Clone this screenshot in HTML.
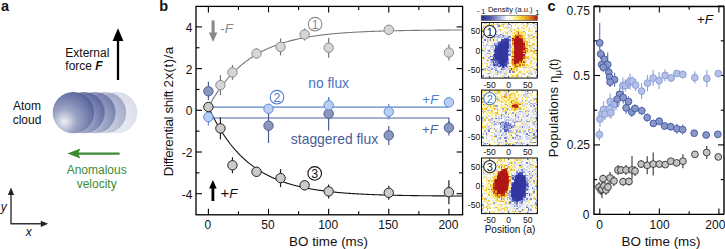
<!DOCTYPE html>
<html><head><meta charset="utf-8"><style>
html,body{margin:0;padding:0;background:#fff;width:725px;height:249px;overflow:hidden;position:relative;font-family:"Liberation Sans", sans-serif;}
</style></head><body>
<svg width="725" height="249" viewBox="0 0 725 249" style="position:absolute;left:0;top:0"><defs><radialGradient id="sph" cx="0.3" cy="0.7" r="0.85" fx="0.28" fy="0.72">
<stop offset="0" stop-color="#f0f0f4"/><stop offset="0.35" stop-color="#9ca4c6"/><stop offset="0.75" stop-color="#6b77a9"/><stop offset="1" stop-color="#4a568c"/></radialGradient><linearGradient id="cbar" x1="0" x2="1" y1="0" y2="0">
<stop offset="0" stop-color="#2a2f8a"/><stop offset="0.15" stop-color="#4a55aa"/><stop offset="0.33" stop-color="#a8b0e0"/><stop offset="0.47" stop-color="#ffffff"/><stop offset="0.55" stop-color="#fff9d0"/><stop offset="0.7" stop-color="#f2d830"/><stop offset="0.85" stop-color="#e08a20"/><stop offset="1" stop-color="#a81810"/></linearGradient></defs><text x="1.00" y="10.80" font-family='"Liberation Sans", sans-serif' font-size="14.5" text-anchor="start" fill="#111" font-weight="bold" font-style="normal" >a</text><text x="159.20" y="10.60" font-family='"Liberation Sans", sans-serif' font-size="14.5" text-anchor="start" fill="#111" font-weight="bold" font-style="normal" >b</text><text x="547.60" y="10.80" font-family='"Liberation Sans", sans-serif' font-size="14.5" text-anchor="start" fill="#111" font-weight="bold" font-style="normal" >c</text><text x="65.30" y="56.60" font-family='"Liberation Sans", sans-serif' font-size="12" text-anchor="start" fill="#111" font-weight="normal" font-style="normal" >External</text><text x="65.30" y="69.60" font-family='"Liberation Sans", sans-serif' font-size="12" text-anchor="start" fill="#111" font-weight="normal" font-style="normal" >force <tspan font-weight="bold" font-style="italic">F</tspan></text><line x1="118" y1="80" x2="118" y2="38" stroke="#000" stroke-width="2.3"/><polygon points="118,28.2 112.6,41 123.4,41" fill="#000"/><text x="27.00" y="109.90" font-family='"Liberation Sans", sans-serif' font-size="12" text-anchor="middle" fill="#111" font-weight="normal" font-style="normal" >Atom</text><text x="27.00" y="124.30" font-family='"Liberation Sans", sans-serif' font-size="12" text-anchor="middle" fill="#111" font-weight="normal" font-style="normal" >cloud</text><circle cx="116.6" cy="112.6" r="20.7" fill="url(#sph)" opacity="0.22"/><circle cx="105.5" cy="112.6" r="20.7" fill="url(#sph)" opacity="0.45"/><circle cx="94.9" cy="112.6" r="20.7" fill="url(#sph)" opacity="0.7"/><circle cx="84.0" cy="112.6" r="20.7" fill="url(#sph)" opacity="0.9"/><circle cx="73.4" cy="112.6" r="20.7" fill="url(#sph)"/><line x1="119.6" y1="153.6" x2="78" y2="153.6" stroke="#3d8a32" stroke-width="2.4"/><polygon points="67.5,153.6 80.3,148.6 78.2,153.6 80.3,158.6" fill="#3d8a32"/><text x="96.70" y="174.00" font-family='"Liberation Sans", sans-serif' font-size="12" text-anchor="middle" fill="#3d8a32" font-weight="normal" font-style="normal" >Anomalous</text><text x="96.70" y="187.60" font-family='"Liberation Sans", sans-serif' font-size="12" text-anchor="middle" fill="#3d8a32" font-weight="normal" font-style="normal" >velocity</text><polyline points="11,194 11,223.8 41.5,223.8" fill="none" stroke="#333" stroke-width="1.4"/><polygon points="11,187.6 7.9,195 14.1,195" fill="#222"/><polygon points="48.2,223.8 40.8,220.7 40.8,226.9" fill="#222"/><text x="0.80" y="211.20" font-family='"Liberation Sans", sans-serif' font-size="12" text-anchor="start" fill="#111" font-weight="normal" font-style="italic" >y</text><text x="25.80" y="236.40" font-family='"Liberation Sans", sans-serif' font-size="12" text-anchor="start" fill="#111" font-weight="normal" font-style="italic" >x</text><line x1="208.40" y1="214.8" x2="208.40" y2="208.8" stroke="#000" stroke-width="1.1"/><line x1="208.40" y1="6.4" x2="208.40" y2="12.4" stroke="#000" stroke-width="1.1"/><line x1="238.46" y1="214.8" x2="238.46" y2="211.3" stroke="#000" stroke-width="1.1"/><line x1="238.46" y1="6.4" x2="238.46" y2="9.9" stroke="#000" stroke-width="1.1"/><line x1="268.52" y1="214.8" x2="268.52" y2="208.8" stroke="#000" stroke-width="1.1"/><line x1="268.52" y1="6.4" x2="268.52" y2="12.4" stroke="#000" stroke-width="1.1"/><line x1="298.59" y1="214.8" x2="298.59" y2="211.3" stroke="#000" stroke-width="1.1"/><line x1="298.59" y1="6.4" x2="298.59" y2="9.9" stroke="#000" stroke-width="1.1"/><line x1="328.65" y1="214.8" x2="328.65" y2="208.8" stroke="#000" stroke-width="1.1"/><line x1="328.65" y1="6.4" x2="328.65" y2="12.4" stroke="#000" stroke-width="1.1"/><line x1="358.71" y1="214.8" x2="358.71" y2="211.3" stroke="#000" stroke-width="1.1"/><line x1="358.71" y1="6.4" x2="358.71" y2="9.9" stroke="#000" stroke-width="1.1"/><line x1="388.77" y1="214.8" x2="388.77" y2="208.8" stroke="#000" stroke-width="1.1"/><line x1="388.77" y1="6.4" x2="388.77" y2="12.4" stroke="#000" stroke-width="1.1"/><line x1="418.84" y1="214.8" x2="418.84" y2="211.3" stroke="#000" stroke-width="1.1"/><line x1="418.84" y1="6.4" x2="418.84" y2="9.9" stroke="#000" stroke-width="1.1"/><line x1="448.90" y1="214.8" x2="448.90" y2="208.8" stroke="#000" stroke-width="1.1"/><line x1="448.90" y1="6.4" x2="448.90" y2="12.4" stroke="#000" stroke-width="1.1"/><line x1="196.0" y1="193.70" x2="202.0" y2="193.70" stroke="#000" stroke-width="1.1"/><line x1="462.6" y1="193.70" x2="456.6" y2="193.70" stroke="#000" stroke-width="1.1"/><line x1="196.0" y1="172.85" x2="199.5" y2="172.85" stroke="#000" stroke-width="1.1"/><line x1="462.6" y1="172.85" x2="459.1" y2="172.85" stroke="#000" stroke-width="1.1"/><line x1="196.0" y1="152.00" x2="202.0" y2="152.00" stroke="#000" stroke-width="1.1"/><line x1="462.6" y1="152.00" x2="456.6" y2="152.00" stroke="#000" stroke-width="1.1"/><line x1="196.0" y1="131.15" x2="199.5" y2="131.15" stroke="#000" stroke-width="1.1"/><line x1="462.6" y1="131.15" x2="459.1" y2="131.15" stroke="#000" stroke-width="1.1"/><line x1="196.0" y1="110.30" x2="202.0" y2="110.30" stroke="#000" stroke-width="1.1"/><line x1="462.6" y1="110.30" x2="456.6" y2="110.30" stroke="#000" stroke-width="1.1"/><line x1="196.0" y1="89.45" x2="199.5" y2="89.45" stroke="#000" stroke-width="1.1"/><line x1="462.6" y1="89.45" x2="459.1" y2="89.45" stroke="#000" stroke-width="1.1"/><line x1="196.0" y1="68.60" x2="202.0" y2="68.60" stroke="#000" stroke-width="1.1"/><line x1="462.6" y1="68.60" x2="456.6" y2="68.60" stroke="#000" stroke-width="1.1"/><line x1="196.0" y1="47.75" x2="199.5" y2="47.75" stroke="#000" stroke-width="1.1"/><line x1="462.6" y1="47.75" x2="459.1" y2="47.75" stroke="#000" stroke-width="1.1"/><line x1="196.0" y1="26.90" x2="202.0" y2="26.90" stroke="#000" stroke-width="1.1"/><line x1="462.6" y1="26.90" x2="456.6" y2="26.90" stroke="#000" stroke-width="1.1"/><text x="207.90" y="229.20" font-family='"Liberation Sans", sans-serif' font-size="12" text-anchor="middle" fill="#111" font-weight="normal" font-style="normal" >0</text><text x="268.02" y="229.20" font-family='"Liberation Sans", sans-serif' font-size="12" text-anchor="middle" fill="#111" font-weight="normal" font-style="normal" >50</text><text x="328.15" y="229.20" font-family='"Liberation Sans", sans-serif' font-size="12" text-anchor="middle" fill="#111" font-weight="normal" font-style="normal" >100</text><text x="388.27" y="229.20" font-family='"Liberation Sans", sans-serif' font-size="12" text-anchor="middle" fill="#111" font-weight="normal" font-style="normal" >150</text><text x="448.40" y="229.20" font-family='"Liberation Sans", sans-serif' font-size="12" text-anchor="middle" fill="#111" font-weight="normal" font-style="normal" >200</text><text x="192.50" y="31.90" font-family='"Liberation Sans", sans-serif' font-size="12" text-anchor="end" fill="#111" font-weight="normal" font-style="normal" >4</text><text x="192.50" y="73.60" font-family='"Liberation Sans", sans-serif' font-size="12" text-anchor="end" fill="#111" font-weight="normal" font-style="normal" >2</text><text x="192.50" y="115.30" font-family='"Liberation Sans", sans-serif' font-size="12" text-anchor="end" fill="#111" font-weight="normal" font-style="normal" >0</text><text x="192.50" y="157.00" font-family='"Liberation Sans", sans-serif' font-size="12" text-anchor="end" fill="#111" font-weight="normal" font-style="normal" >-2</text><text x="192.50" y="198.70" font-family='"Liberation Sans", sans-serif' font-size="12" text-anchor="end" fill="#111" font-weight="normal" font-style="normal" >-4</text><text x="328.50" y="245.80" font-family='"Liberation Sans", sans-serif' font-size="13.4" text-anchor="middle" fill="#111" font-weight="normal" font-style="normal" >BO time (ms)</text><text transform="translate(173.0,111.3) rotate(-90)" font-family='"Liberation Sans", sans-serif' font-size="13.4" text-anchor="middle" fill="#111"><tspan letter-spacing="-0.37">Differential shift </tspan><tspan letter-spacing="0.45">2x(t)/a</tspan></text><polyline points="208.40,106.96 209.40,105.16 210.39,103.39 211.39,101.67 212.39,99.99 213.38,98.35 214.38,96.74 215.38,95.18 216.37,93.65 217.37,92.15 218.37,90.69 219.37,89.27 220.36,87.88 221.36,86.52 222.36,85.19 223.35,83.90 224.35,82.63 225.35,81.39 226.34,80.19 227.34,79.01 228.34,77.86 229.33,76.73 230.33,75.63 231.33,74.56 232.32,73.51 233.32,72.49 234.32,71.49 235.32,70.52 236.31,69.56 237.31,68.63 238.31,67.73 239.30,66.84 240.30,65.97 241.30,65.13 242.29,64.30 243.29,63.49 244.29,62.70 245.28,61.93 246.28,61.18 247.28,60.45 248.27,59.73 249.27,59.03 250.27,58.35 251.27,57.68 252.26,57.03 253.26,56.39 254.26,55.77 255.25,55.16 256.25,54.57 257.25,53.99 258.24,53.42 259.24,52.87 260.24,52.33 261.23,51.80 262.23,51.29 263.23,50.79 264.22,50.30 265.22,49.82 266.22,49.35 267.21,48.89 268.21,48.44 269.21,48.01 270.21,47.58 271.20,47.17 272.20,46.76 273.20,46.36 274.19,45.98 275.19,45.60 276.19,45.23 277.18,44.87 278.18,44.52 279.18,44.17 280.17,43.84 281.17,43.51 282.17,43.19 283.16,42.88 284.16,42.57 285.16,42.27 286.16,41.98 287.15,41.70 288.15,41.42 289.15,41.15 290.14,40.88 291.14,40.62 292.14,40.37 293.13,40.12 294.13,39.88 295.13,39.65 296.12,39.42 297.12,39.19 298.12,38.97 299.11,38.76 300.11,38.55 301.11,38.34 302.11,38.14 303.10,37.95 304.10,37.76 305.10,37.57 306.09,37.39 307.09,37.21 308.09,37.04 309.08,36.87 310.08,36.71 311.08,36.55 312.07,36.39 313.07,36.23 314.07,36.08 315.06,35.94 316.06,35.79 317.06,35.65 318.05,35.52 319.05,35.38 320.05,35.25 321.05,35.13 322.04,35.00 323.04,34.88 324.04,34.76 325.03,34.65 326.03,34.53 327.03,34.42 328.02,34.32 329.02,34.21 330.02,34.11 331.01,34.01 332.01,33.91 333.01,33.81 334.00,33.72 335.00,33.63 336.00,33.54 337.00,33.45 337.99,33.37 338.99,33.28 339.99,33.20 340.98,33.12 341.98,33.05 342.98,32.97 343.97,32.90 344.97,32.83 345.97,32.76 346.96,32.69 347.96,32.62 348.96,32.55 349.95,32.49 350.95,32.43 351.95,32.37 352.95,32.31 353.94,32.25 354.94,32.19 355.94,32.14 356.93,32.08 357.93,32.03 358.93,31.98 359.92,31.93 360.92,31.88 361.92,31.83 362.91,31.78 363.91,31.74 364.91,31.69 365.90,31.65 366.90,31.60 367.90,31.56 368.89,31.52 369.89,31.48 370.89,31.44 371.89,31.41 372.88,31.37 373.88,31.33 374.88,31.30 375.87,31.26 376.87,31.23 377.87,31.19 378.86,31.16 379.86,31.13 380.86,31.10 381.85,31.07 382.85,31.04 383.85,31.01 384.84,30.98 385.84,30.96 386.84,30.93 387.84,30.90 388.83,30.88 389.83,30.85 390.83,30.83 391.82,30.81 392.82,30.78 393.82,30.76 394.81,30.74 395.81,30.72 396.81,30.70 397.80,30.68 398.80,30.66 399.80,30.64 400.79,30.62 401.79,30.60 402.79,30.58 403.79,30.56 404.78,30.54 405.78,30.53 406.78,30.51 407.77,30.50 408.77,30.48 409.77,30.46 410.76,30.45 411.76,30.43 412.76,30.42 413.75,30.41 414.75,30.39 415.75,30.38 416.74,30.37 417.74,30.35 418.74,30.34 419.73,30.33 420.73,30.32 421.73,30.30 422.73,30.29 423.72,30.28 424.72,30.27 425.72,30.26 426.71,30.25 427.71,30.24 428.71,30.23 429.70,30.22 430.70,30.21 431.70,30.20 432.69,30.19 433.69,30.18 434.69,30.18 435.68,30.17 436.68,30.16 437.68,30.15 438.68,30.14 439.67,30.14 440.67,30.13 441.67,30.12 442.66,30.11 443.66,30.11 444.66,30.10 445.65,30.09 446.65,30.09 447.65,30.08 448.64,30.08 449.64,30.07 450.64,30.06 451.63,30.06 452.63,30.05 453.63,30.05 454.63,30.04 455.62,30.04 456.62,30.03 457.62,30.03 458.61,30.02 459.61,30.02 460.61,30.01 461.60,30.01 462.60,30.00" fill="none" stroke="#7a7a7a" stroke-width="1.1"/><polyline points="208.40,106.96 209.40,109.11 210.39,111.21 211.39,113.26 212.39,115.26 213.38,117.21 214.38,119.11 215.38,120.97 216.37,122.78 217.37,124.55 218.37,126.27 219.37,127.96 220.36,129.60 221.36,131.21 222.36,132.77 223.35,134.30 224.35,135.79 225.35,137.24 226.34,138.66 227.34,140.05 228.34,141.40 229.33,142.72 230.33,144.01 231.33,145.27 232.32,146.50 233.32,147.69 234.32,148.86 235.32,150.00 236.31,151.11 237.31,152.20 238.31,153.26 239.30,154.29 240.30,155.30 241.30,156.29 242.29,157.25 243.29,158.19 244.29,159.10 245.28,160.00 246.28,160.87 247.28,161.72 248.27,162.55 249.27,163.36 250.27,164.15 251.27,164.93 252.26,165.68 253.26,166.41 254.26,167.13 255.25,167.83 256.25,168.51 257.25,169.18 258.24,169.83 259.24,170.47 260.24,171.09 261.23,171.69 262.23,172.28 263.23,172.86 264.22,173.42 265.22,173.97 266.22,174.51 267.21,175.03 268.21,175.54 269.21,176.04 270.21,176.52 271.20,177.00 272.20,177.46 273.20,177.91 274.19,178.35 275.19,178.78 276.19,179.20 277.18,179.61 278.18,180.01 279.18,180.40 280.17,180.78 281.17,181.15 282.17,181.51 283.16,181.87 284.16,182.21 285.16,182.55 286.16,182.88 287.15,183.20 288.15,183.51 289.15,183.82 290.14,184.12 291.14,184.41 292.14,184.69 293.13,184.97 294.13,185.24 295.13,185.50 296.12,185.76 297.12,186.01 298.12,186.26 299.11,186.50 300.11,186.73 301.11,186.96 302.11,187.18 303.10,187.40 304.10,187.61 305.10,187.82 306.09,188.02 307.09,188.22 308.09,188.41 309.08,188.60 310.08,188.78 311.08,188.96 312.07,189.13 313.07,189.30 314.07,189.47 315.06,189.63 316.06,189.79 317.06,189.95 318.05,190.10 319.05,190.24 320.05,190.39 321.05,190.53 322.04,190.66 323.04,190.80 324.04,190.93 325.03,191.05 326.03,191.18 327.03,191.30 328.02,191.42 329.02,191.53 330.02,191.64 331.01,191.75 332.01,191.86 333.01,191.97 334.00,192.07 335.00,192.17 336.00,192.27 337.00,192.36 337.99,192.45 338.99,192.54 339.99,192.63 340.98,192.72 341.98,192.80 342.98,192.88 343.97,192.96 344.97,193.04 345.97,193.12 346.96,193.19 347.96,193.26 348.96,193.33 349.95,193.40 350.95,193.47 351.95,193.54 352.95,193.60 353.94,193.66 354.94,193.72 355.94,193.78 356.93,193.84 357.93,193.90 358.93,193.95 359.92,194.01 360.92,194.06 361.92,194.11 362.91,194.16 363.91,194.21 364.91,194.26 365.90,194.31 366.90,194.35 367.90,194.40 368.89,194.44 369.89,194.48 370.89,194.52 371.89,194.57 372.88,194.60 373.88,194.64 374.88,194.68 375.87,194.72 376.87,194.75 377.87,194.79 378.86,194.82 379.86,194.86 380.86,194.89 381.85,194.92 382.85,194.95 383.85,194.98 384.84,195.01 385.84,195.04 386.84,195.07 387.84,195.09 388.83,195.12 389.83,195.15 390.83,195.17 391.82,195.20 392.82,195.22 393.82,195.24 394.81,195.27 395.81,195.29 396.81,195.31 397.80,195.33 398.80,195.35 399.80,195.38 400.79,195.40 401.79,195.41 402.79,195.43 403.79,195.45 404.78,195.47 405.78,195.49 406.78,195.50 407.77,195.52 408.77,195.54 409.77,195.55 410.76,195.57 411.76,195.58 412.76,195.60 413.75,195.61 414.75,195.63 415.75,195.64 416.74,195.66 417.74,195.67 418.74,195.68 419.73,195.69 420.73,195.71 421.73,195.72 422.73,195.73 423.72,195.74 424.72,195.75 425.72,195.76 426.71,195.77 427.71,195.78 428.71,195.79 429.70,195.80 430.70,195.81 431.70,195.82 432.69,195.83 433.69,195.84 434.69,195.85 435.68,195.86 436.68,195.87 437.68,195.87 438.68,195.88 439.67,195.89 440.67,195.90 441.67,195.91 442.66,195.91 443.66,195.92 444.66,195.93 445.65,195.93 446.65,195.94 447.65,195.95 448.64,195.95 449.64,195.96 450.64,195.96 451.63,195.97 452.63,195.97 453.63,195.98 454.63,195.99 455.62,195.99 456.62,196.00 457.62,196.00 458.61,196.01 459.61,196.01 460.61,196.02 461.60,196.02 462.60,196.02" fill="none" stroke="#111" stroke-width="1.1"/><polyline points="208.4,107.2 448.4,107.2" fill="none" stroke="#5b86cc" stroke-width="1.2"/><polyline points="208.4,118.0 448.9,118.0 448.9,124" fill="none" stroke="#4b64a0" stroke-width="1.2"/><line x1="208.40" y1="81.70" x2="208.40" y2="100.00" stroke="#4a5b90" stroke-width="1.2"/><circle cx="208.40" cy="91.30" r="4.7" fill="#8a98bf" stroke="#4a5b90" stroke-width="1.0"/><line x1="268.52" y1="111.70" x2="268.52" y2="143.00" stroke="#4a5b90" stroke-width="1.2"/><circle cx="268.52" cy="125.70" r="4.7" fill="#8a98bf" stroke="#4a5b90" stroke-width="1.0"/><line x1="328.65" y1="97.40" x2="328.65" y2="130.60" stroke="#4a5b90" stroke-width="1.2"/><circle cx="328.65" cy="113.70" r="4.7" fill="#8a98bf" stroke="#4a5b90" stroke-width="1.0"/><line x1="388.77" y1="126.10" x2="388.77" y2="145.00" stroke="#4a5b90" stroke-width="1.2"/><circle cx="388.77" cy="135.30" r="4.7" fill="#8a98bf" stroke="#4a5b90" stroke-width="1.0"/><line x1="448.90" y1="121.00" x2="448.90" y2="135.60" stroke="#4a5b90" stroke-width="1.2"/><circle cx="448.90" cy="127.70" r="4.7" fill="#8a98bf" stroke="#4a5b90" stroke-width="1.0"/><line x1="208.40" y1="117.10" x2="208.40" y2="125.50" stroke="#5a8ad8" stroke-width="1.2"/><circle cx="208.40" cy="117.10" r="4.7" fill="#b9d0f2" stroke="#5a8ad8" stroke-width="1.0"/><circle cx="268.52" cy="108.80" r="4.7" fill="#b9d0f2" stroke="#5a8ad8" stroke-width="1.0"/><line x1="328.65" y1="96.90" x2="328.65" y2="105.30" stroke="#5a8ad8" stroke-width="1.2"/><circle cx="328.65" cy="105.30" r="4.7" fill="#b9d0f2" stroke="#5a8ad8" stroke-width="1.0"/><line x1="388.77" y1="104.00" x2="388.77" y2="119.40" stroke="#5a8ad8" stroke-width="1.2"/><circle cx="388.77" cy="111.70" r="4.7" fill="#b9d0f2" stroke="#5a8ad8" stroke-width="1.0"/><circle cx="448.90" cy="102.30" r="4.7" fill="#b9d0f2" stroke="#5a8ad8" stroke-width="1.0"/><line x1="220.43" y1="75.10" x2="220.43" y2="95.10" stroke="#777" stroke-width="1.2"/><circle cx="220.43" cy="85.10" r="4.7" fill="#d6d6d6" stroke="#8a8a8a" stroke-width="1.0"/><line x1="232.45" y1="64.90" x2="232.45" y2="79.90" stroke="#777" stroke-width="1.2"/><circle cx="232.45" cy="72.40" r="4.7" fill="#d6d6d6" stroke="#8a8a8a" stroke-width="1.0"/><line x1="256.50" y1="48.50" x2="256.50" y2="58.50" stroke="#777" stroke-width="1.2"/><circle cx="256.50" cy="53.50" r="4.7" fill="#d6d6d6" stroke="#8a8a8a" stroke-width="1.0"/><line x1="280.55" y1="38.40" x2="280.55" y2="55.40" stroke="#777" stroke-width="1.2"/><circle cx="280.55" cy="46.90" r="4.7" fill="#d6d6d6" stroke="#8a8a8a" stroke-width="1.0"/><line x1="304.60" y1="28.50" x2="304.60" y2="40.50" stroke="#777" stroke-width="1.2"/><circle cx="304.60" cy="34.50" r="4.7" fill="#d6d6d6" stroke="#8a8a8a" stroke-width="1.0"/><line x1="328.65" y1="37.70" x2="328.65" y2="57.70" stroke="#777" stroke-width="1.2"/><circle cx="328.65" cy="47.70" r="4.7" fill="#d6d6d6" stroke="#8a8a8a" stroke-width="1.0"/><line x1="388.77" y1="27.80" x2="388.77" y2="31.80" stroke="#777" stroke-width="1.2"/><circle cx="388.77" cy="29.80" r="4.7" fill="#d6d6d6" stroke="#8a8a8a" stroke-width="1.0"/><line x1="448.90" y1="44.60" x2="448.90" y2="60.60" stroke="#777" stroke-width="1.2"/><circle cx="448.90" cy="52.60" r="4.7" fill="#d6d6d6" stroke="#8a8a8a" stroke-width="1.0"/><circle cx="208.40" cy="107.00" r="4.7" fill="#cbcbcb" stroke="#222" stroke-width="1.0"/><line x1="220.43" y1="117.40" x2="220.43" y2="139.40" stroke="#222" stroke-width="1.2"/><circle cx="220.43" cy="128.40" r="4.7" fill="#cbcbcb" stroke="#222" stroke-width="1.0"/><line x1="232.45" y1="157.30" x2="232.45" y2="173.30" stroke="#222" stroke-width="1.2"/><circle cx="232.45" cy="165.30" r="4.7" fill="#cbcbcb" stroke="#222" stroke-width="1.0"/><line x1="256.50" y1="166.80" x2="256.50" y2="176.80" stroke="#222" stroke-width="1.2"/><circle cx="256.50" cy="171.80" r="4.7" fill="#cbcbcb" stroke="#222" stroke-width="1.0"/><line x1="280.55" y1="169.10" x2="280.55" y2="187.10" stroke="#222" stroke-width="1.2"/><circle cx="280.55" cy="178.10" r="4.7" fill="#cbcbcb" stroke="#222" stroke-width="1.0"/><line x1="304.60" y1="180.30" x2="304.60" y2="190.30" stroke="#222" stroke-width="1.2"/><circle cx="304.60" cy="185.30" r="4.7" fill="#cbcbcb" stroke="#222" stroke-width="1.0"/><line x1="328.65" y1="184.40" x2="328.65" y2="198.40" stroke="#222" stroke-width="1.2"/><circle cx="328.65" cy="191.40" r="4.7" fill="#cbcbcb" stroke="#222" stroke-width="1.0"/><line x1="388.77" y1="185.80" x2="388.77" y2="199.80" stroke="#222" stroke-width="1.2"/><circle cx="388.77" cy="192.80" r="4.7" fill="#cbcbcb" stroke="#222" stroke-width="1.0"/><line x1="448.90" y1="180.20" x2="448.90" y2="204.20" stroke="#222" stroke-width="1.2"/><circle cx="448.90" cy="192.20" r="4.7" fill="#cbcbcb" stroke="#222" stroke-width="1.0"/><circle cx="315.1" cy="24.2" r="6.8" fill="none" stroke="#8a8a8a" stroke-width="1.1"/><text x="315.10" y="28.70" font-family='"Liberation Sans", sans-serif' font-size="12.4" text-anchor="middle" fill="#8a8a8a" font-weight="normal" font-style="normal" >1</text><circle cx="277" cy="97.2" r="6.8" fill="none" stroke="#4a7fd0" stroke-width="1.1"/><text x="277.00" y="101.70" font-family='"Liberation Sans", sans-serif' font-size="12.4" text-anchor="middle" fill="#4a7fd0" font-weight="normal" font-style="normal" >2</text><circle cx="314.7" cy="173.4" r="6.8" fill="none" stroke="#111" stroke-width="1.1"/><text x="314.70" y="177.90" font-family='"Liberation Sans", sans-serif' font-size="12.4" text-anchor="middle" fill="#111" font-weight="normal" font-style="normal" >3</text><text x="328.70" y="88.40" font-family='"Liberation Sans", sans-serif' font-size="13.8" text-anchor="middle" fill="#4a72c0" font-weight="normal" font-style="normal" >no flux</text><text x="334.50" y="144.10" font-family='"Liberation Sans", sans-serif' font-size="13.9" text-anchor="middle" fill="#4a5d96" font-weight="normal" font-style="normal" >staggered flux</text><text x="422.30" y="104.30" font-family='"Liberation Sans", sans-serif' font-size="13.4" text-anchor="start" fill="#4a7fd0" font-weight="normal" font-style="normal" >+<tspan font-style="italic">F</tspan></text><text x="422.00" y="133.60" font-family='"Liberation Sans", sans-serif' font-size="13.4" text-anchor="start" fill="#4b5f9a" font-weight="normal" font-style="normal" >+<tspan font-style="italic">F</tspan></text><line x1="213.1" y1="20.4" x2="213.1" y2="34" stroke="#888" stroke-width="3"/><polygon points="213.1,42.1 208.9,32.5 217.3,32.5" fill="#888"/><text x="220.30" y="33.20" font-family='"Liberation Sans", sans-serif' font-size="13.4" text-anchor="start" fill="#888" font-weight="normal" font-style="normal" >-<tspan font-style="italic">F</tspan></text><line x1="212.9" y1="201" x2="212.9" y2="187" stroke="#000" stroke-width="2.8"/><polygon points="212.9,180 209.1,188.4 216.7,188.4" fill="#000"/><text x="220.60" y="198.40" font-family='"Liberation Sans", sans-serif' font-size="13.4" text-anchor="start" fill="#111" font-weight="normal" font-style="normal" ><tspan font-size="15">+</tspan><tspan font-style="italic">F</tspan></text><rect x="196.0" y="6.4" width="266.60" height="208.40" fill="none" stroke="#000" stroke-width="1.3"/><rect x="481.5" y="22.5" width="55.90" height="55.6" fill="#fff"/><g shape-rendering="crispEdges"><rect x="481.50" y="22.50" width="1.40" height="1.39" fill="#fcf0a3"/><rect x="482.90" y="22.50" width="1.40" height="1.39" fill="#fffad9"/><rect x="484.30" y="22.50" width="1.40" height="1.39" fill="#bdc4e9"/><rect x="485.69" y="22.50" width="1.40" height="1.39" fill="#e4e8f7"/><rect x="487.09" y="22.50" width="1.40" height="1.39" fill="#fdf4b3"/><rect x="488.49" y="22.50" width="1.40" height="1.39" fill="#f9fafd"/><rect x="489.88" y="22.50" width="1.40" height="1.39" fill="#fefeff"/><rect x="491.28" y="22.50" width="1.40" height="1.39" fill="#fdf4b4"/><rect x="492.68" y="22.50" width="1.40" height="1.39" fill="#7c86cd"/><rect x="494.08" y="22.50" width="1.40" height="1.39" fill="#fcfdfe"/><rect x="495.48" y="22.50" width="1.40" height="1.39" fill="#fdfdfe"/><rect x="496.87" y="22.50" width="1.40" height="1.39" fill="#a5ade0"/><rect x="498.27" y="22.50" width="1.40" height="1.39" fill="#f9fafd"/><rect x="501.06" y="22.50" width="1.40" height="1.39" fill="#f1f3fb"/><rect x="502.46" y="22.50" width="1.40" height="1.39" fill="#e3e7f7"/><rect x="503.86" y="22.50" width="1.40" height="1.39" fill="#f5df53"/><rect x="505.26" y="22.50" width="1.40" height="1.39" fill="#fef5ba"/><rect x="506.65" y="22.50" width="1.40" height="1.39" fill="#fffef5"/><rect x="508.05" y="22.50" width="1.40" height="1.39" fill="#fffffd"/><rect x="509.45" y="22.50" width="1.40" height="1.39" fill="#fffffc"/><rect x="510.85" y="22.50" width="1.40" height="1.39" fill="#f9e981"/><rect x="512.25" y="22.50" width="1.40" height="1.39" fill="#dee3f6"/><rect x="513.64" y="22.50" width="1.40" height="1.39" fill="#dfe4f6"/><rect x="515.04" y="22.50" width="1.40" height="1.39" fill="#fffef8"/><rect x="516.44" y="22.50" width="1.40" height="1.39" fill="#f6e262"/><rect x="517.84" y="22.50" width="1.40" height="1.39" fill="#f9fafd"/><rect x="519.23" y="22.50" width="1.40" height="1.39" fill="#fefeff"/><rect x="520.63" y="22.50" width="1.40" height="1.39" fill="#e5e9f8"/><rect x="522.03" y="22.50" width="1.40" height="1.39" fill="#c3c9ec"/><rect x="523.42" y="22.50" width="1.40" height="1.39" fill="#fff7c3"/><rect x="524.82" y="22.50" width="1.40" height="1.39" fill="#f7f8fd"/><rect x="526.22" y="22.50" width="1.40" height="1.39" fill="#f9fafd"/><rect x="527.62" y="22.50" width="1.40" height="1.39" fill="#fffef6"/><rect x="529.01" y="22.50" width="1.40" height="1.39" fill="#fffffd"/><rect x="530.41" y="22.50" width="1.40" height="1.39" fill="#fef6be"/><rect x="531.81" y="22.50" width="1.40" height="1.39" fill="#f9e983"/><rect x="533.21" y="22.50" width="1.40" height="1.39" fill="#848ed2"/><rect x="534.61" y="22.50" width="1.40" height="1.39" fill="#fdf3b3"/><rect x="536.00" y="22.50" width="1.40" height="1.39" fill="#edf0fa"/><rect x="481.50" y="23.89" width="1.40" height="1.39" fill="#fffef8"/><rect x="482.90" y="23.89" width="1.40" height="1.39" fill="#fdf2ad"/><rect x="484.30" y="23.89" width="1.40" height="1.39" fill="#fffdee"/><rect x="485.69" y="23.89" width="1.40" height="1.39" fill="#fffce6"/><rect x="487.09" y="23.89" width="1.40" height="1.39" fill="#fffdec"/><rect x="488.49" y="23.89" width="1.40" height="1.39" fill="#f3d43f"/><rect x="489.88" y="23.89" width="1.40" height="1.39" fill="#fff9ce"/><rect x="491.28" y="23.89" width="1.40" height="1.39" fill="#f4dc47"/><rect x="492.68" y="23.89" width="1.40" height="1.39" fill="#d2d7f1"/><rect x="494.08" y="23.89" width="1.40" height="1.39" fill="#f8e572"/><rect x="495.48" y="23.89" width="1.40" height="1.39" fill="#dbe0f5"/><rect x="496.87" y="23.89" width="1.40" height="1.39" fill="#818bd0"/><rect x="498.27" y="23.89" width="1.40" height="1.39" fill="#faea88"/><rect x="499.67" y="23.89" width="1.40" height="1.39" fill="#d8ddf3"/><rect x="501.06" y="23.89" width="1.40" height="1.39" fill="#e1e5f6"/><rect x="502.46" y="23.89" width="1.40" height="1.39" fill="#a9b1e2"/><rect x="503.86" y="23.89" width="1.40" height="1.39" fill="#f7e367"/><rect x="505.26" y="23.89" width="1.40" height="1.39" fill="#fffbe0"/><rect x="506.65" y="23.89" width="1.40" height="1.39" fill="#f3d33f"/><rect x="508.05" y="23.89" width="1.40" height="1.39" fill="#fffdee"/><rect x="509.45" y="23.89" width="1.40" height="1.39" fill="#9ca5dd"/><rect x="510.85" y="23.89" width="1.40" height="1.39" fill="#fbfcfe"/><rect x="512.25" y="23.89" width="1.40" height="1.39" fill="#fffdec"/><rect x="513.64" y="23.89" width="1.40" height="1.39" fill="#fffefa"/><rect x="515.04" y="23.89" width="1.40" height="1.39" fill="#f3d33f"/><rect x="516.44" y="23.89" width="1.40" height="1.39" fill="#fef4b8"/><rect x="517.84" y="23.89" width="2.79" height="1.39" fill="#fffcea"/><rect x="520.63" y="23.89" width="1.40" height="1.39" fill="#f3d642"/><rect x="522.03" y="23.89" width="1.40" height="1.39" fill="#fffef6"/><rect x="523.42" y="23.89" width="1.40" height="1.39" fill="#dce1f5"/><rect x="524.82" y="23.89" width="1.40" height="1.39" fill="#fffef4"/><rect x="526.22" y="23.89" width="1.40" height="1.39" fill="#fffbdd"/><rect x="527.62" y="23.89" width="1.40" height="1.39" fill="#fffcea"/><rect x="529.01" y="23.89" width="1.40" height="1.39" fill="#fdf3af"/><rect x="530.41" y="23.89" width="1.40" height="1.39" fill="#d4d9f2"/><rect x="531.81" y="23.89" width="1.40" height="1.39" fill="#fffad5"/><rect x="533.21" y="23.89" width="1.40" height="1.39" fill="#f8f9fd"/><rect x="534.61" y="23.89" width="1.40" height="1.39" fill="#efbc2c"/><rect x="536.00" y="23.89" width="1.40" height="1.39" fill="#b9c0e8"/><rect x="481.50" y="25.28" width="1.40" height="1.39" fill="#fdfdfe"/><rect x="482.90" y="25.28" width="1.40" height="1.39" fill="#f7e367"/><rect x="484.30" y="25.28" width="1.40" height="1.39" fill="#f9e87c"/><rect x="485.69" y="25.28" width="1.40" height="1.39" fill="#dde1f5"/><rect x="487.09" y="25.28" width="1.40" height="1.39" fill="#f4dd4a"/><rect x="488.49" y="25.28" width="1.40" height="1.39" fill="#f8f9fd"/><rect x="489.88" y="25.28" width="1.40" height="1.39" fill="#fffce5"/><rect x="491.28" y="25.28" width="1.40" height="1.39" fill="#fffef8"/><rect x="492.68" y="25.28" width="1.40" height="1.39" fill="#6871c1"/><rect x="494.08" y="25.28" width="1.40" height="1.39" fill="#fffceb"/><rect x="495.48" y="25.28" width="1.40" height="1.39" fill="#fffffd"/><rect x="496.87" y="25.28" width="1.40" height="1.39" fill="#e2e6f7"/><rect x="498.27" y="25.28" width="1.40" height="1.39" fill="#747dc8"/><rect x="499.67" y="25.28" width="1.40" height="1.39" fill="#f7e368"/><rect x="501.06" y="25.28" width="1.40" height="1.39" fill="#eef0fa"/><rect x="502.46" y="25.28" width="1.40" height="1.39" fill="#f4dd4b"/><rect x="503.86" y="25.28" width="1.40" height="1.39" fill="#f2f4fb"/><rect x="505.26" y="25.28" width="1.40" height="1.39" fill="#eef0fa"/><rect x="506.65" y="25.28" width="1.40" height="1.39" fill="#f9e87f"/><rect x="508.05" y="25.28" width="1.40" height="1.39" fill="#eef1fa"/><rect x="509.45" y="25.28" width="1.40" height="1.39" fill="#f4f5fc"/><rect x="510.85" y="25.28" width="1.40" height="1.39" fill="#abb3e3"/><rect x="512.25" y="25.28" width="1.40" height="1.39" fill="#fffef6"/><rect x="513.64" y="25.28" width="1.40" height="1.39" fill="#fffdf1"/><rect x="515.04" y="25.28" width="1.40" height="1.39" fill="#fef4b7"/><rect x="516.44" y="25.28" width="1.40" height="1.39" fill="#fcfcfe"/><rect x="517.84" y="25.28" width="1.40" height="1.39" fill="#fbee9b"/><rect x="519.23" y="25.28" width="1.40" height="1.39" fill="#fbfcfe"/><rect x="520.63" y="25.28" width="1.40" height="1.39" fill="#fffdf2"/><rect x="522.03" y="25.28" width="1.40" height="1.39" fill="#fffce7"/><rect x="523.42" y="25.28" width="1.40" height="1.39" fill="#faeb8a"/><rect x="524.82" y="25.28" width="1.40" height="1.39" fill="#f2f4fb"/><rect x="526.22" y="25.28" width="1.40" height="1.39" fill="#f6e15f"/><rect x="527.62" y="25.28" width="1.40" height="1.39" fill="#eef1fa"/><rect x="529.01" y="25.28" width="1.40" height="1.39" fill="#fffffb"/><rect x="530.41" y="25.28" width="1.40" height="1.39" fill="#fffdf2"/><rect x="531.81" y="25.28" width="1.40" height="1.39" fill="#fffef6"/><rect x="533.21" y="25.28" width="1.40" height="1.39" fill="#ced4f0"/><rect x="534.61" y="25.28" width="1.40" height="1.39" fill="#fffef9"/><rect x="536.00" y="25.28" width="1.40" height="1.39" fill="#fffdf2"/><rect x="481.50" y="26.67" width="1.40" height="1.39" fill="#f9fafd"/><rect x="482.90" y="26.67" width="1.40" height="1.39" fill="#99a2dc"/><rect x="484.30" y="26.67" width="1.40" height="1.39" fill="#d5daf2"/><rect x="485.69" y="26.67" width="1.40" height="1.39" fill="#7982cb"/><rect x="487.09" y="26.67" width="1.40" height="1.39" fill="#fdfdfe"/><rect x="488.49" y="26.67" width="1.40" height="1.39" fill="#f8f9fd"/><rect x="489.88" y="26.67" width="1.40" height="1.39" fill="#fffef9"/><rect x="491.28" y="26.67" width="1.40" height="1.39" fill="#edf0fa"/><rect x="492.68" y="26.67" width="1.40" height="1.39" fill="#fcfdfe"/><rect x="494.08" y="26.67" width="1.40" height="1.39" fill="#fffdec"/><rect x="495.48" y="26.67" width="1.40" height="1.39" fill="#f5f6fc"/><rect x="496.87" y="26.67" width="1.40" height="1.39" fill="#dfe4f6"/><rect x="498.27" y="26.67" width="1.40" height="1.39" fill="#fdfdfe"/><rect x="499.67" y="26.67" width="1.40" height="1.39" fill="#f4f5fc"/><rect x="501.06" y="26.67" width="1.40" height="1.39" fill="#fffffd"/><rect x="502.46" y="26.67" width="1.40" height="1.39" fill="#fcf0a3"/><rect x="503.86" y="26.67" width="1.40" height="1.39" fill="#f5f7fc"/><rect x="505.26" y="26.67" width="1.40" height="1.39" fill="#f3d440"/><rect x="506.65" y="26.67" width="1.40" height="1.39" fill="#f3f5fc"/><rect x="508.05" y="26.67" width="1.40" height="1.39" fill="#b0b8e5"/><rect x="509.45" y="26.67" width="1.40" height="1.39" fill="#cdd3f0"/><rect x="510.85" y="26.67" width="1.40" height="1.39" fill="#f4dc46"/><rect x="512.25" y="26.67" width="1.40" height="1.39" fill="#fdfdfe"/><rect x="513.64" y="26.67" width="1.40" height="1.39" fill="#fffef3"/><rect x="515.04" y="26.67" width="1.40" height="1.39" fill="#fffdec"/><rect x="516.44" y="26.67" width="1.40" height="1.39" fill="#fffceb"/><rect x="517.84" y="26.67" width="1.40" height="1.39" fill="#c5cbec"/><rect x="519.23" y="26.67" width="1.40" height="1.39" fill="#f6f7fc"/><rect x="520.63" y="26.67" width="1.40" height="1.39" fill="#f2ce3b"/><rect x="522.03" y="26.67" width="1.40" height="1.39" fill="#ced4f0"/><rect x="523.42" y="26.67" width="1.40" height="1.39" fill="#fff8ca"/><rect x="524.82" y="26.67" width="1.40" height="1.39" fill="#fbed97"/><rect x="526.22" y="26.67" width="1.40" height="1.39" fill="#fef4b7"/><rect x="527.62" y="26.67" width="1.40" height="1.39" fill="#fffbde"/><rect x="529.01" y="26.67" width="1.40" height="1.39" fill="#f5df52"/><rect x="530.41" y="26.67" width="1.40" height="1.39" fill="#fffef9"/><rect x="531.81" y="26.67" width="1.40" height="1.39" fill="#f4f6fc"/><rect x="534.61" y="26.67" width="1.40" height="1.39" fill="#f9e880"/><rect x="536.00" y="26.67" width="1.40" height="1.39" fill="#fffbe3"/><rect x="481.50" y="28.06" width="1.40" height="1.39" fill="#fffbde"/><rect x="482.90" y="28.06" width="1.40" height="1.39" fill="#fff8ca"/><rect x="484.30" y="28.06" width="1.40" height="1.39" fill="#d6dbf3"/><rect x="485.69" y="28.06" width="1.40" height="1.39" fill="#f7e365"/><rect x="487.09" y="28.06" width="1.40" height="1.39" fill="#f5f6fc"/><rect x="488.49" y="28.06" width="1.40" height="1.39" fill="#f7e366"/><rect x="489.88" y="28.06" width="1.40" height="1.39" fill="#d7dcf3"/><rect x="491.28" y="28.06" width="1.40" height="1.39" fill="#fafafd"/><rect x="492.68" y="28.06" width="1.40" height="1.39" fill="#fdfdfe"/><rect x="494.08" y="28.06" width="1.40" height="1.39" fill="#fff8cb"/><rect x="495.48" y="28.06" width="1.40" height="1.39" fill="#fff9d2"/><rect x="496.87" y="28.06" width="1.40" height="1.39" fill="#fffbe2"/><rect x="498.27" y="28.06" width="1.40" height="1.39" fill="#f8f9fd"/><rect x="499.67" y="28.06" width="1.40" height="1.39" fill="#f0f2fb"/><rect x="501.06" y="28.06" width="1.40" height="1.39" fill="#fffefb"/><rect x="502.46" y="28.06" width="1.40" height="1.39" fill="#fffdee"/><rect x="503.86" y="28.06" width="1.40" height="1.39" fill="#f6e058"/><rect x="505.26" y="28.06" width="1.40" height="1.39" fill="#f0f2fb"/><rect x="506.65" y="28.06" width="1.40" height="1.39" fill="#f3d440"/><rect x="508.05" y="28.06" width="1.40" height="1.39" fill="#fffded"/><rect x="509.45" y="28.06" width="1.40" height="1.39" fill="#e5e9f8"/><rect x="510.85" y="28.06" width="1.40" height="1.39" fill="#dfe4f6"/><rect x="512.25" y="28.06" width="1.40" height="1.39" fill="#f3f5fc"/><rect x="513.64" y="28.06" width="1.40" height="1.39" fill="#e7eaf8"/><rect x="515.04" y="28.06" width="1.40" height="1.39" fill="#fffce5"/><rect x="516.44" y="28.06" width="1.40" height="1.39" fill="#f6e05b"/><rect x="517.84" y="28.06" width="1.40" height="1.39" fill="#a3ace0"/><rect x="519.23" y="28.06" width="1.40" height="1.39" fill="#fcf1a7"/><rect x="520.63" y="28.06" width="1.40" height="1.39" fill="#fffdec"/><rect x="522.03" y="28.06" width="1.40" height="1.39" fill="#fef6bd"/><rect x="523.42" y="28.06" width="1.40" height="1.39" fill="#f1cc39"/><rect x="524.82" y="28.06" width="1.40" height="1.39" fill="#fefeff"/><rect x="526.22" y="28.06" width="1.40" height="1.39" fill="#f6f7fc"/><rect x="527.62" y="28.06" width="1.40" height="1.39" fill="#eceffa"/><rect x="529.01" y="28.06" width="1.40" height="1.39" fill="#f5df53"/><rect x="530.41" y="28.06" width="1.40" height="1.39" fill="#fff8ca"/><rect x="531.81" y="28.06" width="1.40" height="1.39" fill="#fffad5"/><rect x="533.21" y="28.06" width="1.40" height="1.39" fill="#fffbdc"/><rect x="534.61" y="28.06" width="1.40" height="1.39" fill="#f6e263"/><rect x="536.00" y="28.06" width="1.40" height="1.39" fill="#fbef9f"/><rect x="481.50" y="29.45" width="1.40" height="1.39" fill="#f2cf3b"/><rect x="482.90" y="29.45" width="1.40" height="1.39" fill="#f6e058"/><rect x="484.30" y="29.45" width="1.40" height="1.39" fill="#f4f5fc"/><rect x="485.69" y="29.45" width="1.40" height="1.39" fill="#fef6c1"/><rect x="487.09" y="29.45" width="1.40" height="1.39" fill="#f6f7fc"/><rect x="488.49" y="29.45" width="1.40" height="1.39" fill="#e5e9f8"/><rect x="489.88" y="29.45" width="1.40" height="1.39" fill="#a4ade0"/><rect x="491.28" y="29.45" width="1.40" height="1.39" fill="#dfe3f6"/><rect x="492.68" y="29.45" width="1.40" height="1.39" fill="#c2c8eb"/><rect x="494.08" y="29.45" width="1.40" height="1.39" fill="#f2cf3c"/><rect x="495.48" y="29.45" width="1.40" height="1.39" fill="#f8f9fd"/><rect x="496.87" y="29.45" width="1.40" height="1.39" fill="#fffadb"/><rect x="498.27" y="29.45" width="1.40" height="1.39" fill="#dbe0f5"/><rect x="499.67" y="29.45" width="1.40" height="1.39" fill="#f3d541"/><rect x="501.06" y="29.45" width="1.40" height="1.39" fill="#fffcea"/><rect x="502.46" y="29.45" width="1.40" height="1.39" fill="#fff8c9"/><rect x="503.86" y="29.45" width="1.40" height="1.39" fill="#fafbfe"/><rect x="505.26" y="29.45" width="1.40" height="1.39" fill="#fffce6"/><rect x="506.65" y="29.45" width="1.40" height="1.39" fill="#fffdf0"/><rect x="508.05" y="29.45" width="1.40" height="1.39" fill="#f9fafd"/><rect x="509.45" y="29.45" width="1.40" height="1.39" fill="#f6e15d"/><rect x="510.85" y="29.45" width="1.40" height="1.39" fill="#f8e779"/><rect x="512.25" y="29.45" width="1.40" height="1.39" fill="#fdf3b1"/><rect x="513.64" y="29.45" width="1.40" height="1.39" fill="#f2cd3a"/><rect x="515.04" y="29.45" width="1.40" height="1.39" fill="#fbee98"/><rect x="516.44" y="29.45" width="1.40" height="1.39" fill="#f0f2fb"/><rect x="517.84" y="29.45" width="1.40" height="1.39" fill="#f5dd4c"/><rect x="519.23" y="29.45" width="1.40" height="1.39" fill="#fffad9"/><rect x="520.63" y="29.45" width="1.40" height="1.39" fill="#fffce6"/><rect x="522.03" y="29.45" width="1.40" height="1.39" fill="#f8e779"/><rect x="523.42" y="29.45" width="1.40" height="1.39" fill="#fffdf1"/><rect x="524.82" y="29.45" width="1.40" height="1.39" fill="#fffbde"/><rect x="526.22" y="29.45" width="1.40" height="1.39" fill="#fff8c9"/><rect x="527.62" y="29.45" width="1.40" height="1.39" fill="#faeb8a"/><rect x="529.01" y="29.45" width="1.40" height="1.39" fill="#f4dd49"/><rect x="530.41" y="29.45" width="1.40" height="1.39" fill="#fffbe2"/><rect x="531.81" y="29.45" width="1.40" height="1.39" fill="#e1e5f6"/><rect x="533.21" y="29.45" width="1.40" height="1.39" fill="#fffef8"/><rect x="534.61" y="29.45" width="1.40" height="1.39" fill="#e1e5f6"/><rect x="536.00" y="29.45" width="1.40" height="1.39" fill="#f6f7fc"/><rect x="481.50" y="30.84" width="1.40" height="1.39" fill="#fdf4b5"/><rect x="482.90" y="30.84" width="1.40" height="1.39" fill="#929bd9"/><rect x="484.30" y="30.84" width="1.40" height="1.39" fill="#f0c433"/><rect x="485.69" y="30.84" width="1.40" height="1.39" fill="#fff9d0"/><rect x="487.09" y="30.84" width="1.40" height="1.39" fill="#fffce5"/><rect x="488.49" y="30.84" width="1.40" height="1.39" fill="#eaedf9"/><rect x="489.88" y="30.84" width="1.40" height="1.39" fill="#f0c634"/><rect x="491.28" y="30.84" width="1.40" height="1.39" fill="#848dd2"/><rect x="492.68" y="30.84" width="1.40" height="1.39" fill="#f5f6fc"/><rect x="494.08" y="30.84" width="1.40" height="1.39" fill="#e3e7f7"/><rect x="495.48" y="30.84" width="1.40" height="1.39" fill="#e7eaf8"/><rect x="496.87" y="30.84" width="1.40" height="1.39" fill="#f4db45"/><rect x="498.27" y="30.84" width="1.40" height="1.39" fill="#eff2fb"/><rect x="499.67" y="30.84" width="1.40" height="1.39" fill="#c6cded"/><rect x="501.06" y="30.84" width="1.40" height="1.39" fill="#fffbdf"/><rect x="502.46" y="30.84" width="1.40" height="1.39" fill="#fdfdfe"/><rect x="503.86" y="30.84" width="1.40" height="1.39" fill="#f7e56e"/><rect x="505.26" y="30.84" width="1.40" height="1.39" fill="#f0f2fb"/><rect x="506.65" y="30.84" width="1.40" height="1.39" fill="#fffbe3"/><rect x="508.05" y="30.84" width="1.40" height="1.39" fill="#bdc4ea"/><rect x="509.45" y="30.84" width="1.40" height="1.39" fill="#ebeef9"/><rect x="510.85" y="30.84" width="1.40" height="1.39" fill="#98a1dc"/><rect x="512.25" y="30.84" width="1.40" height="1.39" fill="#fffadc"/><rect x="513.64" y="30.84" width="1.40" height="1.39" fill="#fffdef"/><rect x="515.04" y="30.84" width="1.40" height="1.39" fill="#fffef5"/><rect x="516.44" y="30.84" width="1.40" height="1.39" fill="#edb224"/><rect x="517.84" y="30.84" width="1.40" height="1.39" fill="#f2d23e"/><rect x="519.23" y="30.84" width="1.40" height="1.39" fill="#f7e46c"/><rect x="520.63" y="30.84" width="1.40" height="1.39" fill="#f9e87f"/><rect x="522.03" y="30.84" width="1.40" height="1.39" fill="#fcf1a7"/><rect x="523.42" y="30.84" width="1.40" height="1.39" fill="#a5ade0"/><rect x="524.82" y="30.84" width="1.40" height="1.39" fill="#fffce5"/><rect x="526.22" y="30.84" width="1.40" height="1.39" fill="#fffdee"/><rect x="527.62" y="30.84" width="1.40" height="1.39" fill="#f2cf3c"/><rect x="529.01" y="30.84" width="1.40" height="1.39" fill="#fffbdf"/><rect x="530.41" y="30.84" width="1.40" height="1.39" fill="#f3d641"/><rect x="531.81" y="30.84" width="1.40" height="1.39" fill="#fffdf2"/><rect x="533.21" y="30.84" width="1.40" height="1.39" fill="#fffbde"/><rect x="534.61" y="30.84" width="1.40" height="1.39" fill="#ebeef9"/><rect x="536.00" y="30.84" width="1.40" height="1.39" fill="#fff9cf"/><rect x="481.50" y="32.23" width="1.40" height="1.39" fill="#fffbde"/><rect x="482.90" y="32.23" width="1.40" height="1.39" fill="#fffffc"/><rect x="484.30" y="32.23" width="1.40" height="1.39" fill="#f2d13d"/><rect x="485.69" y="32.23" width="1.40" height="1.39" fill="#f8e77a"/><rect x="487.09" y="32.23" width="1.40" height="1.39" fill="#fffbdf"/><rect x="488.49" y="32.23" width="1.40" height="1.39" fill="#fffdec"/><rect x="489.88" y="32.23" width="1.40" height="1.39" fill="#c1c8eb"/><rect x="491.28" y="32.23" width="1.40" height="1.39" fill="#dfe4f6"/><rect x="492.68" y="32.23" width="1.40" height="1.39" fill="#a4ace0"/><rect x="494.08" y="32.23" width="1.40" height="1.39" fill="#f7e469"/><rect x="495.48" y="32.23" width="1.40" height="1.39" fill="#f0f2fb"/><rect x="496.87" y="32.23" width="1.40" height="1.39" fill="#f1f3fb"/><rect x="498.27" y="32.23" width="1.40" height="1.39" fill="#fffdef"/><rect x="499.67" y="32.23" width="1.40" height="1.39" fill="#fafbfe"/><rect x="501.06" y="32.23" width="1.40" height="1.39" fill="#fffdf2"/><rect x="502.46" y="32.23" width="1.40" height="1.39" fill="#dce1f5"/><rect x="503.86" y="32.23" width="1.40" height="1.39" fill="#fffce9"/><rect x="505.26" y="32.23" width="1.40" height="1.39" fill="#f6e05a"/><rect x="506.65" y="32.23" width="1.40" height="1.39" fill="#a7b0e1"/><rect x="509.45" y="32.23" width="1.40" height="1.39" fill="#e2e6f7"/><rect x="510.85" y="32.23" width="1.40" height="1.39" fill="#fffdf0"/><rect x="512.25" y="32.23" width="1.40" height="1.39" fill="#fcf0a4"/><rect x="513.64" y="32.23" width="1.40" height="1.39" fill="#f1ca38"/><rect x="515.04" y="32.23" width="1.40" height="1.39" fill="#eef0fa"/><rect x="516.44" y="32.23" width="1.40" height="1.39" fill="#f7e46b"/><rect x="517.84" y="32.23" width="1.40" height="1.39" fill="#c74414"/><rect x="519.23" y="32.23" width="1.40" height="1.39" fill="#f7e46d"/><rect x="520.63" y="32.23" width="1.40" height="1.39" fill="#f7e366"/><rect x="522.03" y="32.23" width="1.40" height="1.39" fill="#f5df52"/><rect x="523.42" y="32.23" width="1.40" height="1.39" fill="#f8e675"/><rect x="524.82" y="32.23" width="1.40" height="1.39" fill="#f2cf3c"/><rect x="526.22" y="32.23" width="1.40" height="1.39" fill="#fffffe"/><rect x="527.62" y="32.23" width="1.40" height="1.39" fill="#fffefb"/><rect x="529.01" y="32.23" width="1.40" height="1.39" fill="#fff9d0"/><rect x="530.41" y="32.23" width="1.40" height="1.39" fill="#fffada"/><rect x="531.81" y="32.23" width="1.40" height="1.39" fill="#fffad4"/><rect x="533.21" y="32.23" width="1.40" height="1.39" fill="#f5f6fc"/><rect x="534.61" y="32.23" width="1.40" height="1.39" fill="#d0d6f1"/><rect x="536.00" y="32.23" width="1.40" height="1.39" fill="#faec91"/><rect x="481.50" y="33.62" width="1.40" height="1.39" fill="#fffad8"/><rect x="482.90" y="33.62" width="1.40" height="1.39" fill="#6b74c2"/><rect x="484.30" y="33.62" width="1.40" height="1.39" fill="#e8ebf8"/><rect x="485.69" y="33.62" width="1.40" height="1.39" fill="#fffbe2"/><rect x="487.09" y="33.62" width="1.40" height="1.39" fill="#f1f3fb"/><rect x="488.49" y="33.62" width="1.40" height="1.39" fill="#f8e572"/><rect x="489.88" y="33.62" width="1.40" height="1.39" fill="#fffce6"/><rect x="491.28" y="33.62" width="1.40" height="1.39" fill="#fcfdfe"/><rect x="492.68" y="33.62" width="1.40" height="1.39" fill="#fef6bd"/><rect x="494.08" y="33.62" width="1.40" height="1.39" fill="#faeb8c"/><rect x="495.48" y="33.62" width="1.40" height="1.39" fill="#737cc8"/><rect x="496.87" y="33.62" width="1.40" height="1.39" fill="#dde2f5"/><rect x="498.27" y="33.62" width="1.40" height="1.39" fill="#e9ecf9"/><rect x="499.67" y="33.62" width="1.40" height="1.39" fill="#5b63b9"/><rect x="501.06" y="33.62" width="1.40" height="1.39" fill="#b0b7e4"/><rect x="502.46" y="33.62" width="1.40" height="1.39" fill="#d2d7f1"/><rect x="503.86" y="33.62" width="1.40" height="1.39" fill="#fffad4"/><rect x="505.26" y="33.62" width="1.40" height="1.39" fill="#fffdf2"/><rect x="506.65" y="33.62" width="1.40" height="1.39" fill="#d8def4"/><rect x="508.05" y="33.62" width="1.40" height="1.39" fill="#f2f4fb"/><rect x="509.45" y="33.62" width="1.40" height="1.39" fill="#fbfbfe"/><rect x="510.85" y="33.62" width="1.40" height="1.39" fill="#f9e87c"/><rect x="512.25" y="33.62" width="1.40" height="1.39" fill="#fef5bb"/><rect x="513.64" y="33.62" width="1.40" height="1.39" fill="#fbef9e"/><rect x="515.04" y="33.62" width="1.40" height="1.39" fill="#f6e15e"/><rect x="516.44" y="33.62" width="2.79" height="1.39" fill="#edaf22"/><rect x="519.23" y="33.62" width="1.40" height="1.39" fill="#eeb92a"/><rect x="520.63" y="33.62" width="1.40" height="1.39" fill="#f9e983"/><rect x="522.03" y="33.62" width="1.40" height="1.39" fill="#fef6bf"/><rect x="523.42" y="33.62" width="1.40" height="1.39" fill="#fcf0a2"/><rect x="524.82" y="33.62" width="1.40" height="1.39" fill="#f7f8fd"/><rect x="526.22" y="33.62" width="1.40" height="1.39" fill="#d2d8f1"/><rect x="527.62" y="33.62" width="1.40" height="1.39" fill="#c6cced"/><rect x="529.01" y="33.62" width="1.40" height="1.39" fill="#fff7c4"/><rect x="530.41" y="33.62" width="1.40" height="1.39" fill="#f9ea85"/><rect x="531.81" y="33.62" width="1.40" height="1.39" fill="#939cda"/><rect x="533.21" y="33.62" width="1.40" height="1.39" fill="#fffbe2"/><rect x="534.61" y="33.62" width="1.40" height="1.39" fill="#fff9d3"/><rect x="536.00" y="33.62" width="1.40" height="1.39" fill="#faec91"/><rect x="481.50" y="35.01" width="1.40" height="1.39" fill="#f3f4fb"/><rect x="482.90" y="35.01" width="1.40" height="1.39" fill="#929bd9"/><rect x="484.30" y="35.01" width="1.40" height="1.39" fill="#f0f3fb"/><rect x="485.69" y="35.01" width="1.40" height="1.39" fill="#f9fafd"/><rect x="487.09" y="35.01" width="1.40" height="1.39" fill="#f4dc47"/><rect x="488.49" y="35.01" width="1.40" height="1.39" fill="#acb4e3"/><rect x="489.88" y="35.01" width="1.40" height="1.39" fill="#f9ea86"/><rect x="491.28" y="35.01" width="1.40" height="1.39" fill="#8c96d7"/><rect x="492.68" y="35.01" width="1.40" height="1.39" fill="#fffef6"/><rect x="494.08" y="35.01" width="1.40" height="1.39" fill="#fffef8"/><rect x="495.48" y="35.01" width="1.40" height="1.39" fill="#d9def4"/><rect x="496.87" y="35.01" width="1.40" height="1.39" fill="#dbe0f5"/><rect x="498.27" y="35.01" width="1.40" height="1.39" fill="#848dd2"/><rect x="499.67" y="35.01" width="1.40" height="1.39" fill="#fbed94"/><rect x="501.06" y="35.01" width="1.40" height="1.39" fill="#f8e675"/><rect x="502.46" y="35.01" width="1.40" height="1.39" fill="#7881ca"/><rect x="503.86" y="35.01" width="1.40" height="1.39" fill="#afb7e4"/><rect x="505.26" y="35.01" width="1.40" height="1.39" fill="#c9cfee"/><rect x="506.65" y="35.01" width="1.40" height="1.39" fill="#eaedf9"/><rect x="508.05" y="35.01" width="1.40" height="1.39" fill="#fdf3b1"/><rect x="509.45" y="35.01" width="1.40" height="1.39" fill="#f8e675"/><rect x="510.85" y="35.01" width="1.40" height="1.39" fill="#fffdef"/><rect x="512.25" y="35.01" width="1.40" height="1.39" fill="#f6e262"/><rect x="513.64" y="35.01" width="1.40" height="1.39" fill="#f5df53"/><rect x="515.04" y="35.01" width="1.40" height="1.39" fill="#c74414"/><rect x="516.44" y="35.01" width="1.40" height="1.39" fill="#e5961c"/><rect x="517.84" y="35.01" width="1.40" height="1.39" fill="#d15b15"/><rect x="519.23" y="35.01" width="1.40" height="1.39" fill="#d46616"/><rect x="520.63" y="35.01" width="1.40" height="1.39" fill="#e4931b"/><rect x="522.03" y="35.01" width="1.40" height="1.39" fill="#eaa41d"/><rect x="523.42" y="35.01" width="1.40" height="1.39" fill="#f6e260"/><rect x="524.82" y="35.01" width="1.40" height="1.39" fill="#f4da45"/><rect x="526.22" y="35.01" width="1.40" height="1.39" fill="#fff9d3"/><rect x="527.62" y="35.01" width="1.40" height="1.39" fill="#eeb627"/><rect x="529.01" y="35.01" width="1.40" height="1.39" fill="#f7e264"/><rect x="530.41" y="35.01" width="1.40" height="1.39" fill="#b7bee7"/><rect x="531.81" y="35.01" width="1.40" height="1.39" fill="#fefeff"/><rect x="534.61" y="35.01" width="1.40" height="1.39" fill="#fef4b7"/><rect x="536.00" y="35.01" width="1.40" height="1.39" fill="#fff9d1"/><rect x="481.50" y="36.40" width="1.40" height="1.39" fill="#7b84cc"/><rect x="482.90" y="36.40" width="1.40" height="1.39" fill="#f4db45"/><rect x="484.30" y="36.40" width="1.40" height="1.39" fill="#fffefa"/><rect x="485.69" y="36.40" width="1.40" height="1.39" fill="#eef1fa"/><rect x="487.09" y="36.40" width="1.40" height="1.39" fill="#b0b8e5"/><rect x="488.49" y="36.40" width="1.40" height="1.39" fill="#fffdef"/><rect x="489.88" y="36.40" width="1.40" height="1.39" fill="#fffef9"/><rect x="491.28" y="36.40" width="1.40" height="1.39" fill="#717ac6"/><rect x="492.68" y="36.40" width="1.40" height="1.39" fill="#e1e5f6"/><rect x="494.08" y="36.40" width="1.40" height="1.39" fill="#838dd1"/><rect x="495.48" y="36.40" width="1.40" height="1.39" fill="#cad0ee"/><rect x="496.87" y="36.40" width="1.40" height="1.39" fill="#8f99d8"/><rect x="498.27" y="36.40" width="1.40" height="1.39" fill="#b6bde7"/><rect x="499.67" y="36.40" width="1.40" height="1.39" fill="#b3bbe6"/><rect x="501.06" y="36.40" width="1.40" height="1.39" fill="#e2e6f7"/><rect x="502.46" y="36.40" width="1.40" height="1.39" fill="#a3ace0"/><rect x="503.86" y="36.40" width="1.40" height="1.39" fill="#c2c8eb"/><rect x="505.26" y="36.40" width="1.40" height="1.39" fill="#d9def4"/><rect x="506.65" y="36.40" width="1.40" height="1.39" fill="#a4ade0"/><rect x="508.05" y="36.40" width="1.40" height="1.39" fill="#8a94d6"/><rect x="509.45" y="36.40" width="1.40" height="1.39" fill="#7a84cc"/><rect x="510.85" y="36.40" width="1.40" height="1.39" fill="#eaedf9"/><rect x="512.25" y="36.40" width="1.40" height="1.39" fill="#f4dc46"/><rect x="513.64" y="36.40" width="1.40" height="1.39" fill="#edb325"/><rect x="515.04" y="36.40" width="1.40" height="1.39" fill="#cd5014"/><rect x="516.44" y="36.40" width="2.79" height="1.39" fill="#b01616"/><rect x="519.23" y="36.40" width="1.40" height="1.39" fill="#e1891a"/><rect x="520.63" y="36.40" width="1.40" height="1.39" fill="#db7818"/><rect x="522.03" y="36.40" width="1.40" height="1.39" fill="#edb124"/><rect x="523.42" y="36.40" width="1.40" height="1.39" fill="#f6e15d"/><rect x="524.82" y="36.40" width="1.40" height="1.39" fill="#fffceb"/><rect x="526.22" y="36.40" width="1.40" height="1.39" fill="#fffdee"/><rect x="527.62" y="36.40" width="1.40" height="1.39" fill="#e7eaf8"/><rect x="529.01" y="36.40" width="1.40" height="1.39" fill="#b2b9e5"/><rect x="530.41" y="36.40" width="1.40" height="1.39" fill="#fffce7"/><rect x="531.81" y="36.40" width="1.40" height="1.39" fill="#f2cf3c"/><rect x="533.21" y="36.40" width="1.40" height="1.39" fill="#efbc2d"/><rect x="534.61" y="36.40" width="1.40" height="1.39" fill="#fffdf0"/><rect x="536.00" y="36.40" width="1.40" height="1.39" fill="#c1c7eb"/><rect x="481.50" y="37.79" width="1.40" height="1.39" fill="#f4dc46"/><rect x="482.90" y="37.79" width="1.40" height="1.39" fill="#e5e9f8"/><rect x="484.30" y="37.79" width="1.40" height="1.39" fill="#f6f8fd"/><rect x="485.69" y="37.79" width="1.40" height="1.39" fill="#e9ecf9"/><rect x="487.09" y="37.79" width="1.40" height="1.39" fill="#f3f4fb"/><rect x="488.49" y="37.79" width="1.40" height="1.39" fill="#fff8cb"/><rect x="489.88" y="37.79" width="1.40" height="1.39" fill="#a1aadf"/><rect x="491.28" y="37.79" width="1.40" height="1.39" fill="#f7e365"/><rect x="492.68" y="37.79" width="1.40" height="1.39" fill="#fffdee"/><rect x="494.08" y="37.79" width="1.40" height="1.39" fill="#dfe4f6"/><rect x="495.48" y="37.79" width="1.40" height="1.39" fill="#fbfcfe"/><rect x="496.87" y="37.79" width="1.40" height="1.39" fill="#f6e263"/><rect x="498.27" y="37.79" width="1.40" height="1.39" fill="#f5f7fc"/><rect x="499.67" y="37.79" width="1.40" height="1.39" fill="#f2f4fb"/><rect x="501.06" y="37.79" width="1.40" height="1.39" fill="#b5bde6"/><rect x="502.46" y="37.79" width="1.40" height="1.39" fill="#fffce5"/><rect x="503.86" y="37.79" width="1.40" height="1.39" fill="#626abd"/><rect x="505.26" y="37.79" width="1.40" height="1.39" fill="#565fb6"/><rect x="506.65" y="37.79" width="1.40" height="1.39" fill="#666fbf"/><rect x="508.05" y="37.79" width="1.40" height="1.39" fill="#4c54b0"/><rect x="510.85" y="37.79" width="1.40" height="1.39" fill="#f7e264"/><rect x="512.25" y="37.79" width="1.40" height="1.39" fill="#b11916"/><rect x="513.64" y="37.79" width="1.40" height="1.39" fill="#da7618"/><rect x="515.04" y="37.79" width="5.59" height="1.39" fill="#b01616"/><rect x="520.63" y="37.79" width="1.40" height="1.39" fill="#d15a15"/><rect x="522.03" y="37.79" width="1.40" height="1.39" fill="#d97218"/><rect x="523.42" y="37.79" width="1.40" height="1.39" fill="#eeb426"/><rect x="524.82" y="37.79" width="1.40" height="1.39" fill="#f6e05a"/><rect x="526.22" y="37.79" width="1.40" height="1.39" fill="#d1d7f1"/><rect x="527.62" y="37.79" width="1.40" height="1.39" fill="#f8e571"/><rect x="529.01" y="37.79" width="1.40" height="1.39" fill="#fffffe"/><rect x="530.41" y="37.79" width="1.40" height="1.39" fill="#b2bae5"/><rect x="531.81" y="37.79" width="1.40" height="1.39" fill="#f7e264"/><rect x="533.21" y="37.79" width="1.40" height="1.39" fill="#f7f8fd"/><rect x="534.61" y="37.79" width="1.40" height="1.39" fill="#fefeff"/><rect x="536.00" y="37.79" width="1.40" height="1.39" fill="#efbf2f"/><rect x="481.50" y="39.18" width="1.40" height="1.39" fill="#fafafd"/><rect x="482.90" y="39.18" width="1.40" height="1.39" fill="#fbfbfe"/><rect x="484.30" y="39.18" width="1.40" height="1.39" fill="#6d76c4"/><rect x="485.69" y="39.18" width="1.40" height="1.39" fill="#f2f4fb"/><rect x="487.09" y="39.18" width="1.40" height="1.39" fill="#f1c836"/><rect x="488.49" y="39.18" width="1.40" height="1.39" fill="#d3d9f2"/><rect x="489.88" y="39.18" width="1.40" height="1.39" fill="#8791d4"/><rect x="491.28" y="39.18" width="1.40" height="1.39" fill="#fdf4b5"/><rect x="492.68" y="39.18" width="1.40" height="1.39" fill="#7882cb"/><rect x="494.08" y="39.18" width="1.40" height="1.39" fill="#fbed95"/><rect x="495.48" y="39.18" width="1.40" height="1.39" fill="#d9def4"/><rect x="496.87" y="39.18" width="1.40" height="1.39" fill="#bac1e8"/><rect x="498.27" y="39.18" width="1.40" height="1.39" fill="#fffffc"/><rect x="499.67" y="39.18" width="1.40" height="1.39" fill="#fffef9"/><rect x="501.06" y="39.18" width="1.40" height="1.39" fill="#4951ae"/><rect x="502.46" y="39.18" width="1.40" height="1.39" fill="#4047a9"/><rect x="503.86" y="39.18" width="1.40" height="1.39" fill="#4c54af"/><rect x="505.26" y="39.18" width="1.40" height="1.39" fill="#3236a0"/><rect x="506.65" y="39.18" width="1.40" height="1.39" fill="#3e45a7"/><rect x="508.05" y="39.18" width="1.40" height="1.39" fill="#5760b7"/><rect x="509.45" y="39.18" width="1.40" height="1.39" fill="#6169bc"/><rect x="510.85" y="39.18" width="1.40" height="1.39" fill="#faeb8b"/><rect x="512.25" y="39.18" width="1.40" height="1.39" fill="#cd4f14"/><rect x="513.64" y="39.18" width="6.99" height="1.39" fill="#b01616"/><rect x="520.63" y="39.18" width="1.40" height="1.39" fill="#b41e16"/><rect x="522.03" y="39.18" width="1.40" height="1.39" fill="#b01616"/><rect x="523.42" y="39.18" width="1.40" height="1.39" fill="#f3d541"/><rect x="524.82" y="39.18" width="1.40" height="1.39" fill="#f5df53"/><rect x="526.22" y="39.18" width="1.40" height="1.39" fill="#fffcea"/><rect x="527.62" y="39.18" width="1.40" height="1.39" fill="#f8e77a"/><rect x="529.01" y="39.18" width="1.40" height="1.39" fill="#fdf2ad"/><rect x="530.41" y="39.18" width="1.40" height="1.39" fill="#fffad8"/><rect x="533.21" y="39.18" width="1.40" height="1.39" fill="#f8e77a"/><rect x="534.61" y="39.18" width="1.40" height="1.39" fill="#fef5bc"/><rect x="536.00" y="39.18" width="1.40" height="1.39" fill="#fffffe"/><rect x="481.50" y="40.57" width="1.40" height="1.39" fill="#c2c8eb"/><rect x="482.90" y="40.57" width="1.40" height="1.39" fill="#f4f5fc"/><rect x="484.30" y="40.57" width="1.40" height="1.39" fill="#f9fafd"/><rect x="485.69" y="40.57" width="1.40" height="1.39" fill="#fffef9"/><rect x="487.09" y="40.57" width="1.40" height="1.39" fill="#8c96d7"/><rect x="488.49" y="40.57" width="1.40" height="1.39" fill="#f5de51"/><rect x="489.88" y="40.57" width="1.40" height="1.39" fill="#e3e7f7"/><rect x="491.28" y="40.57" width="1.40" height="1.39" fill="#e7ebf8"/><rect x="492.68" y="40.57" width="1.40" height="1.39" fill="#b5bde6"/><rect x="494.08" y="40.57" width="1.40" height="1.39" fill="#fff9d3"/><rect x="495.48" y="40.57" width="1.40" height="1.39" fill="#fffbe1"/><rect x="496.87" y="40.57" width="1.40" height="1.39" fill="#99a3dc"/><rect x="498.27" y="40.57" width="1.40" height="1.39" fill="#abb4e3"/><rect x="499.67" y="40.57" width="1.40" height="1.39" fill="#6972c2"/><rect x="501.06" y="40.57" width="1.40" height="1.39" fill="#353aa2"/><rect x="502.46" y="40.57" width="1.40" height="1.39" fill="#3e45a7"/><rect x="503.86" y="40.57" width="1.40" height="1.39" fill="#353aa2"/><rect x="505.26" y="40.57" width="2.79" height="1.39" fill="#3236a0"/><rect x="508.05" y="40.57" width="1.40" height="1.39" fill="#454cab"/><rect x="509.45" y="40.57" width="1.40" height="1.39" fill="#939dda"/><rect x="510.85" y="40.57" width="1.40" height="1.39" fill="#fefeff"/><rect x="512.25" y="40.57" width="1.40" height="1.39" fill="#f0c231"/><rect x="513.64" y="40.57" width="9.78" height="1.39" fill="#b01616"/><rect x="523.42" y="40.57" width="1.40" height="1.39" fill="#da7518"/><rect x="524.82" y="40.57" width="1.40" height="1.39" fill="#f5df56"/><rect x="526.22" y="40.57" width="1.40" height="1.39" fill="#ecad20"/><rect x="527.62" y="40.57" width="1.40" height="1.39" fill="#fcf1a8"/><rect x="529.01" y="40.57" width="1.40" height="1.39" fill="#d9def4"/><rect x="530.41" y="40.57" width="1.40" height="1.39" fill="#fffbdf"/><rect x="531.81" y="40.57" width="1.40" height="1.39" fill="#fffdee"/><rect x="533.21" y="40.57" width="1.40" height="1.39" fill="#fff9cd"/><rect x="534.61" y="40.57" width="1.40" height="1.39" fill="#fff8c6"/><rect x="536.00" y="40.57" width="1.40" height="1.39" fill="#f8e673"/><rect x="481.50" y="41.96" width="1.40" height="1.39" fill="#ebeef9"/><rect x="482.90" y="41.96" width="1.40" height="1.39" fill="#8993d5"/><rect x="484.30" y="41.96" width="1.40" height="1.39" fill="#f8f9fd"/><rect x="485.69" y="41.96" width="1.40" height="1.39" fill="#fffdf2"/><rect x="487.09" y="41.96" width="1.40" height="1.39" fill="#e4e8f7"/><rect x="488.49" y="41.96" width="1.40" height="1.39" fill="#edf0fa"/><rect x="489.88" y="41.96" width="1.40" height="1.39" fill="#fffada"/><rect x="491.28" y="41.96" width="1.40" height="1.39" fill="#eaedf9"/><rect x="492.68" y="41.96" width="1.40" height="1.39" fill="#e8ebf8"/><rect x="494.08" y="41.96" width="1.40" height="1.39" fill="#f7f9fd"/><rect x="495.48" y="41.96" width="1.40" height="1.39" fill="#d5daf2"/><rect x="496.87" y="41.96" width="1.40" height="1.39" fill="#c3caec"/><rect x="498.27" y="41.96" width="1.40" height="1.39" fill="#5d65ba"/><rect x="499.67" y="41.96" width="1.40" height="1.39" fill="#3c42a6"/><rect x="501.06" y="41.96" width="1.40" height="1.39" fill="#4148a9"/><rect x="502.46" y="41.96" width="6.99" height="1.39" fill="#3236a0"/><rect x="509.45" y="41.96" width="1.40" height="1.39" fill="#d4d9f2"/><rect x="510.85" y="41.96" width="1.40" height="1.39" fill="#fffbdf"/><rect x="512.25" y="41.96" width="1.40" height="1.39" fill="#da7518"/><rect x="513.64" y="41.96" width="9.78" height="1.39" fill="#b01616"/><rect x="523.42" y="41.96" width="1.40" height="1.39" fill="#e5961c"/><rect x="524.82" y="41.96" width="1.40" height="1.39" fill="#f8e777"/><rect x="526.22" y="41.96" width="1.40" height="1.39" fill="#f2d23e"/><rect x="527.62" y="41.96" width="1.40" height="1.39" fill="#fff7c4"/><rect x="529.01" y="41.96" width="1.40" height="1.39" fill="#b0b8e4"/><rect x="530.41" y="41.96" width="1.40" height="1.39" fill="#fcfcfe"/><rect x="531.81" y="41.96" width="1.40" height="1.39" fill="#fffad6"/><rect x="533.21" y="41.96" width="1.40" height="1.39" fill="#fffdec"/><rect x="534.61" y="41.96" width="1.40" height="1.39" fill="#f8f9fd"/><rect x="536.00" y="41.96" width="1.40" height="1.39" fill="#e2e6f7"/><rect x="481.50" y="43.35" width="1.40" height="1.39" fill="#fcfcfe"/><rect x="482.90" y="43.35" width="1.40" height="1.39" fill="#f9e87f"/><rect x="484.30" y="43.35" width="1.40" height="1.39" fill="#fefeff"/><rect x="485.69" y="43.35" width="1.40" height="1.39" fill="#d7dcf3"/><rect x="487.09" y="43.35" width="1.40" height="1.39" fill="#c2c8eb"/><rect x="488.49" y="43.35" width="1.40" height="1.39" fill="#fff9cd"/><rect x="489.88" y="43.35" width="1.40" height="1.39" fill="#fffce9"/><rect x="491.28" y="43.35" width="1.40" height="1.39" fill="#fef5b9"/><rect x="492.68" y="43.35" width="1.40" height="1.39" fill="#e7ebf8"/><rect x="494.08" y="43.35" width="1.40" height="1.39" fill="#7c85cd"/><rect x="495.48" y="43.35" width="1.40" height="1.39" fill="#9ea7de"/><rect x="496.87" y="43.35" width="1.40" height="1.39" fill="#a5aee0"/><rect x="498.27" y="43.35" width="1.40" height="1.39" fill="#4148a9"/><rect x="499.67" y="43.35" width="8.38" height="1.39" fill="#3236a0"/><rect x="508.05" y="43.35" width="1.40" height="1.39" fill="#3d43a6"/><rect x="509.45" y="43.35" width="1.40" height="1.39" fill="#9da6dd"/><rect x="510.85" y="43.35" width="1.40" height="1.39" fill="#f4f6fc"/><rect x="512.25" y="43.35" width="1.40" height="1.39" fill="#e28c1b"/><rect x="513.64" y="43.35" width="11.18" height="1.39" fill="#b01616"/><rect x="524.82" y="43.35" width="1.40" height="1.39" fill="#f6e15c"/><rect x="526.22" y="43.35" width="1.40" height="1.39" fill="#f0c231"/><rect x="527.62" y="43.35" width="1.40" height="1.39" fill="#fef5b9"/><rect x="529.01" y="43.35" width="1.40" height="1.39" fill="#fff8c9"/><rect x="530.41" y="43.35" width="1.40" height="1.39" fill="#fffdf2"/><rect x="531.81" y="43.35" width="1.40" height="1.39" fill="#efc02f"/><rect x="533.21" y="43.35" width="1.40" height="1.39" fill="#f4db45"/><rect x="534.61" y="43.35" width="1.40" height="1.39" fill="#fffdec"/><rect x="536.00" y="43.35" width="1.40" height="1.39" fill="#fffad5"/><rect x="481.50" y="44.74" width="1.40" height="1.39" fill="#fffce8"/><rect x="482.90" y="44.74" width="1.40" height="1.39" fill="#a2abdf"/><rect x="484.30" y="44.74" width="1.40" height="1.39" fill="#fdf2ab"/><rect x="485.69" y="44.74" width="1.40" height="1.39" fill="#7780ca"/><rect x="487.09" y="44.74" width="1.40" height="1.39" fill="#fffffe"/><rect x="488.49" y="44.74" width="1.40" height="1.39" fill="#d0d6f1"/><rect x="489.88" y="44.74" width="1.40" height="1.39" fill="#fff9cd"/><rect x="491.28" y="44.74" width="1.40" height="1.39" fill="#a3abe0"/><rect x="492.68" y="44.74" width="1.40" height="1.39" fill="#cad0ee"/><rect x="494.08" y="44.74" width="1.40" height="1.39" fill="#5861b7"/><rect x="495.48" y="44.74" width="1.40" height="1.39" fill="#5d65ba"/><rect x="496.87" y="44.74" width="1.40" height="1.39" fill="#7781ca"/><rect x="498.27" y="44.74" width="8.38" height="1.39" fill="#3236a0"/><rect x="506.65" y="44.74" width="1.40" height="1.39" fill="#3439a1"/><rect x="508.05" y="44.74" width="1.40" height="1.39" fill="#434baa"/><rect x="509.45" y="44.74" width="1.40" height="1.39" fill="#7c86cd"/><rect x="510.85" y="44.74" width="1.40" height="1.39" fill="#fffbe3"/><rect x="512.25" y="44.74" width="1.40" height="1.39" fill="#f1c936"/><rect x="513.64" y="44.74" width="1.40" height="1.39" fill="#b51f16"/><rect x="515.04" y="44.74" width="8.38" height="1.39" fill="#b01616"/><rect x="523.42" y="44.74" width="1.40" height="1.39" fill="#b92915"/><rect x="524.82" y="44.74" width="1.40" height="1.39" fill="#fef6be"/><rect x="526.22" y="44.74" width="2.79" height="1.39" fill="#f1c735"/><rect x="529.01" y="44.74" width="1.40" height="1.39" fill="#edaf22"/><rect x="530.41" y="44.74" width="1.40" height="1.39" fill="#efbf2f"/><rect x="531.81" y="44.74" width="1.40" height="1.39" fill="#f2f4fb"/><rect x="533.21" y="44.74" width="1.40" height="1.39" fill="#c3caec"/><rect x="534.61" y="44.74" width="1.40" height="1.39" fill="#fffce9"/><rect x="536.00" y="44.74" width="1.40" height="1.39" fill="#f1c735"/><rect x="481.50" y="46.13" width="1.40" height="1.39" fill="#f5f7fc"/><rect x="482.90" y="46.13" width="1.40" height="1.39" fill="#e0e4f6"/><rect x="484.30" y="46.13" width="1.40" height="1.39" fill="#dfe3f6"/><rect x="485.69" y="46.13" width="1.40" height="1.39" fill="#f9f9fd"/><rect x="487.09" y="46.13" width="1.40" height="1.39" fill="#fffbe3"/><rect x="488.49" y="46.13" width="1.40" height="1.39" fill="#f7f8fd"/><rect x="489.88" y="46.13" width="1.40" height="1.39" fill="#d0d6f0"/><rect x="491.28" y="46.13" width="1.40" height="1.39" fill="#c4cbec"/><rect x="492.68" y="46.13" width="1.40" height="1.39" fill="#bdc4e9"/><rect x="494.08" y="46.13" width="1.40" height="1.39" fill="#fdfeff"/><rect x="495.48" y="46.13" width="1.40" height="1.39" fill="#454dac"/><rect x="496.87" y="46.13" width="1.40" height="1.39" fill="#434baa"/><rect x="498.27" y="46.13" width="11.18" height="1.39" fill="#3236a0"/><rect x="509.45" y="46.13" width="1.40" height="1.39" fill="#a0a9df"/><rect x="510.85" y="46.13" width="1.40" height="1.39" fill="#f1cb38"/><rect x="512.25" y="46.13" width="1.40" height="1.39" fill="#fbed97"/><rect x="513.64" y="46.13" width="9.78" height="1.39" fill="#b01616"/><rect x="523.42" y="46.13" width="1.40" height="1.39" fill="#c23915"/><rect x="524.82" y="46.13" width="1.40" height="1.39" fill="#e0881a"/><rect x="526.22" y="46.13" width="1.40" height="1.39" fill="#f7e264"/><rect x="527.62" y="46.13" width="1.40" height="1.39" fill="#fef5bc"/><rect x="529.01" y="46.13" width="1.40" height="1.39" fill="#f1cb38"/><rect x="530.41" y="46.13" width="1.40" height="1.39" fill="#f9e982"/><rect x="531.81" y="46.13" width="1.40" height="1.39" fill="#d6dbf3"/><rect x="533.21" y="46.13" width="1.40" height="1.39" fill="#fff8c9"/><rect x="534.61" y="46.13" width="1.40" height="1.39" fill="#fafbfe"/><rect x="536.00" y="46.13" width="1.40" height="1.39" fill="#fefeff"/><rect x="481.50" y="47.52" width="1.40" height="1.39" fill="#f8e778"/><rect x="482.90" y="47.52" width="1.40" height="1.39" fill="#fffdef"/><rect x="484.30" y="47.52" width="1.40" height="1.39" fill="#f4dd4a"/><rect x="485.69" y="47.52" width="1.40" height="1.39" fill="#ebeef9"/><rect x="487.09" y="47.52" width="1.40" height="1.39" fill="#f7f8fd"/><rect x="488.49" y="47.52" width="1.40" height="1.39" fill="#fffef8"/><rect x="489.88" y="47.52" width="1.40" height="1.39" fill="#b8bfe8"/><rect x="491.28" y="47.52" width="1.40" height="1.39" fill="#fffdf2"/><rect x="492.68" y="47.52" width="1.40" height="1.39" fill="#b0b8e4"/><rect x="494.08" y="47.52" width="1.40" height="1.39" fill="#e6eaf8"/><rect x="495.48" y="47.52" width="1.40" height="1.39" fill="#383da3"/><rect x="496.87" y="47.52" width="11.18" height="1.39" fill="#3236a0"/><rect x="508.05" y="47.52" width="1.40" height="1.39" fill="#434aaa"/><rect x="509.45" y="47.52" width="1.40" height="1.39" fill="#acb4e3"/><rect x="510.85" y="47.52" width="1.40" height="1.39" fill="#fdf2ab"/><rect x="512.25" y="47.52" width="1.40" height="1.39" fill="#f4d944"/><rect x="513.64" y="47.52" width="1.40" height="1.39" fill="#b72416"/><rect x="515.04" y="47.52" width="9.78" height="1.39" fill="#b01616"/><rect x="524.82" y="47.52" width="1.40" height="1.39" fill="#cc4e14"/><rect x="526.22" y="47.52" width="1.40" height="1.39" fill="#d56817"/><rect x="527.62" y="47.52" width="1.40" height="1.39" fill="#fff7c2"/><rect x="529.01" y="47.52" width="1.40" height="1.39" fill="#fffce7"/><rect x="530.41" y="47.52" width="1.40" height="1.39" fill="#f7e469"/><rect x="531.81" y="47.52" width="1.40" height="1.39" fill="#fffef9"/><rect x="533.21" y="47.52" width="1.40" height="1.39" fill="#9da6dd"/><rect x="534.61" y="47.52" width="1.40" height="1.39" fill="#fffefa"/><rect x="536.00" y="47.52" width="1.40" height="1.39" fill="#ebeef9"/><rect x="481.50" y="48.91" width="1.40" height="1.39" fill="#faec91"/><rect x="482.90" y="48.91" width="1.40" height="1.39" fill="#f6f8fd"/><rect x="484.30" y="48.91" width="1.40" height="1.39" fill="#f4f5fc"/><rect x="485.69" y="48.91" width="1.40" height="1.39" fill="#e1e6f7"/><rect x="487.09" y="48.91" width="1.40" height="1.39" fill="#f9e87d"/><rect x="488.49" y="48.91" width="1.40" height="1.39" fill="#e8ebf8"/><rect x="489.88" y="48.91" width="1.40" height="1.39" fill="#faec91"/><rect x="491.28" y="48.91" width="1.40" height="1.39" fill="#c0c6ea"/><rect x="492.68" y="48.91" width="1.40" height="1.39" fill="#fffada"/><rect x="494.08" y="48.91" width="1.40" height="1.39" fill="#4f57b1"/><rect x="495.48" y="48.91" width="1.40" height="1.39" fill="#444cab"/><rect x="496.87" y="48.91" width="11.18" height="1.39" fill="#3236a0"/><rect x="508.05" y="48.91" width="1.40" height="1.39" fill="#d3d9f2"/><rect x="509.45" y="48.91" width="1.40" height="1.39" fill="#aeb6e4"/><rect x="510.85" y="48.91" width="1.40" height="1.39" fill="#fbed96"/><rect x="512.25" y="48.91" width="1.40" height="1.39" fill="#f3d43f"/><rect x="513.64" y="48.91" width="1.40" height="1.39" fill="#d66b17"/><rect x="515.04" y="48.91" width="9.78" height="1.39" fill="#b01616"/><rect x="524.82" y="48.91" width="1.40" height="1.39" fill="#e79d1d"/><rect x="526.22" y="48.91" width="1.40" height="1.39" fill="#f4db45"/><rect x="527.62" y="48.91" width="1.40" height="1.39" fill="#faeb8d"/><rect x="529.01" y="48.91" width="1.40" height="1.39" fill="#f9e87e"/><rect x="530.41" y="48.91" width="1.40" height="1.39" fill="#fdf3af"/><rect x="531.81" y="48.91" width="1.40" height="1.39" fill="#f6f7fc"/><rect x="533.21" y="48.91" width="1.40" height="1.39" fill="#fcfcfe"/><rect x="534.61" y="48.91" width="1.40" height="1.39" fill="#fffad9"/><rect x="536.00" y="48.91" width="1.40" height="1.39" fill="#fbfcfe"/><rect x="481.50" y="50.30" width="1.40" height="1.39" fill="#fffdef"/><rect x="482.90" y="50.30" width="1.40" height="1.39" fill="#eff1fa"/><rect x="484.30" y="50.30" width="1.40" height="1.39" fill="#d0d6f1"/><rect x="485.69" y="50.30" width="1.40" height="1.39" fill="#fffadb"/><rect x="487.09" y="50.30" width="1.40" height="1.39" fill="#fbed96"/><rect x="488.49" y="50.30" width="1.40" height="1.39" fill="#8d97d7"/><rect x="489.88" y="50.30" width="1.40" height="1.39" fill="#bfc6ea"/><rect x="491.28" y="50.30" width="1.40" height="1.39" fill="#fffffe"/><rect x="492.68" y="50.30" width="1.40" height="1.39" fill="#bfc6ea"/><rect x="494.08" y="50.30" width="1.40" height="1.39" fill="#4e56b1"/><rect x="495.48" y="50.30" width="12.58" height="1.39" fill="#3236a0"/><rect x="508.05" y="50.30" width="1.40" height="1.39" fill="#555db5"/><rect x="509.45" y="50.30" width="1.40" height="1.39" fill="#9ca5dd"/><rect x="510.85" y="50.30" width="1.40" height="1.39" fill="#faeb8c"/><rect x="512.25" y="50.30" width="1.40" height="1.39" fill="#eeb829"/><rect x="513.64" y="50.30" width="9.78" height="1.39" fill="#b01616"/><rect x="523.42" y="50.30" width="1.40" height="1.39" fill="#e1891a"/><rect x="524.82" y="50.30" width="1.40" height="1.39" fill="#d46316"/><rect x="526.22" y="50.30" width="1.40" height="1.39" fill="#e9a21d"/><rect x="527.62" y="50.30" width="1.40" height="1.39" fill="#f9ea86"/><rect x="529.01" y="50.30" width="1.40" height="1.39" fill="#eff2fb"/><rect x="530.41" y="50.30" width="1.40" height="1.39" fill="#efbf2f"/><rect x="531.81" y="50.30" width="1.40" height="1.39" fill="#f7e56e"/><rect x="533.21" y="50.30" width="1.40" height="1.39" fill="#f0c030"/><rect x="534.61" y="50.30" width="1.40" height="1.39" fill="#d0d6f1"/><rect x="536.00" y="50.30" width="1.40" height="1.39" fill="#f0c433"/><rect x="481.50" y="51.69" width="1.40" height="1.39" fill="#f4f5fc"/><rect x="482.90" y="51.69" width="1.40" height="1.39" fill="#f1f3fb"/><rect x="484.30" y="51.69" width="1.40" height="1.39" fill="#fff7c6"/><rect x="485.69" y="51.69" width="1.40" height="1.39" fill="#fffce7"/><rect x="487.09" y="51.69" width="1.40" height="1.39" fill="#d6dbf3"/><rect x="488.49" y="51.69" width="1.40" height="1.39" fill="#f0f2fb"/><rect x="489.88" y="51.69" width="1.40" height="1.39" fill="#f5df54"/><rect x="491.28" y="51.69" width="2.79" height="1.39" fill="#ebeef9"/><rect x="494.08" y="51.69" width="1.40" height="1.39" fill="#767fc9"/><rect x="495.48" y="51.69" width="1.40" height="1.39" fill="#353aa2"/><rect x="496.87" y="51.69" width="11.18" height="1.39" fill="#3236a0"/><rect x="508.05" y="51.69" width="1.40" height="1.39" fill="#bfc6ea"/><rect x="509.45" y="51.69" width="1.40" height="1.39" fill="#f6f7fc"/><rect x="510.85" y="51.69" width="1.40" height="1.39" fill="#efbe2e"/><rect x="512.25" y="51.69" width="1.40" height="1.39" fill="#e0881a"/><rect x="513.64" y="51.69" width="11.18" height="1.39" fill="#b01616"/><rect x="524.82" y="51.69" width="1.40" height="1.39" fill="#c74514"/><rect x="526.22" y="51.69" width="1.40" height="1.39" fill="#f7e46c"/><rect x="527.62" y="51.69" width="1.40" height="1.39" fill="#fbed95"/><rect x="529.01" y="51.69" width="1.40" height="1.39" fill="#fffce8"/><rect x="530.41" y="51.69" width="1.40" height="1.39" fill="#fffce6"/><rect x="531.81" y="51.69" width="1.40" height="1.39" fill="#fffbdc"/><rect x="533.21" y="51.69" width="1.40" height="1.39" fill="#f1cc39"/><rect x="534.61" y="51.69" width="1.40" height="1.39" fill="#f7f8fd"/><rect x="536.00" y="51.69" width="1.40" height="1.39" fill="#dfe3f6"/><rect x="481.50" y="53.08" width="1.40" height="1.39" fill="#faec92"/><rect x="482.90" y="53.08" width="1.40" height="1.39" fill="#f2f4fb"/><rect x="484.30" y="53.08" width="1.40" height="1.39" fill="#eaedf9"/><rect x="485.69" y="53.08" width="1.40" height="1.39" fill="#c7ceed"/><rect x="487.09" y="53.08" width="1.40" height="1.39" fill="#a3ace0"/><rect x="488.49" y="53.08" width="1.40" height="1.39" fill="#9ca5dd"/><rect x="489.88" y="53.08" width="1.40" height="1.39" fill="#d5daf2"/><rect x="491.28" y="53.08" width="1.40" height="1.39" fill="#fdf4b4"/><rect x="492.68" y="53.08" width="1.40" height="1.39" fill="#fdfdfe"/><rect x="494.08" y="53.08" width="1.40" height="1.39" fill="#8b95d7"/><rect x="495.48" y="53.08" width="11.18" height="1.39" fill="#3236a0"/><rect x="506.65" y="53.08" width="1.40" height="1.39" fill="#454dab"/><rect x="508.05" y="53.08" width="1.40" height="1.39" fill="#99a2dc"/><rect x="509.45" y="53.08" width="1.40" height="1.39" fill="#a2abdf"/><rect x="510.85" y="53.08" width="1.40" height="1.39" fill="#fffad9"/><rect x="512.25" y="53.08" width="1.40" height="1.39" fill="#edae21"/><rect x="513.64" y="53.08" width="9.78" height="1.39" fill="#b01616"/><rect x="523.42" y="53.08" width="1.40" height="1.39" fill="#f6e15b"/><rect x="524.82" y="53.08" width="1.40" height="1.39" fill="#c23a15"/><rect x="526.22" y="53.08" width="2.79" height="1.39" fill="#faec90"/><rect x="529.01" y="53.08" width="1.40" height="1.39" fill="#faeb8e"/><rect x="530.41" y="53.08" width="1.40" height="1.39" fill="#fff8c9"/><rect x="531.81" y="53.08" width="1.40" height="1.39" fill="#e5e9f8"/><rect x="533.21" y="53.08" width="1.40" height="1.39" fill="#f2d03c"/><rect x="534.61" y="53.08" width="1.40" height="1.39" fill="#f0c534"/><rect x="536.00" y="53.08" width="1.40" height="1.39" fill="#929bd9"/><rect x="481.50" y="54.47" width="1.40" height="1.39" fill="#fcfcfe"/><rect x="482.90" y="54.47" width="1.40" height="1.39" fill="#f9fafd"/><rect x="484.30" y="54.47" width="1.40" height="1.39" fill="#e0e4f6"/><rect x="485.69" y="54.47" width="1.40" height="1.39" fill="#e8ebf8"/><rect x="487.09" y="54.47" width="1.40" height="1.39" fill="#fef5bb"/><rect x="488.49" y="54.47" width="1.40" height="1.39" fill="#f4f6fc"/><rect x="489.88" y="54.47" width="1.40" height="1.39" fill="#d8ddf3"/><rect x="491.28" y="54.47" width="1.40" height="1.39" fill="#fef6c0"/><rect x="492.68" y="54.47" width="1.40" height="1.39" fill="#646dbe"/><rect x="494.08" y="54.47" width="1.40" height="1.39" fill="#3236a0"/><rect x="495.48" y="54.47" width="1.40" height="1.39" fill="#383ea4"/><rect x="496.87" y="54.47" width="11.18" height="1.39" fill="#3236a0"/><rect x="508.05" y="54.47" width="1.40" height="1.39" fill="#626bbd"/><rect x="509.45" y="54.47" width="1.40" height="1.39" fill="#838dd1"/><rect x="510.85" y="54.47" width="1.40" height="1.39" fill="#fffef6"/><rect x="512.25" y="54.47" width="1.40" height="1.39" fill="#f3d641"/><rect x="513.64" y="54.47" width="1.40" height="1.39" fill="#bf3415"/><rect x="515.04" y="54.47" width="8.38" height="1.39" fill="#b01616"/><rect x="523.42" y="54.47" width="1.40" height="1.39" fill="#b31c16"/><rect x="524.82" y="54.47" width="1.40" height="1.39" fill="#f2d33e"/><rect x="526.22" y="54.47" width="1.40" height="1.39" fill="#f5f7fc"/><rect x="527.62" y="54.47" width="1.40" height="1.39" fill="#fffad5"/><rect x="529.01" y="54.47" width="2.79" height="1.39" fill="#fdf3b0"/><rect x="531.81" y="54.47" width="1.40" height="1.39" fill="#fcf0a2"/><rect x="533.21" y="54.47" width="1.40" height="1.39" fill="#fff9d2"/><rect x="534.61" y="54.47" width="1.40" height="1.39" fill="#fffdf1"/><rect x="536.00" y="54.47" width="1.40" height="1.39" fill="#f4db46"/><rect x="481.50" y="55.86" width="1.40" height="1.39" fill="#fffded"/><rect x="482.90" y="55.86" width="1.40" height="1.39" fill="#e5e9f8"/><rect x="484.30" y="55.86" width="1.40" height="1.39" fill="#f5f7fc"/><rect x="485.69" y="55.86" width="1.40" height="1.39" fill="#f4dd4c"/><rect x="487.09" y="55.86" width="1.40" height="1.39" fill="#eaedf9"/><rect x="488.49" y="55.86" width="1.40" height="1.39" fill="#dfe4f6"/><rect x="489.88" y="55.86" width="1.40" height="1.39" fill="#565fb6"/><rect x="491.28" y="55.86" width="1.40" height="1.39" fill="#9ba4dd"/><rect x="492.68" y="55.86" width="1.40" height="1.39" fill="#949eda"/><rect x="494.08" y="55.86" width="1.40" height="1.39" fill="#363ba3"/><rect x="495.48" y="55.86" width="11.18" height="1.39" fill="#3236a0"/><rect x="506.65" y="55.86" width="1.40" height="1.39" fill="#393ea4"/><rect x="508.05" y="55.86" width="1.40" height="1.39" fill="#c9cfee"/><rect x="509.45" y="55.86" width="1.40" height="1.39" fill="#fef5b8"/><rect x="510.85" y="55.86" width="1.40" height="1.39" fill="#edb023"/><rect x="512.25" y="55.86" width="1.40" height="1.39" fill="#c33c15"/><rect x="513.64" y="55.86" width="9.78" height="1.39" fill="#b01616"/><rect x="523.42" y="55.86" width="1.40" height="1.39" fill="#cf5615"/><rect x="524.82" y="55.86" width="1.40" height="1.39" fill="#edb022"/><rect x="526.22" y="55.86" width="1.40" height="1.39" fill="#f7e56e"/><rect x="527.62" y="55.86" width="1.40" height="1.39" fill="#edae21"/><rect x="529.01" y="55.86" width="1.40" height="1.39" fill="#fcfdfe"/><rect x="530.41" y="55.86" width="1.40" height="1.39" fill="#ebeef9"/><rect x="531.81" y="55.86" width="1.40" height="1.39" fill="#fbee9b"/><rect x="534.61" y="55.86" width="1.40" height="1.39" fill="#fff9d1"/><rect x="536.00" y="55.86" width="1.40" height="1.39" fill="#fff9cd"/><rect x="481.50" y="57.25" width="1.40" height="1.39" fill="#f2d23e"/><rect x="482.90" y="57.25" width="1.40" height="1.39" fill="#7982cb"/><rect x="484.30" y="57.25" width="1.40" height="1.39" fill="#e6e9f8"/><rect x="485.69" y="57.25" width="1.40" height="1.39" fill="#eff1fa"/><rect x="487.09" y="57.25" width="1.40" height="1.39" fill="#f0f2fb"/><rect x="488.49" y="57.25" width="1.40" height="1.39" fill="#a7b0e1"/><rect x="489.88" y="57.25" width="1.40" height="1.39" fill="#dfe4f6"/><rect x="491.28" y="57.25" width="1.40" height="1.39" fill="#fcf0a3"/><rect x="492.68" y="57.25" width="1.40" height="1.39" fill="#3236a0"/><rect x="494.08" y="57.25" width="1.40" height="1.39" fill="#757ec9"/><rect x="495.48" y="57.25" width="12.58" height="1.39" fill="#3236a0"/><rect x="508.05" y="57.25" width="1.40" height="1.39" fill="#b4bce6"/><rect x="509.45" y="57.25" width="1.40" height="1.39" fill="#f8f9fd"/><rect x="510.85" y="57.25" width="1.40" height="1.39" fill="#f6e15c"/><rect x="512.25" y="57.25" width="1.40" height="1.39" fill="#f1cc39"/><rect x="513.64" y="57.25" width="9.78" height="1.39" fill="#b01616"/><rect x="523.42" y="57.25" width="1.40" height="1.39" fill="#d56717"/><rect x="524.82" y="57.25" width="1.40" height="1.39" fill="#e9a01d"/><rect x="526.22" y="57.25" width="1.40" height="1.39" fill="#f1c937"/><rect x="527.62" y="57.25" width="1.40" height="1.39" fill="#f5df52"/><rect x="529.01" y="57.25" width="1.40" height="1.39" fill="#cfd5f0"/><rect x="530.41" y="57.25" width="1.40" height="1.39" fill="#e6eaf8"/><rect x="531.81" y="57.25" width="1.40" height="1.39" fill="#faeb8a"/><rect x="533.21" y="57.25" width="1.40" height="1.39" fill="#f7e56f"/><rect x="534.61" y="57.25" width="1.40" height="1.39" fill="#fffef6"/><rect x="536.00" y="57.25" width="1.40" height="1.39" fill="#f7e46a"/><rect x="481.50" y="58.64" width="1.40" height="1.39" fill="#fffef4"/><rect x="482.90" y="58.64" width="1.40" height="1.39" fill="#eef0fa"/><rect x="484.30" y="58.64" width="1.40" height="1.39" fill="#fbed94"/><rect x="485.69" y="58.64" width="1.40" height="1.39" fill="#eff1fa"/><rect x="487.09" y="58.64" width="1.40" height="1.39" fill="#d6dbf3"/><rect x="488.49" y="58.64" width="1.40" height="1.39" fill="#f1f3fb"/><rect x="489.88" y="58.64" width="1.40" height="1.39" fill="#8993d5"/><rect x="491.28" y="58.64" width="1.40" height="1.39" fill="#383da4"/><rect x="492.68" y="58.64" width="1.40" height="1.39" fill="#3438a1"/><rect x="494.08" y="58.64" width="1.40" height="1.39" fill="#4850ad"/><rect x="495.48" y="58.64" width="1.40" height="1.39" fill="#3b41a5"/><rect x="496.87" y="58.64" width="9.78" height="1.39" fill="#3236a0"/><rect x="506.65" y="58.64" width="1.40" height="1.39" fill="#3d44a7"/><rect x="508.05" y="58.64" width="1.40" height="1.39" fill="#555eb5"/><rect x="509.45" y="58.64" width="1.40" height="1.39" fill="#fcf1a6"/><rect x="510.85" y="58.64" width="1.40" height="1.39" fill="#fbee9a"/><rect x="512.25" y="58.64" width="1.40" height="1.39" fill="#b11716"/><rect x="513.64" y="58.64" width="1.40" height="1.39" fill="#d05a15"/><rect x="515.04" y="58.64" width="6.99" height="1.39" fill="#b01616"/><rect x="522.03" y="58.64" width="1.40" height="1.39" fill="#cb4d14"/><rect x="523.42" y="58.64" width="1.40" height="1.39" fill="#f2cd3a"/><rect x="524.82" y="58.64" width="1.40" height="1.39" fill="#f8f9fd"/><rect x="526.22" y="58.64" width="1.40" height="1.39" fill="#fffadb"/><rect x="527.62" y="58.64" width="1.40" height="1.39" fill="#a7afe1"/><rect x="529.01" y="58.64" width="1.40" height="1.39" fill="#fffdf3"/><rect x="530.41" y="58.64" width="1.40" height="1.39" fill="#fef6bf"/><rect x="531.81" y="58.64" width="1.40" height="1.39" fill="#fcfcfe"/><rect x="533.21" y="58.64" width="1.40" height="1.39" fill="#f4dc46"/><rect x="534.61" y="58.64" width="1.40" height="1.39" fill="#f5de50"/><rect x="536.00" y="58.64" width="1.40" height="1.39" fill="#f1ca37"/><rect x="481.50" y="60.03" width="1.40" height="1.39" fill="#e2e6f7"/><rect x="482.90" y="60.03" width="1.40" height="1.39" fill="#ebeef9"/><rect x="484.30" y="60.03" width="1.40" height="1.39" fill="#fffefb"/><rect x="485.69" y="60.03" width="1.40" height="1.39" fill="#d6dbf3"/><rect x="487.09" y="60.03" width="1.40" height="1.39" fill="#8892d5"/><rect x="488.49" y="60.03" width="1.40" height="1.39" fill="#f4dd49"/><rect x="489.88" y="60.03" width="1.40" height="1.39" fill="#e9ecf9"/><rect x="491.28" y="60.03" width="1.40" height="1.39" fill="#757fc9"/><rect x="492.68" y="60.03" width="1.40" height="1.39" fill="#818bd0"/><rect x="494.08" y="60.03" width="1.40" height="1.39" fill="#5c65ba"/><rect x="495.48" y="60.03" width="1.40" height="1.39" fill="#626bbd"/><rect x="496.87" y="60.03" width="1.40" height="1.39" fill="#3b41a5"/><rect x="498.27" y="60.03" width="8.38" height="1.39" fill="#3236a0"/><rect x="506.65" y="60.03" width="1.40" height="1.39" fill="#5c64b9"/><rect x="508.05" y="60.03" width="1.40" height="1.39" fill="#8c96d7"/><rect x="509.45" y="60.03" width="1.40" height="1.39" fill="#fffef6"/><rect x="510.85" y="60.03" width="1.40" height="1.39" fill="#eeb92a"/><rect x="512.25" y="60.03" width="1.40" height="1.39" fill="#d56917"/><rect x="513.64" y="60.03" width="8.38" height="1.39" fill="#b01616"/><rect x="522.03" y="60.03" width="1.40" height="1.39" fill="#d46416"/><rect x="523.42" y="60.03" width="1.40" height="1.39" fill="#f7e56e"/><rect x="524.82" y="60.03" width="1.40" height="1.39" fill="#f3d742"/><rect x="526.22" y="60.03" width="1.40" height="1.39" fill="#faeb8a"/><rect x="527.62" y="60.03" width="1.40" height="1.39" fill="#fffad5"/><rect x="529.01" y="60.03" width="1.40" height="1.39" fill="#fffad4"/><rect x="530.41" y="60.03" width="1.40" height="1.39" fill="#ccd2ef"/><rect x="531.81" y="60.03" width="1.40" height="1.39" fill="#d9def4"/><rect x="533.21" y="60.03" width="1.40" height="1.39" fill="#fffbe0"/><rect x="534.61" y="60.03" width="1.40" height="1.39" fill="#fffce9"/><rect x="536.00" y="60.03" width="1.40" height="1.39" fill="#fef6bd"/><rect x="481.50" y="61.42" width="2.79" height="1.39" fill="#f1f3fb"/><rect x="484.30" y="61.42" width="1.40" height="1.39" fill="#fafafd"/><rect x="485.69" y="61.42" width="1.40" height="1.39" fill="#f2f3fb"/><rect x="487.09" y="61.42" width="1.40" height="1.39" fill="#e7ebf8"/><rect x="488.49" y="61.42" width="1.40" height="1.39" fill="#e9ecf9"/><rect x="489.88" y="61.42" width="1.40" height="1.39" fill="#c5cced"/><rect x="491.28" y="61.42" width="1.40" height="1.39" fill="#a1a9df"/><rect x="492.68" y="61.42" width="1.40" height="1.39" fill="#4d55b0"/><rect x="494.08" y="61.42" width="1.40" height="1.39" fill="#abb3e3"/><rect x="495.48" y="61.42" width="1.40" height="1.39" fill="#4f57b2"/><rect x="496.87" y="61.42" width="1.40" height="1.39" fill="#818bd0"/><rect x="498.27" y="61.42" width="1.40" height="1.39" fill="#3c42a6"/><rect x="499.67" y="61.42" width="6.99" height="1.39" fill="#3236a0"/><rect x="506.65" y="61.42" width="1.40" height="1.39" fill="#5f68bb"/><rect x="508.05" y="61.42" width="1.40" height="1.39" fill="#8c96d7"/><rect x="509.45" y="61.42" width="1.40" height="1.39" fill="#fff8cc"/><rect x="510.85" y="61.42" width="1.40" height="1.39" fill="#f0c634"/><rect x="512.25" y="61.42" width="1.40" height="1.39" fill="#e38f1b"/><rect x="513.64" y="61.42" width="5.59" height="1.39" fill="#b01616"/><rect x="519.23" y="61.42" width="1.40" height="1.39" fill="#e18a1a"/><rect x="520.63" y="61.42" width="1.40" height="1.39" fill="#b01616"/><rect x="522.03" y="61.42" width="1.40" height="1.39" fill="#f5df55"/><rect x="523.42" y="61.42" width="1.40" height="1.39" fill="#cd5014"/><rect x="524.82" y="61.42" width="1.40" height="1.39" fill="#f1c735"/><rect x="526.22" y="61.42" width="1.40" height="1.39" fill="#fef5bb"/><rect x="527.62" y="61.42" width="1.40" height="1.39" fill="#f3f5fc"/><rect x="529.01" y="61.42" width="1.40" height="1.39" fill="#fffad8"/><rect x="530.41" y="61.42" width="1.40" height="1.39" fill="#f3d742"/><rect x="531.81" y="61.42" width="1.40" height="1.39" fill="#fffad9"/><rect x="533.21" y="61.42" width="1.40" height="1.39" fill="#fef5bc"/><rect x="534.61" y="61.42" width="1.40" height="1.39" fill="#fbed96"/><rect x="536.00" y="61.42" width="1.40" height="1.39" fill="#fffdec"/><rect x="481.50" y="62.81" width="1.40" height="1.39" fill="#f9e87c"/><rect x="482.90" y="62.81" width="1.40" height="1.39" fill="#fffbe0"/><rect x="484.30" y="62.81" width="1.40" height="1.39" fill="#dbe0f4"/><rect x="485.69" y="62.81" width="1.40" height="1.39" fill="#f5e057"/><rect x="487.09" y="62.81" width="1.40" height="1.39" fill="#f5df52"/><rect x="488.49" y="62.81" width="1.40" height="1.39" fill="#f0f2fb"/><rect x="489.88" y="62.81" width="1.40" height="1.39" fill="#fafafd"/><rect x="491.28" y="62.81" width="1.40" height="1.39" fill="#ccd2ef"/><rect x="492.68" y="62.81" width="1.40" height="1.39" fill="#5b64b9"/><rect x="494.08" y="62.81" width="1.40" height="1.39" fill="#7881cb"/><rect x="495.48" y="62.81" width="1.40" height="1.39" fill="#939dda"/><rect x="496.87" y="62.81" width="1.40" height="1.39" fill="#616abd"/><rect x="498.27" y="62.81" width="2.79" height="1.39" fill="#3236a0"/><rect x="501.06" y="62.81" width="1.40" height="1.39" fill="#3539a2"/><rect x="502.46" y="62.81" width="2.79" height="1.39" fill="#3236a0"/><rect x="505.26" y="62.81" width="1.40" height="1.39" fill="#565eb6"/><rect x="506.65" y="62.81" width="1.40" height="1.39" fill="#6069bc"/><rect x="508.05" y="62.81" width="1.40" height="1.39" fill="#6972c2"/><rect x="509.45" y="62.81" width="1.40" height="1.39" fill="#f7e46c"/><rect x="510.85" y="62.81" width="1.40" height="1.39" fill="#f7e46b"/><rect x="512.25" y="62.81" width="1.40" height="1.39" fill="#e18a1a"/><rect x="513.64" y="62.81" width="1.40" height="1.39" fill="#b01616"/><rect x="515.04" y="62.81" width="1.40" height="1.39" fill="#b11816"/><rect x="516.44" y="62.81" width="1.40" height="1.39" fill="#d66917"/><rect x="517.84" y="62.81" width="1.40" height="1.39" fill="#cf5615"/><rect x="519.23" y="62.81" width="1.40" height="1.39" fill="#eba81e"/><rect x="520.63" y="62.81" width="1.40" height="1.39" fill="#f6e15e"/><rect x="522.03" y="62.81" width="1.40" height="1.39" fill="#efbf2f"/><rect x="523.42" y="62.81" width="1.40" height="1.39" fill="#f3d843"/><rect x="524.82" y="62.81" width="1.40" height="1.39" fill="#f8e572"/><rect x="526.22" y="62.81" width="1.40" height="1.39" fill="#fff9ce"/><rect x="527.62" y="62.81" width="1.40" height="1.39" fill="#fffada"/><rect x="529.01" y="62.81" width="1.40" height="1.39" fill="#fff8c8"/><rect x="530.41" y="62.81" width="1.40" height="1.39" fill="#f6e05a"/><rect x="531.81" y="62.81" width="1.40" height="1.39" fill="#f1f3fb"/><rect x="533.21" y="62.81" width="1.40" height="1.39" fill="#e3e7f7"/><rect x="534.61" y="62.81" width="1.40" height="1.39" fill="#fffef8"/><rect x="536.00" y="62.81" width="1.40" height="1.39" fill="#acb4e3"/><rect x="481.50" y="64.20" width="1.40" height="1.39" fill="#fdf4b4"/><rect x="482.90" y="64.20" width="1.40" height="1.39" fill="#fef5ba"/><rect x="484.30" y="64.20" width="1.40" height="1.39" fill="#fefeff"/><rect x="485.69" y="64.20" width="1.40" height="1.39" fill="#f9e983"/><rect x="487.09" y="64.20" width="1.40" height="1.39" fill="#faeb8c"/><rect x="488.49" y="64.20" width="1.40" height="1.39" fill="#f9fafd"/><rect x="489.88" y="64.20" width="1.40" height="1.39" fill="#a5aee0"/><rect x="491.28" y="64.20" width="1.40" height="1.39" fill="#d4d9f2"/><rect x="492.68" y="64.20" width="1.40" height="1.39" fill="#5058b2"/><rect x="494.08" y="64.20" width="1.40" height="1.39" fill="#373ca3"/><rect x="495.48" y="64.20" width="1.40" height="1.39" fill="#6871c1"/><rect x="496.87" y="64.20" width="1.40" height="1.39" fill="#474fad"/><rect x="498.27" y="64.20" width="1.40" height="1.39" fill="#8c96d7"/><rect x="499.67" y="64.20" width="2.79" height="1.39" fill="#383ea4"/><rect x="502.46" y="64.20" width="1.40" height="1.39" fill="#3236a0"/><rect x="503.86" y="64.20" width="1.40" height="1.39" fill="#373ca3"/><rect x="505.26" y="64.20" width="1.40" height="1.39" fill="#3e44a7"/><rect x="506.65" y="64.20" width="1.40" height="1.39" fill="#bdc4ea"/><rect x="508.05" y="64.20" width="1.40" height="1.39" fill="#d3d9f2"/><rect x="509.45" y="64.20" width="1.40" height="1.39" fill="#fffef7"/><rect x="510.85" y="64.20" width="1.40" height="1.39" fill="#fdf4b4"/><rect x="512.25" y="64.20" width="1.40" height="1.39" fill="#edb124"/><rect x="513.64" y="64.20" width="1.40" height="1.39" fill="#db7818"/><rect x="515.04" y="64.20" width="1.40" height="1.39" fill="#ce5314"/><rect x="516.44" y="64.20" width="1.40" height="1.39" fill="#efba2b"/><rect x="517.84" y="64.20" width="1.40" height="1.39" fill="#f4dd4b"/><rect x="519.23" y="64.20" width="1.40" height="1.39" fill="#d56717"/><rect x="520.63" y="64.20" width="1.40" height="1.39" fill="#f8e675"/><rect x="522.03" y="64.20" width="1.40" height="1.39" fill="#df831a"/><rect x="523.42" y="64.20" width="1.40" height="1.39" fill="#e79c1c"/><rect x="524.82" y="64.20" width="1.40" height="1.39" fill="#eceef9"/><rect x="526.22" y="64.20" width="1.40" height="1.39" fill="#f3d641"/><rect x="527.62" y="64.20" width="1.40" height="1.39" fill="#fbef9e"/><rect x="529.01" y="64.20" width="1.40" height="1.39" fill="#fef6bf"/><rect x="530.41" y="64.20" width="1.40" height="1.39" fill="#fbef9e"/><rect x="531.81" y="64.20" width="2.79" height="1.39" fill="#fffad8"/><rect x="534.61" y="64.20" width="1.40" height="1.39" fill="#fcf1a5"/><rect x="536.00" y="64.20" width="1.40" height="1.39" fill="#858fd3"/><rect x="481.50" y="65.59" width="1.40" height="1.39" fill="#fcf0a1"/><rect x="482.90" y="65.59" width="1.40" height="1.39" fill="#fffdf1"/><rect x="484.30" y="65.59" width="1.40" height="1.39" fill="#eef1fa"/><rect x="485.69" y="65.59" width="1.40" height="1.39" fill="#fcefa0"/><rect x="487.09" y="65.59" width="1.40" height="1.39" fill="#959fda"/><rect x="488.49" y="65.59" width="1.40" height="1.39" fill="#d2d8f1"/><rect x="489.88" y="65.59" width="1.40" height="1.39" fill="#e5e9f8"/><rect x="491.28" y="65.59" width="1.40" height="1.39" fill="#fffbe3"/><rect x="492.68" y="65.59" width="1.40" height="1.39" fill="#c7ceed"/><rect x="494.08" y="65.59" width="1.40" height="1.39" fill="#e3e7f7"/><rect x="495.48" y="65.59" width="1.40" height="1.39" fill="#919bd9"/><rect x="496.87" y="65.59" width="1.40" height="1.39" fill="#fffce4"/><rect x="498.27" y="65.59" width="1.40" height="1.39" fill="#4951ae"/><rect x="499.67" y="65.59" width="1.40" height="1.39" fill="#4046a8"/><rect x="501.06" y="65.59" width="1.40" height="1.39" fill="#9da6dd"/><rect x="502.46" y="65.59" width="1.40" height="1.39" fill="#3539a2"/><rect x="503.86" y="65.59" width="1.40" height="1.39" fill="#949eda"/><rect x="505.26" y="65.59" width="1.40" height="1.39" fill="#5e66bb"/><rect x="506.65" y="65.59" width="1.40" height="1.39" fill="#a2abdf"/><rect x="508.05" y="65.59" width="1.40" height="1.39" fill="#c6cded"/><rect x="509.45" y="65.59" width="1.40" height="1.39" fill="#e79b1c"/><rect x="510.85" y="65.59" width="1.40" height="1.39" fill="#fff9d2"/><rect x="512.25" y="65.59" width="1.40" height="1.39" fill="#fff8c7"/><rect x="513.64" y="65.59" width="1.40" height="1.39" fill="#f0c534"/><rect x="515.04" y="65.59" width="1.40" height="1.39" fill="#d86f17"/><rect x="516.44" y="65.59" width="1.40" height="1.39" fill="#cc4e14"/><rect x="517.84" y="65.59" width="1.40" height="1.39" fill="#e38f1b"/><rect x="519.23" y="65.59" width="1.40" height="1.39" fill="#efba2b"/><rect x="520.63" y="65.59" width="1.40" height="1.39" fill="#fdf4b6"/><rect x="522.03" y="65.59" width="1.40" height="1.39" fill="#f3d541"/><rect x="523.42" y="65.59" width="1.40" height="1.39" fill="#f3f5fc"/><rect x="524.82" y="65.59" width="1.40" height="1.39" fill="#97a1db"/><rect x="526.22" y="65.59" width="1.40" height="1.39" fill="#fffefa"/><rect x="527.62" y="65.59" width="1.40" height="1.39" fill="#f1ca38"/><rect x="529.01" y="65.59" width="1.40" height="1.39" fill="#fffcea"/><rect x="530.41" y="65.59" width="1.40" height="1.39" fill="#fffdf2"/><rect x="531.81" y="65.59" width="1.40" height="1.39" fill="#9ea6de"/><rect x="533.21" y="65.59" width="1.40" height="1.39" fill="#fffdf2"/><rect x="534.61" y="65.59" width="1.40" height="1.39" fill="#fbee99"/><rect x="536.00" y="65.59" width="1.40" height="1.39" fill="#fffef6"/><rect x="481.50" y="66.98" width="1.40" height="1.39" fill="#ebeef9"/><rect x="482.90" y="66.98" width="1.40" height="1.39" fill="#f2f4fb"/><rect x="484.30" y="66.98" width="1.40" height="1.39" fill="#fffefa"/><rect x="485.69" y="66.98" width="1.40" height="1.39" fill="#fffdee"/><rect x="487.09" y="66.98" width="1.40" height="1.39" fill="#fffffe"/><rect x="488.49" y="66.98" width="1.40" height="1.39" fill="#8992d5"/><rect x="489.88" y="66.98" width="1.40" height="1.39" fill="#eaedf9"/><rect x="491.28" y="66.98" width="1.40" height="1.39" fill="#e5e9f8"/><rect x="492.68" y="66.98" width="1.40" height="1.39" fill="#f6f8fd"/><rect x="494.08" y="66.98" width="1.40" height="1.39" fill="#4e56b1"/><rect x="495.48" y="66.98" width="1.40" height="1.39" fill="#edeffa"/><rect x="496.87" y="66.98" width="1.40" height="1.39" fill="#fffcea"/><rect x="498.27" y="66.98" width="1.40" height="1.39" fill="#cdd3ef"/><rect x="501.06" y="66.98" width="1.40" height="1.39" fill="#fffbe1"/><rect x="502.46" y="66.98" width="1.40" height="1.39" fill="#393fa4"/><rect x="503.86" y="66.98" width="1.40" height="1.39" fill="#656dbf"/><rect x="505.26" y="66.98" width="1.40" height="1.39" fill="#e2e6f7"/><rect x="506.65" y="66.98" width="1.40" height="1.39" fill="#838cd1"/><rect x="508.05" y="66.98" width="1.40" height="1.39" fill="#eceffa"/><rect x="509.45" y="66.98" width="1.40" height="1.39" fill="#fffbe3"/><rect x="510.85" y="66.98" width="1.40" height="1.39" fill="#f6e260"/><rect x="512.25" y="66.98" width="1.40" height="1.39" fill="#fdf3b0"/><rect x="513.64" y="66.98" width="1.40" height="1.39" fill="#edb023"/><rect x="515.04" y="66.98" width="1.40" height="1.39" fill="#e1891a"/><rect x="516.44" y="66.98" width="1.40" height="1.39" fill="#f4dc48"/><rect x="517.84" y="66.98" width="1.40" height="1.39" fill="#fef6c1"/><rect x="519.23" y="66.98" width="1.40" height="1.39" fill="#f7e264"/><rect x="520.63" y="66.98" width="1.40" height="1.39" fill="#fef6bd"/><rect x="522.03" y="66.98" width="1.40" height="1.39" fill="#fef6c0"/><rect x="523.42" y="66.98" width="1.40" height="1.39" fill="#a3ace0"/><rect x="524.82" y="66.98" width="1.40" height="1.39" fill="#fdf4b4"/><rect x="526.22" y="66.98" width="1.40" height="1.39" fill="#f4dd4a"/><rect x="527.62" y="66.98" width="1.40" height="1.39" fill="#fffbe2"/><rect x="529.01" y="66.98" width="1.40" height="1.39" fill="#acb4e3"/><rect x="530.41" y="66.98" width="1.40" height="1.39" fill="#f1cc39"/><rect x="531.81" y="66.98" width="1.40" height="1.39" fill="#e8ecf9"/><rect x="533.21" y="66.98" width="1.40" height="1.39" fill="#fef6c0"/><rect x="534.61" y="66.98" width="1.40" height="1.39" fill="#fffad5"/><rect x="536.00" y="66.98" width="1.40" height="1.39" fill="#f4db46"/><rect x="481.50" y="68.37" width="1.40" height="1.39" fill="#f8e674"/><rect x="482.90" y="68.37" width="1.40" height="1.39" fill="#f8e571"/><rect x="484.30" y="68.37" width="1.40" height="1.39" fill="#b0b8e4"/><rect x="485.69" y="68.37" width="1.40" height="1.39" fill="#dce1f5"/><rect x="487.09" y="68.37" width="1.40" height="1.39" fill="#c8ceee"/><rect x="488.49" y="68.37" width="1.40" height="1.39" fill="#e7ebf8"/><rect x="489.88" y="68.37" width="1.40" height="1.39" fill="#e0e4f6"/><rect x="491.28" y="68.37" width="1.40" height="1.39" fill="#8a94d6"/><rect x="492.68" y="68.37" width="1.40" height="1.39" fill="#e5e9f8"/><rect x="494.08" y="68.37" width="1.40" height="1.39" fill="#dfe4f6"/><rect x="495.48" y="68.37" width="1.40" height="1.39" fill="#aab2e2"/><rect x="496.87" y="68.37" width="1.40" height="1.39" fill="#fbfcfe"/><rect x="498.27" y="68.37" width="1.40" height="1.39" fill="#fffce5"/><rect x="499.67" y="68.37" width="1.40" height="1.39" fill="#d2d7f1"/><rect x="501.06" y="68.37" width="1.40" height="1.39" fill="#6e77c5"/><rect x="502.46" y="68.37" width="1.40" height="1.39" fill="#9da6dd"/><rect x="503.86" y="68.37" width="1.40" height="1.39" fill="#adb5e4"/><rect x="505.26" y="68.37" width="1.40" height="1.39" fill="#d1d7f1"/><rect x="506.65" y="68.37" width="1.40" height="1.39" fill="#e8ecf9"/><rect x="508.05" y="68.37" width="1.40" height="1.39" fill="#bec4ea"/><rect x="509.45" y="68.37" width="1.40" height="1.39" fill="#f1cc39"/><rect x="510.85" y="68.37" width="1.40" height="1.39" fill="#c23915"/><rect x="512.25" y="68.37" width="1.40" height="1.39" fill="#f3d540"/><rect x="513.64" y="68.37" width="1.40" height="1.39" fill="#ecad20"/><rect x="516.44" y="68.37" width="1.40" height="1.39" fill="#f0c231"/><rect x="517.84" y="68.37" width="1.40" height="1.39" fill="#fffef3"/><rect x="519.23" y="68.37" width="1.40" height="1.39" fill="#f9fafd"/><rect x="520.63" y="68.37" width="1.40" height="1.39" fill="#fffbdd"/><rect x="522.03" y="68.37" width="1.40" height="1.39" fill="#fffbdc"/><rect x="523.42" y="68.37" width="1.40" height="1.39" fill="#fff9d0"/><rect x="524.82" y="68.37" width="1.40" height="1.39" fill="#fff9cd"/><rect x="526.22" y="68.37" width="1.40" height="1.39" fill="#fff7c2"/><rect x="527.62" y="68.37" width="1.40" height="1.39" fill="#e4e8f7"/><rect x="529.01" y="68.37" width="1.40" height="1.39" fill="#fff7c5"/><rect x="530.41" y="68.37" width="1.40" height="1.39" fill="#fffdf3"/><rect x="531.81" y="68.37" width="1.40" height="1.39" fill="#fffded"/><rect x="533.21" y="68.37" width="1.40" height="1.39" fill="#f2cf3c"/><rect x="534.61" y="68.37" width="1.40" height="1.39" fill="#f3f5fc"/><rect x="536.00" y="68.37" width="1.40" height="1.39" fill="#f3f4fb"/><rect x="481.50" y="69.76" width="1.40" height="1.39" fill="#afb7e4"/><rect x="482.90" y="69.76" width="1.40" height="1.39" fill="#f6f7fc"/><rect x="484.30" y="69.76" width="1.40" height="1.39" fill="#f5de51"/><rect x="485.69" y="69.76" width="1.40" height="1.39" fill="#f6e15b"/><rect x="487.09" y="69.76" width="1.40" height="1.39" fill="#e9ecf9"/><rect x="488.49" y="69.76" width="1.40" height="1.39" fill="#afb6e4"/><rect x="489.88" y="69.76" width="1.40" height="1.39" fill="#dbe0f5"/><rect x="491.28" y="69.76" width="1.40" height="1.39" fill="#fdfdfe"/><rect x="492.68" y="69.76" width="1.40" height="1.39" fill="#faeb8d"/><rect x="494.08" y="69.76" width="1.40" height="1.39" fill="#f4f5fc"/><rect x="495.48" y="69.76" width="1.40" height="1.39" fill="#6e77c5"/><rect x="496.87" y="69.76" width="1.40" height="1.39" fill="#b8bfe7"/><rect x="498.27" y="69.76" width="1.40" height="1.39" fill="#e4e8f7"/><rect x="499.67" y="69.76" width="1.40" height="1.39" fill="#fdf3b1"/><rect x="501.06" y="69.76" width="1.40" height="1.39" fill="#faeb8b"/><rect x="502.46" y="69.76" width="1.40" height="1.39" fill="#cbd1ef"/><rect x="503.86" y="69.76" width="1.40" height="1.39" fill="#eff1fa"/><rect x="505.26" y="69.76" width="1.40" height="1.39" fill="#e4e8f7"/><rect x="506.65" y="69.76" width="1.40" height="1.39" fill="#f4db45"/><rect x="508.05" y="69.76" width="1.40" height="1.39" fill="#f6f7fc"/><rect x="509.45" y="69.76" width="1.40" height="1.39" fill="#848dd2"/><rect x="510.85" y="69.76" width="2.79" height="1.39" fill="#f2d23e"/><rect x="513.64" y="69.76" width="1.40" height="1.39" fill="#fff9cf"/><rect x="515.04" y="69.76" width="1.40" height="1.39" fill="#fcefa0"/><rect x="516.44" y="69.76" width="1.40" height="1.39" fill="#efbc2c"/><rect x="517.84" y="69.76" width="1.40" height="1.39" fill="#fffdef"/><rect x="519.23" y="69.76" width="1.40" height="1.39" fill="#fffad8"/><rect x="520.63" y="69.76" width="1.40" height="1.39" fill="#fef6c1"/><rect x="522.03" y="69.76" width="1.40" height="1.39" fill="#fffef7"/><rect x="523.42" y="69.76" width="1.40" height="1.39" fill="#fdf2ac"/><rect x="524.82" y="69.76" width="1.40" height="1.39" fill="#fffef9"/><rect x="526.22" y="69.76" width="1.40" height="1.39" fill="#fff8cb"/><rect x="527.62" y="69.76" width="1.40" height="1.39" fill="#fef6be"/><rect x="529.01" y="69.76" width="1.40" height="1.39" fill="#f2d03c"/><rect x="530.41" y="69.76" width="1.40" height="1.39" fill="#f8e779"/><rect x="531.81" y="69.76" width="1.40" height="1.39" fill="#fffef7"/><rect x="533.21" y="69.76" width="1.40" height="1.39" fill="#fdf3b2"/><rect x="534.61" y="69.76" width="1.40" height="1.39" fill="#fffded"/><rect x="536.00" y="69.76" width="1.40" height="1.39" fill="#aab2e2"/><rect x="481.50" y="71.15" width="1.40" height="1.39" fill="#fffad6"/><rect x="482.90" y="71.15" width="1.40" height="1.39" fill="#f0f2fb"/><rect x="484.30" y="71.15" width="1.40" height="1.39" fill="#f4f6fc"/><rect x="485.69" y="71.15" width="1.40" height="1.39" fill="#fef4b7"/><rect x="487.09" y="71.15" width="2.79" height="1.39" fill="#f7f8fd"/><rect x="489.88" y="71.15" width="1.40" height="1.39" fill="#f2d13d"/><rect x="491.28" y="71.15" width="1.40" height="1.39" fill="#eef0fa"/><rect x="492.68" y="71.15" width="1.40" height="1.39" fill="#eaedf9"/><rect x="494.08" y="71.15" width="1.40" height="1.39" fill="#e8ecf9"/><rect x="495.48" y="71.15" width="1.40" height="1.39" fill="#e9ecf9"/><rect x="496.87" y="71.15" width="1.40" height="1.39" fill="#939dda"/><rect x="498.27" y="71.15" width="1.40" height="1.39" fill="#c2c8eb"/><rect x="499.67" y="71.15" width="1.40" height="1.39" fill="#c0c7eb"/><rect x="501.06" y="71.15" width="1.40" height="1.39" fill="#bbc2e9"/><rect x="502.46" y="71.15" width="1.40" height="1.39" fill="#e0e4f6"/><rect x="503.86" y="71.15" width="1.40" height="1.39" fill="#f4f5fc"/><rect x="505.26" y="71.15" width="1.40" height="1.39" fill="#f9e87d"/><rect x="506.65" y="71.15" width="1.40" height="1.39" fill="#e9ecf9"/><rect x="508.05" y="71.15" width="1.40" height="1.39" fill="#e9edf9"/><rect x="509.45" y="71.15" width="1.40" height="1.39" fill="#6d76c4"/><rect x="510.85" y="71.15" width="1.40" height="1.39" fill="#fffadb"/><rect x="512.25" y="71.15" width="1.40" height="1.39" fill="#8790d4"/><rect x="513.64" y="71.15" width="1.40" height="1.39" fill="#e89e1d"/><rect x="515.04" y="71.15" width="1.40" height="1.39" fill="#fffdee"/><rect x="516.44" y="71.15" width="1.40" height="1.39" fill="#f1f3fb"/><rect x="517.84" y="71.15" width="1.40" height="1.39" fill="#fcf1a6"/><rect x="519.23" y="71.15" width="1.40" height="1.39" fill="#f1cc39"/><rect x="520.63" y="71.15" width="1.40" height="1.39" fill="#f7f8fd"/><rect x="522.03" y="71.15" width="1.40" height="1.39" fill="#fbee9b"/><rect x="523.42" y="71.15" width="1.40" height="1.39" fill="#f3f5fc"/><rect x="524.82" y="71.15" width="1.40" height="1.39" fill="#fffcea"/><rect x="526.22" y="71.15" width="1.40" height="1.39" fill="#f6e05a"/><rect x="527.62" y="71.15" width="1.40" height="1.39" fill="#fcefa0"/><rect x="529.01" y="71.15" width="1.40" height="1.39" fill="#faeb8b"/><rect x="530.41" y="71.15" width="1.40" height="1.39" fill="#dde2f5"/><rect x="531.81" y="71.15" width="1.40" height="1.39" fill="#f0f2fb"/><rect x="533.21" y="71.15" width="1.40" height="1.39" fill="#e5e9f8"/><rect x="534.61" y="71.15" width="1.40" height="1.39" fill="#f3d641"/><rect x="536.00" y="71.15" width="1.40" height="1.39" fill="#fffef7"/><rect x="481.50" y="72.54" width="1.40" height="1.39" fill="#fff9d0"/><rect x="482.90" y="72.54" width="1.40" height="1.39" fill="#fff8c8"/><rect x="484.30" y="72.54" width="1.40" height="1.39" fill="#e7eaf8"/><rect x="485.69" y="72.54" width="1.40" height="1.39" fill="#e5e8f7"/><rect x="487.09" y="72.54" width="1.40" height="1.39" fill="#f8e673"/><rect x="488.49" y="72.54" width="1.40" height="1.39" fill="#919bd9"/><rect x="489.88" y="72.54" width="1.40" height="1.39" fill="#fff9d4"/><rect x="491.28" y="72.54" width="1.40" height="1.39" fill="#e5e8f7"/><rect x="492.68" y="72.54" width="1.40" height="1.39" fill="#eceffa"/><rect x="494.08" y="72.54" width="1.40" height="1.39" fill="#f9fafd"/><rect x="495.48" y="72.54" width="1.40" height="1.39" fill="#f5df54"/><rect x="496.87" y="72.54" width="1.40" height="1.39" fill="#f0f2fb"/><rect x="498.27" y="72.54" width="1.40" height="1.39" fill="#dce1f5"/><rect x="499.67" y="72.54" width="1.40" height="1.39" fill="#c8ceed"/><rect x="501.06" y="72.54" width="1.40" height="1.39" fill="#f1f3fb"/><rect x="502.46" y="72.54" width="1.40" height="1.39" fill="#faeb8b"/><rect x="503.86" y="72.54" width="1.40" height="1.39" fill="#a5ade0"/><rect x="505.26" y="72.54" width="1.40" height="1.39" fill="#c9cfee"/><rect x="506.65" y="72.54" width="1.40" height="1.39" fill="#dde2f5"/><rect x="508.05" y="72.54" width="1.40" height="1.39" fill="#ebeef9"/><rect x="509.45" y="72.54" width="1.40" height="1.39" fill="#fffceb"/><rect x="510.85" y="72.54" width="1.40" height="1.39" fill="#fffdef"/><rect x="512.25" y="72.54" width="1.40" height="1.39" fill="#fffce8"/><rect x="513.64" y="72.54" width="1.40" height="1.39" fill="#fffad5"/><rect x="515.04" y="72.54" width="1.40" height="1.39" fill="#faeb8e"/><rect x="516.44" y="72.54" width="1.40" height="1.39" fill="#fffef6"/><rect x="517.84" y="72.54" width="1.40" height="1.39" fill="#f2d23e"/><rect x="519.23" y="72.54" width="1.40" height="1.39" fill="#fffce6"/><rect x="520.63" y="72.54" width="1.40" height="1.39" fill="#ecab1f"/><rect x="522.03" y="72.54" width="1.40" height="1.39" fill="#fff9d1"/><rect x="523.42" y="72.54" width="1.40" height="1.39" fill="#faec92"/><rect x="524.82" y="72.54" width="1.40" height="1.39" fill="#fffada"/><rect x="526.22" y="72.54" width="1.40" height="1.39" fill="#f8f9fd"/><rect x="527.62" y="72.54" width="1.40" height="1.39" fill="#8992d5"/><rect x="529.01" y="72.54" width="1.40" height="1.39" fill="#fffadb"/><rect x="530.41" y="72.54" width="1.40" height="1.39" fill="#9da6de"/><rect x="531.81" y="72.54" width="1.40" height="1.39" fill="#fffded"/><rect x="533.21" y="72.54" width="1.40" height="1.39" fill="#fffce8"/><rect x="534.61" y="72.54" width="1.40" height="1.39" fill="#f0c030"/><rect x="536.00" y="72.54" width="1.40" height="1.39" fill="#fff7c4"/><rect x="481.50" y="73.93" width="1.40" height="1.39" fill="#f7f8fd"/><rect x="482.90" y="73.93" width="1.40" height="1.39" fill="#f3d742"/><rect x="484.30" y="73.93" width="1.40" height="1.39" fill="#fcfcfe"/><rect x="485.69" y="73.93" width="1.40" height="1.39" fill="#f1f3fb"/><rect x="487.09" y="73.93" width="1.40" height="1.39" fill="#fbed94"/><rect x="488.49" y="73.93" width="1.40" height="1.39" fill="#f1f3fb"/><rect x="489.88" y="73.93" width="1.40" height="1.39" fill="#fcf1a9"/><rect x="491.28" y="73.93" width="1.40" height="1.39" fill="#fffdee"/><rect x="492.68" y="73.93" width="1.40" height="1.39" fill="#eceffa"/><rect x="494.08" y="73.93" width="1.40" height="1.39" fill="#cbd1ef"/><rect x="495.48" y="73.93" width="1.40" height="1.39" fill="#dee3f6"/><rect x="496.87" y="73.93" width="1.40" height="1.39" fill="#7780ca"/><rect x="498.27" y="73.93" width="1.40" height="1.39" fill="#f3f5fc"/><rect x="499.67" y="73.93" width="2.79" height="1.39" fill="#e8ebf8"/><rect x="502.46" y="73.93" width="1.40" height="1.39" fill="#f6f7fc"/><rect x="503.86" y="73.93" width="1.40" height="1.39" fill="#f5f7fc"/><rect x="505.26" y="73.93" width="1.40" height="1.39" fill="#c4cbec"/><rect x="506.65" y="73.93" width="1.40" height="1.39" fill="#fdfdfe"/><rect x="508.05" y="73.93" width="1.40" height="1.39" fill="#fbfcfe"/><rect x="509.45" y="73.93" width="1.40" height="1.39" fill="#f7f8fd"/><rect x="510.85" y="73.93" width="1.40" height="1.39" fill="#f3d541"/><rect x="512.25" y="73.93" width="1.40" height="1.39" fill="#fffefa"/><rect x="513.64" y="73.93" width="1.40" height="1.39" fill="#fff8c7"/><rect x="515.04" y="73.93" width="1.40" height="1.39" fill="#fefeff"/><rect x="516.44" y="73.93" width="1.40" height="1.39" fill="#f3d742"/><rect x="517.84" y="73.93" width="1.40" height="1.39" fill="#fbef9e"/><rect x="519.23" y="73.93" width="1.40" height="1.39" fill="#fffcea"/><rect x="520.63" y="73.93" width="1.40" height="1.39" fill="#fffceb"/><rect x="522.03" y="73.93" width="1.40" height="1.39" fill="#fffce9"/><rect x="523.42" y="73.93" width="1.40" height="1.39" fill="#a1aadf"/><rect x="524.82" y="73.93" width="1.40" height="1.39" fill="#f9e981"/><rect x="526.22" y="73.93" width="1.40" height="1.39" fill="#fffdf2"/><rect x="527.62" y="73.93" width="1.40" height="1.39" fill="#fffadb"/><rect x="529.01" y="73.93" width="1.40" height="1.39" fill="#fffcea"/><rect x="530.41" y="73.93" width="1.40" height="1.39" fill="#f6e059"/><rect x="531.81" y="73.93" width="1.40" height="1.39" fill="#a3abe0"/><rect x="533.21" y="73.93" width="1.40" height="1.39" fill="#fffef9"/><rect x="534.61" y="73.93" width="1.40" height="1.39" fill="#fffbe0"/><rect x="536.00" y="73.93" width="1.40" height="1.39" fill="#f7f8fd"/><rect x="481.50" y="75.32" width="1.40" height="1.39" fill="#8b95d6"/><rect x="482.90" y="75.32" width="1.40" height="1.39" fill="#7983cb"/><rect x="484.30" y="75.32" width="1.40" height="1.39" fill="#fffdf0"/><rect x="485.69" y="75.32" width="1.40" height="1.39" fill="#f7f8fd"/><rect x="487.09" y="75.32" width="1.40" height="1.39" fill="#e6eaf8"/><rect x="488.49" y="75.32" width="1.40" height="1.39" fill="#e0e4f6"/><rect x="489.88" y="75.32" width="1.40" height="1.39" fill="#f1f3fb"/><rect x="491.28" y="75.32" width="1.40" height="1.39" fill="#fffdec"/><rect x="492.68" y="75.32" width="1.40" height="1.39" fill="#c6cced"/><rect x="494.08" y="75.32" width="1.40" height="1.39" fill="#ebeef9"/><rect x="495.48" y="75.32" width="1.40" height="1.39" fill="#f5f6fc"/><rect x="496.87" y="75.32" width="1.40" height="1.39" fill="#fff9d3"/><rect x="498.27" y="75.32" width="1.40" height="1.39" fill="#fffffc"/><rect x="499.67" y="75.32" width="1.40" height="1.39" fill="#e8ebf8"/><rect x="501.06" y="75.32" width="1.40" height="1.39" fill="#f1f3fb"/><rect x="502.46" y="75.32" width="1.40" height="1.39" fill="#f8e572"/><rect x="503.86" y="75.32" width="1.40" height="1.39" fill="#bfc6ea"/><rect x="505.26" y="75.32" width="1.40" height="1.39" fill="#fef6bd"/><rect x="506.65" y="75.32" width="1.40" height="1.39" fill="#fffdf1"/><rect x="508.05" y="75.32" width="1.40" height="1.39" fill="#e4e8f7"/><rect x="509.45" y="75.32" width="1.40" height="1.39" fill="#fdf3af"/><rect x="510.85" y="75.32" width="1.40" height="1.39" fill="#fff9d1"/><rect x="512.25" y="75.32" width="1.40" height="1.39" fill="#f3d541"/><rect x="513.64" y="75.32" width="1.40" height="1.39" fill="#f9e87c"/><rect x="515.04" y="75.32" width="1.40" height="1.39" fill="#fcf1a8"/><rect x="516.44" y="75.32" width="1.40" height="1.39" fill="#efbf2e"/><rect x="517.84" y="75.32" width="1.40" height="1.39" fill="#c0c7eb"/><rect x="519.23" y="75.32" width="1.40" height="1.39" fill="#fff8c7"/><rect x="520.63" y="75.32" width="1.40" height="1.39" fill="#f8e570"/><rect x="522.03" y="75.32" width="1.40" height="1.39" fill="#fffce6"/><rect x="523.42" y="75.32" width="1.40" height="1.39" fill="#fefeff"/><rect x="524.82" y="75.32" width="1.40" height="1.39" fill="#eff1fa"/><rect x="526.22" y="75.32" width="1.40" height="1.39" fill="#fffad6"/><rect x="527.62" y="75.32" width="1.40" height="1.39" fill="#fff8cb"/><rect x="529.01" y="75.32" width="1.40" height="1.39" fill="#f2cd3a"/><rect x="530.41" y="75.32" width="1.40" height="1.39" fill="#fefeff"/><rect x="531.81" y="75.32" width="1.40" height="1.39" fill="#fffef6"/><rect x="533.21" y="75.32" width="1.40" height="1.39" fill="#fffce8"/><rect x="534.61" y="75.32" width="1.40" height="1.39" fill="#f0f2fb"/><rect x="536.00" y="75.32" width="1.40" height="1.39" fill="#7f88cf"/><rect x="481.50" y="76.71" width="1.40" height="1.39" fill="#fcfcfe"/><rect x="482.90" y="76.71" width="1.40" height="1.39" fill="#faeb8a"/><rect x="484.30" y="76.71" width="1.40" height="1.39" fill="#fffef4"/><rect x="485.69" y="76.71" width="1.40" height="1.39" fill="#fbfbfe"/><rect x="487.09" y="76.71" width="1.40" height="1.39" fill="#fff9d2"/><rect x="488.49" y="76.71" width="1.40" height="1.39" fill="#fffef4"/><rect x="489.88" y="76.71" width="1.40" height="1.39" fill="#e1e5f6"/><rect x="491.28" y="76.71" width="1.40" height="1.39" fill="#e9ecf9"/><rect x="492.68" y="76.71" width="1.40" height="1.39" fill="#fdf4b4"/><rect x="494.08" y="76.71" width="1.40" height="1.39" fill="#fef5ba"/><rect x="495.48" y="76.71" width="1.40" height="1.39" fill="#dfe4f6"/><rect x="496.87" y="76.71" width="1.40" height="1.39" fill="#eaedf9"/><rect x="498.27" y="76.71" width="1.40" height="1.39" fill="#eceffa"/><rect x="499.67" y="76.71" width="1.40" height="1.39" fill="#e5e9f8"/><rect x="501.06" y="76.71" width="1.40" height="1.39" fill="#fdf3af"/><rect x="502.46" y="76.71" width="1.40" height="1.39" fill="#f7e368"/><rect x="503.86" y="76.71" width="1.40" height="1.39" fill="#838cd1"/><rect x="505.26" y="76.71" width="1.40" height="1.39" fill="#7d86ce"/><rect x="506.65" y="76.71" width="1.40" height="1.39" fill="#b5bce6"/><rect x="508.05" y="76.71" width="1.40" height="1.39" fill="#fffef4"/><rect x="509.45" y="76.71" width="1.40" height="1.39" fill="#feffff"/><rect x="510.85" y="76.71" width="1.40" height="1.39" fill="#d0d5f0"/><rect x="512.25" y="76.71" width="2.79" height="1.39" fill="#f3f5fc"/><rect x="515.04" y="76.71" width="1.40" height="1.39" fill="#dee3f6"/><rect x="516.44" y="76.71" width="1.40" height="1.39" fill="#f5df54"/><rect x="517.84" y="76.71" width="1.40" height="1.39" fill="#fffefb"/><rect x="519.23" y="76.71" width="1.40" height="1.39" fill="#fffbe3"/><rect x="520.63" y="76.71" width="1.40" height="1.39" fill="#bdc4e9"/><rect x="522.03" y="76.71" width="1.40" height="1.39" fill="#fbee99"/><rect x="523.42" y="76.71" width="1.40" height="1.39" fill="#fffffb"/><rect x="524.82" y="76.71" width="1.40" height="1.39" fill="#f2f4fb"/><rect x="526.22" y="76.71" width="1.40" height="1.39" fill="#fcfcfe"/><rect x="527.62" y="76.71" width="1.40" height="1.39" fill="#fffef4"/><rect x="529.01" y="76.71" width="1.40" height="1.39" fill="#fdf3b2"/><rect x="530.41" y="76.71" width="1.40" height="1.39" fill="#b2b9e5"/><rect x="531.81" y="76.71" width="1.40" height="1.39" fill="#d2d7f1"/><rect x="533.21" y="76.71" width="1.40" height="1.39" fill="#d8ddf3"/><rect x="534.61" y="76.71" width="1.40" height="1.39" fill="#fffadb"/><rect x="536.00" y="76.71" width="1.40" height="1.39" fill="#f7f8fd"/></g><rect x="481.5" y="22.5" width="55.90" height="55.6" fill="none" stroke="#111" stroke-width="1"/><line x1="489.60" y1="22.5" x2="489.60" y2="24.5" stroke="#111" stroke-width="0.8"/><line x1="489.60" y1="78.1" x2="489.60" y2="76.1" stroke="#111" stroke-width="0.8"/><line x1="481.5" y1="69.50" x2="483.5" y2="69.50" stroke="#111" stroke-width="0.8"/><line x1="537.4" y1="69.50" x2="535.4" y2="69.50" stroke="#111" stroke-width="0.8"/><text x="480.20" y="72.60" font-family='"Liberation Sans", sans-serif' font-size="8.6" text-anchor="end" fill="#111" font-weight="normal" font-style="normal" >-50</text><text x="489.60" y="87.50" font-family='"Liberation Sans", sans-serif' font-size="8.6" text-anchor="middle" fill="#111" font-weight="normal" font-style="normal" >-50</text><line x1="508.70" y1="22.5" x2="508.70" y2="24.5" stroke="#111" stroke-width="0.8"/><line x1="508.70" y1="78.1" x2="508.70" y2="76.1" stroke="#111" stroke-width="0.8"/><line x1="481.5" y1="50.40" x2="483.5" y2="50.40" stroke="#111" stroke-width="0.8"/><line x1="537.4" y1="50.40" x2="535.4" y2="50.40" stroke="#111" stroke-width="0.8"/><text x="480.20" y="53.50" font-family='"Liberation Sans", sans-serif' font-size="8.6" text-anchor="end" fill="#111" font-weight="normal" font-style="normal" >0</text><text x="508.70" y="87.50" font-family='"Liberation Sans", sans-serif' font-size="8.6" text-anchor="middle" fill="#111" font-weight="normal" font-style="normal" >0</text><line x1="527.80" y1="22.5" x2="527.80" y2="24.5" stroke="#111" stroke-width="0.8"/><line x1="527.80" y1="78.1" x2="527.80" y2="76.1" stroke="#111" stroke-width="0.8"/><line x1="481.5" y1="31.30" x2="483.5" y2="31.30" stroke="#111" stroke-width="0.8"/><line x1="537.4" y1="31.30" x2="535.4" y2="31.30" stroke="#111" stroke-width="0.8"/><text x="480.20" y="34.40" font-family='"Liberation Sans", sans-serif' font-size="8.6" text-anchor="end" fill="#111" font-weight="normal" font-style="normal" >50</text><text x="527.80" y="87.50" font-family='"Liberation Sans", sans-serif' font-size="8.6" text-anchor="middle" fill="#111" font-weight="normal" font-style="normal" >50</text><rect x="481.5" y="90.1" width="55.90" height="55.6" fill="#fff"/><g shape-rendering="crispEdges"><rect x="481.50" y="90.10" width="1.40" height="1.39" fill="#faed93"/><rect x="482.90" y="90.10" width="1.40" height="1.39" fill="#efbf2f"/><rect x="484.30" y="90.10" width="1.40" height="1.39" fill="#98a1dc"/><rect x="485.69" y="90.10" width="1.40" height="1.39" fill="#8892d4"/><rect x="487.09" y="90.10" width="1.40" height="1.39" fill="#fffdef"/><rect x="488.49" y="90.10" width="1.40" height="1.39" fill="#fef6be"/><rect x="489.88" y="90.10" width="1.40" height="1.39" fill="#f2cd3a"/><rect x="491.28" y="90.10" width="1.40" height="1.39" fill="#f8e676"/><rect x="492.68" y="90.10" width="1.40" height="1.39" fill="#fbef9d"/><rect x="494.08" y="90.10" width="1.40" height="1.39" fill="#f8f9fd"/><rect x="495.48" y="90.10" width="1.40" height="1.39" fill="#f5df53"/><rect x="496.87" y="90.10" width="1.40" height="1.39" fill="#f2d23e"/><rect x="498.27" y="90.10" width="1.40" height="1.39" fill="#f1cb39"/><rect x="499.67" y="90.10" width="1.40" height="1.39" fill="#f4f6fc"/><rect x="501.06" y="90.10" width="1.40" height="1.39" fill="#fffada"/><rect x="502.46" y="90.10" width="1.40" height="1.39" fill="#f7e46c"/><rect x="503.86" y="90.10" width="1.40" height="1.39" fill="#edb225"/><rect x="505.26" y="90.10" width="1.40" height="1.39" fill="#f7e469"/><rect x="506.65" y="90.10" width="1.40" height="1.39" fill="#fff9cf"/><rect x="508.05" y="90.10" width="1.40" height="1.39" fill="#bbc2e9"/><rect x="509.45" y="90.10" width="1.40" height="1.39" fill="#fffbe0"/><rect x="510.85" y="90.10" width="1.40" height="1.39" fill="#f6e058"/><rect x="512.25" y="90.10" width="1.40" height="1.39" fill="#fffce4"/><rect x="513.64" y="90.10" width="1.40" height="1.39" fill="#fffcea"/><rect x="515.04" y="90.10" width="1.40" height="1.39" fill="#fff7c4"/><rect x="516.44" y="90.10" width="1.40" height="1.39" fill="#f9ea85"/><rect x="517.84" y="90.10" width="1.40" height="1.39" fill="#fffce4"/><rect x="519.23" y="90.10" width="1.40" height="1.39" fill="#fffef9"/><rect x="520.63" y="90.10" width="1.40" height="1.39" fill="#919bd9"/><rect x="522.03" y="90.10" width="1.40" height="1.39" fill="#acb4e3"/><rect x="523.42" y="90.10" width="1.40" height="1.39" fill="#b5bce6"/><rect x="524.82" y="90.10" width="1.40" height="1.39" fill="#fffce5"/><rect x="526.22" y="90.10" width="1.40" height="1.39" fill="#fffad5"/><rect x="527.62" y="90.10" width="1.40" height="1.39" fill="#e7ebf8"/><rect x="529.01" y="90.10" width="1.40" height="1.39" fill="#fff9d3"/><rect x="530.41" y="90.10" width="1.40" height="1.39" fill="#f3d440"/><rect x="531.81" y="90.10" width="1.40" height="1.39" fill="#fffdec"/><rect x="533.21" y="90.10" width="1.40" height="1.39" fill="#fff8ca"/><rect x="534.61" y="90.10" width="1.40" height="1.39" fill="#fcfdfe"/><rect x="536.00" y="90.10" width="1.40" height="1.39" fill="#fffcea"/><rect x="481.50" y="91.49" width="1.40" height="1.39" fill="#f2ce3b"/><rect x="482.90" y="91.49" width="1.40" height="1.39" fill="#e9ecf9"/><rect x="484.30" y="91.49" width="1.40" height="1.39" fill="#fef5bb"/><rect x="485.69" y="91.49" width="1.40" height="1.39" fill="#fbed94"/><rect x="487.09" y="91.49" width="1.40" height="1.39" fill="#fffbdf"/><rect x="488.49" y="91.49" width="1.40" height="1.39" fill="#fef4b7"/><rect x="489.88" y="91.49" width="1.40" height="1.39" fill="#fcf1a8"/><rect x="491.28" y="91.49" width="1.40" height="1.39" fill="#fff7c5"/><rect x="492.68" y="91.49" width="1.40" height="1.39" fill="#fffce7"/><rect x="494.08" y="91.49" width="1.40" height="1.39" fill="#f4db45"/><rect x="495.48" y="91.49" width="1.40" height="1.39" fill="#fdf3b2"/><rect x="496.87" y="91.49" width="1.40" height="1.39" fill="#b2bae5"/><rect x="498.27" y="91.49" width="1.40" height="1.39" fill="#f0c533"/><rect x="499.67" y="91.49" width="1.40" height="1.39" fill="#fcf0a4"/><rect x="501.06" y="91.49" width="1.40" height="1.39" fill="#dde2f5"/><rect x="502.46" y="91.49" width="1.40" height="1.39" fill="#fef6c1"/><rect x="503.86" y="91.49" width="1.40" height="1.39" fill="#d7dcf3"/><rect x="505.26" y="91.49" width="1.40" height="1.39" fill="#f5de4e"/><rect x="506.65" y="91.49" width="1.40" height="1.39" fill="#fef5bb"/><rect x="508.05" y="91.49" width="1.40" height="1.39" fill="#bcc3e9"/><rect x="509.45" y="91.49" width="1.40" height="1.39" fill="#fff7c4"/><rect x="510.85" y="91.49" width="1.40" height="1.39" fill="#fff9d3"/><rect x="512.25" y="91.49" width="1.40" height="1.39" fill="#fdf2ad"/><rect x="513.64" y="91.49" width="1.40" height="1.39" fill="#feffff"/><rect x="515.04" y="91.49" width="1.40" height="1.39" fill="#fef5b9"/><rect x="516.44" y="91.49" width="1.40" height="1.39" fill="#f2ce3b"/><rect x="517.84" y="91.49" width="1.40" height="1.39" fill="#fcf1a6"/><rect x="519.23" y="91.49" width="1.40" height="1.39" fill="#fffef8"/><rect x="520.63" y="91.49" width="1.40" height="1.39" fill="#f1f3fb"/><rect x="522.03" y="91.49" width="1.40" height="1.39" fill="#f5f7fc"/><rect x="523.42" y="91.49" width="1.40" height="1.39" fill="#f5f6fc"/><rect x="524.82" y="91.49" width="1.40" height="1.39" fill="#eeb92a"/><rect x="526.22" y="91.49" width="1.40" height="1.39" fill="#fffdef"/><rect x="527.62" y="91.49" width="1.40" height="1.39" fill="#f8f9fd"/><rect x="529.01" y="91.49" width="1.40" height="1.39" fill="#fefeff"/><rect x="530.41" y="91.49" width="1.40" height="1.39" fill="#f1f3fb"/><rect x="531.81" y="91.49" width="1.40" height="1.39" fill="#838cd1"/><rect x="533.21" y="91.49" width="1.40" height="1.39" fill="#fffce4"/><rect x="534.61" y="91.49" width="1.40" height="1.39" fill="#f1f3fb"/><rect x="536.00" y="91.49" width="1.40" height="1.39" fill="#dde2f5"/><rect x="481.50" y="92.88" width="1.40" height="1.39" fill="#faec91"/><rect x="482.90" y="92.88" width="1.40" height="1.39" fill="#fff8ca"/><rect x="484.30" y="92.88" width="1.40" height="1.39" fill="#fffdef"/><rect x="485.69" y="92.88" width="1.40" height="1.39" fill="#f2d23e"/><rect x="487.09" y="92.88" width="1.40" height="1.39" fill="#f5e057"/><rect x="488.49" y="92.88" width="1.40" height="1.39" fill="#f3d641"/><rect x="489.88" y="92.88" width="1.40" height="1.39" fill="#fff9cf"/><rect x="491.28" y="92.88" width="1.40" height="1.39" fill="#edb325"/><rect x="492.68" y="92.88" width="1.40" height="1.39" fill="#f7e368"/><rect x="495.48" y="92.88" width="1.40" height="1.39" fill="#aab2e2"/><rect x="496.87" y="92.88" width="1.40" height="1.39" fill="#fef6bd"/><rect x="498.27" y="92.88" width="1.40" height="1.39" fill="#f4dd4c"/><rect x="499.67" y="92.88" width="1.40" height="1.39" fill="#f8e77b"/><rect x="501.06" y="92.88" width="1.40" height="1.39" fill="#fffef8"/><rect x="502.46" y="92.88" width="1.40" height="1.39" fill="#fcf1a7"/><rect x="503.86" y="92.88" width="1.40" height="1.39" fill="#fffad6"/><rect x="505.26" y="92.88" width="1.40" height="1.39" fill="#bdc4e9"/><rect x="506.65" y="92.88" width="1.40" height="1.39" fill="#bec5ea"/><rect x="508.05" y="92.88" width="1.40" height="1.39" fill="#d1d7f1"/><rect x="509.45" y="92.88" width="1.40" height="1.39" fill="#fffad5"/><rect x="510.85" y="92.88" width="1.40" height="1.39" fill="#ecad20"/><rect x="512.25" y="92.88" width="1.40" height="1.39" fill="#f1cc39"/><rect x="513.64" y="92.88" width="1.40" height="1.39" fill="#f0c332"/><rect x="515.04" y="92.88" width="1.40" height="1.39" fill="#fbed93"/><rect x="516.44" y="92.88" width="2.79" height="1.39" fill="#fffdee"/><rect x="519.23" y="92.88" width="1.40" height="1.39" fill="#fffce8"/><rect x="522.03" y="92.88" width="1.40" height="1.39" fill="#fffef3"/><rect x="523.42" y="92.88" width="1.40" height="1.39" fill="#fffbde"/><rect x="524.82" y="92.88" width="1.40" height="1.39" fill="#fffce5"/><rect x="526.22" y="92.88" width="1.40" height="1.39" fill="#9ca5dd"/><rect x="527.62" y="92.88" width="1.40" height="1.39" fill="#cbd1ef"/><rect x="529.01" y="92.88" width="1.40" height="1.39" fill="#969fdb"/><rect x="530.41" y="92.88" width="1.40" height="1.39" fill="#f9e983"/><rect x="531.81" y="92.88" width="1.40" height="1.39" fill="#fdfdfe"/><rect x="533.21" y="92.88" width="1.40" height="1.39" fill="#fffef8"/><rect x="534.61" y="92.88" width="1.40" height="1.39" fill="#fffffc"/><rect x="536.00" y="92.88" width="1.40" height="1.39" fill="#f4d944"/><rect x="481.50" y="94.27" width="1.40" height="1.39" fill="#fffbe2"/><rect x="482.90" y="94.27" width="1.40" height="1.39" fill="#eeb728"/><rect x="484.30" y="94.27" width="1.40" height="1.39" fill="#f6e059"/><rect x="485.69" y="94.27" width="1.40" height="1.39" fill="#fff8cc"/><rect x="487.09" y="94.27" width="1.40" height="1.39" fill="#aab3e2"/><rect x="488.49" y="94.27" width="1.40" height="1.39" fill="#fffce8"/><rect x="489.88" y="94.27" width="1.40" height="1.39" fill="#f3d742"/><rect x="491.28" y="94.27" width="1.40" height="1.39" fill="#d9def4"/><rect x="492.68" y="94.27" width="1.40" height="1.39" fill="#adb5e3"/><rect x="494.08" y="94.27" width="1.40" height="1.39" fill="#fef6be"/><rect x="495.48" y="94.27" width="1.40" height="1.39" fill="#fdf2ae"/><rect x="496.87" y="94.27" width="2.79" height="1.39" fill="#fff8ca"/><rect x="499.67" y="94.27" width="1.40" height="1.39" fill="#fff9d1"/><rect x="501.06" y="94.27" width="1.40" height="1.39" fill="#ccd2ef"/><rect x="502.46" y="94.27" width="1.40" height="1.39" fill="#fff9d3"/><rect x="503.86" y="94.27" width="1.40" height="1.39" fill="#f1c836"/><rect x="505.26" y="94.27" width="1.40" height="1.39" fill="#b4bbe6"/><rect x="506.65" y="94.27" width="1.40" height="1.39" fill="#faeb8c"/><rect x="508.05" y="94.27" width="1.40" height="1.39" fill="#faea87"/><rect x="509.45" y="94.27" width="1.40" height="1.39" fill="#eeb627"/><rect x="510.85" y="94.27" width="1.40" height="1.39" fill="#faeb8d"/><rect x="512.25" y="94.27" width="1.40" height="1.39" fill="#fbed94"/><rect x="513.64" y="94.27" width="1.40" height="1.39" fill="#f8e677"/><rect x="515.04" y="94.27" width="1.40" height="1.39" fill="#d5daf2"/><rect x="516.44" y="94.27" width="1.40" height="1.39" fill="#fffded"/><rect x="517.84" y="94.27" width="1.40" height="1.39" fill="#f3d541"/><rect x="519.23" y="94.27" width="1.40" height="1.39" fill="#fcf2aa"/><rect x="520.63" y="94.27" width="1.40" height="1.39" fill="#faeb8b"/><rect x="522.03" y="94.27" width="1.40" height="1.39" fill="#fffdf2"/><rect x="523.42" y="94.27" width="1.40" height="1.39" fill="#bdc4ea"/><rect x="524.82" y="94.27" width="1.40" height="1.39" fill="#f4d944"/><rect x="526.22" y="94.27" width="1.40" height="1.39" fill="#d4d9f2"/><rect x="527.62" y="94.27" width="1.40" height="1.39" fill="#fffada"/><rect x="529.01" y="94.27" width="1.40" height="1.39" fill="#fffdf1"/><rect x="530.41" y="94.27" width="1.40" height="1.39" fill="#fbee99"/><rect x="531.81" y="94.27" width="1.40" height="1.39" fill="#fffce4"/><rect x="533.21" y="94.27" width="1.40" height="1.39" fill="#fffef6"/><rect x="534.61" y="94.27" width="1.40" height="1.39" fill="#fdfdfe"/><rect x="536.00" y="94.27" width="1.40" height="1.39" fill="#fbed95"/><rect x="481.50" y="95.66" width="1.40" height="1.39" fill="#fffce8"/><rect x="482.90" y="95.66" width="1.40" height="1.39" fill="#fffbdf"/><rect x="484.30" y="95.66" width="1.40" height="1.39" fill="#eaedf9"/><rect x="485.69" y="95.66" width="1.40" height="1.39" fill="#fef6bf"/><rect x="487.09" y="95.66" width="1.40" height="1.39" fill="#f3d540"/><rect x="488.49" y="95.66" width="1.40" height="1.39" fill="#fffad5"/><rect x="489.88" y="95.66" width="1.40" height="1.39" fill="#fff9d1"/><rect x="491.28" y="95.66" width="1.40" height="1.39" fill="#fff7c3"/><rect x="492.68" y="95.66" width="1.40" height="1.39" fill="#f8e56f"/><rect x="494.08" y="95.66" width="1.40" height="1.39" fill="#f7e364"/><rect x="495.48" y="95.66" width="1.40" height="1.39" fill="#fff8ca"/><rect x="496.87" y="95.66" width="1.40" height="1.39" fill="#f2d13d"/><rect x="498.27" y="95.66" width="1.40" height="1.39" fill="#fcf1a9"/><rect x="499.67" y="95.66" width="1.40" height="1.39" fill="#fff9d2"/><rect x="501.06" y="95.66" width="1.40" height="1.39" fill="#fdf4b6"/><rect x="502.46" y="95.66" width="1.40" height="1.39" fill="#f0c030"/><rect x="503.86" y="95.66" width="1.40" height="1.39" fill="#d76d17"/><rect x="505.26" y="95.66" width="1.40" height="1.39" fill="#eeb527"/><rect x="506.65" y="95.66" width="1.40" height="1.39" fill="#fffffe"/><rect x="508.05" y="95.66" width="1.40" height="1.39" fill="#f7e56f"/><rect x="509.45" y="95.66" width="1.40" height="1.39" fill="#f9e982"/><rect x="510.85" y="95.66" width="1.40" height="1.39" fill="#fcf1a9"/><rect x="512.25" y="95.66" width="1.40" height="1.39" fill="#fef5bb"/><rect x="513.64" y="95.66" width="1.40" height="1.39" fill="#f9e985"/><rect x="515.04" y="95.66" width="1.40" height="1.39" fill="#c4caec"/><rect x="516.44" y="95.66" width="1.40" height="1.39" fill="#fffbe1"/><rect x="517.84" y="95.66" width="1.40" height="1.39" fill="#fff7c5"/><rect x="519.23" y="95.66" width="1.40" height="1.39" fill="#e3e7f7"/><rect x="520.63" y="95.66" width="1.40" height="1.39" fill="#fcfdfe"/><rect x="522.03" y="95.66" width="1.40" height="1.39" fill="#fcfcfe"/><rect x="523.42" y="95.66" width="1.40" height="1.39" fill="#f5df54"/><rect x="524.82" y="95.66" width="1.40" height="1.39" fill="#fffcea"/><rect x="526.22" y="95.66" width="1.40" height="1.39" fill="#d1d7f1"/><rect x="527.62" y="95.66" width="1.40" height="1.39" fill="#faec90"/><rect x="529.01" y="95.66" width="1.40" height="1.39" fill="#fbfcfe"/><rect x="530.41" y="95.66" width="1.40" height="1.39" fill="#fffdeb"/><rect x="531.81" y="95.66" width="1.40" height="1.39" fill="#f1f3fb"/><rect x="533.21" y="95.66" width="1.40" height="1.39" fill="#f4f5fc"/><rect x="534.61" y="95.66" width="1.40" height="1.39" fill="#fffdf0"/><rect x="536.00" y="95.66" width="1.40" height="1.39" fill="#fffada"/><rect x="481.50" y="97.05" width="1.40" height="1.39" fill="#efbc2d"/><rect x="482.90" y="97.05" width="1.40" height="1.39" fill="#fffef5"/><rect x="484.30" y="97.05" width="1.40" height="1.39" fill="#bbc2e9"/><rect x="485.69" y="97.05" width="1.40" height="1.39" fill="#fff9d2"/><rect x="487.09" y="97.05" width="1.40" height="1.39" fill="#efbf2f"/><rect x="488.49" y="97.05" width="1.40" height="1.39" fill="#f1c735"/><rect x="489.88" y="97.05" width="1.40" height="1.39" fill="#fff9ce"/><rect x="491.28" y="97.05" width="1.40" height="1.39" fill="#fef6bf"/><rect x="492.68" y="97.05" width="1.40" height="1.39" fill="#fdf3ae"/><rect x="494.08" y="97.05" width="1.40" height="1.39" fill="#fafbfe"/><rect x="495.48" y="97.05" width="1.40" height="1.39" fill="#fcf1a8"/><rect x="496.87" y="97.05" width="1.40" height="1.39" fill="#fffad9"/><rect x="498.27" y="97.05" width="1.40" height="1.39" fill="#fffbdd"/><rect x="499.67" y="97.05" width="1.40" height="1.39" fill="#fffbde"/><rect x="501.06" y="97.05" width="1.40" height="1.39" fill="#edaf22"/><rect x="502.46" y="97.05" width="1.40" height="1.39" fill="#faeb8d"/><rect x="503.86" y="97.05" width="1.40" height="1.39" fill="#edaf22"/><rect x="505.26" y="97.05" width="1.40" height="1.39" fill="#e28e1b"/><rect x="506.65" y="97.05" width="1.40" height="1.39" fill="#fef5bb"/><rect x="508.05" y="97.05" width="1.40" height="1.39" fill="#fffad5"/><rect x="509.45" y="97.05" width="1.40" height="1.39" fill="#edb124"/><rect x="510.85" y="97.05" width="1.40" height="1.39" fill="#f9e984"/><rect x="512.25" y="97.05" width="1.40" height="1.39" fill="#f6e15f"/><rect x="513.64" y="97.05" width="1.40" height="1.39" fill="#fbed95"/><rect x="515.04" y="97.05" width="1.40" height="1.39" fill="#f6e15b"/><rect x="516.44" y="97.05" width="1.40" height="1.39" fill="#fffdf1"/><rect x="517.84" y="97.05" width="1.40" height="1.39" fill="#f7e46c"/><rect x="519.23" y="97.05" width="1.40" height="1.39" fill="#f9fafd"/><rect x="520.63" y="97.05" width="1.40" height="1.39" fill="#fffdf2"/><rect x="522.03" y="97.05" width="1.40" height="1.39" fill="#f0c130"/><rect x="523.42" y="97.05" width="1.40" height="1.39" fill="#f6f7fc"/><rect x="524.82" y="97.05" width="1.40" height="1.39" fill="#eeb829"/><rect x="526.22" y="97.05" width="1.40" height="1.39" fill="#f7e46d"/><rect x="527.62" y="97.05" width="1.40" height="1.39" fill="#bfc6ea"/><rect x="529.01" y="97.05" width="1.40" height="1.39" fill="#faeb8c"/><rect x="530.41" y="97.05" width="1.40" height="1.39" fill="#fdfdfe"/><rect x="531.81" y="97.05" width="1.40" height="1.39" fill="#ebeef9"/><rect x="533.21" y="97.05" width="1.40" height="1.39" fill="#fdfdfe"/><rect x="534.61" y="97.05" width="1.40" height="1.39" fill="#eceffa"/><rect x="536.00" y="97.05" width="1.40" height="1.39" fill="#f0f2fb"/><rect x="481.50" y="98.44" width="1.40" height="1.39" fill="#fffbe0"/><rect x="482.90" y="98.44" width="1.40" height="1.39" fill="#fff8c8"/><rect x="484.30" y="98.44" width="1.40" height="1.39" fill="#fff8c6"/><rect x="485.69" y="98.44" width="1.40" height="1.39" fill="#f9ea86"/><rect x="487.09" y="98.44" width="1.40" height="1.39" fill="#eeb92a"/><rect x="488.49" y="98.44" width="1.40" height="1.39" fill="#fffbe0"/><rect x="489.88" y="98.44" width="1.40" height="1.39" fill="#fffefa"/><rect x="491.28" y="98.44" width="1.40" height="1.39" fill="#fffbe2"/><rect x="492.68" y="98.44" width="1.40" height="1.39" fill="#efbe2e"/><rect x="494.08" y="98.44" width="1.40" height="1.39" fill="#f0f2fb"/><rect x="495.48" y="98.44" width="1.40" height="1.39" fill="#f5de4f"/><rect x="496.87" y="98.44" width="1.40" height="1.39" fill="#eeb426"/><rect x="498.27" y="98.44" width="1.40" height="1.39" fill="#d5dbf2"/><rect x="499.67" y="98.44" width="1.40" height="1.39" fill="#fffad6"/><rect x="501.06" y="98.44" width="1.40" height="1.39" fill="#fdf3b0"/><rect x="502.46" y="98.44" width="1.40" height="1.39" fill="#faea89"/><rect x="503.86" y="98.44" width="1.40" height="1.39" fill="#fdf2ab"/><rect x="505.26" y="98.44" width="1.40" height="1.39" fill="#fff8cb"/><rect x="506.65" y="98.44" width="1.40" height="1.39" fill="#f4da45"/><rect x="508.05" y="98.44" width="1.40" height="1.39" fill="#f3d540"/><rect x="509.45" y="98.44" width="1.40" height="1.39" fill="#f8e778"/><rect x="510.85" y="98.44" width="1.40" height="1.39" fill="#d8ddf4"/><rect x="512.25" y="98.44" width="1.40" height="1.39" fill="#fef5bb"/><rect x="513.64" y="98.44" width="1.40" height="1.39" fill="#fbed97"/><rect x="515.04" y="98.44" width="1.40" height="1.39" fill="#f8e571"/><rect x="516.44" y="98.44" width="1.40" height="1.39" fill="#eeb527"/><rect x="517.84" y="98.44" width="1.40" height="1.39" fill="#fffef7"/><rect x="519.23" y="98.44" width="1.40" height="1.39" fill="#fffdf0"/><rect x="520.63" y="98.44" width="1.40" height="1.39" fill="#f7f8fd"/><rect x="522.03" y="98.44" width="1.40" height="1.39" fill="#f6e15e"/><rect x="523.42" y="98.44" width="1.40" height="1.39" fill="#fffef9"/><rect x="524.82" y="98.44" width="1.40" height="1.39" fill="#fafbfe"/><rect x="526.22" y="98.44" width="1.40" height="1.39" fill="#fdf3b0"/><rect x="527.62" y="98.44" width="1.40" height="1.39" fill="#fafbfe"/><rect x="529.01" y="98.44" width="1.40" height="1.39" fill="#fff9cf"/><rect x="530.41" y="98.44" width="1.40" height="1.39" fill="#fffefa"/><rect x="531.81" y="98.44" width="1.40" height="1.39" fill="#fffad6"/><rect x="533.21" y="98.44" width="1.40" height="1.39" fill="#bcc3e9"/><rect x="534.61" y="98.44" width="1.40" height="1.39" fill="#e5e9f8"/><rect x="536.00" y="98.44" width="1.40" height="1.39" fill="#fdf3b2"/><rect x="481.50" y="99.83" width="1.40" height="1.39" fill="#fffbe3"/><rect x="482.90" y="99.83" width="1.40" height="1.39" fill="#fff8cb"/><rect x="484.30" y="99.83" width="1.40" height="1.39" fill="#fffad6"/><rect x="485.69" y="99.83" width="1.40" height="1.39" fill="#fff9d3"/><rect x="487.09" y="99.83" width="1.40" height="1.39" fill="#fffce8"/><rect x="488.49" y="99.83" width="1.40" height="1.39" fill="#fffefa"/><rect x="489.88" y="99.83" width="1.40" height="1.39" fill="#fffce6"/><rect x="491.28" y="99.83" width="1.40" height="1.39" fill="#c1c8eb"/><rect x="492.68" y="99.83" width="1.40" height="1.39" fill="#fbef9e"/><rect x="494.08" y="99.83" width="1.40" height="1.39" fill="#fffce5"/><rect x="495.48" y="99.83" width="1.40" height="1.39" fill="#fff9d1"/><rect x="496.87" y="99.83" width="1.40" height="1.39" fill="#f9ea87"/><rect x="498.27" y="99.83" width="1.40" height="1.39" fill="#eeb728"/><rect x="499.67" y="99.83" width="1.40" height="1.39" fill="#fdf2ab"/><rect x="501.06" y="99.83" width="1.40" height="1.39" fill="#faed93"/><rect x="502.46" y="99.83" width="1.40" height="1.39" fill="#fef4b7"/><rect x="503.86" y="99.83" width="1.40" height="1.39" fill="#f2d23e"/><rect x="505.26" y="99.83" width="1.40" height="1.39" fill="#faec8e"/><rect x="506.65" y="99.83" width="1.40" height="1.39" fill="#fcf1aa"/><rect x="508.05" y="99.83" width="1.40" height="1.39" fill="#f4db45"/><rect x="509.45" y="99.83" width="1.40" height="1.39" fill="#faeb8b"/><rect x="510.85" y="99.83" width="1.40" height="1.39" fill="#f5de4f"/><rect x="512.25" y="99.83" width="1.40" height="1.39" fill="#ecaa1e"/><rect x="513.64" y="99.83" width="1.40" height="1.39" fill="#edb023"/><rect x="515.04" y="99.83" width="1.40" height="1.39" fill="#f9e87f"/><rect x="516.44" y="99.83" width="1.40" height="1.39" fill="#fff8c8"/><rect x="517.84" y="99.83" width="1.40" height="1.39" fill="#fcf2aa"/><rect x="519.23" y="99.83" width="1.40" height="1.39" fill="#fffdf1"/><rect x="520.63" y="99.83" width="1.40" height="1.39" fill="#f3f5fc"/><rect x="522.03" y="99.83" width="1.40" height="1.39" fill="#848ed2"/><rect x="523.42" y="99.83" width="1.40" height="1.39" fill="#f9fafd"/><rect x="524.82" y="99.83" width="1.40" height="1.39" fill="#9fa8de"/><rect x="526.22" y="99.83" width="1.40" height="1.39" fill="#f3d742"/><rect x="527.62" y="99.83" width="1.40" height="1.39" fill="#fffdec"/><rect x="529.01" y="99.83" width="1.40" height="1.39" fill="#f2f4fb"/><rect x="530.41" y="99.83" width="1.40" height="1.39" fill="#f1c735"/><rect x="531.81" y="99.83" width="1.40" height="1.39" fill="#fffef8"/><rect x="533.21" y="99.83" width="1.40" height="1.39" fill="#f5de50"/><rect x="534.61" y="99.83" width="1.40" height="1.39" fill="#fffdf3"/><rect x="536.00" y="99.83" width="1.40" height="1.39" fill="#f0c030"/><rect x="481.50" y="101.22" width="1.40" height="1.39" fill="#e79b1c"/><rect x="482.90" y="101.22" width="1.40" height="1.39" fill="#f1c736"/><rect x="484.30" y="101.22" width="1.40" height="1.39" fill="#eff1fa"/><rect x="485.69" y="101.22" width="1.40" height="1.39" fill="#fcefa0"/><rect x="487.09" y="101.22" width="1.40" height="1.39" fill="#f0c030"/><rect x="488.49" y="101.22" width="1.40" height="1.39" fill="#adb5e3"/><rect x="489.88" y="101.22" width="1.40" height="1.39" fill="#fffef6"/><rect x="491.28" y="101.22" width="1.40" height="1.39" fill="#fffadb"/><rect x="492.68" y="101.22" width="1.40" height="1.39" fill="#eceffa"/><rect x="494.08" y="101.22" width="1.40" height="1.39" fill="#dbe0f5"/><rect x="495.48" y="101.22" width="1.40" height="1.39" fill="#fffdee"/><rect x="496.87" y="101.22" width="1.40" height="1.39" fill="#f2d13e"/><rect x="498.27" y="101.22" width="1.40" height="1.39" fill="#fffad4"/><rect x="499.67" y="101.22" width="1.40" height="1.39" fill="#faec93"/><rect x="501.06" y="101.22" width="1.40" height="1.39" fill="#eeb526"/><rect x="502.46" y="101.22" width="1.40" height="1.39" fill="#fbef9e"/><rect x="503.86" y="101.22" width="1.40" height="1.39" fill="#fff8c9"/><rect x="505.26" y="101.22" width="1.40" height="1.39" fill="#f3d742"/><rect x="506.65" y="101.22" width="1.40" height="1.39" fill="#fff8cc"/><rect x="508.05" y="101.22" width="1.40" height="1.39" fill="#fef6bd"/><rect x="509.45" y="101.22" width="1.40" height="1.39" fill="#f8e571"/><rect x="510.85" y="101.22" width="1.40" height="1.39" fill="#d36116"/><rect x="512.25" y="101.22" width="1.40" height="1.39" fill="#f6e262"/><rect x="513.64" y="101.22" width="1.40" height="1.39" fill="#f9e982"/><rect x="515.04" y="101.22" width="1.40" height="1.39" fill="#efbe2e"/><rect x="516.44" y="101.22" width="1.40" height="1.39" fill="#f2d03c"/><rect x="517.84" y="101.22" width="1.40" height="1.39" fill="#f7e365"/><rect x="519.23" y="101.22" width="1.40" height="1.39" fill="#e0e4f6"/><rect x="520.63" y="101.22" width="1.40" height="1.39" fill="#cad0ee"/><rect x="522.03" y="101.22" width="1.40" height="1.39" fill="#fbed96"/><rect x="523.42" y="101.22" width="1.40" height="1.39" fill="#e5e9f8"/><rect x="524.82" y="101.22" width="1.40" height="1.39" fill="#e7ebf8"/><rect x="526.22" y="101.22" width="1.40" height="1.39" fill="#fffbe1"/><rect x="527.62" y="101.22" width="1.40" height="1.39" fill="#ccd2ef"/><rect x="529.01" y="101.22" width="1.40" height="1.39" fill="#efbf2f"/><rect x="530.41" y="101.22" width="1.40" height="1.39" fill="#fafbfe"/><rect x="531.81" y="101.22" width="1.40" height="1.39" fill="#f5f6fc"/><rect x="533.21" y="101.22" width="1.40" height="1.39" fill="#eff1fa"/><rect x="534.61" y="101.22" width="1.40" height="1.39" fill="#f7f8fd"/><rect x="536.00" y="101.22" width="1.40" height="1.39" fill="#f1cb39"/><rect x="481.50" y="102.61" width="1.40" height="1.39" fill="#fffef4"/><rect x="482.90" y="102.61" width="1.40" height="1.39" fill="#fdf2ab"/><rect x="484.30" y="102.61" width="1.40" height="1.39" fill="#f2f4fb"/><rect x="485.69" y="102.61" width="1.40" height="1.39" fill="#d2d8f1"/><rect x="487.09" y="102.61" width="1.40" height="1.39" fill="#fffce7"/><rect x="488.49" y="102.61" width="1.40" height="1.39" fill="#fffbe0"/><rect x="489.88" y="102.61" width="1.40" height="1.39" fill="#fffce7"/><rect x="491.28" y="102.61" width="1.40" height="1.39" fill="#adb5e3"/><rect x="492.68" y="102.61" width="1.40" height="1.39" fill="#d7ddf3"/><rect x="494.08" y="102.61" width="1.40" height="1.39" fill="#fffad9"/><rect x="495.48" y="102.61" width="1.40" height="1.39" fill="#fefeff"/><rect x="496.87" y="102.61" width="1.40" height="1.39" fill="#fffadc"/><rect x="498.27" y="102.61" width="1.40" height="1.39" fill="#fffada"/><rect x="499.67" y="102.61" width="1.40" height="1.39" fill="#fffded"/><rect x="501.06" y="102.61" width="1.40" height="1.39" fill="#fffbde"/><rect x="502.46" y="102.61" width="1.40" height="1.39" fill="#f4f5fc"/><rect x="503.86" y="102.61" width="1.40" height="1.39" fill="#faea88"/><rect x="505.26" y="102.61" width="1.40" height="1.39" fill="#fffad4"/><rect x="506.65" y="102.61" width="1.40" height="1.39" fill="#f9ea86"/><rect x="508.05" y="102.61" width="1.40" height="1.39" fill="#f7e56e"/><rect x="509.45" y="102.61" width="1.40" height="1.39" fill="#fdf4b6"/><rect x="510.85" y="102.61" width="1.40" height="1.39" fill="#f5df53"/><rect x="512.25" y="102.61" width="1.40" height="1.39" fill="#f0c534"/><rect x="513.64" y="102.61" width="1.40" height="1.39" fill="#edb123"/><rect x="515.04" y="102.61" width="1.40" height="1.39" fill="#f2ce3a"/><rect x="516.44" y="102.61" width="1.40" height="1.39" fill="#f0c030"/><rect x="517.84" y="102.61" width="1.40" height="1.39" fill="#eaa41d"/><rect x="519.23" y="102.61" width="1.40" height="1.39" fill="#f3d742"/><rect x="520.63" y="102.61" width="1.40" height="1.39" fill="#fff9d2"/><rect x="522.03" y="102.61" width="1.40" height="1.39" fill="#f0c131"/><rect x="523.42" y="102.61" width="1.40" height="1.39" fill="#ebeef9"/><rect x="524.82" y="102.61" width="1.40" height="1.39" fill="#fffadb"/><rect x="526.22" y="102.61" width="1.40" height="1.39" fill="#f2ce3b"/><rect x="527.62" y="102.61" width="1.40" height="1.39" fill="#fffbdf"/><rect x="529.01" y="102.61" width="1.40" height="1.39" fill="#fffad6"/><rect x="530.41" y="102.61" width="1.40" height="1.39" fill="#97a0db"/><rect x="531.81" y="102.61" width="1.40" height="1.39" fill="#fffbe1"/><rect x="533.21" y="102.61" width="1.40" height="1.39" fill="#adb5e3"/><rect x="534.61" y="102.61" width="1.40" height="1.39" fill="#b5bde7"/><rect x="536.00" y="102.61" width="1.40" height="1.39" fill="#fffce4"/><rect x="481.50" y="104.00" width="1.40" height="1.39" fill="#fffbe1"/><rect x="482.90" y="104.00" width="1.40" height="1.39" fill="#8c96d7"/><rect x="484.30" y="104.00" width="1.40" height="1.39" fill="#f7e367"/><rect x="485.69" y="104.00" width="1.40" height="1.39" fill="#f1cc39"/><rect x="487.09" y="104.00" width="1.40" height="1.39" fill="#eaa51d"/><rect x="488.49" y="104.00" width="1.40" height="1.39" fill="#fcef9f"/><rect x="489.88" y="104.00" width="1.40" height="1.39" fill="#fdf3af"/><rect x="491.28" y="104.00" width="1.40" height="1.39" fill="#fff7c3"/><rect x="492.68" y="104.00" width="1.40" height="1.39" fill="#f1ca37"/><rect x="494.08" y="104.00" width="1.40" height="1.39" fill="#fef5b8"/><rect x="495.48" y="104.00" width="1.40" height="1.39" fill="#fffef4"/><rect x="496.87" y="104.00" width="1.40" height="1.39" fill="#fcf0a2"/><rect x="498.27" y="104.00" width="1.40" height="1.39" fill="#fbfbfe"/><rect x="499.67" y="104.00" width="1.40" height="1.39" fill="#fffbe3"/><rect x="501.06" y="104.00" width="1.40" height="1.39" fill="#f7e46a"/><rect x="502.46" y="104.00" width="1.40" height="1.39" fill="#fff7c3"/><rect x="503.86" y="104.00" width="1.40" height="1.39" fill="#c8ceed"/><rect x="505.26" y="104.00" width="1.40" height="1.39" fill="#edb123"/><rect x="506.65" y="104.00" width="1.40" height="1.39" fill="#fff9d1"/><rect x="508.05" y="104.00" width="1.40" height="1.39" fill="#fbef9d"/><rect x="509.45" y="104.00" width="1.40" height="1.39" fill="#f8e672"/><rect x="510.85" y="104.00" width="1.40" height="1.39" fill="#f2f4fb"/><rect x="512.25" y="104.00" width="1.40" height="1.39" fill="#f0c332"/><rect x="513.64" y="104.00" width="1.40" height="1.39" fill="#ca4a14"/><rect x="515.04" y="104.00" width="1.40" height="1.39" fill="#c13915"/><rect x="516.44" y="104.00" width="1.40" height="1.39" fill="#d86f17"/><rect x="517.84" y="104.00" width="1.40" height="1.39" fill="#f1cb38"/><rect x="519.23" y="104.00" width="1.40" height="1.39" fill="#d36116"/><rect x="520.63" y="104.00" width="1.40" height="1.39" fill="#fff9cc"/><rect x="522.03" y="104.00" width="1.40" height="1.39" fill="#acb4e3"/><rect x="523.42" y="104.00" width="1.40" height="1.39" fill="#e2e7f7"/><rect x="524.82" y="104.00" width="1.40" height="1.39" fill="#f9e983"/><rect x="526.22" y="104.00" width="1.40" height="1.39" fill="#d2d7f1"/><rect x="527.62" y="104.00" width="1.40" height="1.39" fill="#fffce9"/><rect x="529.01" y="104.00" width="1.40" height="1.39" fill="#f3d943"/><rect x="530.41" y="104.00" width="1.40" height="1.39" fill="#f7f8fd"/><rect x="531.81" y="104.00" width="1.40" height="1.39" fill="#afb6e4"/><rect x="533.21" y="104.00" width="1.40" height="1.39" fill="#d8ddf4"/><rect x="534.61" y="104.00" width="1.40" height="1.39" fill="#fffbe3"/><rect x="536.00" y="104.00" width="1.40" height="1.39" fill="#8a94d6"/><rect x="481.50" y="105.39" width="1.40" height="1.39" fill="#fffad5"/><rect x="482.90" y="105.39" width="1.40" height="1.39" fill="#fffbdd"/><rect x="484.30" y="105.39" width="1.40" height="1.39" fill="#f8e77b"/><rect x="485.69" y="105.39" width="1.40" height="1.39" fill="#fffdee"/><rect x="487.09" y="105.39" width="1.40" height="1.39" fill="#f8e779"/><rect x="488.49" y="105.39" width="1.40" height="1.39" fill="#faeb8c"/><rect x="489.88" y="105.39" width="1.40" height="1.39" fill="#efbc2c"/><rect x="491.28" y="105.39" width="1.40" height="1.39" fill="#fef5bb"/><rect x="492.68" y="105.39" width="1.40" height="1.39" fill="#f4d944"/><rect x="494.08" y="105.39" width="1.40" height="1.39" fill="#f0c131"/><rect x="495.48" y="105.39" width="1.40" height="1.39" fill="#949dda"/><rect x="496.87" y="105.39" width="1.40" height="1.39" fill="#a7b0e1"/><rect x="498.27" y="105.39" width="1.40" height="1.39" fill="#fffce7"/><rect x="499.67" y="105.39" width="1.40" height="1.39" fill="#fffada"/><rect x="501.06" y="105.39" width="1.40" height="1.39" fill="#ced4f0"/><rect x="502.46" y="105.39" width="1.40" height="1.39" fill="#fdf3b3"/><rect x="503.86" y="105.39" width="1.40" height="1.39" fill="#fdf2ae"/><rect x="505.26" y="105.39" width="1.40" height="1.39" fill="#fffad5"/><rect x="506.65" y="105.39" width="1.40" height="1.39" fill="#edb124"/><rect x="508.05" y="105.39" width="1.40" height="1.39" fill="#fffded"/><rect x="509.45" y="105.39" width="1.40" height="1.39" fill="#f6e058"/><rect x="510.85" y="105.39" width="1.40" height="1.39" fill="#f1cb39"/><rect x="512.25" y="105.39" width="1.40" height="1.39" fill="#b01616"/><rect x="513.64" y="105.39" width="1.40" height="1.39" fill="#b41f16"/><rect x="515.04" y="105.39" width="1.40" height="1.39" fill="#c33b15"/><rect x="516.44" y="105.39" width="1.40" height="1.39" fill="#b62316"/><rect x="517.84" y="105.39" width="1.40" height="1.39" fill="#efba2b"/><rect x="519.23" y="105.39" width="1.40" height="1.39" fill="#f7f8fd"/><rect x="520.63" y="105.39" width="1.40" height="1.39" fill="#fffad5"/><rect x="522.03" y="105.39" width="1.40" height="1.39" fill="#faeb8c"/><rect x="523.42" y="105.39" width="1.40" height="1.39" fill="#d4d9f2"/><rect x="524.82" y="105.39" width="1.40" height="1.39" fill="#ebedf9"/><rect x="526.22" y="105.39" width="1.40" height="1.39" fill="#fef5b9"/><rect x="527.62" y="105.39" width="1.40" height="1.39" fill="#f5f6fc"/><rect x="529.01" y="105.39" width="1.40" height="1.39" fill="#f3f5fc"/><rect x="530.41" y="105.39" width="1.40" height="1.39" fill="#a8b0e1"/><rect x="531.81" y="105.39" width="1.40" height="1.39" fill="#fffdf2"/><rect x="533.21" y="105.39" width="1.40" height="1.39" fill="#828cd1"/><rect x="536.00" y="105.39" width="1.40" height="1.39" fill="#fffefa"/><rect x="481.50" y="106.78" width="1.40" height="1.39" fill="#faec8f"/><rect x="482.90" y="106.78" width="1.40" height="1.39" fill="#fef5bc"/><rect x="484.30" y="106.78" width="1.40" height="1.39" fill="#fffbe2"/><rect x="485.69" y="106.78" width="1.40" height="1.39" fill="#f4dc48"/><rect x="487.09" y="106.78" width="1.40" height="1.39" fill="#f2d23e"/><rect x="488.49" y="106.78" width="1.40" height="1.39" fill="#fef6c0"/><rect x="489.88" y="106.78" width="1.40" height="1.39" fill="#f3d843"/><rect x="491.28" y="106.78" width="1.40" height="1.39" fill="#fcf0a4"/><rect x="492.68" y="106.78" width="1.40" height="1.39" fill="#d5daf2"/><rect x="494.08" y="106.78" width="1.40" height="1.39" fill="#fffef6"/><rect x="495.48" y="106.78" width="1.40" height="1.39" fill="#fef6c0"/><rect x="496.87" y="106.78" width="1.40" height="1.39" fill="#fffceb"/><rect x="498.27" y="106.78" width="1.40" height="1.39" fill="#f9fafd"/><rect x="499.67" y="106.78" width="1.40" height="1.39" fill="#f5de51"/><rect x="501.06" y="106.78" width="1.40" height="1.39" fill="#fffbdd"/><rect x="502.46" y="106.78" width="1.40" height="1.39" fill="#faea89"/><rect x="503.86" y="106.78" width="1.40" height="1.39" fill="#eeb92a"/><rect x="505.26" y="106.78" width="1.40" height="1.39" fill="#fbed94"/><rect x="506.65" y="106.78" width="1.40" height="1.39" fill="#f5f7fc"/><rect x="508.05" y="106.78" width="1.40" height="1.39" fill="#fffad8"/><rect x="509.45" y="106.78" width="1.40" height="1.39" fill="#f8e571"/><rect x="510.85" y="106.78" width="1.40" height="1.39" fill="#f8e673"/><rect x="512.25" y="106.78" width="1.40" height="1.39" fill="#edae21"/><rect x="513.64" y="106.78" width="1.40" height="1.39" fill="#cd5014"/><rect x="515.04" y="106.78" width="1.40" height="1.39" fill="#cd5114"/><rect x="516.44" y="106.78" width="1.40" height="1.39" fill="#c13715"/><rect x="517.84" y="106.78" width="1.40" height="1.39" fill="#eeb829"/><rect x="519.23" y="106.78" width="1.40" height="1.39" fill="#f3d540"/><rect x="520.63" y="106.78" width="1.40" height="1.39" fill="#fdf4b6"/><rect x="522.03" y="106.78" width="1.40" height="1.39" fill="#fffbdd"/><rect x="523.42" y="106.78" width="1.40" height="1.39" fill="#fffded"/><rect x="524.82" y="106.78" width="1.40" height="1.39" fill="#d7dcf3"/><rect x="526.22" y="106.78" width="1.40" height="1.39" fill="#f7e46c"/><rect x="527.62" y="106.78" width="1.40" height="1.39" fill="#f0f3fb"/><rect x="529.01" y="106.78" width="1.40" height="1.39" fill="#f3f5fc"/><rect x="530.41" y="106.78" width="1.40" height="1.39" fill="#fffce6"/><rect x="531.81" y="106.78" width="1.40" height="1.39" fill="#e0e5f6"/><rect x="533.21" y="106.78" width="1.40" height="1.39" fill="#fffdee"/><rect x="534.61" y="106.78" width="2.79" height="1.39" fill="#faec90"/><rect x="481.50" y="108.17" width="1.40" height="1.39" fill="#edae21"/><rect x="482.90" y="108.17" width="1.40" height="1.39" fill="#fff8c9"/><rect x="484.30" y="108.17" width="1.40" height="1.39" fill="#f2d13d"/><rect x="485.69" y="108.17" width="1.40" height="1.39" fill="#edb023"/><rect x="487.09" y="108.17" width="1.40" height="1.39" fill="#fffbe0"/><rect x="488.49" y="108.17" width="1.40" height="1.39" fill="#fffadb"/><rect x="489.88" y="108.17" width="1.40" height="1.39" fill="#fef5bb"/><rect x="491.28" y="108.17" width="1.40" height="1.39" fill="#fcf0a1"/><rect x="492.68" y="108.17" width="1.40" height="1.39" fill="#fff8ca"/><rect x="494.08" y="108.17" width="1.40" height="1.39" fill="#dd7f19"/><rect x="495.48" y="108.17" width="1.40" height="1.39" fill="#d6dcf3"/><rect x="496.87" y="108.17" width="1.40" height="1.39" fill="#adb5e3"/><rect x="498.27" y="108.17" width="1.40" height="1.39" fill="#fffbde"/><rect x="499.67" y="108.17" width="1.40" height="1.39" fill="#fffbe3"/><rect x="501.06" y="108.17" width="1.40" height="1.39" fill="#e5e9f8"/><rect x="502.46" y="108.17" width="1.40" height="1.39" fill="#9ea7de"/><rect x="503.86" y="108.17" width="1.40" height="1.39" fill="#fef6c1"/><rect x="505.26" y="108.17" width="1.40" height="1.39" fill="#f4dd4a"/><rect x="506.65" y="108.17" width="1.40" height="1.39" fill="#9ea6de"/><rect x="508.05" y="108.17" width="1.40" height="1.39" fill="#b4bbe6"/><rect x="509.45" y="108.17" width="1.40" height="1.39" fill="#fffffe"/><rect x="510.85" y="108.17" width="1.40" height="1.39" fill="#afb6e4"/><rect x="512.25" y="108.17" width="1.40" height="1.39" fill="#f4d944"/><rect x="513.64" y="108.17" width="1.40" height="1.39" fill="#f0c534"/><rect x="515.04" y="108.17" width="1.40" height="1.39" fill="#dd7e19"/><rect x="516.44" y="108.17" width="1.40" height="1.39" fill="#f5df52"/><rect x="517.84" y="108.17" width="1.40" height="1.39" fill="#c3caec"/><rect x="519.23" y="108.17" width="1.40" height="1.39" fill="#eeb829"/><rect x="520.63" y="108.17" width="1.40" height="1.39" fill="#f4db45"/><rect x="522.03" y="108.17" width="1.40" height="1.39" fill="#fffdee"/><rect x="523.42" y="108.17" width="1.40" height="1.39" fill="#f5de4f"/><rect x="524.82" y="108.17" width="1.40" height="1.39" fill="#fffef7"/><rect x="526.22" y="108.17" width="1.40" height="1.39" fill="#f5f6fc"/><rect x="527.62" y="108.17" width="1.40" height="1.39" fill="#e2e6f7"/><rect x="529.01" y="108.17" width="1.40" height="1.39" fill="#f2f3fb"/><rect x="530.41" y="108.17" width="1.40" height="1.39" fill="#fffcea"/><rect x="531.81" y="108.17" width="1.40" height="1.39" fill="#fffdf2"/><rect x="533.21" y="108.17" width="1.40" height="1.39" fill="#d4d9f2"/><rect x="534.61" y="108.17" width="1.40" height="1.39" fill="#8d97d7"/><rect x="536.00" y="108.17" width="1.40" height="1.39" fill="#f8e675"/><rect x="481.50" y="109.56" width="1.40" height="1.39" fill="#fffad5"/><rect x="482.90" y="109.56" width="1.40" height="1.39" fill="#c3c9eb"/><rect x="484.30" y="109.56" width="2.79" height="1.39" fill="#fff9cf"/><rect x="487.09" y="109.56" width="1.40" height="1.39" fill="#f0c534"/><rect x="488.49" y="109.56" width="1.40" height="1.39" fill="#a2aadf"/><rect x="489.88" y="109.56" width="1.40" height="1.39" fill="#fffbdd"/><rect x="491.28" y="109.56" width="1.40" height="1.39" fill="#f0c433"/><rect x="492.68" y="109.56" width="1.40" height="1.39" fill="#fff9cd"/><rect x="494.08" y="109.56" width="1.40" height="1.39" fill="#fffdf0"/><rect x="495.48" y="109.56" width="1.40" height="1.39" fill="#fffceb"/><rect x="496.87" y="109.56" width="1.40" height="1.39" fill="#f5df53"/><rect x="498.27" y="109.56" width="1.40" height="1.39" fill="#f2d13e"/><rect x="499.67" y="109.56" width="1.40" height="1.39" fill="#fcfdfe"/><rect x="501.06" y="109.56" width="1.40" height="1.39" fill="#fff9cc"/><rect x="502.46" y="109.56" width="1.40" height="1.39" fill="#e7ebf8"/><rect x="503.86" y="109.56" width="1.40" height="1.39" fill="#f6e15d"/><rect x="505.26" y="109.56" width="1.40" height="1.39" fill="#f8e570"/><rect x="506.65" y="109.56" width="1.40" height="1.39" fill="#f6e058"/><rect x="508.05" y="109.56" width="1.40" height="1.39" fill="#eceffa"/><rect x="509.45" y="109.56" width="1.40" height="1.39" fill="#f2ce3b"/><rect x="510.85" y="109.56" width="1.40" height="1.39" fill="#fffbde"/><rect x="512.25" y="109.56" width="1.40" height="1.39" fill="#f9e980"/><rect x="513.64" y="109.56" width="1.40" height="1.39" fill="#edaf22"/><rect x="515.04" y="109.56" width="1.40" height="1.39" fill="#f8e674"/><rect x="516.44" y="109.56" width="1.40" height="1.39" fill="#f9ea86"/><rect x="517.84" y="109.56" width="1.40" height="1.39" fill="#fffffb"/><rect x="519.23" y="109.56" width="1.40" height="1.39" fill="#fffce7"/><rect x="520.63" y="109.56" width="1.40" height="1.39" fill="#f7f8fd"/><rect x="522.03" y="109.56" width="1.40" height="1.39" fill="#d7dcf3"/><rect x="523.42" y="109.56" width="1.40" height="1.39" fill="#fefeff"/><rect x="524.82" y="109.56" width="1.40" height="1.39" fill="#d1d7f1"/><rect x="526.22" y="109.56" width="1.40" height="1.39" fill="#f3d43f"/><rect x="527.62" y="109.56" width="1.40" height="1.39" fill="#fdf3b0"/><rect x="529.01" y="109.56" width="1.40" height="1.39" fill="#f3d43f"/><rect x="530.41" y="109.56" width="1.40" height="1.39" fill="#fffce7"/><rect x="531.81" y="109.56" width="1.40" height="1.39" fill="#919bd9"/><rect x="533.21" y="109.56" width="1.40" height="1.39" fill="#d3d8f2"/><rect x="534.61" y="109.56" width="1.40" height="1.39" fill="#f6e260"/><rect x="536.00" y="109.56" width="1.40" height="1.39" fill="#e8ebf8"/><rect x="481.50" y="110.95" width="1.40" height="1.39" fill="#a0a9df"/><rect x="482.90" y="110.95" width="1.40" height="1.39" fill="#f6e059"/><rect x="484.30" y="110.95" width="1.40" height="1.39" fill="#eeb729"/><rect x="485.69" y="110.95" width="1.40" height="1.39" fill="#fffefa"/><rect x="487.09" y="110.95" width="2.79" height="1.39" fill="#fef6be"/><rect x="489.88" y="110.95" width="1.40" height="1.39" fill="#fff9d3"/><rect x="491.28" y="110.95" width="1.40" height="1.39" fill="#f1c735"/><rect x="492.68" y="110.95" width="1.40" height="1.39" fill="#fff8ca"/><rect x="494.08" y="110.95" width="1.40" height="1.39" fill="#f0f2fb"/><rect x="495.48" y="110.95" width="1.40" height="1.39" fill="#fff9cd"/><rect x="496.87" y="110.95" width="1.40" height="1.39" fill="#f3d540"/><rect x="498.27" y="110.95" width="1.40" height="1.39" fill="#fff9d0"/><rect x="499.67" y="110.95" width="1.40" height="1.39" fill="#fffefa"/><rect x="501.06" y="110.95" width="1.40" height="1.39" fill="#fffbde"/><rect x="502.46" y="110.95" width="1.40" height="1.39" fill="#f4d944"/><rect x="503.86" y="110.95" width="1.40" height="1.39" fill="#faec91"/><rect x="505.26" y="110.95" width="1.40" height="1.39" fill="#a3ace0"/><rect x="506.65" y="110.95" width="1.40" height="1.39" fill="#f4f6fc"/><rect x="508.05" y="110.95" width="1.40" height="1.39" fill="#fffdee"/><rect x="509.45" y="110.95" width="1.40" height="1.39" fill="#fffefb"/><rect x="510.85" y="110.95" width="1.40" height="1.39" fill="#fffffb"/><rect x="512.25" y="110.95" width="1.40" height="1.39" fill="#fffef8"/><rect x="513.64" y="110.95" width="1.40" height="1.39" fill="#f7e364"/><rect x="515.04" y="110.95" width="1.40" height="1.39" fill="#f1f3fb"/><rect x="516.44" y="110.95" width="1.40" height="1.39" fill="#f6f7fc"/><rect x="517.84" y="110.95" width="1.40" height="1.39" fill="#fffbe0"/><rect x="519.23" y="110.95" width="1.40" height="1.39" fill="#838cd1"/><rect x="520.63" y="110.95" width="1.40" height="1.39" fill="#b4bce6"/><rect x="522.03" y="110.95" width="1.40" height="1.39" fill="#fbee9a"/><rect x="523.42" y="110.95" width="1.40" height="1.39" fill="#dbe0f5"/><rect x="524.82" y="110.95" width="1.40" height="1.39" fill="#96a0db"/><rect x="526.22" y="110.95" width="1.40" height="1.39" fill="#ced4f0"/><rect x="527.62" y="110.95" width="1.40" height="1.39" fill="#a0a9de"/><rect x="529.01" y="110.95" width="1.40" height="1.39" fill="#cfd5f0"/><rect x="530.41" y="110.95" width="1.40" height="1.39" fill="#f6f7fc"/><rect x="531.81" y="110.95" width="1.40" height="1.39" fill="#bfc6ea"/><rect x="533.21" y="110.95" width="1.40" height="1.39" fill="#fcf1a8"/><rect x="534.61" y="110.95" width="1.40" height="1.39" fill="#858fd3"/><rect x="536.00" y="110.95" width="1.40" height="1.39" fill="#e2e7f7"/><rect x="481.50" y="112.34" width="1.40" height="1.39" fill="#fef7c2"/><rect x="482.90" y="112.34" width="1.40" height="1.39" fill="#bdc4e9"/><rect x="484.30" y="112.34" width="1.40" height="1.39" fill="#fdf4b3"/><rect x="485.69" y="112.34" width="1.40" height="1.39" fill="#fcf1a8"/><rect x="487.09" y="112.34" width="1.40" height="1.39" fill="#f2f4fb"/><rect x="488.49" y="112.34" width="1.40" height="1.39" fill="#fbef9c"/><rect x="489.88" y="112.34" width="1.40" height="1.39" fill="#f6e05a"/><rect x="491.28" y="112.34" width="1.40" height="1.39" fill="#fbed97"/><rect x="492.68" y="112.34" width="1.40" height="1.39" fill="#f4d944"/><rect x="494.08" y="112.34" width="1.40" height="1.39" fill="#fef6c0"/><rect x="495.48" y="112.34" width="1.40" height="1.39" fill="#f3d540"/><rect x="496.87" y="112.34" width="1.40" height="1.39" fill="#eaa31d"/><rect x="498.27" y="112.34" width="1.40" height="1.39" fill="#fffada"/><rect x="499.67" y="112.34" width="1.40" height="1.39" fill="#fffffe"/><rect x="501.06" y="112.34" width="1.40" height="1.39" fill="#e3e7f7"/><rect x="502.46" y="112.34" width="1.40" height="1.39" fill="#fffbe3"/><rect x="503.86" y="112.34" width="1.40" height="1.39" fill="#f0f2fb"/><rect x="505.26" y="112.34" width="1.40" height="1.39" fill="#8690d4"/><rect x="506.65" y="112.34" width="1.40" height="1.39" fill="#f0f2fb"/><rect x="508.05" y="112.34" width="1.40" height="1.39" fill="#fbed96"/><rect x="509.45" y="112.34" width="1.40" height="1.39" fill="#fcf1a6"/><rect x="510.85" y="112.34" width="1.40" height="1.39" fill="#fffef6"/><rect x="512.25" y="112.34" width="1.40" height="1.39" fill="#9ba4dd"/><rect x="513.64" y="112.34" width="1.40" height="1.39" fill="#fbed95"/><rect x="515.04" y="112.34" width="1.40" height="1.39" fill="#eef1fa"/><rect x="516.44" y="112.34" width="1.40" height="1.39" fill="#cdd3f0"/><rect x="517.84" y="112.34" width="1.40" height="1.39" fill="#e1e5f6"/><rect x="519.23" y="112.34" width="1.40" height="1.39" fill="#dce1f5"/><rect x="520.63" y="112.34" width="1.40" height="1.39" fill="#fcfdfe"/><rect x="522.03" y="112.34" width="1.40" height="1.39" fill="#d2d8f1"/><rect x="523.42" y="112.34" width="1.40" height="1.39" fill="#e0e4f6"/><rect x="524.82" y="112.34" width="1.40" height="1.39" fill="#dee2f5"/><rect x="526.22" y="112.34" width="1.40" height="1.39" fill="#fbef9e"/><rect x="527.62" y="112.34" width="1.40" height="1.39" fill="#dde2f5"/><rect x="529.01" y="112.34" width="1.40" height="1.39" fill="#fffffd"/><rect x="530.41" y="112.34" width="1.40" height="1.39" fill="#e5e9f8"/><rect x="531.81" y="112.34" width="1.40" height="1.39" fill="#fdf3b3"/><rect x="533.21" y="112.34" width="1.40" height="1.39" fill="#dbe0f5"/><rect x="534.61" y="112.34" width="1.40" height="1.39" fill="#fffbe0"/><rect x="536.00" y="112.34" width="1.40" height="1.39" fill="#b8bfe7"/><rect x="481.50" y="113.73" width="1.40" height="1.39" fill="#fffad7"/><rect x="482.90" y="113.73" width="1.40" height="1.39" fill="#fcf1a7"/><rect x="484.30" y="113.73" width="1.40" height="1.39" fill="#fffffc"/><rect x="485.69" y="113.73" width="1.40" height="1.39" fill="#fffad7"/><rect x="487.09" y="113.73" width="1.40" height="1.39" fill="#f3d440"/><rect x="488.49" y="113.73" width="1.40" height="1.39" fill="#fffdf0"/><rect x="489.88" y="113.73" width="1.40" height="1.39" fill="#fffce9"/><rect x="491.28" y="113.73" width="1.40" height="1.39" fill="#fdf3b1"/><rect x="492.68" y="113.73" width="1.40" height="1.39" fill="#fffffc"/><rect x="494.08" y="113.73" width="1.40" height="1.39" fill="#fffbdd"/><rect x="495.48" y="113.73" width="1.40" height="1.39" fill="#f3d540"/><rect x="496.87" y="113.73" width="1.40" height="1.39" fill="#fffbdd"/><rect x="498.27" y="113.73" width="1.40" height="1.39" fill="#f6e15d"/><rect x="499.67" y="113.73" width="1.40" height="1.39" fill="#e8ecf9"/><rect x="501.06" y="113.73" width="1.40" height="1.39" fill="#929cd9"/><rect x="502.46" y="113.73" width="1.40" height="1.39" fill="#c3c9eb"/><rect x="503.86" y="113.73" width="1.40" height="1.39" fill="#faec92"/><rect x="505.26" y="113.73" width="1.40" height="1.39" fill="#fcef9f"/><rect x="506.65" y="113.73" width="1.40" height="1.39" fill="#fffce8"/><rect x="508.05" y="113.73" width="1.40" height="1.39" fill="#8d97d8"/><rect x="509.45" y="113.73" width="1.40" height="1.39" fill="#fffad6"/><rect x="510.85" y="113.73" width="1.40" height="1.39" fill="#b9c0e8"/><rect x="512.25" y="113.73" width="1.40" height="1.39" fill="#f6f8fd"/><rect x="513.64" y="113.73" width="1.40" height="1.39" fill="#fffdec"/><rect x="515.04" y="113.73" width="1.40" height="1.39" fill="#6770c0"/><rect x="516.44" y="113.73" width="1.40" height="1.39" fill="#fff8cb"/><rect x="517.84" y="113.73" width="1.40" height="1.39" fill="#dce1f5"/><rect x="519.23" y="113.73" width="1.40" height="1.39" fill="#d4d9f2"/><rect x="520.63" y="113.73" width="1.40" height="1.39" fill="#eceffa"/><rect x="522.03" y="113.73" width="1.40" height="1.39" fill="#f5f6fc"/><rect x="523.42" y="113.73" width="1.40" height="1.39" fill="#e3e7f7"/><rect x="524.82" y="113.73" width="1.40" height="1.39" fill="#dce1f5"/><rect x="526.22" y="113.73" width="1.40" height="1.39" fill="#f7f8fd"/><rect x="527.62" y="113.73" width="1.40" height="1.39" fill="#6d76c4"/><rect x="529.01" y="113.73" width="1.40" height="1.39" fill="#eef0fa"/><rect x="530.41" y="113.73" width="1.40" height="1.39" fill="#f7f8fd"/><rect x="531.81" y="113.73" width="1.40" height="1.39" fill="#fef5bc"/><rect x="533.21" y="113.73" width="1.40" height="1.39" fill="#d4d9f2"/><rect x="534.61" y="113.73" width="1.40" height="1.39" fill="#c8ceed"/><rect x="536.00" y="113.73" width="1.40" height="1.39" fill="#dfe4f6"/><rect x="481.50" y="115.12" width="1.40" height="1.39" fill="#fffef9"/><rect x="482.90" y="115.12" width="1.40" height="1.39" fill="#f9ea85"/><rect x="484.30" y="115.12" width="1.40" height="1.39" fill="#eaedf9"/><rect x="485.69" y="115.12" width="1.40" height="1.39" fill="#fcef9f"/><rect x="487.09" y="115.12" width="1.40" height="1.39" fill="#fef6bf"/><rect x="488.49" y="115.12" width="1.40" height="1.39" fill="#d2d8f1"/><rect x="489.88" y="115.12" width="1.40" height="1.39" fill="#fffad8"/><rect x="491.28" y="115.12" width="1.40" height="1.39" fill="#fbed94"/><rect x="492.68" y="115.12" width="1.40" height="1.39" fill="#fffef8"/><rect x="494.08" y="115.12" width="1.40" height="1.39" fill="#fffadb"/><rect x="495.48" y="115.12" width="1.40" height="1.39" fill="#d3d8f2"/><rect x="496.87" y="115.12" width="1.40" height="1.39" fill="#fffdf2"/><rect x="498.27" y="115.12" width="1.40" height="1.39" fill="#e0e5f6"/><rect x="499.67" y="115.12" width="1.40" height="1.39" fill="#fff9cc"/><rect x="501.06" y="115.12" width="1.40" height="1.39" fill="#808ad0"/><rect x="502.46" y="115.12" width="1.40" height="1.39" fill="#d9def4"/><rect x="503.86" y="115.12" width="1.40" height="1.39" fill="#c5cbec"/><rect x="505.26" y="115.12" width="1.40" height="1.39" fill="#eaedf9"/><rect x="506.65" y="115.12" width="1.40" height="1.39" fill="#d7dcf3"/><rect x="508.05" y="115.12" width="1.40" height="1.39" fill="#d7ddf3"/><rect x="509.45" y="115.12" width="1.40" height="1.39" fill="#f3f4fb"/><rect x="510.85" y="115.12" width="1.40" height="1.39" fill="#fffffd"/><rect x="512.25" y="115.12" width="1.40" height="1.39" fill="#eaedf9"/><rect x="513.64" y="115.12" width="1.40" height="1.39" fill="#fff8ca"/><rect x="515.04" y="115.12" width="1.40" height="1.39" fill="#747ec9"/><rect x="516.44" y="115.12" width="1.40" height="1.39" fill="#dfe3f6"/><rect x="517.84" y="115.12" width="1.40" height="1.39" fill="#bbc2e9"/><rect x="519.23" y="115.12" width="1.40" height="1.39" fill="#fffce4"/><rect x="520.63" y="115.12" width="1.40" height="1.39" fill="#fffdf3"/><rect x="522.03" y="115.12" width="1.40" height="1.39" fill="#faeb8e"/><rect x="523.42" y="115.12" width="1.40" height="1.39" fill="#d4daf2"/><rect x="524.82" y="115.12" width="1.40" height="1.39" fill="#eff1fa"/><rect x="526.22" y="115.12" width="1.40" height="1.39" fill="#99a2dc"/><rect x="527.62" y="115.12" width="1.40" height="1.39" fill="#dae0f4"/><rect x="529.01" y="115.12" width="1.40" height="1.39" fill="#f5f7fc"/><rect x="530.41" y="115.12" width="1.40" height="1.39" fill="#e8ebf8"/><rect x="531.81" y="115.12" width="1.40" height="1.39" fill="#e6eaf8"/><rect x="533.21" y="115.12" width="1.40" height="1.39" fill="#fffefb"/><rect x="534.61" y="115.12" width="1.40" height="1.39" fill="#eaedf9"/><rect x="536.00" y="115.12" width="1.40" height="1.39" fill="#d7dcf3"/><rect x="481.50" y="116.51" width="1.40" height="1.39" fill="#fef5ba"/><rect x="482.90" y="116.51" width="1.40" height="1.39" fill="#fffbe3"/><rect x="484.30" y="116.51" width="1.40" height="1.39" fill="#fcf0a3"/><rect x="485.69" y="116.51" width="1.40" height="1.39" fill="#efba2b"/><rect x="487.09" y="116.51" width="1.40" height="1.39" fill="#eeb527"/><rect x="488.49" y="116.51" width="1.40" height="1.39" fill="#fefeff"/><rect x="489.88" y="116.51" width="1.40" height="1.39" fill="#e0e4f6"/><rect x="491.28" y="116.51" width="1.40" height="1.39" fill="#fffef4"/><rect x="492.68" y="116.51" width="1.40" height="1.39" fill="#fbfbfe"/><rect x="494.08" y="116.51" width="1.40" height="1.39" fill="#fff9cc"/><rect x="495.48" y="116.51" width="1.40" height="1.39" fill="#e9ecf9"/><rect x="496.87" y="116.51" width="1.40" height="1.39" fill="#eef0fa"/><rect x="498.27" y="116.51" width="1.40" height="1.39" fill="#c1c8eb"/><rect x="499.67" y="116.51" width="1.40" height="1.39" fill="#fffce4"/><rect x="501.06" y="116.51" width="1.40" height="1.39" fill="#b1b9e5"/><rect x="502.46" y="116.51" width="1.40" height="1.39" fill="#f3f5fc"/><rect x="503.86" y="116.51" width="1.40" height="1.39" fill="#d6dcf3"/><rect x="505.26" y="116.51" width="1.40" height="1.39" fill="#c4caec"/><rect x="506.65" y="116.51" width="1.40" height="1.39" fill="#fcf1a8"/><rect x="508.05" y="116.51" width="1.40" height="1.39" fill="#4a53af"/><rect x="509.45" y="116.51" width="1.40" height="1.39" fill="#e1e5f6"/><rect x="510.85" y="116.51" width="1.40" height="1.39" fill="#fffef4"/><rect x="512.25" y="116.51" width="1.40" height="1.39" fill="#eaedf9"/><rect x="513.64" y="116.51" width="1.40" height="1.39" fill="#fffce5"/><rect x="515.04" y="116.51" width="1.40" height="1.39" fill="#e6e9f8"/><rect x="516.44" y="116.51" width="1.40" height="1.39" fill="#d5dbf3"/><rect x="517.84" y="116.51" width="1.40" height="1.39" fill="#7781ca"/><rect x="519.23" y="116.51" width="1.40" height="1.39" fill="#dfe4f6"/><rect x="520.63" y="116.51" width="1.40" height="1.39" fill="#dee3f6"/><rect x="522.03" y="116.51" width="1.40" height="1.39" fill="#dadff4"/><rect x="523.42" y="116.51" width="1.40" height="1.39" fill="#eaedf9"/><rect x="524.82" y="116.51" width="1.40" height="1.39" fill="#fafafd"/><rect x="526.22" y="116.51" width="1.40" height="1.39" fill="#fffce8"/><rect x="527.62" y="116.51" width="1.40" height="1.39" fill="#fffad8"/><rect x="529.01" y="116.51" width="1.40" height="1.39" fill="#edeffa"/><rect x="530.41" y="116.51" width="1.40" height="1.39" fill="#c6cded"/><rect x="531.81" y="116.51" width="1.40" height="1.39" fill="#dbe0f5"/><rect x="533.21" y="116.51" width="1.40" height="1.39" fill="#c8ceee"/><rect x="534.61" y="116.51" width="1.40" height="1.39" fill="#fbfbfe"/><rect x="536.00" y="116.51" width="1.40" height="1.39" fill="#e3e7f7"/><rect x="481.50" y="117.90" width="1.40" height="1.39" fill="#fbfbfe"/><rect x="482.90" y="117.90" width="1.40" height="1.39" fill="#f8e779"/><rect x="484.30" y="117.90" width="1.40" height="1.39" fill="#fffbdc"/><rect x="485.69" y="117.90" width="1.40" height="1.39" fill="#acb4e3"/><rect x="487.09" y="117.90" width="1.40" height="1.39" fill="#fff9cc"/><rect x="488.49" y="117.90" width="1.40" height="1.39" fill="#fff9d3"/><rect x="489.88" y="117.90" width="1.40" height="1.39" fill="#fffded"/><rect x="491.28" y="117.90" width="1.40" height="1.39" fill="#8c95d7"/><rect x="492.68" y="117.90" width="1.40" height="1.39" fill="#f7e368"/><rect x="494.08" y="117.90" width="1.40" height="1.39" fill="#f0f2fb"/><rect x="495.48" y="117.90" width="1.40" height="1.39" fill="#757ec9"/><rect x="496.87" y="117.90" width="1.40" height="1.39" fill="#f9e980"/><rect x="498.27" y="117.90" width="1.40" height="1.39" fill="#bac1e8"/><rect x="499.67" y="117.90" width="1.40" height="1.39" fill="#dadff4"/><rect x="501.06" y="117.90" width="1.40" height="1.39" fill="#6a73c2"/><rect x="502.46" y="117.90" width="1.40" height="1.39" fill="#f2f4fb"/><rect x="503.86" y="117.90" width="1.40" height="1.39" fill="#dfe4f6"/><rect x="505.26" y="117.90" width="1.40" height="1.39" fill="#fef6be"/><rect x="506.65" y="117.90" width="1.40" height="1.39" fill="#fdf4b6"/><rect x="508.05" y="117.90" width="1.40" height="1.39" fill="#fffef6"/><rect x="509.45" y="117.90" width="1.40" height="1.39" fill="#f5f6fc"/><rect x="510.85" y="117.90" width="1.40" height="1.39" fill="#b0b7e4"/><rect x="512.25" y="117.90" width="1.40" height="1.39" fill="#fffce6"/><rect x="513.64" y="117.90" width="1.40" height="1.39" fill="#eceffa"/><rect x="515.04" y="117.90" width="1.40" height="1.39" fill="#bcc3e9"/><rect x="516.44" y="117.90" width="1.40" height="1.39" fill="#edeffa"/><rect x="517.84" y="117.90" width="1.40" height="1.39" fill="#dbe0f5"/><rect x="519.23" y="117.90" width="1.40" height="1.39" fill="#fefeff"/><rect x="520.63" y="117.90" width="1.40" height="1.39" fill="#fcfcfe"/><rect x="522.03" y="117.90" width="1.40" height="1.39" fill="#fdf2ab"/><rect x="523.42" y="117.90" width="1.40" height="1.39" fill="#d9def4"/><rect x="524.82" y="117.90" width="1.40" height="1.39" fill="#fffce9"/><rect x="526.22" y="117.90" width="1.40" height="1.39" fill="#e4e8f7"/><rect x="527.62" y="117.90" width="1.40" height="1.39" fill="#dfe3f6"/><rect x="529.01" y="117.90" width="1.40" height="1.39" fill="#fffef9"/><rect x="530.41" y="117.90" width="1.40" height="1.39" fill="#d7dcf3"/><rect x="531.81" y="117.90" width="1.40" height="1.39" fill="#eff1fa"/><rect x="533.21" y="117.90" width="1.40" height="1.39" fill="#e0e4f6"/><rect x="534.61" y="117.90" width="1.40" height="1.39" fill="#e6e9f8"/><rect x="536.00" y="117.90" width="1.40" height="1.39" fill="#717ac6"/><rect x="481.50" y="119.29" width="1.40" height="1.39" fill="#b5bde7"/><rect x="482.90" y="119.29" width="1.40" height="1.39" fill="#fcf0a5"/><rect x="484.30" y="119.29" width="1.40" height="1.39" fill="#eeb426"/><rect x="485.69" y="119.29" width="1.40" height="1.39" fill="#fbfcfe"/><rect x="487.09" y="119.29" width="1.40" height="1.39" fill="#fffdec"/><rect x="488.49" y="119.29" width="1.40" height="1.39" fill="#efbf2f"/><rect x="489.88" y="119.29" width="1.40" height="1.39" fill="#bac2e8"/><rect x="491.28" y="119.29" width="1.40" height="1.39" fill="#c5ccec"/><rect x="492.68" y="119.29" width="1.40" height="1.39" fill="#eef1fa"/><rect x="494.08" y="119.29" width="1.40" height="1.39" fill="#fef7c2"/><rect x="495.48" y="119.29" width="1.40" height="1.39" fill="#ebeef9"/><rect x="496.87" y="119.29" width="1.40" height="1.39" fill="#edeffa"/><rect x="498.27" y="119.29" width="1.40" height="1.39" fill="#d7dcf3"/><rect x="501.06" y="119.29" width="1.40" height="1.39" fill="#fffadb"/><rect x="502.46" y="119.29" width="1.40" height="1.39" fill="#fbfcfe"/><rect x="503.86" y="119.29" width="1.40" height="1.39" fill="#cad0ee"/><rect x="505.26" y="119.29" width="1.40" height="1.39" fill="#c5ccec"/><rect x="506.65" y="119.29" width="1.40" height="1.39" fill="#cbd1ef"/><rect x="508.05" y="119.29" width="1.40" height="1.39" fill="#ccd2ef"/><rect x="509.45" y="119.29" width="1.40" height="1.39" fill="#c6cced"/><rect x="510.85" y="119.29" width="1.40" height="1.39" fill="#f7e46c"/><rect x="512.25" y="119.29" width="1.40" height="1.39" fill="#ccd2ef"/><rect x="513.64" y="119.29" width="1.40" height="1.39" fill="#e0e4f6"/><rect x="515.04" y="119.29" width="1.40" height="1.39" fill="#c1c8eb"/><rect x="516.44" y="119.29" width="1.40" height="1.39" fill="#eceffa"/><rect x="517.84" y="119.29" width="1.40" height="1.39" fill="#b1b9e5"/><rect x="519.23" y="119.29" width="1.40" height="1.39" fill="#fffbdc"/><rect x="520.63" y="119.29" width="1.40" height="1.39" fill="#7e87ce"/><rect x="522.03" y="119.29" width="1.40" height="1.39" fill="#d8ddf4"/><rect x="523.42" y="119.29" width="1.40" height="1.39" fill="#fffdec"/><rect x="524.82" y="119.29" width="1.40" height="1.39" fill="#d3d9f2"/><rect x="526.22" y="119.29" width="1.40" height="1.39" fill="#e1e5f6"/><rect x="527.62" y="119.29" width="1.40" height="1.39" fill="#fff9d0"/><rect x="529.01" y="119.29" width="1.40" height="1.39" fill="#e6e9f8"/><rect x="530.41" y="119.29" width="1.40" height="1.39" fill="#e1e5f6"/><rect x="531.81" y="119.29" width="1.40" height="1.39" fill="#faeb8e"/><rect x="533.21" y="119.29" width="1.40" height="1.39" fill="#fdf3b3"/><rect x="534.61" y="119.29" width="1.40" height="1.39" fill="#fff9d1"/><rect x="536.00" y="119.29" width="1.40" height="1.39" fill="#97a1db"/><rect x="481.50" y="120.68" width="1.40" height="1.39" fill="#d7dcf3"/><rect x="482.90" y="120.68" width="1.40" height="1.39" fill="#f3d742"/><rect x="484.30" y="120.68" width="1.40" height="1.39" fill="#fff7c4"/><rect x="485.69" y="120.68" width="1.40" height="1.39" fill="#fffdf0"/><rect x="487.09" y="120.68" width="1.40" height="1.39" fill="#fffce6"/><rect x="488.49" y="120.68" width="1.40" height="1.39" fill="#fff8c6"/><rect x="489.88" y="120.68" width="1.40" height="1.39" fill="#e2e6f7"/><rect x="491.28" y="120.68" width="1.40" height="1.39" fill="#fffbdd"/><rect x="492.68" y="120.68" width="1.40" height="1.39" fill="#ccd2ef"/><rect x="494.08" y="120.68" width="1.40" height="1.39" fill="#545db5"/><rect x="495.48" y="120.68" width="1.40" height="1.39" fill="#dfe4f6"/><rect x="496.87" y="120.68" width="1.40" height="1.39" fill="#cfd5f0"/><rect x="498.27" y="120.68" width="1.40" height="1.39" fill="#fffce7"/><rect x="499.67" y="120.68" width="1.40" height="1.39" fill="#fdf4b6"/><rect x="501.06" y="120.68" width="1.40" height="1.39" fill="#c7ceed"/><rect x="502.46" y="120.68" width="1.40" height="1.39" fill="#c2c8eb"/><rect x="503.86" y="120.68" width="1.40" height="1.39" fill="#e5e9f8"/><rect x="505.26" y="120.68" width="1.40" height="1.39" fill="#b9c0e8"/><rect x="506.65" y="120.68" width="1.40" height="1.39" fill="#fffef7"/><rect x="508.05" y="120.68" width="1.40" height="1.39" fill="#b5bce6"/><rect x="509.45" y="120.68" width="1.40" height="1.39" fill="#fef6bd"/><rect x="510.85" y="120.68" width="1.40" height="1.39" fill="#e3e7f7"/><rect x="512.25" y="120.68" width="1.40" height="1.39" fill="#a4ace0"/><rect x="513.64" y="120.68" width="1.40" height="1.39" fill="#f2f4fb"/><rect x="515.04" y="120.68" width="1.40" height="1.39" fill="#bac1e8"/><rect x="516.44" y="120.68" width="1.40" height="1.39" fill="#7b85cd"/><rect x="517.84" y="120.68" width="1.40" height="1.39" fill="#f9e87e"/><rect x="519.23" y="120.68" width="1.40" height="1.39" fill="#919bd9"/><rect x="520.63" y="120.68" width="1.40" height="1.39" fill="#fff9ce"/><rect x="522.03" y="120.68" width="1.40" height="1.39" fill="#e3e7f7"/><rect x="523.42" y="120.68" width="1.40" height="1.39" fill="#d6dbf3"/><rect x="524.82" y="120.68" width="1.40" height="1.39" fill="#f4f5fc"/><rect x="526.22" y="120.68" width="1.40" height="1.39" fill="#7c86cd"/><rect x="527.62" y="120.68" width="1.40" height="1.39" fill="#b9c0e8"/><rect x="529.01" y="120.68" width="1.40" height="1.39" fill="#666fc0"/><rect x="530.41" y="120.68" width="1.40" height="1.39" fill="#e6e9f8"/><rect x="531.81" y="120.68" width="1.40" height="1.39" fill="#c2c8eb"/><rect x="533.21" y="120.68" width="1.40" height="1.39" fill="#f8e779"/><rect x="534.61" y="120.68" width="1.40" height="1.39" fill="#7982cb"/><rect x="536.00" y="120.68" width="1.40" height="1.39" fill="#f9fafd"/><rect x="481.50" y="122.07" width="1.40" height="1.39" fill="#fcf0a1"/><rect x="482.90" y="122.07" width="1.40" height="1.39" fill="#f8e673"/><rect x="484.30" y="122.07" width="1.40" height="1.39" fill="#fef7c1"/><rect x="485.69" y="122.07" width="1.40" height="1.39" fill="#fffdee"/><rect x="487.09" y="122.07" width="1.40" height="1.39" fill="#fff9ce"/><rect x="488.49" y="122.07" width="1.40" height="1.39" fill="#fff9cd"/><rect x="489.88" y="122.07" width="1.40" height="1.39" fill="#b6bde7"/><rect x="491.28" y="122.07" width="1.40" height="1.39" fill="#b9c1e8"/><rect x="492.68" y="122.07" width="1.40" height="1.39" fill="#fafbfe"/><rect x="494.08" y="122.07" width="1.40" height="1.39" fill="#cad0ee"/><rect x="495.48" y="122.07" width="1.40" height="1.39" fill="#f8e676"/><rect x="496.87" y="122.07" width="1.40" height="1.39" fill="#c1c8eb"/><rect x="498.27" y="122.07" width="1.40" height="1.39" fill="#97a1db"/><rect x="499.67" y="122.07" width="1.40" height="1.39" fill="#d7ddf3"/><rect x="501.06" y="122.07" width="1.40" height="1.39" fill="#5a63b9"/><rect x="502.46" y="122.07" width="1.40" height="1.39" fill="#7a84cc"/><rect x="503.86" y="122.07" width="1.40" height="1.39" fill="#a3abdf"/><rect x="505.26" y="122.07" width="1.40" height="1.39" fill="#6b74c3"/><rect x="506.65" y="122.07" width="1.40" height="1.39" fill="#afb7e4"/><rect x="508.05" y="122.07" width="1.40" height="1.39" fill="#7d86ce"/><rect x="509.45" y="122.07" width="1.40" height="1.39" fill="#fff9d2"/><rect x="510.85" y="122.07" width="1.40" height="1.39" fill="#fafbfe"/><rect x="512.25" y="122.07" width="1.40" height="1.39" fill="#eaedf9"/><rect x="513.64" y="122.07" width="1.40" height="1.39" fill="#656ebf"/><rect x="515.04" y="122.07" width="1.40" height="1.39" fill="#a5ade0"/><rect x="516.44" y="122.07" width="1.40" height="1.39" fill="#f6e260"/><rect x="517.84" y="122.07" width="1.40" height="1.39" fill="#fef6bd"/><rect x="519.23" y="122.07" width="1.40" height="1.39" fill="#fffada"/><rect x="520.63" y="122.07" width="1.40" height="1.39" fill="#f5de4d"/><rect x="522.03" y="122.07" width="1.40" height="1.39" fill="#d2d8f1"/><rect x="523.42" y="122.07" width="1.40" height="1.39" fill="#e8ebf8"/><rect x="524.82" y="122.07" width="1.40" height="1.39" fill="#eef1fa"/><rect x="526.22" y="122.07" width="1.40" height="1.39" fill="#e5e9f8"/><rect x="527.62" y="122.07" width="1.40" height="1.39" fill="#f7e46a"/><rect x="529.01" y="122.07" width="1.40" height="1.39" fill="#fffad5"/><rect x="530.41" y="122.07" width="1.40" height="1.39" fill="#fcf0a4"/><rect x="531.81" y="122.07" width="1.40" height="1.39" fill="#d9def4"/><rect x="533.21" y="122.07" width="1.40" height="1.39" fill="#a1aadf"/><rect x="534.61" y="122.07" width="1.40" height="1.39" fill="#f3f5fc"/><rect x="536.00" y="122.07" width="1.40" height="1.39" fill="#fdf4b4"/><rect x="481.50" y="123.46" width="1.40" height="1.39" fill="#f6e15d"/><rect x="482.90" y="123.46" width="1.40" height="1.39" fill="#fffdec"/><rect x="484.30" y="123.46" width="1.40" height="1.39" fill="#fffce6"/><rect x="485.69" y="123.46" width="1.40" height="1.39" fill="#f0f2fb"/><rect x="487.09" y="123.46" width="1.40" height="1.39" fill="#cdd3f0"/><rect x="488.49" y="123.46" width="1.40" height="1.39" fill="#fffad7"/><rect x="489.88" y="123.46" width="1.40" height="1.39" fill="#fffef6"/><rect x="491.28" y="123.46" width="1.40" height="1.39" fill="#f8e675"/><rect x="492.68" y="123.46" width="1.40" height="1.39" fill="#f8e56f"/><rect x="494.08" y="123.46" width="1.40" height="1.39" fill="#aab2e2"/><rect x="495.48" y="123.46" width="1.40" height="1.39" fill="#abb3e3"/><rect x="496.87" y="123.46" width="1.40" height="1.39" fill="#f4f6fc"/><rect x="498.27" y="123.46" width="1.40" height="1.39" fill="#d0d5f0"/><rect x="499.67" y="123.46" width="1.40" height="1.39" fill="#464eac"/><rect x="501.06" y="123.46" width="1.40" height="1.39" fill="#cfd5f0"/><rect x="502.46" y="123.46" width="1.40" height="1.39" fill="#b1b8e5"/><rect x="503.86" y="123.46" width="1.40" height="1.39" fill="#848dd2"/><rect x="505.26" y="123.46" width="1.40" height="1.39" fill="#6770c1"/><rect x="506.65" y="123.46" width="1.40" height="1.39" fill="#8a93d5"/><rect x="508.05" y="123.46" width="1.40" height="1.39" fill="#6a73c2"/><rect x="509.45" y="123.46" width="1.40" height="1.39" fill="#a2aadf"/><rect x="510.85" y="123.46" width="1.40" height="1.39" fill="#acb4e3"/><rect x="512.25" y="123.46" width="1.40" height="1.39" fill="#f5f7fc"/><rect x="513.64" y="123.46" width="1.40" height="1.39" fill="#a5aee0"/><rect x="515.04" y="123.46" width="1.40" height="1.39" fill="#e8ebf8"/><rect x="516.44" y="123.46" width="1.40" height="1.39" fill="#fafbfe"/><rect x="517.84" y="123.46" width="1.40" height="1.39" fill="#fffadb"/><rect x="519.23" y="123.46" width="1.40" height="1.39" fill="#fcfcfe"/><rect x="520.63" y="123.46" width="1.40" height="1.39" fill="#e4e8f7"/><rect x="522.03" y="123.46" width="1.40" height="1.39" fill="#f8e675"/><rect x="523.42" y="123.46" width="1.40" height="1.39" fill="#d5daf2"/><rect x="524.82" y="123.46" width="1.40" height="1.39" fill="#cfd5f0"/><rect x="526.22" y="123.46" width="1.40" height="1.39" fill="#fcf0a4"/><rect x="527.62" y="123.46" width="1.40" height="1.39" fill="#e8ebf8"/><rect x="529.01" y="123.46" width="1.40" height="1.39" fill="#eff1fa"/><rect x="530.41" y="123.46" width="1.40" height="1.39" fill="#f4f5fc"/><rect x="531.81" y="123.46" width="1.40" height="1.39" fill="#e8ebf8"/><rect x="533.21" y="123.46" width="1.40" height="1.39" fill="#a9b1e2"/><rect x="534.61" y="123.46" width="1.40" height="1.39" fill="#f0f2fb"/><rect x="536.00" y="123.46" width="1.40" height="1.39" fill="#ccd2ef"/><rect x="481.50" y="124.85" width="1.40" height="1.39" fill="#fffada"/><rect x="482.90" y="124.85" width="1.40" height="1.39" fill="#fbef9f"/><rect x="484.30" y="124.85" width="1.40" height="1.39" fill="#fcf1a6"/><rect x="485.69" y="124.85" width="1.40" height="1.39" fill="#f2ce3b"/><rect x="487.09" y="124.85" width="1.40" height="1.39" fill="#fef6bf"/><rect x="488.49" y="124.85" width="1.40" height="1.39" fill="#fcf1a8"/><rect x="489.88" y="124.85" width="1.40" height="1.39" fill="#d9def4"/><rect x="491.28" y="124.85" width="1.40" height="1.39" fill="#e3e7f7"/><rect x="492.68" y="124.85" width="1.40" height="1.39" fill="#f3f5fc"/><rect x="494.08" y="124.85" width="1.40" height="1.39" fill="#9ea7de"/><rect x="495.48" y="124.85" width="1.40" height="1.39" fill="#e9ecf9"/><rect x="496.87" y="124.85" width="1.40" height="1.39" fill="#f9fafd"/><rect x="498.27" y="124.85" width="1.40" height="1.39" fill="#fffdf2"/><rect x="499.67" y="124.85" width="1.40" height="1.39" fill="#fef6be"/><rect x="501.06" y="124.85" width="1.40" height="1.39" fill="#a5aee1"/><rect x="502.46" y="124.85" width="1.40" height="1.39" fill="#939cda"/><rect x="503.86" y="124.85" width="1.40" height="1.39" fill="#646dbe"/><rect x="505.26" y="124.85" width="1.40" height="1.39" fill="#6f78c5"/><rect x="506.65" y="124.85" width="1.40" height="1.39" fill="#8a94d6"/><rect x="508.05" y="124.85" width="1.40" height="1.39" fill="#6770c0"/><rect x="509.45" y="124.85" width="1.40" height="1.39" fill="#454dac"/><rect x="510.85" y="124.85" width="1.40" height="1.39" fill="#dbe0f4"/><rect x="512.25" y="124.85" width="1.40" height="1.39" fill="#9ea7de"/><rect x="513.64" y="124.85" width="1.40" height="1.39" fill="#7780ca"/><rect x="515.04" y="124.85" width="1.40" height="1.39" fill="#bfc6ea"/><rect x="516.44" y="124.85" width="1.40" height="1.39" fill="#fffdef"/><rect x="517.84" y="124.85" width="1.40" height="1.39" fill="#fcf1a6"/><rect x="519.23" y="124.85" width="1.40" height="1.39" fill="#dde2f5"/><rect x="520.63" y="124.85" width="1.40" height="1.39" fill="#e9ecf9"/><rect x="522.03" y="124.85" width="1.40" height="1.39" fill="#f2f4fb"/><rect x="523.42" y="124.85" width="2.79" height="1.39" fill="#dce1f5"/><rect x="526.22" y="124.85" width="1.40" height="1.39" fill="#c9cfee"/><rect x="527.62" y="124.85" width="1.40" height="1.39" fill="#e7eaf8"/><rect x="529.01" y="124.85" width="1.40" height="1.39" fill="#fffffb"/><rect x="530.41" y="124.85" width="1.40" height="1.39" fill="#eef0fa"/><rect x="531.81" y="124.85" width="1.40" height="1.39" fill="#dbe0f4"/><rect x="533.21" y="124.85" width="1.40" height="1.39" fill="#faec90"/><rect x="534.61" y="124.85" width="1.40" height="1.39" fill="#c3c9ec"/><rect x="536.00" y="124.85" width="1.40" height="1.39" fill="#fffef8"/><rect x="481.50" y="126.24" width="1.40" height="1.39" fill="#edb023"/><rect x="482.90" y="126.24" width="1.40" height="1.39" fill="#fbef9d"/><rect x="484.30" y="126.24" width="1.40" height="1.39" fill="#f1ca38"/><rect x="485.69" y="126.24" width="1.40" height="1.39" fill="#f8f9fd"/><rect x="487.09" y="126.24" width="1.40" height="1.39" fill="#f5df56"/><rect x="488.49" y="126.24" width="1.40" height="1.39" fill="#c7cded"/><rect x="489.88" y="126.24" width="1.40" height="1.39" fill="#fff9cd"/><rect x="491.28" y="126.24" width="1.40" height="1.39" fill="#e6e9f8"/><rect x="492.68" y="126.24" width="1.40" height="1.39" fill="#eceffa"/><rect x="494.08" y="126.24" width="1.40" height="1.39" fill="#fff9d4"/><rect x="495.48" y="126.24" width="1.40" height="1.39" fill="#fcfdfe"/><rect x="496.87" y="126.24" width="1.40" height="1.39" fill="#fffded"/><rect x="498.27" y="126.24" width="1.40" height="1.39" fill="#fffffc"/><rect x="499.67" y="126.24" width="1.40" height="1.39" fill="#9da5dd"/><rect x="501.06" y="126.24" width="1.40" height="1.39" fill="#a3ace0"/><rect x="502.46" y="126.24" width="1.40" height="1.39" fill="#bfc5ea"/><rect x="503.86" y="126.24" width="1.40" height="1.39" fill="#3c42a6"/><rect x="505.26" y="126.24" width="1.40" height="1.39" fill="#757fc9"/><rect x="506.65" y="126.24" width="1.40" height="1.39" fill="#818bd1"/><rect x="508.05" y="126.24" width="1.40" height="1.39" fill="#a5aee0"/><rect x="509.45" y="126.24" width="1.40" height="1.39" fill="#aeb6e4"/><rect x="510.85" y="126.24" width="1.40" height="1.39" fill="#515ab3"/><rect x="512.25" y="126.24" width="1.40" height="1.39" fill="#949dda"/><rect x="513.64" y="126.24" width="1.40" height="1.39" fill="#d1d7f1"/><rect x="515.04" y="126.24" width="1.40" height="1.39" fill="#e0e4f6"/><rect x="516.44" y="126.24" width="1.40" height="1.39" fill="#fbef9e"/><rect x="517.84" y="126.24" width="1.40" height="1.39" fill="#fcf1a9"/><rect x="519.23" y="126.24" width="1.40" height="1.39" fill="#d0d6f0"/><rect x="520.63" y="126.24" width="1.40" height="1.39" fill="#dde2f5"/><rect x="522.03" y="126.24" width="1.40" height="1.39" fill="#8089cf"/><rect x="523.42" y="126.24" width="1.40" height="1.39" fill="#d2d7f1"/><rect x="524.82" y="126.24" width="1.40" height="1.39" fill="#fefeff"/><rect x="526.22" y="126.24" width="1.40" height="1.39" fill="#dfe3f6"/><rect x="527.62" y="126.24" width="1.40" height="1.39" fill="#e6eaf8"/><rect x="529.01" y="126.24" width="1.40" height="1.39" fill="#9da6de"/><rect x="530.41" y="126.24" width="1.40" height="1.39" fill="#fdfdfe"/><rect x="531.81" y="126.24" width="1.40" height="1.39" fill="#e3e7f7"/><rect x="534.61" y="126.24" width="1.40" height="1.39" fill="#d2d8f1"/><rect x="536.00" y="126.24" width="1.40" height="1.39" fill="#eef1fa"/><rect x="481.50" y="127.63" width="1.40" height="1.39" fill="#fbee98"/><rect x="482.90" y="127.63" width="1.40" height="1.39" fill="#f3d943"/><rect x="484.30" y="127.63" width="1.40" height="1.39" fill="#fffce8"/><rect x="485.69" y="127.63" width="1.40" height="1.39" fill="#adb5e3"/><rect x="487.09" y="127.63" width="1.40" height="1.39" fill="#f8f9fd"/><rect x="488.49" y="127.63" width="1.40" height="1.39" fill="#f4dd4a"/><rect x="489.88" y="127.63" width="1.40" height="1.39" fill="#7d87ce"/><rect x="491.28" y="127.63" width="1.40" height="1.39" fill="#dde2f5"/><rect x="492.68" y="127.63" width="1.40" height="1.39" fill="#dee2f5"/><rect x="494.08" y="127.63" width="1.40" height="1.39" fill="#8c96d7"/><rect x="495.48" y="127.63" width="1.40" height="1.39" fill="#fffad6"/><rect x="496.87" y="127.63" width="1.40" height="1.39" fill="#eef1fa"/><rect x="498.27" y="127.63" width="1.40" height="1.39" fill="#eceffa"/><rect x="499.67" y="127.63" width="1.40" height="1.39" fill="#dadff4"/><rect x="501.06" y="127.63" width="1.40" height="1.39" fill="#f8f9fd"/><rect x="502.46" y="127.63" width="1.40" height="1.39" fill="#828cd1"/><rect x="503.86" y="127.63" width="1.40" height="1.39" fill="#6e77c5"/><rect x="505.26" y="127.63" width="1.40" height="1.39" fill="#aab2e2"/><rect x="506.65" y="127.63" width="1.40" height="1.39" fill="#7882cb"/><rect x="508.05" y="127.63" width="1.40" height="1.39" fill="#98a1db"/><rect x="509.45" y="127.63" width="1.40" height="1.39" fill="#747ec8"/><rect x="510.85" y="127.63" width="1.40" height="1.39" fill="#c6cced"/><rect x="512.25" y="127.63" width="1.40" height="1.39" fill="#fcf0a1"/><rect x="513.64" y="127.63" width="1.40" height="1.39" fill="#f5f6fc"/><rect x="515.04" y="127.63" width="1.40" height="1.39" fill="#fbfcfe"/><rect x="516.44" y="127.63" width="1.40" height="1.39" fill="#edeffa"/><rect x="517.84" y="127.63" width="1.40" height="1.39" fill="#f2ce3b"/><rect x="519.23" y="127.63" width="1.40" height="1.39" fill="#f5f7fc"/><rect x="520.63" y="127.63" width="1.40" height="1.39" fill="#dadff4"/><rect x="522.03" y="127.63" width="1.40" height="1.39" fill="#f6f7fc"/><rect x="523.42" y="127.63" width="1.40" height="1.39" fill="#e8ebf8"/><rect x="524.82" y="127.63" width="1.40" height="1.39" fill="#fff7c3"/><rect x="526.22" y="127.63" width="1.40" height="1.39" fill="#dde1f5"/><rect x="527.62" y="127.63" width="1.40" height="1.39" fill="#d1d7f1"/><rect x="529.01" y="127.63" width="1.40" height="1.39" fill="#e7eaf8"/><rect x="530.41" y="127.63" width="1.40" height="1.39" fill="#f9e880"/><rect x="531.81" y="127.63" width="1.40" height="1.39" fill="#fdf4b3"/><rect x="533.21" y="127.63" width="1.40" height="1.39" fill="#fffad9"/><rect x="534.61" y="127.63" width="1.40" height="1.39" fill="#f3f5fc"/><rect x="536.00" y="127.63" width="1.40" height="1.39" fill="#edf0fa"/><rect x="481.50" y="129.02" width="1.40" height="1.39" fill="#fbee9c"/><rect x="482.90" y="129.02" width="1.40" height="1.39" fill="#fff7c5"/><rect x="484.30" y="129.02" width="1.40" height="1.39" fill="#fdf3b0"/><rect x="485.69" y="129.02" width="1.40" height="1.39" fill="#ebeef9"/><rect x="487.09" y="129.02" width="1.40" height="1.39" fill="#b0b8e5"/><rect x="488.49" y="129.02" width="1.40" height="1.39" fill="#a0a8de"/><rect x="489.88" y="129.02" width="1.40" height="1.39" fill="#fdfdfe"/><rect x="491.28" y="129.02" width="1.40" height="1.39" fill="#f9fafd"/><rect x="492.68" y="129.02" width="1.40" height="1.39" fill="#f8e675"/><rect x="494.08" y="129.02" width="1.40" height="1.39" fill="#f5df52"/><rect x="495.48" y="129.02" width="1.40" height="1.39" fill="#bac1e8"/><rect x="496.87" y="129.02" width="1.40" height="1.39" fill="#fffad7"/><rect x="498.27" y="129.02" width="1.40" height="1.39" fill="#fffbe3"/><rect x="499.67" y="129.02" width="1.40" height="1.39" fill="#c8ceee"/><rect x="501.06" y="129.02" width="1.40" height="1.39" fill="#e9ecf9"/><rect x="502.46" y="129.02" width="1.40" height="1.39" fill="#afb6e4"/><rect x="503.86" y="129.02" width="1.40" height="1.39" fill="#5159b3"/><rect x="505.26" y="129.02" width="1.40" height="1.39" fill="#5961b8"/><rect x="506.65" y="129.02" width="1.40" height="1.39" fill="#5b64b9"/><rect x="508.05" y="129.02" width="1.40" height="1.39" fill="#6d76c4"/><rect x="509.45" y="129.02" width="1.40" height="1.39" fill="#f6f7fc"/><rect x="510.85" y="129.02" width="1.40" height="1.39" fill="#fffdf2"/><rect x="512.25" y="129.02" width="1.40" height="1.39" fill="#f3f5fc"/><rect x="513.64" y="129.02" width="1.40" height="1.39" fill="#e9ecf9"/><rect x="515.04" y="129.02" width="1.40" height="1.39" fill="#b1b9e5"/><rect x="516.44" y="129.02" width="1.40" height="1.39" fill="#e6e9f8"/><rect x="517.84" y="129.02" width="1.40" height="1.39" fill="#d2d8f1"/><rect x="519.23" y="129.02" width="1.40" height="1.39" fill="#f8e778"/><rect x="520.63" y="129.02" width="1.40" height="1.39" fill="#f6f7fc"/><rect x="522.03" y="129.02" width="1.40" height="1.39" fill="#dce1f5"/><rect x="523.42" y="129.02" width="1.40" height="1.39" fill="#e5e9f8"/><rect x="524.82" y="129.02" width="1.40" height="1.39" fill="#f8f9fd"/><rect x="526.22" y="129.02" width="1.40" height="1.39" fill="#fffad5"/><rect x="527.62" y="129.02" width="1.40" height="1.39" fill="#f2cf3c"/><rect x="529.01" y="129.02" width="1.40" height="1.39" fill="#858fd3"/><rect x="530.41" y="129.02" width="1.40" height="1.39" fill="#e0e5f6"/><rect x="531.81" y="129.02" width="1.40" height="1.39" fill="#828cd1"/><rect x="533.21" y="129.02" width="1.40" height="1.39" fill="#e7eaf8"/><rect x="534.61" y="129.02" width="1.40" height="1.39" fill="#dbe0f5"/><rect x="536.00" y="129.02" width="1.40" height="1.39" fill="#d3d8f2"/><rect x="481.50" y="130.41" width="1.40" height="1.39" fill="#fffad8"/><rect x="482.90" y="130.41" width="1.40" height="1.39" fill="#fffce8"/><rect x="484.30" y="130.41" width="1.40" height="1.39" fill="#acb4e3"/><rect x="485.69" y="130.41" width="1.40" height="1.39" fill="#fffdec"/><rect x="487.09" y="130.41" width="1.40" height="1.39" fill="#e6e9f8"/><rect x="488.49" y="130.41" width="1.40" height="1.39" fill="#7781ca"/><rect x="489.88" y="130.41" width="1.40" height="1.39" fill="#f8f9fd"/><rect x="491.28" y="130.41" width="1.40" height="1.39" fill="#fffbe2"/><rect x="492.68" y="130.41" width="1.40" height="1.39" fill="#fafbfe"/><rect x="494.08" y="130.41" width="1.40" height="1.39" fill="#e9edf9"/><rect x="495.48" y="130.41" width="1.40" height="1.39" fill="#c2c9eb"/><rect x="496.87" y="130.41" width="1.40" height="1.39" fill="#e2e7f7"/><rect x="498.27" y="130.41" width="1.40" height="1.39" fill="#fbed93"/><rect x="499.67" y="130.41" width="1.40" height="1.39" fill="#6c75c3"/><rect x="501.06" y="130.41" width="1.40" height="1.39" fill="#a9b1e2"/><rect x="502.46" y="130.41" width="1.40" height="1.39" fill="#fffbdf"/><rect x="503.86" y="130.41" width="1.40" height="1.39" fill="#636bbe"/><rect x="505.26" y="130.41" width="1.40" height="1.39" fill="#545cb4"/><rect x="506.65" y="130.41" width="1.40" height="1.39" fill="#8993d5"/><rect x="508.05" y="130.41" width="1.40" height="1.39" fill="#8892d4"/><rect x="509.45" y="130.41" width="1.40" height="1.39" fill="#a3abe0"/><rect x="510.85" y="130.41" width="1.40" height="1.39" fill="#bfc5ea"/><rect x="512.25" y="130.41" width="1.40" height="1.39" fill="#d8ddf4"/><rect x="513.64" y="130.41" width="1.40" height="1.39" fill="#f9fafd"/><rect x="515.04" y="130.41" width="1.40" height="1.39" fill="#dee3f6"/><rect x="516.44" y="130.41" width="1.40" height="1.39" fill="#9aa3dc"/><rect x="517.84" y="130.41" width="1.40" height="1.39" fill="#fdf2ad"/><rect x="519.23" y="130.41" width="1.40" height="1.39" fill="#adb5e4"/><rect x="520.63" y="130.41" width="1.40" height="1.39" fill="#fffadc"/><rect x="522.03" y="130.41" width="1.40" height="1.39" fill="#f7e46d"/><rect x="523.42" y="130.41" width="1.40" height="1.39" fill="#cbd1ee"/><rect x="524.82" y="130.41" width="1.40" height="1.39" fill="#a4ade0"/><rect x="526.22" y="130.41" width="1.40" height="1.39" fill="#fffdf3"/><rect x="527.62" y="130.41" width="1.40" height="1.39" fill="#9ba4dc"/><rect x="529.01" y="130.41" width="1.40" height="1.39" fill="#f8e778"/><rect x="530.41" y="130.41" width="1.40" height="1.39" fill="#eef0fa"/><rect x="531.81" y="130.41" width="1.40" height="1.39" fill="#f4dc47"/><rect x="533.21" y="130.41" width="1.40" height="1.39" fill="#dbe0f5"/><rect x="534.61" y="130.41" width="1.40" height="1.39" fill="#fbef9e"/><rect x="536.00" y="130.41" width="1.40" height="1.39" fill="#747dc8"/><rect x="481.50" y="131.80" width="1.40" height="1.39" fill="#fcf0a4"/><rect x="482.90" y="131.80" width="1.40" height="1.39" fill="#eff1fa"/><rect x="484.30" y="131.80" width="1.40" height="1.39" fill="#fffce7"/><rect x="485.69" y="131.80" width="1.40" height="1.39" fill="#929bd9"/><rect x="487.09" y="131.80" width="1.40" height="1.39" fill="#f5f7fc"/><rect x="488.49" y="131.80" width="1.40" height="1.39" fill="#f3f5fc"/><rect x="489.88" y="131.80" width="1.40" height="1.39" fill="#fff9d2"/><rect x="491.28" y="131.80" width="1.40" height="1.39" fill="#f4da45"/><rect x="492.68" y="131.80" width="1.40" height="1.39" fill="#e3e7f7"/><rect x="494.08" y="131.80" width="1.40" height="1.39" fill="#e7eaf8"/><rect x="495.48" y="131.80" width="1.40" height="1.39" fill="#eaedf9"/><rect x="496.87" y="131.80" width="1.40" height="1.39" fill="#fbee98"/><rect x="498.27" y="131.80" width="1.40" height="1.39" fill="#cdd3ef"/><rect x="499.67" y="131.80" width="1.40" height="1.39" fill="#cad0ee"/><rect x="501.06" y="131.80" width="1.40" height="1.39" fill="#f3f5fc"/><rect x="502.46" y="131.80" width="1.40" height="1.39" fill="#d1d7f1"/><rect x="503.86" y="131.80" width="1.40" height="1.39" fill="#aeb6e4"/><rect x="505.26" y="131.80" width="1.40" height="1.39" fill="#d6dcf3"/><rect x="506.65" y="131.80" width="1.40" height="1.39" fill="#fbfcfe"/><rect x="508.05" y="131.80" width="1.40" height="1.39" fill="#9ea7de"/><rect x="509.45" y="131.80" width="1.40" height="1.39" fill="#bac1e8"/><rect x="510.85" y="131.80" width="1.40" height="1.39" fill="#f3d540"/><rect x="512.25" y="131.80" width="1.40" height="1.39" fill="#f4da45"/><rect x="513.64" y="131.80" width="1.40" height="1.39" fill="#f8e571"/><rect x="515.04" y="131.80" width="1.40" height="1.39" fill="#dbe0f4"/><rect x="516.44" y="131.80" width="1.40" height="1.39" fill="#c4caec"/><rect x="517.84" y="131.80" width="1.40" height="1.39" fill="#d3d9f2"/><rect x="519.23" y="131.80" width="1.40" height="1.39" fill="#9ea7de"/><rect x="520.63" y="131.80" width="1.40" height="1.39" fill="#eef1fa"/><rect x="522.03" y="131.80" width="1.40" height="1.39" fill="#fffdec"/><rect x="523.42" y="131.80" width="1.40" height="1.39" fill="#b2b9e5"/><rect x="524.82" y="131.80" width="1.40" height="1.39" fill="#eceffa"/><rect x="526.22" y="131.80" width="1.40" height="1.39" fill="#fffce8"/><rect x="527.62" y="131.80" width="1.40" height="1.39" fill="#edf0fa"/><rect x="529.01" y="131.80" width="1.40" height="1.39" fill="#9aa3dc"/><rect x="530.41" y="131.80" width="1.40" height="1.39" fill="#99a2dc"/><rect x="531.81" y="131.80" width="1.40" height="1.39" fill="#e6eaf8"/><rect x="533.21" y="131.80" width="1.40" height="1.39" fill="#e8ebf8"/><rect x="534.61" y="131.80" width="1.40" height="1.39" fill="#ced4f0"/><rect x="536.00" y="131.80" width="1.40" height="1.39" fill="#fcfdfe"/><rect x="481.50" y="133.19" width="1.40" height="1.39" fill="#edeffa"/><rect x="482.90" y="133.19" width="1.40" height="1.39" fill="#9ea7de"/><rect x="484.30" y="133.19" width="1.40" height="1.39" fill="#eaedf9"/><rect x="485.69" y="133.19" width="1.40" height="1.39" fill="#7881cb"/><rect x="487.09" y="133.19" width="1.40" height="1.39" fill="#eaedf9"/><rect x="488.49" y="133.19" width="1.40" height="1.39" fill="#eef1fa"/><rect x="489.88" y="133.19" width="1.40" height="1.39" fill="#fffdf1"/><rect x="491.28" y="133.19" width="1.40" height="1.39" fill="#fffffb"/><rect x="492.68" y="133.19" width="1.40" height="1.39" fill="#f2f4fb"/><rect x="494.08" y="133.19" width="1.40" height="1.39" fill="#bfc6ea"/><rect x="495.48" y="133.19" width="1.40" height="1.39" fill="#ebeef9"/><rect x="496.87" y="133.19" width="1.40" height="1.39" fill="#e5e9f8"/><rect x="498.27" y="133.19" width="1.40" height="1.39" fill="#dee3f6"/><rect x="499.67" y="133.19" width="1.40" height="1.39" fill="#fefeff"/><rect x="501.06" y="133.19" width="1.40" height="1.39" fill="#e8ebf8"/><rect x="502.46" y="133.19" width="1.40" height="1.39" fill="#c4caec"/><rect x="503.86" y="133.19" width="1.40" height="1.39" fill="#fffbdd"/><rect x="505.26" y="133.19" width="1.40" height="1.39" fill="#acb4e3"/><rect x="506.65" y="133.19" width="1.40" height="1.39" fill="#fff9d2"/><rect x="508.05" y="133.19" width="1.40" height="1.39" fill="#fbed94"/><rect x="509.45" y="133.19" width="1.40" height="1.39" fill="#f8e778"/><rect x="510.85" y="133.19" width="1.40" height="1.39" fill="#f7e46a"/><rect x="512.25" y="133.19" width="1.40" height="1.39" fill="#e7eaf8"/><rect x="513.64" y="133.19" width="1.40" height="1.39" fill="#fffad4"/><rect x="515.04" y="133.19" width="1.40" height="1.39" fill="#a6afe1"/><rect x="516.44" y="133.19" width="1.40" height="1.39" fill="#d4daf2"/><rect x="517.84" y="133.19" width="1.40" height="1.39" fill="#fff9d2"/><rect x="519.23" y="133.19" width="1.40" height="1.39" fill="#f1f3fb"/><rect x="520.63" y="133.19" width="1.40" height="1.39" fill="#fffad5"/><rect x="522.03" y="133.19" width="1.40" height="1.39" fill="#eaedf9"/><rect x="523.42" y="133.19" width="1.40" height="1.39" fill="#e6e9f8"/><rect x="524.82" y="133.19" width="1.40" height="1.39" fill="#faeb8b"/><rect x="526.22" y="133.19" width="1.40" height="1.39" fill="#747ec8"/><rect x="527.62" y="133.19" width="1.40" height="1.39" fill="#f8f9fd"/><rect x="529.01" y="133.19" width="1.40" height="1.39" fill="#dfe4f6"/><rect x="530.41" y="133.19" width="1.40" height="1.39" fill="#eceffa"/><rect x="531.81" y="133.19" width="1.40" height="1.39" fill="#e6eaf8"/><rect x="533.21" y="133.19" width="1.40" height="1.39" fill="#727bc7"/><rect x="534.61" y="133.19" width="1.40" height="1.39" fill="#dfe3f6"/><rect x="536.00" y="133.19" width="1.40" height="1.39" fill="#fafbfe"/><rect x="481.50" y="134.58" width="1.40" height="1.39" fill="#f0f2fb"/><rect x="482.90" y="134.58" width="1.40" height="1.39" fill="#f3f5fc"/><rect x="484.30" y="134.58" width="1.40" height="1.39" fill="#fffdf1"/><rect x="485.69" y="134.58" width="1.40" height="1.39" fill="#f2d23e"/><rect x="487.09" y="134.58" width="1.40" height="1.39" fill="#f9e87d"/><rect x="488.49" y="134.58" width="1.40" height="1.39" fill="#fffce9"/><rect x="489.88" y="134.58" width="1.40" height="1.39" fill="#f8e779"/><rect x="491.28" y="134.58" width="1.40" height="1.39" fill="#d1d7f1"/><rect x="492.68" y="134.58" width="1.40" height="1.39" fill="#faeb8c"/><rect x="494.08" y="134.58" width="1.40" height="1.39" fill="#f6f7fc"/><rect x="495.48" y="134.58" width="1.40" height="1.39" fill="#9da6de"/><rect x="496.87" y="134.58" width="1.40" height="1.39" fill="#f9fafd"/><rect x="498.27" y="134.58" width="1.40" height="1.39" fill="#cdd3ef"/><rect x="499.67" y="134.58" width="1.40" height="1.39" fill="#fffef4"/><rect x="501.06" y="134.58" width="1.40" height="1.39" fill="#656ebf"/><rect x="502.46" y="134.58" width="1.40" height="1.39" fill="#d8ddf3"/><rect x="503.86" y="134.58" width="1.40" height="1.39" fill="#b9c0e8"/><rect x="505.26" y="134.58" width="1.40" height="1.39" fill="#e2e6f7"/><rect x="506.65" y="134.58" width="1.40" height="1.39" fill="#f7f8fd"/><rect x="508.05" y="134.58" width="1.40" height="1.39" fill="#eef0fa"/><rect x="509.45" y="134.58" width="1.40" height="1.39" fill="#d9def4"/><rect x="510.85" y="134.58" width="1.40" height="1.39" fill="#7079c6"/><rect x="512.25" y="134.58" width="1.40" height="1.39" fill="#fcfdfe"/><rect x="513.64" y="134.58" width="1.40" height="1.39" fill="#fffce9"/><rect x="515.04" y="134.58" width="1.40" height="1.39" fill="#e9ecf9"/><rect x="516.44" y="134.58" width="1.40" height="1.39" fill="#7f88cf"/><rect x="517.84" y="134.58" width="1.40" height="1.39" fill="#b8bfe7"/><rect x="519.23" y="134.58" width="1.40" height="1.39" fill="#e5e9f8"/><rect x="520.63" y="134.58" width="1.40" height="1.39" fill="#fafbfe"/><rect x="522.03" y="134.58" width="1.40" height="1.39" fill="#e5e8f7"/><rect x="523.42" y="134.58" width="1.40" height="1.39" fill="#f8f9fd"/><rect x="524.82" y="134.58" width="1.40" height="1.39" fill="#faeb89"/><rect x="526.22" y="134.58" width="1.40" height="1.39" fill="#e4e8f7"/><rect x="527.62" y="134.58" width="1.40" height="1.39" fill="#7b85cd"/><rect x="529.01" y="134.58" width="1.40" height="1.39" fill="#929cd9"/><rect x="530.41" y="134.58" width="1.40" height="1.39" fill="#fbef9f"/><rect x="531.81" y="134.58" width="1.40" height="1.39" fill="#d0d6f0"/><rect x="533.21" y="134.58" width="1.40" height="1.39" fill="#949dda"/><rect x="534.61" y="134.58" width="1.40" height="1.39" fill="#c5cbec"/><rect x="536.00" y="134.58" width="1.40" height="1.39" fill="#c6cded"/><rect x="481.50" y="135.97" width="1.40" height="1.39" fill="#f4dd4b"/><rect x="482.90" y="135.97" width="2.79" height="1.39" fill="#fefeff"/><rect x="485.69" y="135.97" width="1.40" height="1.39" fill="#d7ddf3"/><rect x="487.09" y="135.97" width="1.40" height="1.39" fill="#fefeff"/><rect x="488.49" y="135.97" width="1.40" height="1.39" fill="#f2f4fb"/><rect x="489.88" y="135.97" width="1.40" height="1.39" fill="#e5e9f8"/><rect x="491.28" y="135.97" width="1.40" height="1.39" fill="#dbe0f5"/><rect x="492.68" y="135.97" width="1.40" height="1.39" fill="#dde1f5"/><rect x="494.08" y="135.97" width="1.40" height="1.39" fill="#f3d440"/><rect x="495.48" y="135.97" width="1.40" height="1.39" fill="#7079c6"/><rect x="496.87" y="135.97" width="1.40" height="1.39" fill="#fff8cb"/><rect x="498.27" y="135.97" width="1.40" height="1.39" fill="#fffef7"/><rect x="499.67" y="135.97" width="1.40" height="1.39" fill="#f8e672"/><rect x="501.06" y="135.97" width="1.40" height="1.39" fill="#eef1fa"/><rect x="502.46" y="135.97" width="1.40" height="1.39" fill="#e3e7f7"/><rect x="503.86" y="135.97" width="1.40" height="1.39" fill="#f8f9fd"/><rect x="505.26" y="135.97" width="1.40" height="1.39" fill="#d6dbf3"/><rect x="506.65" y="135.97" width="1.40" height="1.39" fill="#ced4f0"/><rect x="508.05" y="135.97" width="1.40" height="1.39" fill="#fcfcfe"/><rect x="509.45" y="135.97" width="1.40" height="1.39" fill="#fcf0a2"/><rect x="510.85" y="135.97" width="1.40" height="1.39" fill="#dbe0f5"/><rect x="512.25" y="135.97" width="1.40" height="1.39" fill="#f6e15d"/><rect x="513.64" y="135.97" width="1.40" height="1.39" fill="#f5f6fc"/><rect x="515.04" y="135.97" width="1.40" height="1.39" fill="#e4e8f7"/><rect x="516.44" y="135.97" width="1.40" height="1.39" fill="#bcc3e9"/><rect x="517.84" y="135.97" width="1.40" height="1.39" fill="#f9fafd"/><rect x="519.23" y="135.97" width="1.40" height="1.39" fill="#8993d5"/><rect x="520.63" y="135.97" width="1.40" height="1.39" fill="#e1e5f6"/><rect x="522.03" y="135.97" width="1.40" height="1.39" fill="#f7f8fd"/><rect x="523.42" y="135.97" width="1.40" height="1.39" fill="#eaedf9"/><rect x="524.82" y="135.97" width="1.40" height="1.39" fill="#e3e7f7"/><rect x="526.22" y="135.97" width="1.40" height="1.39" fill="#b8bfe7"/><rect x="527.62" y="135.97" width="1.40" height="1.39" fill="#fffce5"/><rect x="529.01" y="135.97" width="1.40" height="1.39" fill="#e2e6f7"/><rect x="530.41" y="135.97" width="1.40" height="1.39" fill="#d7dcf3"/><rect x="531.81" y="135.97" width="1.40" height="1.39" fill="#f1f3fb"/><rect x="533.21" y="135.97" width="1.40" height="1.39" fill="#dfe4f6"/><rect x="534.61" y="135.97" width="1.40" height="1.39" fill="#bbc2e9"/><rect x="536.00" y="135.97" width="1.40" height="1.39" fill="#d2d8f1"/><rect x="481.50" y="137.36" width="1.40" height="1.39" fill="#a9b1e2"/><rect x="482.90" y="137.36" width="1.40" height="1.39" fill="#9ea7de"/><rect x="484.30" y="137.36" width="1.40" height="1.39" fill="#fffdf3"/><rect x="485.69" y="137.36" width="1.40" height="1.39" fill="#c5cced"/><rect x="487.09" y="137.36" width="1.40" height="1.39" fill="#f5f6fc"/><rect x="488.49" y="137.36" width="1.40" height="1.39" fill="#fafbfe"/><rect x="489.88" y="137.36" width="1.40" height="1.39" fill="#fcfcfe"/><rect x="491.28" y="137.36" width="1.40" height="1.39" fill="#fffdf2"/><rect x="492.68" y="137.36" width="1.40" height="1.39" fill="#f9e87c"/><rect x="494.08" y="137.36" width="1.40" height="1.39" fill="#fbed96"/><rect x="495.48" y="137.36" width="1.40" height="1.39" fill="#f0f3fb"/><rect x="496.87" y="137.36" width="1.40" height="1.39" fill="#faeb8c"/><rect x="498.27" y="137.36" width="1.40" height="1.39" fill="#c9cfee"/><rect x="499.67" y="137.36" width="1.40" height="1.39" fill="#737cc7"/><rect x="501.06" y="137.36" width="1.40" height="1.39" fill="#eceffa"/><rect x="502.46" y="137.36" width="1.40" height="1.39" fill="#f5f6fc"/><rect x="503.86" y="137.36" width="1.40" height="1.39" fill="#747dc8"/><rect x="505.26" y="137.36" width="1.40" height="1.39" fill="#7b84cc"/><rect x="506.65" y="137.36" width="1.40" height="1.39" fill="#d9dff4"/><rect x="508.05" y="137.36" width="1.40" height="1.39" fill="#e1e5f6"/><rect x="509.45" y="137.36" width="1.40" height="1.39" fill="#fcf0a4"/><rect x="510.85" y="137.36" width="1.40" height="1.39" fill="#f2f4fb"/><rect x="512.25" y="137.36" width="1.40" height="1.39" fill="#8791d4"/><rect x="513.64" y="137.36" width="1.40" height="1.39" fill="#e0e4f6"/><rect x="515.04" y="137.36" width="1.40" height="1.39" fill="#8f99d8"/><rect x="516.44" y="137.36" width="1.40" height="1.39" fill="#e0e4f6"/><rect x="517.84" y="137.36" width="1.40" height="1.39" fill="#dee2f5"/><rect x="519.23" y="137.36" width="1.40" height="1.39" fill="#d0d6f0"/><rect x="520.63" y="137.36" width="1.40" height="1.39" fill="#cfd5f0"/><rect x="522.03" y="137.36" width="1.40" height="1.39" fill="#e2e6f7"/><rect x="523.42" y="137.36" width="1.40" height="1.39" fill="#f2f4fb"/><rect x="524.82" y="137.36" width="1.40" height="1.39" fill="#e5e8f7"/><rect x="526.22" y="137.36" width="1.40" height="1.39" fill="#d4daf2"/><rect x="527.62" y="137.36" width="1.40" height="1.39" fill="#d5daf2"/><rect x="529.01" y="137.36" width="1.40" height="1.39" fill="#d6dcf3"/><rect x="530.41" y="137.36" width="1.40" height="1.39" fill="#dadff4"/><rect x="531.81" y="137.36" width="1.40" height="1.39" fill="#f3d33f"/><rect x="533.21" y="137.36" width="1.40" height="1.39" fill="#848ed2"/><rect x="534.61" y="137.36" width="1.40" height="1.39" fill="#c8ceee"/><rect x="536.00" y="137.36" width="1.40" height="1.39" fill="#f9fafd"/><rect x="481.50" y="138.75" width="1.40" height="1.39" fill="#fffef9"/><rect x="482.90" y="138.75" width="1.40" height="1.39" fill="#fff9d0"/><rect x="484.30" y="138.75" width="1.40" height="1.39" fill="#fffbdd"/><rect x="485.69" y="138.75" width="1.40" height="1.39" fill="#fff9cd"/><rect x="487.09" y="138.75" width="1.40" height="1.39" fill="#f8e77b"/><rect x="488.49" y="138.75" width="1.40" height="1.39" fill="#fbfbfe"/><rect x="489.88" y="138.75" width="1.40" height="1.39" fill="#fcfcfe"/><rect x="491.28" y="138.75" width="1.40" height="1.39" fill="#f4dc47"/><rect x="492.68" y="138.75" width="1.40" height="1.39" fill="#fffbdf"/><rect x="494.08" y="138.75" width="1.40" height="1.39" fill="#f9fafd"/><rect x="495.48" y="138.75" width="1.40" height="1.39" fill="#fcfdfe"/><rect x="496.87" y="138.75" width="1.40" height="1.39" fill="#efbb2c"/><rect x="498.27" y="138.75" width="1.40" height="1.39" fill="#dbe0f5"/><rect x="499.67" y="138.75" width="1.40" height="1.39" fill="#e2e6f7"/><rect x="501.06" y="138.75" width="1.40" height="1.39" fill="#fff9d2"/><rect x="502.46" y="138.75" width="1.40" height="1.39" fill="#e6eaf8"/><rect x="503.86" y="138.75" width="1.40" height="1.39" fill="#fffdf2"/><rect x="505.26" y="138.75" width="1.40" height="1.39" fill="#fffdf1"/><rect x="506.65" y="138.75" width="1.40" height="1.39" fill="#e5e9f8"/><rect x="508.05" y="138.75" width="1.40" height="1.39" fill="#f6e059"/><rect x="509.45" y="138.75" width="1.40" height="1.39" fill="#d6dbf3"/><rect x="510.85" y="138.75" width="1.40" height="1.39" fill="#f1f3fb"/><rect x="512.25" y="138.75" width="1.40" height="1.39" fill="#fffdf2"/><rect x="513.64" y="138.75" width="1.40" height="1.39" fill="#dfe4f6"/><rect x="515.04" y="138.75" width="1.40" height="1.39" fill="#f9e982"/><rect x="516.44" y="138.75" width="1.40" height="1.39" fill="#e5e9f8"/><rect x="517.84" y="138.75" width="1.40" height="1.39" fill="#848ed2"/><rect x="519.23" y="138.75" width="1.40" height="1.39" fill="#f7e46c"/><rect x="520.63" y="138.75" width="1.40" height="1.39" fill="#e5e9f8"/><rect x="522.03" y="138.75" width="1.40" height="1.39" fill="#d1d7f1"/><rect x="523.42" y="138.75" width="1.40" height="1.39" fill="#fffef7"/><rect x="524.82" y="138.75" width="1.40" height="1.39" fill="#e9ecf9"/><rect x="526.22" y="138.75" width="1.40" height="1.39" fill="#d4daf2"/><rect x="527.62" y="138.75" width="1.40" height="1.39" fill="#e9ecf9"/><rect x="529.01" y="138.75" width="1.40" height="1.39" fill="#c4cbec"/><rect x="530.41" y="138.75" width="1.40" height="1.39" fill="#f6e15c"/><rect x="531.81" y="138.75" width="1.40" height="1.39" fill="#c5cced"/><rect x="533.21" y="138.75" width="1.40" height="1.39" fill="#eff1fa"/><rect x="534.61" y="138.75" width="1.40" height="1.39" fill="#e4e8f7"/><rect x="536.00" y="138.75" width="1.40" height="1.39" fill="#adb5e3"/><rect x="481.50" y="140.14" width="1.40" height="1.39" fill="#fefeff"/><rect x="482.90" y="140.14" width="1.40" height="1.39" fill="#fff9d3"/><rect x="484.30" y="140.14" width="1.40" height="1.39" fill="#fffdf2"/><rect x="485.69" y="140.14" width="1.40" height="1.39" fill="#fcf1a6"/><rect x="487.09" y="140.14" width="1.40" height="1.39" fill="#fffdf1"/><rect x="488.49" y="140.14" width="1.40" height="1.39" fill="#dee2f5"/><rect x="489.88" y="140.14" width="1.40" height="1.39" fill="#fffef9"/><rect x="491.28" y="140.14" width="1.40" height="1.39" fill="#f9fafd"/><rect x="492.68" y="140.14" width="1.40" height="1.39" fill="#fffef9"/><rect x="494.08" y="140.14" width="1.40" height="1.39" fill="#dbe0f5"/><rect x="495.48" y="140.14" width="1.40" height="1.39" fill="#fff9ce"/><rect x="496.87" y="140.14" width="1.40" height="1.39" fill="#f3d843"/><rect x="498.27" y="140.14" width="1.40" height="1.39" fill="#eff1fa"/><rect x="499.67" y="140.14" width="1.40" height="1.39" fill="#f7f8fd"/><rect x="501.06" y="140.14" width="1.40" height="1.39" fill="#f1f3fb"/><rect x="502.46" y="140.14" width="1.40" height="1.39" fill="#fdf3b1"/><rect x="503.86" y="140.14" width="1.40" height="1.39" fill="#fffbde"/><rect x="505.26" y="140.14" width="1.40" height="1.39" fill="#757fc9"/><rect x="506.65" y="140.14" width="1.40" height="1.39" fill="#fffdf1"/><rect x="508.05" y="140.14" width="1.40" height="1.39" fill="#fef5ba"/><rect x="509.45" y="140.14" width="1.40" height="1.39" fill="#f2f4fb"/><rect x="510.85" y="140.14" width="1.40" height="1.39" fill="#fbed94"/><rect x="512.25" y="140.14" width="1.40" height="1.39" fill="#fffdf2"/><rect x="513.64" y="140.14" width="1.40" height="1.39" fill="#fffdec"/><rect x="515.04" y="140.14" width="1.40" height="1.39" fill="#fffbde"/><rect x="516.44" y="140.14" width="1.40" height="1.39" fill="#fbfbfe"/><rect x="517.84" y="140.14" width="1.40" height="1.39" fill="#dee2f5"/><rect x="519.23" y="140.14" width="1.40" height="1.39" fill="#fdf4b4"/><rect x="520.63" y="140.14" width="1.40" height="1.39" fill="#f5f6fc"/><rect x="522.03" y="140.14" width="1.40" height="1.39" fill="#f6f7fc"/><rect x="523.42" y="140.14" width="1.40" height="1.39" fill="#f0f2fb"/><rect x="524.82" y="140.14" width="1.40" height="1.39" fill="#fffad8"/><rect x="526.22" y="140.14" width="1.40" height="1.39" fill="#eef0fa"/><rect x="527.62" y="140.14" width="1.40" height="1.39" fill="#fffdf1"/><rect x="529.01" y="140.14" width="1.40" height="1.39" fill="#fef6c0"/><rect x="530.41" y="140.14" width="1.40" height="1.39" fill="#d6dbf3"/><rect x="531.81" y="140.14" width="1.40" height="1.39" fill="#f7f8fd"/><rect x="533.21" y="140.14" width="1.40" height="1.39" fill="#fffada"/><rect x="534.61" y="140.14" width="1.40" height="1.39" fill="#fef5bb"/><rect x="536.00" y="140.14" width="1.40" height="1.39" fill="#e0e5f6"/><rect x="481.50" y="141.53" width="1.40" height="1.39" fill="#dbe0f5"/><rect x="482.90" y="141.53" width="1.40" height="1.39" fill="#8e98d8"/><rect x="484.30" y="141.53" width="1.40" height="1.39" fill="#eef0fa"/><rect x="485.69" y="141.53" width="1.40" height="1.39" fill="#f9fafd"/><rect x="487.09" y="141.53" width="1.40" height="1.39" fill="#fffbde"/><rect x="488.49" y="141.53" width="1.40" height="1.39" fill="#fefeff"/><rect x="489.88" y="141.53" width="1.40" height="1.39" fill="#fcfcfe"/><rect x="491.28" y="141.53" width="1.40" height="1.39" fill="#fffad5"/><rect x="492.68" y="141.53" width="1.40" height="1.39" fill="#fffce6"/><rect x="494.08" y="141.53" width="1.40" height="1.39" fill="#f4db45"/><rect x="495.48" y="141.53" width="1.40" height="1.39" fill="#fff9d0"/><rect x="496.87" y="141.53" width="1.40" height="1.39" fill="#eff1fa"/><rect x="498.27" y="141.53" width="1.40" height="1.39" fill="#b0b8e5"/><rect x="499.67" y="141.53" width="1.40" height="1.39" fill="#d3d9f2"/><rect x="501.06" y="141.53" width="1.40" height="1.39" fill="#bec4ea"/><rect x="502.46" y="141.53" width="1.40" height="1.39" fill="#dee2f5"/><rect x="503.86" y="141.53" width="1.40" height="1.39" fill="#f0f3fb"/><rect x="505.26" y="141.53" width="1.40" height="1.39" fill="#cbd1ef"/><rect x="506.65" y="141.53" width="1.40" height="1.39" fill="#f4dd49"/><rect x="508.05" y="141.53" width="1.40" height="1.39" fill="#f4f5fc"/><rect x="509.45" y="141.53" width="1.40" height="1.39" fill="#fffce5"/><rect x="510.85" y="141.53" width="1.40" height="1.39" fill="#fffefb"/><rect x="512.25" y="141.53" width="1.40" height="1.39" fill="#fff9d1"/><rect x="513.64" y="141.53" width="1.40" height="1.39" fill="#f4da45"/><rect x="515.04" y="141.53" width="1.40" height="1.39" fill="#bcc3e9"/><rect x="516.44" y="141.53" width="1.40" height="1.39" fill="#929cd9"/><rect x="517.84" y="141.53" width="1.40" height="1.39" fill="#fffdee"/><rect x="519.23" y="141.53" width="1.40" height="1.39" fill="#f4d944"/><rect x="520.63" y="141.53" width="1.40" height="1.39" fill="#bac2e8"/><rect x="522.03" y="141.53" width="1.40" height="1.39" fill="#d4daf2"/><rect x="523.42" y="141.53" width="1.40" height="1.39" fill="#e8ebf8"/><rect x="524.82" y="141.53" width="1.40" height="1.39" fill="#f9fafd"/><rect x="526.22" y="141.53" width="1.40" height="1.39" fill="#e7eaf8"/><rect x="527.62" y="141.53" width="1.40" height="1.39" fill="#fffbe1"/><rect x="529.01" y="141.53" width="1.40" height="1.39" fill="#fbfcfe"/><rect x="530.41" y="141.53" width="1.40" height="1.39" fill="#939cd9"/><rect x="531.81" y="141.53" width="1.40" height="1.39" fill="#dadff4"/><rect x="533.21" y="141.53" width="1.40" height="1.39" fill="#6972c1"/><rect x="534.61" y="141.53" width="1.40" height="1.39" fill="#848ed2"/><rect x="536.00" y="141.53" width="1.40" height="1.39" fill="#fdf3b0"/><rect x="481.50" y="142.92" width="1.40" height="1.39" fill="#fffdf0"/><rect x="482.90" y="142.92" width="1.40" height="1.39" fill="#f8e77b"/><rect x="484.30" y="142.92" width="1.40" height="1.39" fill="#909ad8"/><rect x="485.69" y="142.92" width="1.40" height="1.39" fill="#eceffa"/><rect x="487.09" y="142.92" width="1.40" height="1.39" fill="#636cbe"/><rect x="488.49" y="142.92" width="1.40" height="1.39" fill="#fafbfe"/><rect x="489.88" y="142.92" width="1.40" height="1.39" fill="#fcf1a5"/><rect x="491.28" y="142.92" width="1.40" height="1.39" fill="#fdfdfe"/><rect x="492.68" y="142.92" width="1.40" height="1.39" fill="#f3f4fb"/><rect x="494.08" y="142.92" width="1.40" height="1.39" fill="#fffce6"/><rect x="495.48" y="142.92" width="1.40" height="1.39" fill="#fcfdfe"/><rect x="496.87" y="142.92" width="1.40" height="1.39" fill="#e5e8f7"/><rect x="498.27" y="142.92" width="1.40" height="1.39" fill="#d9def4"/><rect x="499.67" y="142.92" width="1.40" height="1.39" fill="#fffef4"/><rect x="501.06" y="142.92" width="1.40" height="1.39" fill="#e2e6f7"/><rect x="502.46" y="142.92" width="1.40" height="1.39" fill="#fcefa0"/><rect x="503.86" y="142.92" width="1.40" height="1.39" fill="#fafbfe"/><rect x="505.26" y="142.92" width="1.40" height="1.39" fill="#f3d641"/><rect x="506.65" y="142.92" width="1.40" height="1.39" fill="#f2cd3a"/><rect x="508.05" y="142.92" width="1.40" height="1.39" fill="#fffef4"/><rect x="509.45" y="142.92" width="1.40" height="1.39" fill="#f4db45"/><rect x="510.85" y="142.92" width="1.40" height="1.39" fill="#f7e46c"/><rect x="512.25" y="142.92" width="1.40" height="1.39" fill="#fbee97"/><rect x="513.64" y="142.92" width="1.40" height="1.39" fill="#fffbdc"/><rect x="515.04" y="142.92" width="1.40" height="1.39" fill="#e7eaf8"/><rect x="516.44" y="142.92" width="1.40" height="1.39" fill="#c7ceed"/><rect x="517.84" y="142.92" width="1.40" height="1.39" fill="#c0c7ea"/><rect x="519.23" y="142.92" width="1.40" height="1.39" fill="#dfe3f6"/><rect x="520.63" y="142.92" width="1.40" height="1.39" fill="#6e78c5"/><rect x="522.03" y="142.92" width="1.40" height="1.39" fill="#e3e7f7"/><rect x="523.42" y="142.92" width="1.40" height="1.39" fill="#bfc6ea"/><rect x="524.82" y="142.92" width="1.40" height="1.39" fill="#f3f5fc"/><rect x="526.22" y="142.92" width="1.40" height="1.39" fill="#fbfcfe"/><rect x="527.62" y="142.92" width="1.40" height="1.39" fill="#f1f3fb"/><rect x="529.01" y="142.92" width="1.40" height="1.39" fill="#e9ecf9"/><rect x="530.41" y="142.92" width="1.40" height="1.39" fill="#fffcea"/><rect x="531.81" y="142.92" width="1.40" height="1.39" fill="#f4dc46"/><rect x="533.21" y="142.92" width="1.40" height="1.39" fill="#f5f7fc"/><rect x="534.61" y="142.92" width="1.40" height="1.39" fill="#edeffa"/><rect x="536.00" y="142.92" width="1.40" height="1.39" fill="#f4f5fc"/><rect x="481.50" y="144.31" width="1.40" height="1.39" fill="#fffffc"/><rect x="482.90" y="144.31" width="1.40" height="1.39" fill="#929cd9"/><rect x="484.30" y="144.31" width="1.40" height="1.39" fill="#c8cfee"/><rect x="485.69" y="144.31" width="1.40" height="1.39" fill="#f0f2fb"/><rect x="487.09" y="144.31" width="1.40" height="1.39" fill="#fffef8"/><rect x="488.49" y="144.31" width="1.40" height="1.39" fill="#fffdf0"/><rect x="489.88" y="144.31" width="1.40" height="1.39" fill="#faed93"/><rect x="491.28" y="144.31" width="1.40" height="1.39" fill="#fffffc"/><rect x="492.68" y="144.31" width="1.40" height="1.39" fill="#f7f8fd"/><rect x="494.08" y="144.31" width="1.40" height="1.39" fill="#fffad7"/><rect x="495.48" y="144.31" width="1.40" height="1.39" fill="#fffefb"/><rect x="496.87" y="144.31" width="1.40" height="1.39" fill="#8d97d7"/><rect x="498.27" y="144.31" width="1.40" height="1.39" fill="#f5dd4d"/><rect x="499.67" y="144.31" width="1.40" height="1.39" fill="#fffad7"/><rect x="501.06" y="144.31" width="1.40" height="1.39" fill="#fffef5"/><rect x="502.46" y="144.31" width="1.40" height="1.39" fill="#dce1f5"/><rect x="503.86" y="144.31" width="1.40" height="1.39" fill="#eaedf9"/><rect x="505.26" y="144.31" width="1.40" height="1.39" fill="#7f89cf"/><rect x="506.65" y="144.31" width="1.40" height="1.39" fill="#fdf2ac"/><rect x="508.05" y="144.31" width="1.40" height="1.39" fill="#f8f9fd"/><rect x="509.45" y="144.31" width="1.40" height="1.39" fill="#f1ca37"/><rect x="510.85" y="144.31" width="1.40" height="1.39" fill="#f7f8fd"/><rect x="512.25" y="144.31" width="1.40" height="1.39" fill="#828bd1"/><rect x="513.64" y="144.31" width="1.40" height="1.39" fill="#acb4e3"/><rect x="515.04" y="144.31" width="1.40" height="1.39" fill="#d9def4"/><rect x="516.44" y="144.31" width="1.40" height="1.39" fill="#e7ebf8"/><rect x="517.84" y="144.31" width="1.40" height="1.39" fill="#fffef5"/><rect x="519.23" y="144.31" width="1.40" height="1.39" fill="#cbd1ef"/><rect x="520.63" y="144.31" width="1.40" height="1.39" fill="#dfe4f6"/><rect x="522.03" y="144.31" width="1.40" height="1.39" fill="#97a0db"/><rect x="523.42" y="144.31" width="1.40" height="1.39" fill="#fffef4"/><rect x="524.82" y="144.31" width="1.40" height="1.39" fill="#f7f8fd"/><rect x="526.22" y="144.31" width="1.40" height="1.39" fill="#959fdb"/><rect x="527.62" y="144.31" width="1.40" height="1.39" fill="#fffcea"/><rect x="529.01" y="144.31" width="1.40" height="1.39" fill="#d3d9f2"/><rect x="530.41" y="144.31" width="1.40" height="1.39" fill="#edf0fa"/><rect x="531.81" y="144.31" width="1.40" height="1.39" fill="#dee3f6"/><rect x="533.21" y="144.31" width="1.40" height="1.39" fill="#fffada"/><rect x="534.61" y="144.31" width="1.40" height="1.39" fill="#eaedf9"/><rect x="536.00" y="144.31" width="1.40" height="1.39" fill="#d4d9f2"/></g><rect x="481.5" y="90.1" width="55.90" height="55.6" fill="none" stroke="#111" stroke-width="1"/><line x1="489.60" y1="90.1" x2="489.60" y2="92.1" stroke="#111" stroke-width="0.8"/><line x1="489.60" y1="145.7" x2="489.60" y2="143.7" stroke="#111" stroke-width="0.8"/><line x1="481.5" y1="137.10" x2="483.5" y2="137.10" stroke="#111" stroke-width="0.8"/><line x1="537.4" y1="137.10" x2="535.4" y2="137.10" stroke="#111" stroke-width="0.8"/><text x="480.20" y="140.20" font-family='"Liberation Sans", sans-serif' font-size="8.6" text-anchor="end" fill="#111" font-weight="normal" font-style="normal" >-50</text><text x="489.60" y="155.10" font-family='"Liberation Sans", sans-serif' font-size="8.6" text-anchor="middle" fill="#111" font-weight="normal" font-style="normal" >-50</text><line x1="508.70" y1="90.1" x2="508.70" y2="92.1" stroke="#111" stroke-width="0.8"/><line x1="508.70" y1="145.7" x2="508.70" y2="143.7" stroke="#111" stroke-width="0.8"/><line x1="481.5" y1="118.00" x2="483.5" y2="118.00" stroke="#111" stroke-width="0.8"/><line x1="537.4" y1="118.00" x2="535.4" y2="118.00" stroke="#111" stroke-width="0.8"/><text x="480.20" y="121.10" font-family='"Liberation Sans", sans-serif' font-size="8.6" text-anchor="end" fill="#111" font-weight="normal" font-style="normal" >0</text><text x="508.70" y="155.10" font-family='"Liberation Sans", sans-serif' font-size="8.6" text-anchor="middle" fill="#111" font-weight="normal" font-style="normal" >0</text><line x1="527.80" y1="90.1" x2="527.80" y2="92.1" stroke="#111" stroke-width="0.8"/><line x1="527.80" y1="145.7" x2="527.80" y2="143.7" stroke="#111" stroke-width="0.8"/><line x1="481.5" y1="98.90" x2="483.5" y2="98.90" stroke="#111" stroke-width="0.8"/><line x1="537.4" y1="98.90" x2="535.4" y2="98.90" stroke="#111" stroke-width="0.8"/><text x="480.20" y="102.00" font-family='"Liberation Sans", sans-serif' font-size="8.6" text-anchor="end" fill="#111" font-weight="normal" font-style="normal" >50</text><text x="527.80" y="155.10" font-family='"Liberation Sans", sans-serif' font-size="8.6" text-anchor="middle" fill="#111" font-weight="normal" font-style="normal" >50</text><rect x="481.5" y="158.0" width="55.90" height="55.6" fill="#fff"/><g shape-rendering="crispEdges"><rect x="481.50" y="158.00" width="1.40" height="1.39" fill="#f4dc46"/><rect x="482.90" y="158.00" width="1.40" height="1.39" fill="#fffce9"/><rect x="484.30" y="158.00" width="1.40" height="1.39" fill="#fffef4"/><rect x="485.69" y="158.00" width="1.40" height="1.39" fill="#fffadb"/><rect x="487.09" y="158.00" width="1.40" height="1.39" fill="#fefeff"/><rect x="488.49" y="158.00" width="1.40" height="1.39" fill="#fffcea"/><rect x="489.88" y="158.00" width="1.40" height="1.39" fill="#f5f7fc"/><rect x="491.28" y="158.00" width="1.40" height="1.39" fill="#fffcea"/><rect x="492.68" y="158.00" width="1.40" height="1.39" fill="#cbd1ef"/><rect x="494.08" y="158.00" width="1.40" height="1.39" fill="#f3d540"/><rect x="495.48" y="158.00" width="1.40" height="1.39" fill="#fffdf1"/><rect x="496.87" y="158.00" width="1.40" height="1.39" fill="#fefeff"/><rect x="498.27" y="158.00" width="1.40" height="1.39" fill="#fef5bc"/><rect x="499.67" y="158.00" width="1.40" height="1.39" fill="#e3e7f7"/><rect x="501.06" y="158.00" width="1.40" height="1.39" fill="#fffce7"/><rect x="502.46" y="158.00" width="1.40" height="1.39" fill="#fdfdfe"/><rect x="503.86" y="158.00" width="1.40" height="1.39" fill="#f3d540"/><rect x="505.26" y="158.00" width="1.40" height="1.39" fill="#fff8c9"/><rect x="506.65" y="158.00" width="1.40" height="1.39" fill="#fffbe0"/><rect x="508.05" y="158.00" width="1.40" height="1.39" fill="#fff8c7"/><rect x="509.45" y="158.00" width="1.40" height="1.39" fill="#fffef7"/><rect x="510.85" y="158.00" width="1.40" height="1.39" fill="#d3d8f2"/><rect x="512.25" y="158.00" width="1.40" height="1.39" fill="#d5daf2"/><rect x="513.64" y="158.00" width="1.40" height="1.39" fill="#fffce6"/><rect x="515.04" y="158.00" width="1.40" height="1.39" fill="#fffad6"/><rect x="516.44" y="158.00" width="1.40" height="1.39" fill="#fffdec"/><rect x="517.84" y="158.00" width="1.40" height="1.39" fill="#eceffa"/><rect x="519.23" y="158.00" width="1.40" height="1.39" fill="#fbef9c"/><rect x="520.63" y="158.00" width="1.40" height="1.39" fill="#f9fafd"/><rect x="522.03" y="158.00" width="1.40" height="1.39" fill="#fffdf3"/><rect x="523.42" y="158.00" width="1.40" height="1.39" fill="#f7e46c"/><rect x="524.82" y="158.00" width="1.40" height="1.39" fill="#fcfcfe"/><rect x="526.22" y="158.00" width="1.40" height="1.39" fill="#e0e4f6"/><rect x="527.62" y="158.00" width="1.40" height="1.39" fill="#f1f3fb"/><rect x="529.01" y="158.00" width="1.40" height="1.39" fill="#e5e8f7"/><rect x="530.41" y="158.00" width="1.40" height="1.39" fill="#fffbe3"/><rect x="531.81" y="158.00" width="1.40" height="1.39" fill="#eff1fa"/><rect x="533.21" y="158.00" width="1.40" height="1.39" fill="#c0c7eb"/><rect x="534.61" y="158.00" width="1.40" height="1.39" fill="#fbfcfe"/><rect x="536.00" y="158.00" width="1.40" height="1.39" fill="#fff9cf"/><rect x="481.50" y="159.39" width="1.40" height="1.39" fill="#fcfcfe"/><rect x="482.90" y="159.39" width="1.40" height="1.39" fill="#fff8ca"/><rect x="484.30" y="159.39" width="1.40" height="1.39" fill="#fffdf0"/><rect x="485.69" y="159.39" width="1.40" height="1.39" fill="#fffce6"/><rect x="487.09" y="159.39" width="1.40" height="1.39" fill="#fffad9"/><rect x="488.49" y="159.39" width="1.40" height="1.39" fill="#fffffe"/><rect x="489.88" y="159.39" width="1.40" height="1.39" fill="#fef6bf"/><rect x="491.28" y="159.39" width="1.40" height="1.39" fill="#f3f5fc"/><rect x="492.68" y="159.39" width="1.40" height="1.39" fill="#fffdf2"/><rect x="494.08" y="159.39" width="1.40" height="1.39" fill="#fffad9"/><rect x="495.48" y="159.39" width="1.40" height="1.39" fill="#fffffb"/><rect x="496.87" y="159.39" width="1.40" height="1.39" fill="#fffce4"/><rect x="498.27" y="159.39" width="1.40" height="1.39" fill="#f3d33f"/><rect x="499.67" y="159.39" width="1.40" height="1.39" fill="#f7e46b"/><rect x="501.06" y="159.39" width="1.40" height="1.39" fill="#c5cced"/><rect x="502.46" y="159.39" width="1.40" height="1.39" fill="#fffad4"/><rect x="503.86" y="159.39" width="1.40" height="1.39" fill="#f3d541"/><rect x="505.26" y="159.39" width="1.40" height="1.39" fill="#f6f7fc"/><rect x="506.65" y="159.39" width="1.40" height="1.39" fill="#f3f4fb"/><rect x="508.05" y="159.39" width="1.40" height="1.39" fill="#fffef6"/><rect x="509.45" y="159.39" width="1.40" height="1.39" fill="#fdf3b2"/><rect x="510.85" y="159.39" width="1.40" height="1.39" fill="#fff9d0"/><rect x="512.25" y="159.39" width="1.40" height="1.39" fill="#fffdf1"/><rect x="513.64" y="159.39" width="1.40" height="1.39" fill="#f4dc46"/><rect x="515.04" y="159.39" width="1.40" height="1.39" fill="#fcef9f"/><rect x="516.44" y="159.39" width="1.40" height="1.39" fill="#f0c231"/><rect x="517.84" y="159.39" width="1.40" height="1.39" fill="#e1e5f6"/><rect x="519.23" y="159.39" width="1.40" height="1.39" fill="#f4dc48"/><rect x="520.63" y="159.39" width="1.40" height="1.39" fill="#faec92"/><rect x="522.03" y="159.39" width="1.40" height="1.39" fill="#fff9d3"/><rect x="523.42" y="159.39" width="1.40" height="1.39" fill="#e7eaf8"/><rect x="524.82" y="159.39" width="1.40" height="1.39" fill="#f8f9fd"/><rect x="526.22" y="159.39" width="1.40" height="1.39" fill="#fffdf0"/><rect x="527.62" y="159.39" width="1.40" height="1.39" fill="#f1f3fb"/><rect x="529.01" y="159.39" width="1.40" height="1.39" fill="#e7eaf8"/><rect x="530.41" y="159.39" width="1.40" height="1.39" fill="#fffce4"/><rect x="531.81" y="159.39" width="1.40" height="1.39" fill="#f3d33f"/><rect x="533.21" y="159.39" width="1.40" height="1.39" fill="#fffef4"/><rect x="534.61" y="159.39" width="1.40" height="1.39" fill="#fffdec"/><rect x="536.00" y="159.39" width="1.40" height="1.39" fill="#a1a9df"/><rect x="481.50" y="160.78" width="1.40" height="1.39" fill="#fffef5"/><rect x="482.90" y="160.78" width="1.40" height="1.39" fill="#a9b1e2"/><rect x="484.30" y="160.78" width="1.40" height="1.39" fill="#ebeef9"/><rect x="485.69" y="160.78" width="1.40" height="1.39" fill="#d5dbf2"/><rect x="487.09" y="160.78" width="1.40" height="1.39" fill="#f3d33f"/><rect x="488.49" y="160.78" width="1.40" height="1.39" fill="#f6e05b"/><rect x="489.88" y="160.78" width="1.40" height="1.39" fill="#fffef4"/><rect x="491.28" y="160.78" width="1.40" height="1.39" fill="#fffef7"/><rect x="492.68" y="160.78" width="1.40" height="1.39" fill="#dde2f5"/><rect x="494.08" y="160.78" width="1.40" height="1.39" fill="#fbfbfe"/><rect x="495.48" y="160.78" width="1.40" height="1.39" fill="#fffada"/><rect x="496.87" y="160.78" width="1.40" height="1.39" fill="#e5961c"/><rect x="498.27" y="160.78" width="1.40" height="1.39" fill="#f8f9fd"/><rect x="499.67" y="160.78" width="1.40" height="1.39" fill="#eeb92a"/><rect x="501.06" y="160.78" width="1.40" height="1.39" fill="#cad0ee"/><rect x="502.46" y="160.78" width="1.40" height="1.39" fill="#fef6c0"/><rect x="503.86" y="160.78" width="1.40" height="1.39" fill="#f4db46"/><rect x="505.26" y="160.78" width="1.40" height="1.39" fill="#fffad8"/><rect x="506.65" y="160.78" width="1.40" height="1.39" fill="#fffcea"/><rect x="508.05" y="160.78" width="1.40" height="1.39" fill="#fcfdfe"/><rect x="509.45" y="160.78" width="1.40" height="1.39" fill="#fef5ba"/><rect x="510.85" y="160.78" width="1.40" height="1.39" fill="#edeffa"/><rect x="512.25" y="160.78" width="1.40" height="1.39" fill="#f9e984"/><rect x="513.64" y="160.78" width="1.40" height="1.39" fill="#d3d9f2"/><rect x="515.04" y="160.78" width="1.40" height="1.39" fill="#eef0fa"/><rect x="516.44" y="160.78" width="1.40" height="1.39" fill="#e1e5f6"/><rect x="517.84" y="160.78" width="1.40" height="1.39" fill="#fcfdfe"/><rect x="519.23" y="160.78" width="1.40" height="1.39" fill="#fffbe0"/><rect x="520.63" y="160.78" width="1.40" height="1.39" fill="#f4dd49"/><rect x="522.03" y="160.78" width="1.40" height="1.39" fill="#9ba4dd"/><rect x="523.42" y="160.78" width="1.40" height="1.39" fill="#fbfbfe"/><rect x="524.82" y="160.78" width="1.40" height="1.39" fill="#f1f3fb"/><rect x="526.22" y="160.78" width="1.40" height="1.39" fill="#e8ebf8"/><rect x="527.62" y="160.78" width="1.40" height="1.39" fill="#f6f7fc"/><rect x="529.01" y="160.78" width="1.40" height="1.39" fill="#f9ea85"/><rect x="530.41" y="160.78" width="1.40" height="1.39" fill="#fffefa"/><rect x="531.81" y="160.78" width="1.40" height="1.39" fill="#eef0fa"/><rect x="533.21" y="160.78" width="1.40" height="1.39" fill="#d8ddf3"/><rect x="534.61" y="160.78" width="1.40" height="1.39" fill="#e6eaf8"/><rect x="536.00" y="160.78" width="1.40" height="1.39" fill="#eff1fa"/><rect x="481.50" y="162.17" width="1.40" height="1.39" fill="#f8f9fd"/><rect x="482.90" y="162.17" width="1.40" height="1.39" fill="#f9ea85"/><rect x="484.30" y="162.17" width="1.40" height="1.39" fill="#bfc5ea"/><rect x="485.69" y="162.17" width="1.40" height="1.39" fill="#f5dd4c"/><rect x="487.09" y="162.17" width="1.40" height="1.39" fill="#d2d8f1"/><rect x="488.49" y="162.17" width="1.40" height="1.39" fill="#b3bae6"/><rect x="489.88" y="162.17" width="1.40" height="1.39" fill="#fffada"/><rect x="491.28" y="162.17" width="1.40" height="1.39" fill="#f6f7fc"/><rect x="492.68" y="162.17" width="1.40" height="1.39" fill="#f2f4fb"/><rect x="494.08" y="162.17" width="1.40" height="1.39" fill="#fffad7"/><rect x="495.48" y="162.17" width="1.40" height="1.39" fill="#f9e983"/><rect x="496.87" y="162.17" width="1.40" height="1.39" fill="#f6e262"/><rect x="498.27" y="162.17" width="1.40" height="1.39" fill="#fff9cd"/><rect x="499.67" y="162.17" width="1.40" height="1.39" fill="#e6eaf8"/><rect x="501.06" y="162.17" width="1.40" height="1.39" fill="#fffded"/><rect x="502.46" y="162.17" width="1.40" height="1.39" fill="#fbee9c"/><rect x="503.86" y="162.17" width="1.40" height="1.39" fill="#fffef6"/><rect x="505.26" y="162.17" width="1.40" height="1.39" fill="#f3f5fc"/><rect x="506.65" y="162.17" width="1.40" height="1.39" fill="#fbed94"/><rect x="508.05" y="162.17" width="1.40" height="1.39" fill="#f1f3fb"/><rect x="509.45" y="162.17" width="1.40" height="1.39" fill="#f2d13d"/><rect x="510.85" y="162.17" width="1.40" height="1.39" fill="#a1aadf"/><rect x="512.25" y="162.17" width="1.40" height="1.39" fill="#faea88"/><rect x="513.64" y="162.17" width="1.40" height="1.39" fill="#c5cced"/><rect x="515.04" y="162.17" width="1.40" height="1.39" fill="#bac1e8"/><rect x="516.44" y="162.17" width="1.40" height="1.39" fill="#eff1fa"/><rect x="517.84" y="162.17" width="1.40" height="1.39" fill="#f3d843"/><rect x="519.23" y="162.17" width="1.40" height="1.39" fill="#e3e7f7"/><rect x="520.63" y="162.17" width="1.40" height="1.39" fill="#d8ddf3"/><rect x="522.03" y="162.17" width="1.40" height="1.39" fill="#eaedf9"/><rect x="524.82" y="162.17" width="1.40" height="1.39" fill="#fcf1a8"/><rect x="526.22" y="162.17" width="1.40" height="1.39" fill="#8791d4"/><rect x="527.62" y="162.17" width="1.40" height="1.39" fill="#fffcea"/><rect x="529.01" y="162.17" width="1.40" height="1.39" fill="#b3bbe6"/><rect x="530.41" y="162.17" width="2.79" height="1.39" fill="#f2f4fb"/><rect x="533.21" y="162.17" width="1.40" height="1.39" fill="#fffefa"/><rect x="534.61" y="162.17" width="1.40" height="1.39" fill="#ebeef9"/><rect x="536.00" y="162.17" width="1.40" height="1.39" fill="#f4f5fc"/><rect x="481.50" y="163.56" width="1.40" height="1.39" fill="#a6afe1"/><rect x="482.90" y="163.56" width="1.40" height="1.39" fill="#fff8c7"/><rect x="484.30" y="163.56" width="1.40" height="1.39" fill="#fffbdf"/><rect x="485.69" y="163.56" width="1.40" height="1.39" fill="#f5f6fc"/><rect x="487.09" y="163.56" width="1.40" height="1.39" fill="#f3f5fc"/><rect x="488.49" y="163.56" width="1.40" height="1.39" fill="#fff8cb"/><rect x="489.88" y="163.56" width="1.40" height="1.39" fill="#fffad4"/><rect x="491.28" y="163.56" width="1.40" height="1.39" fill="#faec92"/><rect x="492.68" y="163.56" width="1.40" height="1.39" fill="#fff9cd"/><rect x="494.08" y="163.56" width="1.40" height="1.39" fill="#fcf1a9"/><rect x="495.48" y="163.56" width="1.40" height="1.39" fill="#fef5bb"/><rect x="496.87" y="163.56" width="1.40" height="1.39" fill="#fef6bf"/><rect x="498.27" y="163.56" width="1.40" height="1.39" fill="#f3f5fc"/><rect x="499.67" y="163.56" width="1.40" height="1.39" fill="#fcf1a8"/><rect x="501.06" y="163.56" width="1.40" height="1.39" fill="#ecaa1e"/><rect x="502.46" y="163.56" width="1.40" height="1.39" fill="#fffdf2"/><rect x="503.86" y="163.56" width="1.40" height="1.39" fill="#fcf1a5"/><rect x="505.26" y="163.56" width="1.40" height="1.39" fill="#e9ecf9"/><rect x="506.65" y="163.56" width="1.40" height="1.39" fill="#fffceb"/><rect x="508.05" y="163.56" width="1.40" height="1.39" fill="#7781ca"/><rect x="509.45" y="163.56" width="1.40" height="1.39" fill="#fffef7"/><rect x="510.85" y="163.56" width="1.40" height="1.39" fill="#fffdec"/><rect x="512.25" y="163.56" width="1.40" height="1.39" fill="#f9e981"/><rect x="513.64" y="163.56" width="1.40" height="1.39" fill="#dadff4"/><rect x="515.04" y="163.56" width="1.40" height="1.39" fill="#fbfbfe"/><rect x="516.44" y="163.56" width="1.40" height="1.39" fill="#edf0fa"/><rect x="517.84" y="163.56" width="1.40" height="1.39" fill="#dee3f6"/><rect x="519.23" y="163.56" width="1.40" height="1.39" fill="#f5f6fc"/><rect x="520.63" y="163.56" width="1.40" height="1.39" fill="#eef1fa"/><rect x="522.03" y="163.56" width="1.40" height="1.39" fill="#b6bde7"/><rect x="523.42" y="163.56" width="1.40" height="1.39" fill="#f2f4fb"/><rect x="524.82" y="163.56" width="1.40" height="1.39" fill="#f9ea86"/><rect x="526.22" y="163.56" width="1.40" height="1.39" fill="#fffffd"/><rect x="527.62" y="163.56" width="1.40" height="1.39" fill="#fffef5"/><rect x="529.01" y="163.56" width="1.40" height="1.39" fill="#e7ebf8"/><rect x="530.41" y="163.56" width="1.40" height="1.39" fill="#959eda"/><rect x="531.81" y="163.56" width="1.40" height="1.39" fill="#f2d23e"/><rect x="533.21" y="163.56" width="1.40" height="1.39" fill="#fffcea"/><rect x="534.61" y="163.56" width="1.40" height="1.39" fill="#fcefa0"/><rect x="536.00" y="163.56" width="1.40" height="1.39" fill="#f6f7fc"/><rect x="481.50" y="164.95" width="1.40" height="1.39" fill="#fffbe1"/><rect x="482.90" y="164.95" width="1.40" height="1.39" fill="#e9ecf9"/><rect x="484.30" y="164.95" width="1.40" height="1.39" fill="#fcf1a5"/><rect x="485.69" y="164.95" width="1.40" height="1.39" fill="#fffce6"/><rect x="487.09" y="164.95" width="1.40" height="1.39" fill="#fdf4b5"/><rect x="488.49" y="164.95" width="1.40" height="1.39" fill="#fffbe0"/><rect x="489.88" y="164.95" width="1.40" height="1.39" fill="#fffdee"/><rect x="491.28" y="164.95" width="1.40" height="1.39" fill="#929cd9"/><rect x="492.68" y="164.95" width="1.40" height="1.39" fill="#bac1e8"/><rect x="494.08" y="164.95" width="1.40" height="1.39" fill="#fffbe2"/><rect x="495.48" y="164.95" width="1.40" height="1.39" fill="#fafbfe"/><rect x="496.87" y="164.95" width="1.40" height="1.39" fill="#858fd3"/><rect x="498.27" y="164.95" width="1.40" height="1.39" fill="#eef1fa"/><rect x="499.67" y="164.95" width="1.40" height="1.39" fill="#efc02f"/><rect x="501.06" y="164.95" width="1.40" height="1.39" fill="#fff7c5"/><rect x="502.46" y="164.95" width="1.40" height="1.39" fill="#f3d641"/><rect x="503.86" y="164.95" width="1.40" height="1.39" fill="#efbc2c"/><rect x="505.26" y="164.95" width="1.40" height="1.39" fill="#e0881a"/><rect x="506.65" y="164.95" width="1.40" height="1.39" fill="#f4dd4b"/><rect x="508.05" y="164.95" width="1.40" height="1.39" fill="#fffef7"/><rect x="509.45" y="164.95" width="1.40" height="1.39" fill="#fffad9"/><rect x="510.85" y="164.95" width="1.40" height="1.39" fill="#f3d943"/><rect x="512.25" y="164.95" width="1.40" height="1.39" fill="#fffbe1"/><rect x="513.64" y="164.95" width="1.40" height="1.39" fill="#f4dd4c"/><rect x="515.04" y="164.95" width="1.40" height="1.39" fill="#cbd1ef"/><rect x="516.44" y="164.95" width="1.40" height="1.39" fill="#e8ebf8"/><rect x="517.84" y="164.95" width="1.40" height="1.39" fill="#edf0fa"/><rect x="519.23" y="164.95" width="1.40" height="1.39" fill="#474fac"/><rect x="520.63" y="164.95" width="1.40" height="1.39" fill="#f5df54"/><rect x="522.03" y="164.95" width="1.40" height="1.39" fill="#dce1f5"/><rect x="523.42" y="164.95" width="1.40" height="1.39" fill="#eff1fa"/><rect x="524.82" y="164.95" width="1.40" height="1.39" fill="#edf0fa"/><rect x="526.22" y="164.95" width="1.40" height="1.39" fill="#eaedf9"/><rect x="527.62" y="164.95" width="1.40" height="1.39" fill="#dee3f6"/><rect x="529.01" y="164.95" width="1.40" height="1.39" fill="#f5df55"/><rect x="530.41" y="164.95" width="1.40" height="1.39" fill="#eaedf9"/><rect x="531.81" y="164.95" width="1.40" height="1.39" fill="#dadff4"/><rect x="533.21" y="164.95" width="1.40" height="1.39" fill="#f4db45"/><rect x="534.61" y="164.95" width="1.40" height="1.39" fill="#fffbdd"/><rect x="536.00" y="164.95" width="1.40" height="1.39" fill="#fefeff"/><rect x="481.50" y="166.34" width="1.40" height="1.39" fill="#fffdf3"/><rect x="482.90" y="166.34" width="1.40" height="1.39" fill="#fffada"/><rect x="484.30" y="166.34" width="1.40" height="1.39" fill="#f1c836"/><rect x="485.69" y="166.34" width="1.40" height="1.39" fill="#e5e9f8"/><rect x="487.09" y="166.34" width="1.40" height="1.39" fill="#fff8ca"/><rect x="488.49" y="166.34" width="1.40" height="1.39" fill="#f0c634"/><rect x="489.88" y="166.34" width="1.40" height="1.39" fill="#fffad6"/><rect x="491.28" y="166.34" width="1.40" height="1.39" fill="#fffbdd"/><rect x="492.68" y="166.34" width="1.40" height="1.39" fill="#fbfcfe"/><rect x="494.08" y="166.34" width="1.40" height="1.39" fill="#fff9ce"/><rect x="495.48" y="166.34" width="1.40" height="1.39" fill="#fffdec"/><rect x="496.87" y="166.34" width="1.40" height="1.39" fill="#fffce8"/><rect x="498.27" y="166.34" width="1.40" height="1.39" fill="#edb124"/><rect x="499.67" y="166.34" width="1.40" height="1.39" fill="#f8f9fd"/><rect x="501.06" y="166.34" width="1.40" height="1.39" fill="#d46316"/><rect x="502.46" y="166.34" width="1.40" height="1.39" fill="#f7e56e"/><rect x="503.86" y="166.34" width="1.40" height="1.39" fill="#eeb426"/><rect x="505.26" y="166.34" width="1.40" height="1.39" fill="#fffffd"/><rect x="506.65" y="166.34" width="1.40" height="1.39" fill="#edb124"/><rect x="508.05" y="166.34" width="1.40" height="1.39" fill="#f1c735"/><rect x="509.45" y="166.34" width="1.40" height="1.39" fill="#f5df54"/><rect x="510.85" y="166.34" width="1.40" height="1.39" fill="#fffceb"/><rect x="512.25" y="166.34" width="1.40" height="1.39" fill="#faeb8d"/><rect x="513.64" y="166.34" width="1.40" height="1.39" fill="#d9def4"/><rect x="515.04" y="166.34" width="1.40" height="1.39" fill="#d4daf2"/><rect x="516.44" y="166.34" width="1.40" height="1.39" fill="#f5f6fc"/><rect x="517.84" y="166.34" width="1.40" height="1.39" fill="#fef5ba"/><rect x="519.23" y="166.34" width="1.40" height="1.39" fill="#f6e262"/><rect x="520.63" y="166.34" width="1.40" height="1.39" fill="#b9c0e8"/><rect x="522.03" y="166.34" width="1.40" height="1.39" fill="#f9ea86"/><rect x="523.42" y="166.34" width="1.40" height="1.39" fill="#e7eaf8"/><rect x="524.82" y="166.34" width="1.40" height="1.39" fill="#fffef4"/><rect x="526.22" y="166.34" width="1.40" height="1.39" fill="#d3d8f2"/><rect x="527.62" y="166.34" width="1.40" height="1.39" fill="#dbe0f5"/><rect x="529.01" y="166.34" width="1.40" height="1.39" fill="#f1f3fb"/><rect x="530.41" y="166.34" width="1.40" height="1.39" fill="#f8e674"/><rect x="531.81" y="166.34" width="1.40" height="1.39" fill="#dde2f5"/><rect x="533.21" y="166.34" width="1.40" height="1.39" fill="#fcf2aa"/><rect x="534.61" y="166.34" width="1.40" height="1.39" fill="#fbed94"/><rect x="536.00" y="166.34" width="1.40" height="1.39" fill="#f3d742"/><rect x="481.50" y="167.73" width="1.40" height="1.39" fill="#fffffb"/><rect x="482.90" y="167.73" width="1.40" height="1.39" fill="#fffffe"/><rect x="484.30" y="167.73" width="1.40" height="1.39" fill="#b1b9e5"/><rect x="485.69" y="167.73" width="1.40" height="1.39" fill="#a8b0e1"/><rect x="487.09" y="167.73" width="1.40" height="1.39" fill="#fef4b6"/><rect x="488.49" y="167.73" width="1.40" height="1.39" fill="#fffdf2"/><rect x="489.88" y="167.73" width="1.40" height="1.39" fill="#fdf3b0"/><rect x="491.28" y="167.73" width="1.40" height="1.39" fill="#f5df55"/><rect x="492.68" y="167.73" width="1.40" height="1.39" fill="#fdfeff"/><rect x="494.08" y="167.73" width="1.40" height="1.39" fill="#e7eaf8"/><rect x="495.48" y="167.73" width="1.40" height="1.39" fill="#fffbde"/><rect x="496.87" y="167.73" width="1.40" height="1.39" fill="#fef6bf"/><rect x="498.27" y="167.73" width="2.79" height="1.39" fill="#fdf2ae"/><rect x="501.06" y="167.73" width="1.40" height="1.39" fill="#ecad20"/><rect x="502.46" y="167.73" width="1.40" height="1.39" fill="#fffada"/><rect x="503.86" y="167.73" width="1.40" height="1.39" fill="#edae21"/><rect x="505.26" y="167.73" width="1.40" height="1.39" fill="#d25e16"/><rect x="506.65" y="167.73" width="1.40" height="1.39" fill="#bd2f15"/><rect x="508.05" y="167.73" width="1.40" height="1.39" fill="#f8f9fd"/><rect x="509.45" y="167.73" width="1.40" height="1.39" fill="#f7e56e"/><rect x="510.85" y="167.73" width="1.40" height="1.39" fill="#f0c030"/><rect x="512.25" y="167.73" width="1.40" height="1.39" fill="#f1f3fb"/><rect x="513.64" y="167.73" width="1.40" height="1.39" fill="#fffbdc"/><rect x="515.04" y="167.73" width="1.40" height="1.39" fill="#f9e87c"/><rect x="516.44" y="167.73" width="1.40" height="1.39" fill="#f0f2fb"/><rect x="517.84" y="167.73" width="1.40" height="1.39" fill="#fbee9a"/><rect x="519.23" y="167.73" width="1.40" height="1.39" fill="#dde2f5"/><rect x="520.63" y="167.73" width="1.40" height="1.39" fill="#eff1fa"/><rect x="522.03" y="167.73" width="1.40" height="1.39" fill="#f1f3fb"/><rect x="523.42" y="167.73" width="1.40" height="1.39" fill="#c1c7eb"/><rect x="524.82" y="167.73" width="1.40" height="1.39" fill="#f2f4fb"/><rect x="526.22" y="167.73" width="1.40" height="1.39" fill="#fff8c9"/><rect x="527.62" y="167.73" width="1.40" height="1.39" fill="#dadff4"/><rect x="529.01" y="167.73" width="1.40" height="1.39" fill="#dfe4f6"/><rect x="530.41" y="167.73" width="1.40" height="1.39" fill="#fcef9f"/><rect x="531.81" y="167.73" width="1.40" height="1.39" fill="#eff1fa"/><rect x="533.21" y="167.73" width="1.40" height="1.39" fill="#fffef7"/><rect x="534.61" y="167.73" width="1.40" height="1.39" fill="#f0f2fb"/><rect x="536.00" y="167.73" width="1.40" height="1.39" fill="#f8f9fd"/><rect x="481.50" y="169.12" width="1.40" height="1.39" fill="#fffad8"/><rect x="482.90" y="169.12" width="1.40" height="1.39" fill="#f1c735"/><rect x="484.30" y="169.12" width="1.40" height="1.39" fill="#fff8c9"/><rect x="485.69" y="169.12" width="1.40" height="1.39" fill="#fbfcfe"/><rect x="487.09" y="169.12" width="1.40" height="1.39" fill="#fafbfe"/><rect x="488.49" y="169.12" width="1.40" height="1.39" fill="#fffdf1"/><rect x="489.88" y="169.12" width="1.40" height="1.39" fill="#f2d13d"/><rect x="491.28" y="169.12" width="1.40" height="1.39" fill="#f9e983"/><rect x="492.68" y="169.12" width="1.40" height="1.39" fill="#fff9cf"/><rect x="494.08" y="169.12" width="1.40" height="1.39" fill="#f1cb38"/><rect x="495.48" y="169.12" width="1.40" height="1.39" fill="#b9c0e8"/><rect x="496.87" y="169.12" width="1.40" height="1.39" fill="#fffad4"/><rect x="498.27" y="169.12" width="1.40" height="1.39" fill="#fffce6"/><rect x="499.67" y="169.12" width="1.40" height="1.39" fill="#fef6bf"/><rect x="501.06" y="169.12" width="1.40" height="1.39" fill="#db7a19"/><rect x="502.46" y="169.12" width="1.40" height="1.39" fill="#b82515"/><rect x="503.86" y="169.12" width="1.40" height="1.39" fill="#b01616"/><rect x="505.26" y="169.12" width="1.40" height="1.39" fill="#b72416"/><rect x="506.65" y="169.12" width="1.40" height="1.39" fill="#f3d541"/><rect x="508.05" y="169.12" width="1.40" height="1.39" fill="#fff8cb"/><rect x="509.45" y="169.12" width="1.40" height="1.39" fill="#f4dc46"/><rect x="510.85" y="169.12" width="1.40" height="1.39" fill="#a9b1e2"/><rect x="512.25" y="169.12" width="1.40" height="1.39" fill="#f5de51"/><rect x="513.64" y="169.12" width="1.40" height="1.39" fill="#f1c735"/><rect x="515.04" y="169.12" width="1.40" height="1.39" fill="#fafbfe"/><rect x="516.44" y="169.12" width="1.40" height="1.39" fill="#dee3f6"/><rect x="517.84" y="169.12" width="1.40" height="1.39" fill="#b8bfe7"/><rect x="519.23" y="169.12" width="1.40" height="1.39" fill="#e6eaf8"/><rect x="520.63" y="169.12" width="1.40" height="1.39" fill="#767fc9"/><rect x="522.03" y="169.12" width="1.40" height="1.39" fill="#7a83cc"/><rect x="523.42" y="169.12" width="1.40" height="1.39" fill="#d5daf2"/><rect x="524.82" y="169.12" width="1.40" height="1.39" fill="#d0d6f0"/><rect x="526.22" y="169.12" width="1.40" height="1.39" fill="#d6dcf3"/><rect x="527.62" y="169.12" width="1.40" height="1.39" fill="#fffffd"/><rect x="529.01" y="169.12" width="1.40" height="1.39" fill="#f6e261"/><rect x="530.41" y="169.12" width="1.40" height="1.39" fill="#f8f9fd"/><rect x="531.81" y="169.12" width="1.40" height="1.39" fill="#eaedf9"/><rect x="533.21" y="169.12" width="1.40" height="1.39" fill="#d6dbf3"/><rect x="534.61" y="169.12" width="1.40" height="1.39" fill="#f3d742"/><rect x="536.00" y="169.12" width="1.40" height="1.39" fill="#eceffa"/><rect x="481.50" y="170.51" width="1.40" height="1.39" fill="#fbfbfe"/><rect x="482.90" y="170.51" width="1.40" height="1.39" fill="#ebeef9"/><rect x="484.30" y="170.51" width="1.40" height="1.39" fill="#f5f6fc"/><rect x="485.69" y="170.51" width="1.40" height="1.39" fill="#d0d6f1"/><rect x="487.09" y="170.51" width="1.40" height="1.39" fill="#c6cced"/><rect x="488.49" y="170.51" width="1.40" height="1.39" fill="#c5cbec"/><rect x="489.88" y="170.51" width="1.40" height="1.39" fill="#edb023"/><rect x="491.28" y="170.51" width="1.40" height="1.39" fill="#fffce9"/><rect x="492.68" y="170.51" width="1.40" height="1.39" fill="#fffffc"/><rect x="494.08" y="170.51" width="1.40" height="1.39" fill="#fffad4"/><rect x="495.48" y="170.51" width="1.40" height="1.39" fill="#faec90"/><rect x="496.87" y="170.51" width="1.40" height="1.39" fill="#edad21"/><rect x="498.27" y="170.51" width="1.40" height="1.39" fill="#d97318"/><rect x="499.67" y="170.51" width="1.40" height="1.39" fill="#b82615"/><rect x="501.06" y="170.51" width="4.19" height="1.39" fill="#b01616"/><rect x="505.26" y="170.51" width="1.40" height="1.39" fill="#b92815"/><rect x="506.65" y="170.51" width="1.40" height="1.39" fill="#e69a1c"/><rect x="508.05" y="170.51" width="1.40" height="1.39" fill="#e5951c"/><rect x="509.45" y="170.51" width="1.40" height="1.39" fill="#f5f7fc"/><rect x="510.85" y="170.51" width="1.40" height="1.39" fill="#fef6bd"/><rect x="512.25" y="170.51" width="1.40" height="1.39" fill="#edeffa"/><rect x="513.64" y="170.51" width="1.40" height="1.39" fill="#e7eaf8"/><rect x="515.04" y="170.51" width="1.40" height="1.39" fill="#f6f8fd"/><rect x="516.44" y="170.51" width="1.40" height="1.39" fill="#7882cb"/><rect x="517.84" y="170.51" width="1.40" height="1.39" fill="#f8f9fd"/><rect x="519.23" y="170.51" width="1.40" height="1.39" fill="#c5cbec"/><rect x="520.63" y="170.51" width="1.40" height="1.39" fill="#d6dcf3"/><rect x="522.03" y="170.51" width="1.40" height="1.39" fill="#929bd9"/><rect x="523.42" y="170.51" width="1.40" height="1.39" fill="#c3c9ec"/><rect x="524.82" y="170.51" width="1.40" height="1.39" fill="#d7ddf3"/><rect x="526.22" y="170.51" width="1.40" height="1.39" fill="#e3e7f7"/><rect x="527.62" y="170.51" width="1.40" height="1.39" fill="#e7eaf8"/><rect x="529.01" y="170.51" width="1.40" height="1.39" fill="#7a83cc"/><rect x="530.41" y="170.51" width="1.40" height="1.39" fill="#e1e5f6"/><rect x="531.81" y="170.51" width="1.40" height="1.39" fill="#656ebf"/><rect x="533.21" y="170.51" width="1.40" height="1.39" fill="#fdf2ae"/><rect x="534.61" y="170.51" width="1.40" height="1.39" fill="#fffce9"/><rect x="536.00" y="170.51" width="1.40" height="1.39" fill="#fef6bf"/><rect x="481.50" y="171.90" width="1.40" height="1.39" fill="#fffded"/><rect x="482.90" y="171.90" width="1.40" height="1.39" fill="#9aa3dc"/><rect x="484.30" y="171.90" width="1.40" height="1.39" fill="#fffbdd"/><rect x="485.69" y="171.90" width="1.40" height="1.39" fill="#eef0fa"/><rect x="487.09" y="171.90" width="1.40" height="1.39" fill="#fffdee"/><rect x="488.49" y="171.90" width="1.40" height="1.39" fill="#fffada"/><rect x="489.88" y="171.90" width="1.40" height="1.39" fill="#fff8c8"/><rect x="491.28" y="171.90" width="1.40" height="1.39" fill="#f9fafd"/><rect x="492.68" y="171.90" width="1.40" height="1.39" fill="#fef5b8"/><rect x="494.08" y="171.90" width="1.40" height="1.39" fill="#fff9cd"/><rect x="495.48" y="171.90" width="1.40" height="1.39" fill="#fff9d4"/><rect x="496.87" y="171.90" width="1.40" height="1.39" fill="#f4dd4b"/><rect x="498.27" y="171.90" width="1.40" height="1.39" fill="#cc4e14"/><rect x="499.67" y="171.90" width="6.99" height="1.39" fill="#b01616"/><rect x="506.65" y="171.90" width="1.40" height="1.39" fill="#df841a"/><rect x="508.05" y="171.90" width="1.40" height="1.39" fill="#f3d33f"/><rect x="509.45" y="171.90" width="1.40" height="1.39" fill="#fef7c1"/><rect x="510.85" y="171.90" width="1.40" height="1.39" fill="#f9e87d"/><rect x="512.25" y="171.90" width="1.40" height="1.39" fill="#fff7c5"/><rect x="513.64" y="171.90" width="1.40" height="1.39" fill="#dee3f6"/><rect x="515.04" y="171.90" width="1.40" height="1.39" fill="#edf0fa"/><rect x="516.44" y="171.90" width="1.40" height="1.39" fill="#8f99d8"/><rect x="517.84" y="171.90" width="1.40" height="1.39" fill="#b3bbe6"/><rect x="519.23" y="171.90" width="1.40" height="1.39" fill="#565fb6"/><rect x="520.63" y="171.90" width="1.40" height="1.39" fill="#575fb6"/><rect x="522.03" y="171.90" width="1.40" height="1.39" fill="#454dab"/><rect x="523.42" y="171.90" width="1.40" height="1.39" fill="#919bd9"/><rect x="524.82" y="171.90" width="1.40" height="1.39" fill="#eaedf9"/><rect x="526.22" y="171.90" width="1.40" height="1.39" fill="#e5e9f8"/><rect x="527.62" y="171.90" width="1.40" height="1.39" fill="#a2abdf"/><rect x="529.01" y="171.90" width="1.40" height="1.39" fill="#fbfbfe"/><rect x="530.41" y="171.90" width="1.40" height="1.39" fill="#edeffa"/><rect x="531.81" y="171.90" width="1.40" height="1.39" fill="#fffefa"/><rect x="533.21" y="171.90" width="1.40" height="1.39" fill="#fff8c7"/><rect x="534.61" y="171.90" width="1.40" height="1.39" fill="#f1f3fb"/><rect x="536.00" y="171.90" width="1.40" height="1.39" fill="#fffef3"/><rect x="481.50" y="173.29" width="1.40" height="1.39" fill="#fcfcfe"/><rect x="482.90" y="173.29" width="1.40" height="1.39" fill="#d3d8f2"/><rect x="484.30" y="173.29" width="1.40" height="1.39" fill="#d1d7f1"/><rect x="485.69" y="173.29" width="1.40" height="1.39" fill="#fff9d3"/><rect x="487.09" y="173.29" width="1.40" height="1.39" fill="#fbed93"/><rect x="488.49" y="173.29" width="1.40" height="1.39" fill="#e2e6f7"/><rect x="489.88" y="173.29" width="1.40" height="1.39" fill="#faec8f"/><rect x="491.28" y="173.29" width="1.40" height="1.39" fill="#fffad5"/><rect x="492.68" y="173.29" width="1.40" height="1.39" fill="#f2d23e"/><rect x="494.08" y="173.29" width="1.40" height="1.39" fill="#fbef9d"/><rect x="495.48" y="173.29" width="1.40" height="1.39" fill="#f9ea87"/><rect x="496.87" y="173.29" width="1.40" height="1.39" fill="#eeb426"/><rect x="498.27" y="173.29" width="1.40" height="1.39" fill="#b31d16"/><rect x="499.67" y="173.29" width="8.38" height="1.39" fill="#b01616"/><rect x="508.05" y="173.29" width="1.40" height="1.39" fill="#f2ce3b"/><rect x="509.45" y="173.29" width="1.40" height="1.39" fill="#fcf1a7"/><rect x="510.85" y="173.29" width="1.40" height="1.39" fill="#f5de51"/><rect x="512.25" y="173.29" width="1.40" height="1.39" fill="#ebeef9"/><rect x="513.64" y="173.29" width="1.40" height="1.39" fill="#e8ebf8"/><rect x="515.04" y="173.29" width="1.40" height="1.39" fill="#fcf0a5"/><rect x="516.44" y="173.29" width="1.40" height="1.39" fill="#858fd3"/><rect x="517.84" y="173.29" width="1.40" height="1.39" fill="#3236a0"/><rect x="519.23" y="173.29" width="1.40" height="1.39" fill="#3f46a8"/><rect x="520.63" y="173.29" width="1.40" height="1.39" fill="#5059b2"/><rect x="522.03" y="173.29" width="1.40" height="1.39" fill="#454dab"/><rect x="523.42" y="173.29" width="1.40" height="1.39" fill="#ebeef9"/><rect x="524.82" y="173.29" width="1.40" height="1.39" fill="#bfc5ea"/><rect x="526.22" y="173.29" width="1.40" height="1.39" fill="#f2f4fb"/><rect x="527.62" y="173.29" width="1.40" height="1.39" fill="#fffefa"/><rect x="529.01" y="173.29" width="1.40" height="1.39" fill="#8791d4"/><rect x="530.41" y="173.29" width="1.40" height="1.39" fill="#d0d6f1"/><rect x="531.81" y="173.29" width="1.40" height="1.39" fill="#faec90"/><rect x="533.21" y="173.29" width="1.40" height="1.39" fill="#e6eaf8"/><rect x="534.61" y="173.29" width="1.40" height="1.39" fill="#acb4e3"/><rect x="536.00" y="173.29" width="1.40" height="1.39" fill="#eaedf9"/><rect x="481.50" y="174.68" width="1.40" height="1.39" fill="#fffbdd"/><rect x="482.90" y="174.68" width="1.40" height="1.39" fill="#fffbe3"/><rect x="484.30" y="174.68" width="1.40" height="1.39" fill="#fffad8"/><rect x="485.69" y="174.68" width="1.40" height="1.39" fill="#fffffe"/><rect x="487.09" y="174.68" width="1.40" height="1.39" fill="#f9ea86"/><rect x="488.49" y="174.68" width="1.40" height="1.39" fill="#fdfdfe"/><rect x="489.88" y="174.68" width="1.40" height="1.39" fill="#f1f3fb"/><rect x="491.28" y="174.68" width="1.40" height="1.39" fill="#fffbdd"/><rect x="492.68" y="174.68" width="1.40" height="1.39" fill="#fbed95"/><rect x="494.08" y="174.68" width="1.40" height="1.39" fill="#d2d8f1"/><rect x="495.48" y="174.68" width="1.40" height="1.39" fill="#f9e87c"/><rect x="496.87" y="174.68" width="1.40" height="1.39" fill="#c94814"/><rect x="498.27" y="174.68" width="9.78" height="1.39" fill="#b01616"/><rect x="508.05" y="174.68" width="1.40" height="1.39" fill="#e89d1d"/><rect x="509.45" y="174.68" width="1.40" height="1.39" fill="#fffdec"/><rect x="510.85" y="174.68" width="1.40" height="1.39" fill="#b8c0e8"/><rect x="512.25" y="174.68" width="1.40" height="1.39" fill="#6770c0"/><rect x="513.64" y="174.68" width="1.40" height="1.39" fill="#a6aee1"/><rect x="515.04" y="174.68" width="1.40" height="1.39" fill="#6a73c2"/><rect x="516.44" y="174.68" width="5.59" height="1.39" fill="#3236a0"/><rect x="522.03" y="174.68" width="1.40" height="1.39" fill="#3338a1"/><rect x="523.42" y="174.68" width="1.40" height="1.39" fill="#545db5"/><rect x="524.82" y="174.68" width="1.40" height="1.39" fill="#7079c6"/><rect x="526.22" y="174.68" width="1.40" height="1.39" fill="#98a1dc"/><rect x="527.62" y="174.68" width="1.40" height="1.39" fill="#c6cded"/><rect x="529.01" y="174.68" width="1.40" height="1.39" fill="#f2f3fb"/><rect x="530.41" y="174.68" width="1.40" height="1.39" fill="#f5df54"/><rect x="531.81" y="174.68" width="1.40" height="1.39" fill="#7e88ce"/><rect x="533.21" y="174.68" width="1.40" height="1.39" fill="#d8def4"/><rect x="534.61" y="174.68" width="1.40" height="1.39" fill="#fffdee"/><rect x="536.00" y="174.68" width="1.40" height="1.39" fill="#d0d5f0"/><rect x="481.50" y="176.07" width="1.40" height="1.39" fill="#fffdef"/><rect x="482.90" y="176.07" width="1.40" height="1.39" fill="#fffdf3"/><rect x="484.30" y="176.07" width="1.40" height="1.39" fill="#f4dd4b"/><rect x="485.69" y="176.07" width="1.40" height="1.39" fill="#fffad5"/><rect x="487.09" y="176.07" width="1.40" height="1.39" fill="#fff9ce"/><rect x="488.49" y="176.07" width="1.40" height="1.39" fill="#fffef7"/><rect x="489.88" y="176.07" width="1.40" height="1.39" fill="#fff7c2"/><rect x="491.28" y="176.07" width="1.40" height="1.39" fill="#fbee99"/><rect x="492.68" y="176.07" width="1.40" height="1.39" fill="#fdf4b6"/><rect x="494.08" y="176.07" width="1.40" height="1.39" fill="#f3d43f"/><rect x="495.48" y="176.07" width="1.40" height="1.39" fill="#efbf2f"/><rect x="496.87" y="176.07" width="12.58" height="1.39" fill="#b01616"/><rect x="509.45" y="176.07" width="1.40" height="1.39" fill="#d46416"/><rect x="510.85" y="176.07" width="1.40" height="1.39" fill="#f2d13d"/><rect x="512.25" y="176.07" width="1.40" height="1.39" fill="#b3bbe6"/><rect x="513.64" y="176.07" width="1.40" height="1.39" fill="#5962b8"/><rect x="515.04" y="176.07" width="1.40" height="1.39" fill="#575fb6"/><rect x="516.44" y="176.07" width="1.40" height="1.39" fill="#3236a0"/><rect x="517.84" y="176.07" width="1.40" height="1.39" fill="#3237a0"/><rect x="519.23" y="176.07" width="5.59" height="1.39" fill="#3236a0"/><rect x="524.82" y="176.07" width="1.40" height="1.39" fill="#7079c6"/><rect x="526.22" y="176.07" width="1.40" height="1.39" fill="#f8f9fd"/><rect x="527.62" y="176.07" width="1.40" height="1.39" fill="#d3d8f2"/><rect x="529.01" y="176.07" width="1.40" height="1.39" fill="#eceffa"/><rect x="530.41" y="176.07" width="1.40" height="1.39" fill="#d7ddf3"/><rect x="531.81" y="176.07" width="1.40" height="1.39" fill="#9da6dd"/><rect x="533.21" y="176.07" width="1.40" height="1.39" fill="#fef5b9"/><rect x="534.61" y="176.07" width="1.40" height="1.39" fill="#f1f3fb"/><rect x="536.00" y="176.07" width="1.40" height="1.39" fill="#f4da44"/><rect x="481.50" y="177.46" width="1.40" height="1.39" fill="#fffbdf"/><rect x="482.90" y="177.46" width="1.40" height="1.39" fill="#c6cded"/><rect x="484.30" y="177.46" width="1.40" height="1.39" fill="#fffad8"/><rect x="485.69" y="177.46" width="1.40" height="1.39" fill="#c4cbec"/><rect x="487.09" y="177.46" width="1.40" height="1.39" fill="#fef4b7"/><rect x="488.49" y="177.46" width="1.40" height="1.39" fill="#fdf4b3"/><rect x="489.88" y="177.46" width="1.40" height="1.39" fill="#eceef9"/><rect x="491.28" y="177.46" width="1.40" height="1.39" fill="#fcf0a3"/><rect x="492.68" y="177.46" width="1.40" height="1.39" fill="#f3d440"/><rect x="494.08" y="177.46" width="1.40" height="1.39" fill="#f0c130"/><rect x="495.48" y="177.46" width="1.40" height="1.39" fill="#f4dd4a"/><rect x="496.87" y="177.46" width="11.18" height="1.39" fill="#b01616"/><rect x="508.05" y="177.46" width="1.40" height="1.39" fill="#c23a15"/><rect x="509.45" y="177.46" width="1.40" height="1.39" fill="#fbee98"/><rect x="510.85" y="177.46" width="1.40" height="1.39" fill="#a8b1e2"/><rect x="512.25" y="177.46" width="1.40" height="1.39" fill="#4f57b1"/><rect x="513.64" y="177.46" width="1.40" height="1.39" fill="#aab2e2"/><rect x="515.04" y="177.46" width="9.78" height="1.39" fill="#3236a0"/><rect x="524.82" y="177.46" width="1.40" height="1.39" fill="#535bb4"/><rect x="526.22" y="177.46" width="1.40" height="1.39" fill="#abb3e2"/><rect x="527.62" y="177.46" width="1.40" height="1.39" fill="#fffefa"/><rect x="529.01" y="177.46" width="1.40" height="1.39" fill="#d3d8f2"/><rect x="530.41" y="177.46" width="1.40" height="1.39" fill="#8e98d8"/><rect x="531.81" y="177.46" width="1.40" height="1.39" fill="#f1f3fb"/><rect x="533.21" y="177.46" width="1.40" height="1.39" fill="#fafbfe"/><rect x="534.61" y="177.46" width="1.40" height="1.39" fill="#f8e570"/><rect x="536.00" y="177.46" width="1.40" height="1.39" fill="#fafbfe"/><rect x="481.50" y="178.85" width="1.40" height="1.39" fill="#fffffb"/><rect x="482.90" y="178.85" width="1.40" height="1.39" fill="#f7f8fd"/><rect x="484.30" y="178.85" width="1.40" height="1.39" fill="#fefeff"/><rect x="485.69" y="178.85" width="1.40" height="1.39" fill="#f3d742"/><rect x="487.09" y="178.85" width="1.40" height="1.39" fill="#fff9ce"/><rect x="488.49" y="178.85" width="1.40" height="1.39" fill="#fffad8"/><rect x="489.88" y="178.85" width="1.40" height="1.39" fill="#f4da44"/><rect x="491.28" y="178.85" width="1.40" height="1.39" fill="#fff9d4"/><rect x="492.68" y="178.85" width="1.40" height="1.39" fill="#fef5bb"/><rect x="494.08" y="178.85" width="1.40" height="1.39" fill="#e89e1d"/><rect x="495.48" y="178.85" width="12.58" height="1.39" fill="#b01616"/><rect x="508.05" y="178.85" width="1.40" height="1.39" fill="#d97218"/><rect x="509.45" y="178.85" width="1.40" height="1.39" fill="#e4921b"/><rect x="510.85" y="178.85" width="1.40" height="1.39" fill="#e3e7f7"/><rect x="512.25" y="178.85" width="1.40" height="1.39" fill="#5a63b8"/><rect x="513.64" y="178.85" width="1.40" height="1.39" fill="#3a40a5"/><rect x="515.04" y="178.85" width="9.78" height="1.39" fill="#3236a0"/><rect x="524.82" y="178.85" width="1.40" height="1.39" fill="#525ab3"/><rect x="526.22" y="178.85" width="1.40" height="1.39" fill="#a1aadf"/><rect x="527.62" y="178.85" width="1.40" height="1.39" fill="#bfc6ea"/><rect x="529.01" y="178.85" width="1.40" height="1.39" fill="#bdc4ea"/><rect x="530.41" y="178.85" width="1.40" height="1.39" fill="#fffffc"/><rect x="531.81" y="178.85" width="1.40" height="1.39" fill="#f8e779"/><rect x="533.21" y="178.85" width="1.40" height="1.39" fill="#fef7c2"/><rect x="534.61" y="178.85" width="1.40" height="1.39" fill="#ebeef9"/><rect x="536.00" y="178.85" width="1.40" height="1.39" fill="#fcfcfe"/><rect x="481.50" y="180.24" width="1.40" height="1.39" fill="#fff8c7"/><rect x="482.90" y="180.24" width="1.40" height="1.39" fill="#fffbe3"/><rect x="484.30" y="180.24" width="1.40" height="1.39" fill="#fffbe1"/><rect x="485.69" y="180.24" width="1.40" height="1.39" fill="#fbed94"/><rect x="487.09" y="180.24" width="1.40" height="1.39" fill="#fdf3b1"/><rect x="488.49" y="180.24" width="1.40" height="1.39" fill="#efbd2d"/><rect x="489.88" y="180.24" width="1.40" height="1.39" fill="#fff8c9"/><rect x="491.28" y="180.24" width="1.40" height="1.39" fill="#f2d23e"/><rect x="492.68" y="180.24" width="1.40" height="1.39" fill="#efba2b"/><rect x="494.08" y="180.24" width="1.40" height="1.39" fill="#c94814"/><rect x="495.48" y="180.24" width="13.97" height="1.39" fill="#b01616"/><rect x="509.45" y="180.24" width="1.40" height="1.39" fill="#e5951c"/><rect x="510.85" y="180.24" width="1.40" height="1.39" fill="#fdf2ae"/><rect x="512.25" y="180.24" width="1.40" height="1.39" fill="#f5f6fc"/><rect x="513.64" y="180.24" width="1.40" height="1.39" fill="#393fa4"/><rect x="515.04" y="180.24" width="11.18" height="1.39" fill="#3236a0"/><rect x="526.22" y="180.24" width="1.40" height="1.39" fill="#a5ade0"/><rect x="527.62" y="180.24" width="1.40" height="1.39" fill="#bcc3e9"/><rect x="529.01" y="180.24" width="1.40" height="1.39" fill="#cfd5f0"/><rect x="530.41" y="180.24" width="1.40" height="1.39" fill="#f7e46c"/><rect x="531.81" y="180.24" width="1.40" height="1.39" fill="#fffef9"/><rect x="533.21" y="180.24" width="1.40" height="1.39" fill="#98a2dc"/><rect x="534.61" y="180.24" width="1.40" height="1.39" fill="#ebeef9"/><rect x="536.00" y="180.24" width="1.40" height="1.39" fill="#f4dc48"/><rect x="481.50" y="181.63" width="1.40" height="1.39" fill="#f8f9fd"/><rect x="482.90" y="181.63" width="1.40" height="1.39" fill="#fdf2ad"/><rect x="484.30" y="181.63" width="1.40" height="1.39" fill="#fffffd"/><rect x="485.69" y="181.63" width="1.40" height="1.39" fill="#fef5b9"/><rect x="487.09" y="181.63" width="1.40" height="1.39" fill="#fffef5"/><rect x="488.49" y="181.63" width="1.40" height="1.39" fill="#e3e7f7"/><rect x="489.88" y="181.63" width="1.40" height="1.39" fill="#fffad8"/><rect x="491.28" y="181.63" width="1.40" height="1.39" fill="#fef7c2"/><rect x="492.68" y="181.63" width="1.40" height="1.39" fill="#f3d742"/><rect x="494.08" y="181.63" width="1.40" height="1.39" fill="#c23b15"/><rect x="495.48" y="181.63" width="13.97" height="1.39" fill="#b01616"/><rect x="509.45" y="181.63" width="1.40" height="1.39" fill="#f7f8fd"/><rect x="510.85" y="181.63" width="1.40" height="1.39" fill="#858fd3"/><rect x="512.25" y="181.63" width="1.40" height="1.39" fill="#626bbd"/><rect x="513.64" y="181.63" width="11.18" height="1.39" fill="#3236a0"/><rect x="524.82" y="181.63" width="1.40" height="1.39" fill="#444bab"/><rect x="526.22" y="181.63" width="1.40" height="1.39" fill="#6b74c3"/><rect x="527.62" y="181.63" width="1.40" height="1.39" fill="#f2f4fb"/><rect x="529.01" y="181.63" width="1.40" height="1.39" fill="#a6aee1"/><rect x="530.41" y="181.63" width="1.40" height="1.39" fill="#eef0fa"/><rect x="531.81" y="181.63" width="1.40" height="1.39" fill="#fffefb"/><rect x="533.21" y="181.63" width="1.40" height="1.39" fill="#c6cced"/><rect x="534.61" y="181.63" width="1.40" height="1.39" fill="#fffbdf"/><rect x="536.00" y="181.63" width="1.40" height="1.39" fill="#fef4b7"/><rect x="481.50" y="183.02" width="1.40" height="1.39" fill="#b1b8e5"/><rect x="482.90" y="183.02" width="1.40" height="1.39" fill="#fff9d4"/><rect x="484.30" y="183.02" width="1.40" height="1.39" fill="#fffdf2"/><rect x="485.69" y="183.02" width="1.40" height="1.39" fill="#fdf2ab"/><rect x="487.09" y="183.02" width="1.40" height="1.39" fill="#fffbde"/><rect x="488.49" y="183.02" width="1.40" height="1.39" fill="#f2d03d"/><rect x="489.88" y="183.02" width="1.40" height="1.39" fill="#fff9d0"/><rect x="491.28" y="183.02" width="1.40" height="1.39" fill="#fff8c9"/><rect x="492.68" y="183.02" width="1.40" height="1.39" fill="#c23a15"/><rect x="494.08" y="183.02" width="1.40" height="1.39" fill="#d25d15"/><rect x="495.48" y="183.02" width="12.58" height="1.39" fill="#b01616"/><rect x="508.05" y="183.02" width="1.40" height="1.39" fill="#c94714"/><rect x="509.45" y="183.02" width="1.40" height="1.39" fill="#f4dc48"/><rect x="510.85" y="183.02" width="1.40" height="1.39" fill="#9aa3dc"/><rect x="512.25" y="183.02" width="1.40" height="1.39" fill="#434aaa"/><rect x="513.64" y="183.02" width="11.18" height="1.39" fill="#3236a0"/><rect x="524.82" y="183.02" width="1.40" height="1.39" fill="#3b41a6"/><rect x="526.22" y="183.02" width="1.40" height="1.39" fill="#6b74c3"/><rect x="527.62" y="183.02" width="1.40" height="1.39" fill="#808ad0"/><rect x="529.01" y="183.02" width="1.40" height="1.39" fill="#fffdef"/><rect x="530.41" y="183.02" width="1.40" height="1.39" fill="#fcf1a7"/><rect x="531.81" y="183.02" width="1.40" height="1.39" fill="#fff8c7"/><rect x="533.21" y="183.02" width="1.40" height="1.39" fill="#f4dd4a"/><rect x="534.61" y="183.02" width="1.40" height="1.39" fill="#f4f6fc"/><rect x="536.00" y="183.02" width="1.40" height="1.39" fill="#b8c0e8"/><rect x="481.50" y="184.41" width="1.40" height="1.39" fill="#fffce6"/><rect x="482.90" y="184.41" width="1.40" height="1.39" fill="#fffdf2"/><rect x="484.30" y="184.41" width="1.40" height="1.39" fill="#fffbdf"/><rect x="485.69" y="184.41" width="1.40" height="1.39" fill="#fffad4"/><rect x="487.09" y="184.41" width="1.40" height="1.39" fill="#fdf2ab"/><rect x="488.49" y="184.41" width="1.40" height="1.39" fill="#fef5b9"/><rect x="489.88" y="184.41" width="1.40" height="1.39" fill="#efba2b"/><rect x="491.28" y="184.41" width="1.40" height="1.39" fill="#f7e368"/><rect x="492.68" y="184.41" width="1.40" height="1.39" fill="#b62216"/><rect x="494.08" y="184.41" width="1.40" height="1.39" fill="#d56717"/><rect x="495.48" y="184.41" width="12.58" height="1.39" fill="#b01616"/><rect x="508.05" y="184.41" width="1.40" height="1.39" fill="#cf5615"/><rect x="509.45" y="184.41" width="1.40" height="1.39" fill="#fffbe1"/><rect x="510.85" y="184.41" width="1.40" height="1.39" fill="#6d76c4"/><rect x="512.25" y="184.41" width="13.97" height="1.39" fill="#3236a0"/><rect x="526.22" y="184.41" width="1.40" height="1.39" fill="#464eac"/><rect x="527.62" y="184.41" width="1.40" height="1.39" fill="#99a2dc"/><rect x="530.41" y="184.41" width="1.40" height="1.39" fill="#dbe0f5"/><rect x="531.81" y="184.41" width="1.40" height="1.39" fill="#e8ecf9"/><rect x="533.21" y="184.41" width="1.40" height="1.39" fill="#fffce5"/><rect x="534.61" y="184.41" width="1.40" height="1.39" fill="#f3f5fc"/><rect x="536.00" y="184.41" width="1.40" height="1.39" fill="#fcefa0"/><rect x="481.50" y="185.80" width="1.40" height="1.39" fill="#f3f5fc"/><rect x="482.90" y="185.80" width="1.40" height="1.39" fill="#fcf2aa"/><rect x="484.30" y="185.80" width="1.40" height="1.39" fill="#fffad9"/><rect x="485.69" y="185.80" width="1.40" height="1.39" fill="#fbef9c"/><rect x="487.09" y="185.80" width="1.40" height="1.39" fill="#fff8c8"/><rect x="488.49" y="185.80" width="1.40" height="1.39" fill="#fdf3b1"/><rect x="489.88" y="185.80" width="1.40" height="1.39" fill="#edb124"/><rect x="491.28" y="185.80" width="1.40" height="1.39" fill="#f0c231"/><rect x="492.68" y="185.80" width="1.40" height="1.39" fill="#d56817"/><rect x="494.08" y="185.80" width="1.40" height="1.39" fill="#c33c15"/><rect x="495.48" y="185.80" width="12.58" height="1.39" fill="#b01616"/><rect x="508.05" y="185.80" width="1.40" height="1.39" fill="#e9a01d"/><rect x="509.45" y="185.80" width="1.40" height="1.39" fill="#fffdf1"/><rect x="510.85" y="185.80" width="1.40" height="1.39" fill="#bcc3e9"/><rect x="512.25" y="185.80" width="12.58" height="1.39" fill="#3236a0"/><rect x="524.82" y="185.80" width="1.40" height="1.39" fill="#3e45a7"/><rect x="526.22" y="185.80" width="1.40" height="1.39" fill="#7b85cd"/><rect x="527.62" y="185.80" width="1.40" height="1.39" fill="#575fb6"/><rect x="529.01" y="185.80" width="1.40" height="1.39" fill="#dfe4f6"/><rect x="531.81" y="185.80" width="1.40" height="1.39" fill="#eceef9"/><rect x="533.21" y="185.80" width="1.40" height="1.39" fill="#e8ebf8"/><rect x="534.61" y="185.80" width="1.40" height="1.39" fill="#d7dcf3"/><rect x="536.00" y="185.80" width="1.40" height="1.39" fill="#fcf0a5"/><rect x="481.50" y="187.19" width="1.40" height="1.39" fill="#fffce5"/><rect x="482.90" y="187.19" width="1.40" height="1.39" fill="#f2d03c"/><rect x="484.30" y="187.19" width="1.40" height="1.39" fill="#fffded"/><rect x="485.69" y="187.19" width="1.40" height="1.39" fill="#f2d13d"/><rect x="487.09" y="187.19" width="1.40" height="1.39" fill="#fdf4b4"/><rect x="488.49" y="187.19" width="1.40" height="1.39" fill="#fbee9c"/><rect x="489.88" y="187.19" width="1.40" height="1.39" fill="#fffffc"/><rect x="491.28" y="187.19" width="1.40" height="1.39" fill="#f4da44"/><rect x="492.68" y="187.19" width="1.40" height="1.39" fill="#b11916"/><rect x="494.08" y="187.19" width="1.40" height="1.39" fill="#bc2e15"/><rect x="495.48" y="187.19" width="12.58" height="1.39" fill="#b01616"/><rect x="508.05" y="187.19" width="1.40" height="1.39" fill="#f0c634"/><rect x="509.45" y="187.19" width="1.40" height="1.39" fill="#f8e676"/><rect x="510.85" y="187.19" width="15.37" height="1.39" fill="#3236a0"/><rect x="526.22" y="187.19" width="1.40" height="1.39" fill="#a7b0e1"/><rect x="527.62" y="187.19" width="1.40" height="1.39" fill="#bdc4e9"/><rect x="529.01" y="187.19" width="1.40" height="1.39" fill="#f3f4fb"/><rect x="530.41" y="187.19" width="1.40" height="1.39" fill="#f7f8fd"/><rect x="531.81" y="187.19" width="1.40" height="1.39" fill="#7b84cc"/><rect x="533.21" y="187.19" width="1.40" height="1.39" fill="#eceef9"/><rect x="534.61" y="187.19" width="1.40" height="1.39" fill="#fff9d3"/><rect x="536.00" y="187.19" width="1.40" height="1.39" fill="#a3ace0"/><rect x="481.50" y="188.58" width="1.40" height="1.39" fill="#f5de4e"/><rect x="484.30" y="188.58" width="1.40" height="1.39" fill="#fff7c3"/><rect x="485.69" y="188.58" width="1.40" height="1.39" fill="#efbf2f"/><rect x="487.09" y="188.58" width="1.40" height="1.39" fill="#fffbe3"/><rect x="488.49" y="188.58" width="1.40" height="1.39" fill="#e4931b"/><rect x="489.88" y="188.58" width="1.40" height="1.39" fill="#fff7c2"/><rect x="491.28" y="188.58" width="1.40" height="1.39" fill="#dc7b19"/><rect x="492.68" y="188.58" width="1.40" height="1.39" fill="#d76e17"/><rect x="494.08" y="188.58" width="1.40" height="1.39" fill="#be3215"/><rect x="495.48" y="188.58" width="1.40" height="1.39" fill="#b31c16"/><rect x="496.87" y="188.58" width="9.78" height="1.39" fill="#b01616"/><rect x="506.65" y="188.58" width="1.40" height="1.39" fill="#c74514"/><rect x="508.05" y="188.58" width="1.40" height="1.39" fill="#f4da45"/><rect x="509.45" y="188.58" width="1.40" height="1.39" fill="#ebeef9"/><rect x="510.85" y="188.58" width="1.40" height="1.39" fill="#464eac"/><rect x="512.25" y="188.58" width="12.58" height="1.39" fill="#3236a0"/><rect x="524.82" y="188.58" width="1.40" height="1.39" fill="#747dc8"/><rect x="526.22" y="188.58" width="1.40" height="1.39" fill="#4249a9"/><rect x="527.62" y="188.58" width="1.40" height="1.39" fill="#b7bee7"/><rect x="529.01" y="188.58" width="1.40" height="1.39" fill="#d7dcf3"/><rect x="530.41" y="188.58" width="1.40" height="1.39" fill="#e8ebf8"/><rect x="531.81" y="188.58" width="1.40" height="1.39" fill="#fffdf3"/><rect x="533.21" y="188.58" width="1.40" height="1.39" fill="#aab2e2"/><rect x="534.61" y="188.58" width="1.40" height="1.39" fill="#f4f6fc"/><rect x="536.00" y="188.58" width="1.40" height="1.39" fill="#edf0fa"/><rect x="481.50" y="189.97" width="1.40" height="1.39" fill="#fdfdfe"/><rect x="482.90" y="189.97" width="1.40" height="1.39" fill="#fbfbfe"/><rect x="484.30" y="189.97" width="1.40" height="1.39" fill="#f0c634"/><rect x="485.69" y="189.97" width="1.40" height="1.39" fill="#f9e981"/><rect x="487.09" y="189.97" width="1.40" height="1.39" fill="#fbef9d"/><rect x="488.49" y="189.97" width="1.40" height="1.39" fill="#fff8cb"/><rect x="489.88" y="189.97" width="1.40" height="1.39" fill="#fdf2ac"/><rect x="491.28" y="189.97" width="1.40" height="1.39" fill="#f5e057"/><rect x="492.68" y="189.97" width="1.40" height="1.39" fill="#dd7e19"/><rect x="494.08" y="189.97" width="1.40" height="1.39" fill="#dc7b19"/><rect x="495.48" y="189.97" width="1.40" height="1.39" fill="#d56717"/><rect x="496.87" y="189.97" width="9.78" height="1.39" fill="#b01616"/><rect x="506.65" y="189.97" width="1.40" height="1.39" fill="#e9a11d"/><rect x="508.05" y="189.97" width="1.40" height="1.39" fill="#fbed93"/><rect x="509.45" y="189.97" width="1.40" height="1.39" fill="#9ea6de"/><rect x="510.85" y="189.97" width="13.97" height="1.39" fill="#3236a0"/><rect x="524.82" y="189.97" width="1.40" height="1.39" fill="#4047a9"/><rect x="526.22" y="189.97" width="1.40" height="1.39" fill="#9fa8de"/><rect x="527.62" y="189.97" width="1.40" height="1.39" fill="#d0d6f0"/><rect x="529.01" y="189.97" width="1.40" height="1.39" fill="#ebeef9"/><rect x="530.41" y="189.97" width="1.40" height="1.39" fill="#fffceb"/><rect x="531.81" y="189.97" width="1.40" height="1.39" fill="#fffbe2"/><rect x="533.21" y="189.97" width="1.40" height="1.39" fill="#cbd1ef"/><rect x="534.61" y="189.97" width="1.40" height="1.39" fill="#fffbe1"/><rect x="536.00" y="189.97" width="1.40" height="1.39" fill="#f3d33f"/><rect x="481.50" y="191.36" width="1.40" height="1.39" fill="#fffce6"/><rect x="482.90" y="191.36" width="1.40" height="1.39" fill="#fffad6"/><rect x="484.30" y="191.36" width="1.40" height="1.39" fill="#fffef7"/><rect x="485.69" y="191.36" width="1.40" height="1.39" fill="#f8e675"/><rect x="487.09" y="191.36" width="1.40" height="1.39" fill="#fff9ce"/><rect x="488.49" y="191.36" width="1.40" height="1.39" fill="#fbed93"/><rect x="489.88" y="191.36" width="1.40" height="1.39" fill="#fcf0a5"/><rect x="491.28" y="191.36" width="1.40" height="1.39" fill="#f4dc48"/><rect x="492.68" y="191.36" width="1.40" height="1.39" fill="#dd7e19"/><rect x="494.08" y="191.36" width="1.40" height="1.39" fill="#b01616"/><rect x="495.48" y="191.36" width="1.40" height="1.39" fill="#e9a21d"/><rect x="496.87" y="191.36" width="6.99" height="1.39" fill="#b01616"/><rect x="503.86" y="191.36" width="1.40" height="1.39" fill="#bb2b15"/><rect x="505.26" y="191.36" width="1.40" height="1.39" fill="#d05815"/><rect x="506.65" y="191.36" width="1.40" height="1.39" fill="#ecab1f"/><rect x="508.05" y="191.36" width="1.40" height="1.39" fill="#fff9d3"/><rect x="509.45" y="191.36" width="1.40" height="1.39" fill="#7982cb"/><rect x="510.85" y="191.36" width="1.40" height="1.39" fill="#383da3"/><rect x="512.25" y="191.36" width="11.18" height="1.39" fill="#3236a0"/><rect x="523.42" y="191.36" width="1.40" height="1.39" fill="#3337a1"/><rect x="524.82" y="191.36" width="1.40" height="1.39" fill="#444cab"/><rect x="526.22" y="191.36" width="1.40" height="1.39" fill="#fffef5"/><rect x="527.62" y="191.36" width="1.40" height="1.39" fill="#e1e5f6"/><rect x="529.01" y="191.36" width="1.40" height="1.39" fill="#edeffa"/><rect x="530.41" y="191.36" width="1.40" height="1.39" fill="#f8f9fd"/><rect x="531.81" y="191.36" width="1.40" height="1.39" fill="#fbef9f"/><rect x="533.21" y="191.36" width="1.40" height="1.39" fill="#8690d3"/><rect x="534.61" y="191.36" width="1.40" height="1.39" fill="#f9fafd"/><rect x="536.00" y="191.36" width="1.40" height="1.39" fill="#f7f8fd"/><rect x="481.50" y="192.75" width="1.40" height="1.39" fill="#fffefb"/><rect x="482.90" y="192.75" width="1.40" height="1.39" fill="#f2d13e"/><rect x="484.30" y="192.75" width="1.40" height="1.39" fill="#c0c7eb"/><rect x="485.69" y="192.75" width="1.40" height="1.39" fill="#fffbde"/><rect x="487.09" y="192.75" width="1.40" height="1.39" fill="#fff9cf"/><rect x="488.49" y="192.75" width="1.40" height="1.39" fill="#fbee98"/><rect x="489.88" y="192.75" width="1.40" height="1.39" fill="#fffbe2"/><rect x="491.28" y="192.75" width="1.40" height="1.39" fill="#fffbdc"/><rect x="492.68" y="192.75" width="1.40" height="1.39" fill="#bc2d15"/><rect x="494.08" y="192.75" width="1.40" height="1.39" fill="#efbe2e"/><rect x="495.48" y="192.75" width="1.40" height="1.39" fill="#bd3115"/><rect x="496.87" y="192.75" width="4.19" height="1.39" fill="#b01616"/><rect x="501.06" y="192.75" width="1.40" height="1.39" fill="#b82515"/><rect x="502.46" y="192.75" width="1.40" height="1.39" fill="#c54015"/><rect x="503.86" y="192.75" width="1.40" height="1.39" fill="#b62216"/><rect x="505.26" y="192.75" width="1.40" height="1.39" fill="#f5df54"/><rect x="506.65" y="192.75" width="1.40" height="1.39" fill="#f1ca38"/><rect x="508.05" y="192.75" width="1.40" height="1.39" fill="#6c75c3"/><rect x="509.45" y="192.75" width="1.40" height="1.39" fill="#cbd1ef"/><rect x="510.85" y="192.75" width="1.40" height="1.39" fill="#444bab"/><rect x="512.25" y="192.75" width="12.58" height="1.39" fill="#3236a0"/><rect x="524.82" y="192.75" width="1.40" height="1.39" fill="#717ac6"/><rect x="526.22" y="192.75" width="1.40" height="1.39" fill="#4a52ae"/><rect x="527.62" y="192.75" width="1.40" height="1.39" fill="#cdd3ef"/><rect x="529.01" y="192.75" width="1.40" height="1.39" fill="#6770c0"/><rect x="530.41" y="192.75" width="1.40" height="1.39" fill="#e3e7f7"/><rect x="531.81" y="192.75" width="1.40" height="1.39" fill="#dee3f6"/><rect x="533.21" y="192.75" width="1.40" height="1.39" fill="#f4da44"/><rect x="534.61" y="192.75" width="1.40" height="1.39" fill="#fffad4"/><rect x="536.00" y="192.75" width="1.40" height="1.39" fill="#fff8ca"/><rect x="481.50" y="194.14" width="1.40" height="1.39" fill="#a2abdf"/><rect x="482.90" y="194.14" width="1.40" height="1.39" fill="#fdfdfe"/><rect x="484.30" y="194.14" width="1.40" height="1.39" fill="#fffef8"/><rect x="485.69" y="194.14" width="1.40" height="1.39" fill="#fffef5"/><rect x="487.09" y="194.14" width="1.40" height="1.39" fill="#fff8c7"/><rect x="488.49" y="194.14" width="1.40" height="1.39" fill="#f0c534"/><rect x="489.88" y="194.14" width="1.40" height="1.39" fill="#fff7c4"/><rect x="491.28" y="194.14" width="1.40" height="1.39" fill="#f7e366"/><rect x="492.68" y="194.14" width="1.40" height="1.39" fill="#f9e87e"/><rect x="494.08" y="194.14" width="1.40" height="1.39" fill="#f1c635"/><rect x="495.48" y="194.14" width="1.40" height="1.39" fill="#e5951c"/><rect x="496.87" y="194.14" width="1.40" height="1.39" fill="#c13715"/><rect x="498.27" y="194.14" width="1.40" height="1.39" fill="#edb022"/><rect x="499.67" y="194.14" width="1.40" height="1.39" fill="#e9a21d"/><rect x="501.06" y="194.14" width="1.40" height="1.39" fill="#b41e16"/><rect x="502.46" y="194.14" width="1.40" height="1.39" fill="#c13815"/><rect x="503.86" y="194.14" width="1.40" height="1.39" fill="#cc4e14"/><rect x="505.26" y="194.14" width="1.40" height="1.39" fill="#f0c433"/><rect x="506.65" y="194.14" width="1.40" height="1.39" fill="#edb325"/><rect x="508.05" y="194.14" width="1.40" height="1.39" fill="#c4cbec"/><rect x="509.45" y="194.14" width="1.40" height="1.39" fill="#a0a9de"/><rect x="510.85" y="194.14" width="1.40" height="1.39" fill="#373ca3"/><rect x="512.25" y="194.14" width="11.18" height="1.39" fill="#3236a0"/><rect x="523.42" y="194.14" width="1.40" height="1.39" fill="#383da4"/><rect x="524.82" y="194.14" width="1.40" height="1.39" fill="#3b41a5"/><rect x="526.22" y="194.14" width="1.40" height="1.39" fill="#dadff4"/><rect x="527.62" y="194.14" width="1.40" height="1.39" fill="#eff1fa"/><rect x="529.01" y="194.14" width="1.40" height="1.39" fill="#565fb6"/><rect x="530.41" y="194.14" width="1.40" height="1.39" fill="#c5cbec"/><rect x="531.81" y="194.14" width="1.40" height="1.39" fill="#dde2f5"/><rect x="533.21" y="194.14" width="1.40" height="1.39" fill="#fafbfe"/><rect x="534.61" y="194.14" width="1.40" height="1.39" fill="#fffef4"/><rect x="536.00" y="194.14" width="1.40" height="1.39" fill="#f7e56f"/><rect x="481.50" y="195.53" width="1.40" height="1.39" fill="#e9a11d"/><rect x="482.90" y="195.53" width="1.40" height="1.39" fill="#fffad4"/><rect x="484.30" y="195.53" width="1.40" height="1.39" fill="#fffceb"/><rect x="485.69" y="195.53" width="1.40" height="1.39" fill="#f9fafd"/><rect x="487.09" y="195.53" width="1.40" height="1.39" fill="#fcefa0"/><rect x="488.49" y="195.53" width="1.40" height="1.39" fill="#f9fafd"/><rect x="489.88" y="195.53" width="1.40" height="1.39" fill="#fff7c4"/><rect x="491.28" y="195.53" width="1.40" height="1.39" fill="#fffded"/><rect x="492.68" y="195.53" width="1.40" height="1.39" fill="#efbe2e"/><rect x="494.08" y="195.53" width="1.40" height="1.39" fill="#f5dd4c"/><rect x="495.48" y="195.53" width="1.40" height="1.39" fill="#f1c937"/><rect x="496.87" y="195.53" width="1.40" height="1.39" fill="#eeb92a"/><rect x="498.27" y="195.53" width="1.40" height="1.39" fill="#d76d17"/><rect x="499.67" y="195.53" width="1.40" height="1.39" fill="#ecac20"/><rect x="501.06" y="195.53" width="1.40" height="1.39" fill="#e89f1d"/><rect x="502.46" y="195.53" width="1.40" height="1.39" fill="#f1c635"/><rect x="503.86" y="195.53" width="1.40" height="1.39" fill="#e0881a"/><rect x="505.26" y="195.53" width="1.40" height="1.39" fill="#f6e15c"/><rect x="506.65" y="195.53" width="1.40" height="1.39" fill="#fff9ce"/><rect x="508.05" y="195.53" width="1.40" height="1.39" fill="#fffbe2"/><rect x="509.45" y="195.53" width="1.40" height="1.39" fill="#98a1db"/><rect x="510.85" y="195.53" width="1.40" height="1.39" fill="#444bab"/><rect x="512.25" y="195.53" width="11.18" height="1.39" fill="#3236a0"/><rect x="523.42" y="195.53" width="1.40" height="1.39" fill="#4d55b0"/><rect x="524.82" y="195.53" width="1.40" height="1.39" fill="#6a73c2"/><rect x="526.22" y="195.53" width="1.40" height="1.39" fill="#fffce5"/><rect x="527.62" y="195.53" width="1.40" height="1.39" fill="#eceef9"/><rect x="529.01" y="195.53" width="1.40" height="1.39" fill="#fffad6"/><rect x="530.41" y="195.53" width="1.40" height="1.39" fill="#f5f6fc"/><rect x="531.81" y="195.53" width="1.40" height="1.39" fill="#fff9d2"/><rect x="533.21" y="195.53" width="1.40" height="1.39" fill="#fcfdfe"/><rect x="534.61" y="195.53" width="1.40" height="1.39" fill="#d7dcf3"/><rect x="536.00" y="195.53" width="1.40" height="1.39" fill="#fafbfe"/><rect x="481.50" y="196.92" width="1.40" height="1.39" fill="#fffded"/><rect x="482.90" y="196.92" width="1.40" height="1.39" fill="#ccd2ef"/><rect x="484.30" y="196.92" width="1.40" height="1.39" fill="#fffbe0"/><rect x="485.69" y="196.92" width="1.40" height="1.39" fill="#fff9d3"/><rect x="487.09" y="196.92" width="1.40" height="1.39" fill="#f7e469"/><rect x="488.49" y="196.92" width="1.40" height="1.39" fill="#fffcea"/><rect x="489.88" y="196.92" width="1.40" height="1.39" fill="#f5de4e"/><rect x="491.28" y="196.92" width="1.40" height="1.39" fill="#f5df53"/><rect x="492.68" y="196.92" width="1.40" height="1.39" fill="#fdf2ab"/><rect x="494.08" y="196.92" width="1.40" height="1.39" fill="#fff8ca"/><rect x="495.48" y="196.92" width="1.40" height="1.39" fill="#f2cd3a"/><rect x="496.87" y="196.92" width="1.40" height="1.39" fill="#efbe2e"/><rect x="498.27" y="196.92" width="1.40" height="1.39" fill="#df831a"/><rect x="499.67" y="196.92" width="1.40" height="1.39" fill="#fffceb"/><rect x="501.06" y="196.92" width="1.40" height="1.39" fill="#ce5414"/><rect x="502.46" y="196.92" width="1.40" height="1.39" fill="#f6e05a"/><rect x="503.86" y="196.92" width="1.40" height="1.39" fill="#f7e46b"/><rect x="505.26" y="196.92" width="1.40" height="1.39" fill="#fffdf3"/><rect x="506.65" y="196.92" width="1.40" height="1.39" fill="#f1cb39"/><rect x="508.05" y="196.92" width="1.40" height="1.39" fill="#8992d5"/><rect x="509.45" y="196.92" width="1.40" height="1.39" fill="#b4bce6"/><rect x="510.85" y="196.92" width="1.40" height="1.39" fill="#939dda"/><rect x="512.25" y="196.92" width="9.78" height="1.39" fill="#3236a0"/><rect x="522.03" y="196.92" width="1.40" height="1.39" fill="#535bb4"/><rect x="523.42" y="196.92" width="1.40" height="1.39" fill="#6770c0"/><rect x="524.82" y="196.92" width="1.40" height="1.39" fill="#6d76c4"/><rect x="526.22" y="196.92" width="1.40" height="1.39" fill="#dadff4"/><rect x="527.62" y="196.92" width="1.40" height="1.39" fill="#e5e9f8"/><rect x="529.01" y="196.92" width="1.40" height="1.39" fill="#fffce7"/><rect x="530.41" y="196.92" width="1.40" height="1.39" fill="#fdf4b6"/><rect x="531.81" y="196.92" width="1.40" height="1.39" fill="#fcfcfe"/><rect x="533.21" y="196.92" width="1.40" height="1.39" fill="#f1c635"/><rect x="534.61" y="196.92" width="1.40" height="1.39" fill="#fffdee"/><rect x="536.00" y="196.92" width="1.40" height="1.39" fill="#eaedf9"/><rect x="481.50" y="198.31" width="1.40" height="1.39" fill="#f2cd3a"/><rect x="482.90" y="198.31" width="1.40" height="1.39" fill="#fef7c2"/><rect x="484.30" y="198.31" width="1.40" height="1.39" fill="#edb224"/><rect x="485.69" y="198.31" width="1.40" height="1.39" fill="#bac1e8"/><rect x="487.09" y="198.31" width="1.40" height="1.39" fill="#fffbdc"/><rect x="488.49" y="198.31" width="1.40" height="1.39" fill="#f5f6fc"/><rect x="489.88" y="198.31" width="1.40" height="1.39" fill="#fffef7"/><rect x="491.28" y="198.31" width="1.40" height="1.39" fill="#f5f7fc"/><rect x="492.68" y="198.31" width="1.40" height="1.39" fill="#fff7c3"/><rect x="494.08" y="198.31" width="1.40" height="1.39" fill="#faec92"/><rect x="495.48" y="198.31" width="1.40" height="1.39" fill="#f9e981"/><rect x="496.87" y="198.31" width="1.40" height="1.39" fill="#eeb527"/><rect x="498.27" y="198.31" width="1.40" height="1.39" fill="#fdf3b0"/><rect x="499.67" y="198.31" width="1.40" height="1.39" fill="#d9dff4"/><rect x="501.06" y="198.31" width="1.40" height="1.39" fill="#e3901b"/><rect x="502.46" y="198.31" width="1.40" height="1.39" fill="#f2ce3b"/><rect x="503.86" y="198.31" width="1.40" height="1.39" fill="#c6cced"/><rect x="505.26" y="198.31" width="1.40" height="1.39" fill="#fff8ca"/><rect x="506.65" y="198.31" width="1.40" height="1.39" fill="#efbe2e"/><rect x="508.05" y="198.31" width="1.40" height="1.39" fill="#fefeff"/><rect x="509.45" y="198.31" width="1.40" height="1.39" fill="#adb5e3"/><rect x="510.85" y="198.31" width="1.40" height="1.39" fill="#abb3e2"/><rect x="512.25" y="198.31" width="1.40" height="1.39" fill="#3a40a5"/><rect x="513.64" y="198.31" width="1.40" height="1.39" fill="#4a52ae"/><rect x="515.04" y="198.31" width="4.19" height="1.39" fill="#3236a0"/><rect x="519.23" y="198.31" width="1.40" height="1.39" fill="#3338a1"/><rect x="520.63" y="198.31" width="1.40" height="1.39" fill="#363ba3"/><rect x="522.03" y="198.31" width="1.40" height="1.39" fill="#3539a2"/><rect x="523.42" y="198.31" width="1.40" height="1.39" fill="#a4ace0"/><rect x="524.82" y="198.31" width="1.40" height="1.39" fill="#fffffd"/><rect x="526.22" y="198.31" width="1.40" height="1.39" fill="#808ad0"/><rect x="527.62" y="198.31" width="1.40" height="1.39" fill="#fffffc"/><rect x="529.01" y="198.31" width="1.40" height="1.39" fill="#cbd1ef"/><rect x="530.41" y="198.31" width="1.40" height="1.39" fill="#8892d4"/><rect x="531.81" y="198.31" width="1.40" height="1.39" fill="#f7f9fd"/><rect x="533.21" y="198.31" width="1.40" height="1.39" fill="#f7e56e"/><rect x="534.61" y="198.31" width="1.40" height="1.39" fill="#9ea7de"/><rect x="536.00" y="198.31" width="1.40" height="1.39" fill="#d9dff4"/><rect x="481.50" y="199.70" width="1.40" height="1.39" fill="#fffffd"/><rect x="482.90" y="199.70" width="1.40" height="1.39" fill="#fffefa"/><rect x="484.30" y="199.70" width="1.40" height="1.39" fill="#fbee99"/><rect x="485.69" y="199.70" width="1.40" height="1.39" fill="#f2d23e"/><rect x="487.09" y="199.70" width="1.40" height="1.39" fill="#fffef5"/><rect x="488.49" y="199.70" width="1.40" height="1.39" fill="#f3d541"/><rect x="489.88" y="199.70" width="1.40" height="1.39" fill="#fdf3b1"/><rect x="491.28" y="199.70" width="1.40" height="1.39" fill="#fff8c8"/><rect x="492.68" y="199.70" width="1.40" height="1.39" fill="#ced4f0"/><rect x="494.08" y="199.70" width="1.40" height="1.39" fill="#fffef8"/><rect x="495.48" y="199.70" width="1.40" height="1.39" fill="#f4dd49"/><rect x="496.87" y="199.70" width="1.40" height="1.39" fill="#f2cd3a"/><rect x="498.27" y="199.70" width="1.40" height="1.39" fill="#f6e15d"/><rect x="499.67" y="199.70" width="1.40" height="1.39" fill="#fcf1a8"/><rect x="501.06" y="199.70" width="1.40" height="1.39" fill="#f1cc39"/><rect x="502.46" y="199.70" width="1.40" height="1.39" fill="#fff8c7"/><rect x="503.86" y="199.70" width="1.40" height="1.39" fill="#f0c231"/><rect x="505.26" y="199.70" width="1.40" height="1.39" fill="#fffbe3"/><rect x="506.65" y="199.70" width="1.40" height="1.39" fill="#fff8cc"/><rect x="508.05" y="199.70" width="1.40" height="1.39" fill="#ebeef9"/><rect x="509.45" y="199.70" width="1.40" height="1.39" fill="#fffce4"/><rect x="510.85" y="199.70" width="1.40" height="1.39" fill="#959eda"/><rect x="512.25" y="199.70" width="1.40" height="1.39" fill="#5c65b9"/><rect x="513.64" y="199.70" width="1.40" height="1.39" fill="#3438a1"/><rect x="515.04" y="199.70" width="1.40" height="1.39" fill="#3236a0"/><rect x="516.44" y="199.70" width="1.40" height="1.39" fill="#3337a1"/><rect x="517.84" y="199.70" width="1.40" height="1.39" fill="#3236a0"/><rect x="519.23" y="199.70" width="1.40" height="1.39" fill="#4149a9"/><rect x="520.63" y="199.70" width="1.40" height="1.39" fill="#a7b0e1"/><rect x="522.03" y="199.70" width="1.40" height="1.39" fill="#848ed2"/><rect x="523.42" y="199.70" width="1.40" height="1.39" fill="#abb3e2"/><rect x="524.82" y="199.70" width="1.40" height="1.39" fill="#eff1fa"/><rect x="526.22" y="199.70" width="1.40" height="1.39" fill="#d7dcf3"/><rect x="527.62" y="199.70" width="1.40" height="1.39" fill="#fdf2ab"/><rect x="529.01" y="199.70" width="1.40" height="1.39" fill="#d9def4"/><rect x="530.41" y="199.70" width="1.40" height="1.39" fill="#eef0fa"/><rect x="531.81" y="199.70" width="1.40" height="1.39" fill="#fffef9"/><rect x="533.21" y="199.70" width="1.40" height="1.39" fill="#f2f3fb"/><rect x="534.61" y="199.70" width="1.40" height="1.39" fill="#fff9cd"/><rect x="536.00" y="199.70" width="1.40" height="1.39" fill="#8892d4"/><rect x="481.50" y="201.09" width="1.40" height="1.39" fill="#dfe4f6"/><rect x="482.90" y="201.09" width="1.40" height="1.39" fill="#f3d641"/><rect x="484.30" y="201.09" width="1.40" height="1.39" fill="#f9e982"/><rect x="485.69" y="201.09" width="1.40" height="1.39" fill="#fff8ca"/><rect x="487.09" y="201.09" width="1.40" height="1.39" fill="#f1f3fb"/><rect x="488.49" y="201.09" width="1.40" height="1.39" fill="#cbd1ef"/><rect x="489.88" y="201.09" width="1.40" height="1.39" fill="#fffce9"/><rect x="491.28" y="201.09" width="1.40" height="1.39" fill="#fffef9"/><rect x="492.68" y="201.09" width="1.40" height="1.39" fill="#fff9d2"/><rect x="494.08" y="201.09" width="1.40" height="1.39" fill="#fdf2ad"/><rect x="495.48" y="201.09" width="1.40" height="1.39" fill="#fdf2ae"/><rect x="496.87" y="201.09" width="1.40" height="1.39" fill="#f8e779"/><rect x="498.27" y="201.09" width="1.40" height="1.39" fill="#f7e367"/><rect x="499.67" y="201.09" width="1.40" height="1.39" fill="#ecad20"/><rect x="501.06" y="201.09" width="1.40" height="1.39" fill="#f0c231"/><rect x="502.46" y="201.09" width="1.40" height="1.39" fill="#eba81e"/><rect x="503.86" y="201.09" width="1.40" height="1.39" fill="#fff9cf"/><rect x="505.26" y="201.09" width="1.40" height="1.39" fill="#fbef9e"/><rect x="506.65" y="201.09" width="1.40" height="1.39" fill="#f4dc46"/><rect x="508.05" y="201.09" width="1.40" height="1.39" fill="#fffce4"/><rect x="509.45" y="201.09" width="1.40" height="1.39" fill="#8d96d7"/><rect x="510.85" y="201.09" width="1.40" height="1.39" fill="#a0a9de"/><rect x="512.25" y="201.09" width="1.40" height="1.39" fill="#666fc0"/><rect x="513.64" y="201.09" width="1.40" height="1.39" fill="#8f99d8"/><rect x="515.04" y="201.09" width="1.40" height="1.39" fill="#8993d5"/><rect x="516.44" y="201.09" width="1.40" height="1.39" fill="#454dab"/><rect x="517.84" y="201.09" width="1.40" height="1.39" fill="#828cd1"/><rect x="519.23" y="201.09" width="1.40" height="1.39" fill="#b3bbe6"/><rect x="520.63" y="201.09" width="1.40" height="1.39" fill="#7d86ce"/><rect x="522.03" y="201.09" width="1.40" height="1.39" fill="#4b53af"/><rect x="523.42" y="201.09" width="1.40" height="1.39" fill="#d8def4"/><rect x="524.82" y="201.09" width="1.40" height="1.39" fill="#d3d9f2"/><rect x="526.22" y="201.09" width="1.40" height="1.39" fill="#dde2f5"/><rect x="527.62" y="201.09" width="1.40" height="1.39" fill="#fbfbfe"/><rect x="529.01" y="201.09" width="1.40" height="1.39" fill="#f4dc47"/><rect x="531.81" y="201.09" width="1.40" height="1.39" fill="#fffce9"/><rect x="533.21" y="201.09" width="1.40" height="1.39" fill="#fcfdfe"/><rect x="534.61" y="201.09" width="1.40" height="1.39" fill="#fffce9"/><rect x="536.00" y="201.09" width="1.40" height="1.39" fill="#fafbfe"/><rect x="481.50" y="202.48" width="1.40" height="1.39" fill="#e8ebf8"/><rect x="482.90" y="202.48" width="1.40" height="1.39" fill="#fff8c6"/><rect x="484.30" y="202.48" width="1.40" height="1.39" fill="#fffbde"/><rect x="485.69" y="202.48" width="1.40" height="1.39" fill="#fffbe3"/><rect x="487.09" y="202.48" width="1.40" height="1.39" fill="#f0c634"/><rect x="488.49" y="202.48" width="1.40" height="1.39" fill="#fffce8"/><rect x="489.88" y="202.48" width="1.40" height="1.39" fill="#fdf3af"/><rect x="491.28" y="202.48" width="1.40" height="1.39" fill="#fdf2ab"/><rect x="492.68" y="202.48" width="1.40" height="1.39" fill="#eeb92a"/><rect x="494.08" y="202.48" width="1.40" height="1.39" fill="#97a0db"/><rect x="495.48" y="202.48" width="1.40" height="1.39" fill="#dfe3f6"/><rect x="496.87" y="202.48" width="1.40" height="1.39" fill="#fffad9"/><rect x="498.27" y="202.48" width="1.40" height="1.39" fill="#fff9d0"/><rect x="499.67" y="202.48" width="1.40" height="1.39" fill="#fffef4"/><rect x="501.06" y="202.48" width="1.40" height="1.39" fill="#fffbdf"/><rect x="502.46" y="202.48" width="1.40" height="1.39" fill="#fffbe2"/><rect x="503.86" y="202.48" width="1.40" height="1.39" fill="#fffad8"/><rect x="505.26" y="202.48" width="1.40" height="1.39" fill="#b3bae5"/><rect x="506.65" y="202.48" width="1.40" height="1.39" fill="#fcf2aa"/><rect x="508.05" y="202.48" width="1.40" height="1.39" fill="#f5df54"/><rect x="509.45" y="202.48" width="1.40" height="1.39" fill="#7780ca"/><rect x="510.85" y="202.48" width="1.40" height="1.39" fill="#ced3f0"/><rect x="512.25" y="202.48" width="1.40" height="1.39" fill="#fff9d0"/><rect x="513.64" y="202.48" width="1.40" height="1.39" fill="#868fd3"/><rect x="515.04" y="202.48" width="1.40" height="1.39" fill="#9fa7de"/><rect x="516.44" y="202.48" width="1.40" height="1.39" fill="#666fc0"/><rect x="517.84" y="202.48" width="1.40" height="1.39" fill="#fafafd"/><rect x="519.23" y="202.48" width="1.40" height="1.39" fill="#a8b0e2"/><rect x="520.63" y="202.48" width="1.40" height="1.39" fill="#6e77c5"/><rect x="522.03" y="202.48" width="1.40" height="1.39" fill="#9da6dd"/><rect x="523.42" y="202.48" width="1.40" height="1.39" fill="#f5f6fc"/><rect x="524.82" y="202.48" width="1.40" height="1.39" fill="#dce1f5"/><rect x="526.22" y="202.48" width="1.40" height="1.39" fill="#fff9d3"/><rect x="527.62" y="202.48" width="1.40" height="1.39" fill="#fbee9b"/><rect x="529.01" y="202.48" width="1.40" height="1.39" fill="#dfe4f6"/><rect x="530.41" y="202.48" width="1.40" height="1.39" fill="#fffef6"/><rect x="531.81" y="202.48" width="1.40" height="1.39" fill="#dde2f5"/><rect x="533.21" y="202.48" width="1.40" height="1.39" fill="#fbfcfe"/><rect x="534.61" y="202.48" width="1.40" height="1.39" fill="#7c85cd"/><rect x="536.00" y="202.48" width="1.40" height="1.39" fill="#9ba4dd"/><rect x="481.50" y="203.87" width="1.40" height="1.39" fill="#fffbe0"/><rect x="482.90" y="203.87" width="1.40" height="1.39" fill="#fffdf2"/><rect x="485.69" y="203.87" width="1.40" height="1.39" fill="#fff9d0"/><rect x="487.09" y="203.87" width="1.40" height="1.39" fill="#fef5bb"/><rect x="488.49" y="203.87" width="1.40" height="1.39" fill="#f3d33f"/><rect x="489.88" y="203.87" width="1.40" height="1.39" fill="#b0b8e5"/><rect x="491.28" y="203.87" width="1.40" height="1.39" fill="#fef5bc"/><rect x="492.68" y="203.87" width="1.40" height="1.39" fill="#b7bee7"/><rect x="494.08" y="203.87" width="1.40" height="1.39" fill="#fef6bd"/><rect x="495.48" y="203.87" width="1.40" height="1.39" fill="#fef5bb"/><rect x="496.87" y="203.87" width="1.40" height="1.39" fill="#fffada"/><rect x="498.27" y="203.87" width="1.40" height="1.39" fill="#d6dbf3"/><rect x="499.67" y="203.87" width="1.40" height="1.39" fill="#f4dd4b"/><rect x="501.06" y="203.87" width="1.40" height="1.39" fill="#f6e260"/><rect x="502.46" y="203.87" width="1.40" height="1.39" fill="#dce1f5"/><rect x="503.86" y="203.87" width="1.40" height="1.39" fill="#f5de4f"/><rect x="505.26" y="203.87" width="1.40" height="1.39" fill="#fffdec"/><rect x="506.65" y="203.87" width="1.40" height="1.39" fill="#f7e264"/><rect x="508.05" y="203.87" width="1.40" height="1.39" fill="#fbee9b"/><rect x="509.45" y="203.87" width="1.40" height="1.39" fill="#d9dff4"/><rect x="510.85" y="203.87" width="1.40" height="1.39" fill="#fafafd"/><rect x="512.25" y="203.87" width="1.40" height="1.39" fill="#c1c8eb"/><rect x="513.64" y="203.87" width="1.40" height="1.39" fill="#f4f5fc"/><rect x="515.04" y="203.87" width="1.40" height="1.39" fill="#c3c9ec"/><rect x="516.44" y="203.87" width="1.40" height="1.39" fill="#a6afe1"/><rect x="517.84" y="203.87" width="1.40" height="1.39" fill="#eff1fa"/><rect x="519.23" y="203.87" width="1.40" height="1.39" fill="#f1f3fb"/><rect x="520.63" y="203.87" width="1.40" height="1.39" fill="#fef6be"/><rect x="522.03" y="203.87" width="1.40" height="1.39" fill="#bbc2e9"/><rect x="523.42" y="203.87" width="1.40" height="1.39" fill="#e6eaf8"/><rect x="524.82" y="203.87" width="1.40" height="1.39" fill="#fafbfe"/><rect x="526.22" y="203.87" width="1.40" height="1.39" fill="#e6eaf8"/><rect x="527.62" y="203.87" width="1.40" height="1.39" fill="#f4f5fc"/><rect x="529.01" y="203.87" width="1.40" height="1.39" fill="#f4f6fc"/><rect x="530.41" y="203.87" width="1.40" height="1.39" fill="#eef1fa"/><rect x="531.81" y="203.87" width="1.40" height="1.39" fill="#f6f7fc"/><rect x="533.21" y="203.87" width="1.40" height="1.39" fill="#d3d9f2"/><rect x="534.61" y="203.87" width="1.40" height="1.39" fill="#f5f7fc"/><rect x="536.00" y="203.87" width="1.40" height="1.39" fill="#dadff4"/><rect x="481.50" y="205.26" width="1.40" height="1.39" fill="#fdf3b3"/><rect x="482.90" y="205.26" width="1.40" height="1.39" fill="#f3d843"/><rect x="484.30" y="205.26" width="1.40" height="1.39" fill="#ebeef9"/><rect x="485.69" y="205.26" width="1.40" height="1.39" fill="#fffbdd"/><rect x="487.09" y="205.26" width="1.40" height="1.39" fill="#f4db45"/><rect x="488.49" y="205.26" width="1.40" height="1.39" fill="#faec90"/><rect x="489.88" y="205.26" width="1.40" height="1.39" fill="#fcfcfe"/><rect x="491.28" y="205.26" width="1.40" height="1.39" fill="#f7f8fd"/><rect x="492.68" y="205.26" width="1.40" height="1.39" fill="#fffceb"/><rect x="494.08" y="205.26" width="1.40" height="1.39" fill="#fffada"/><rect x="495.48" y="205.26" width="1.40" height="1.39" fill="#fff9d0"/><rect x="496.87" y="205.26" width="1.40" height="1.39" fill="#fcefa0"/><rect x="498.27" y="205.26" width="1.40" height="1.39" fill="#fdf3b1"/><rect x="499.67" y="205.26" width="1.40" height="1.39" fill="#fef7c2"/><rect x="501.06" y="205.26" width="1.40" height="1.39" fill="#f3d943"/><rect x="502.46" y="205.26" width="1.40" height="1.39" fill="#fff9d2"/><rect x="503.86" y="205.26" width="1.40" height="1.39" fill="#fffbe3"/><rect x="505.26" y="205.26" width="1.40" height="1.39" fill="#d8def4"/><rect x="506.65" y="205.26" width="1.40" height="1.39" fill="#f4f6fc"/><rect x="508.05" y="205.26" width="1.40" height="1.39" fill="#fbfbfe"/><rect x="509.45" y="205.26" width="1.40" height="1.39" fill="#f2f4fb"/><rect x="510.85" y="205.26" width="1.40" height="1.39" fill="#d3d9f2"/><rect x="512.25" y="205.26" width="1.40" height="1.39" fill="#e8ecf9"/><rect x="513.64" y="205.26" width="1.40" height="1.39" fill="#949dda"/><rect x="515.04" y="205.26" width="1.40" height="1.39" fill="#d5dbf2"/><rect x="516.44" y="205.26" width="1.40" height="1.39" fill="#9ba4dd"/><rect x="517.84" y="205.26" width="1.40" height="1.39" fill="#fffdec"/><rect x="519.23" y="205.26" width="1.40" height="1.39" fill="#c2c9eb"/><rect x="520.63" y="205.26" width="1.40" height="1.39" fill="#e1e5f6"/><rect x="522.03" y="205.26" width="1.40" height="1.39" fill="#eceffa"/><rect x="523.42" y="205.26" width="1.40" height="1.39" fill="#fef6c0"/><rect x="524.82" y="205.26" width="1.40" height="1.39" fill="#e7eaf8"/><rect x="526.22" y="205.26" width="1.40" height="1.39" fill="#c8ceed"/><rect x="527.62" y="205.26" width="1.40" height="1.39" fill="#e6e9f8"/><rect x="529.01" y="205.26" width="1.40" height="1.39" fill="#fffef8"/><rect x="530.41" y="205.26" width="1.40" height="1.39" fill="#c9cfee"/><rect x="531.81" y="205.26" width="1.40" height="1.39" fill="#f9e87f"/><rect x="533.21" y="205.26" width="1.40" height="1.39" fill="#f4f5fc"/><rect x="534.61" y="205.26" width="1.40" height="1.39" fill="#fbfcfe"/><rect x="536.00" y="205.26" width="1.40" height="1.39" fill="#faea89"/><rect x="481.50" y="206.65" width="1.40" height="1.39" fill="#fffad6"/><rect x="482.90" y="206.65" width="1.40" height="1.39" fill="#efbe2e"/><rect x="484.30" y="206.65" width="1.40" height="1.39" fill="#fbee9a"/><rect x="485.69" y="206.65" width="1.40" height="1.39" fill="#e79c1c"/><rect x="487.09" y="206.65" width="1.40" height="1.39" fill="#fff8c6"/><rect x="488.49" y="206.65" width="1.40" height="1.39" fill="#fbef9e"/><rect x="489.88" y="206.65" width="1.40" height="1.39" fill="#f3d843"/><rect x="491.28" y="206.65" width="1.40" height="1.39" fill="#fffce4"/><rect x="492.68" y="206.65" width="1.40" height="1.39" fill="#f9e983"/><rect x="494.08" y="206.65" width="1.40" height="1.39" fill="#cdd3f0"/><rect x="495.48" y="206.65" width="1.40" height="1.39" fill="#efba2b"/><rect x="496.87" y="206.65" width="1.40" height="1.39" fill="#f5df54"/><rect x="498.27" y="206.65" width="1.40" height="1.39" fill="#fef5b9"/><rect x="499.67" y="206.65" width="1.40" height="1.39" fill="#e9ecf9"/><rect x="501.06" y="206.65" width="1.40" height="1.39" fill="#fff9cd"/><rect x="502.46" y="206.65" width="1.40" height="1.39" fill="#fffbdc"/><rect x="503.86" y="206.65" width="1.40" height="1.39" fill="#f7e369"/><rect x="505.26" y="206.65" width="1.40" height="1.39" fill="#f5de4f"/><rect x="506.65" y="206.65" width="1.40" height="1.39" fill="#f2cd3a"/><rect x="508.05" y="206.65" width="1.40" height="1.39" fill="#faea89"/><rect x="509.45" y="206.65" width="1.40" height="1.39" fill="#e3e7f7"/><rect x="510.85" y="206.65" width="1.40" height="1.39" fill="#fffef6"/><rect x="512.25" y="206.65" width="1.40" height="1.39" fill="#e6e9f8"/><rect x="513.64" y="206.65" width="1.40" height="1.39" fill="#f2f4fb"/><rect x="515.04" y="206.65" width="1.40" height="1.39" fill="#fdfdfe"/><rect x="516.44" y="206.65" width="1.40" height="1.39" fill="#fffef5"/><rect x="517.84" y="206.65" width="1.40" height="1.39" fill="#a3ace0"/><rect x="519.23" y="206.65" width="1.40" height="1.39" fill="#dfe4f6"/><rect x="520.63" y="206.65" width="1.40" height="1.39" fill="#f6f8fd"/><rect x="522.03" y="206.65" width="1.40" height="1.39" fill="#edf0fa"/><rect x="523.42" y="206.65" width="1.40" height="1.39" fill="#e3e7f7"/><rect x="524.82" y="206.65" width="1.40" height="1.39" fill="#fffefa"/><rect x="526.22" y="206.65" width="1.40" height="1.39" fill="#6f78c5"/><rect x="527.62" y="206.65" width="1.40" height="1.39" fill="#cad0ee"/><rect x="529.01" y="206.65" width="1.40" height="1.39" fill="#edeffa"/><rect x="530.41" y="206.65" width="1.40" height="1.39" fill="#fbfbfe"/><rect x="531.81" y="206.65" width="1.40" height="1.39" fill="#f4da44"/><rect x="533.21" y="206.65" width="1.40" height="1.39" fill="#fffef7"/><rect x="534.61" y="206.65" width="1.40" height="1.39" fill="#a6aee1"/><rect x="536.00" y="206.65" width="1.40" height="1.39" fill="#fffdef"/><rect x="481.50" y="208.04" width="1.40" height="1.39" fill="#f3d943"/><rect x="482.90" y="208.04" width="1.40" height="1.39" fill="#c4cbec"/><rect x="484.30" y="208.04" width="1.40" height="1.39" fill="#fffdf2"/><rect x="485.69" y="208.04" width="1.40" height="1.39" fill="#fbfbfe"/><rect x="487.09" y="208.04" width="1.40" height="1.39" fill="#97a0db"/><rect x="488.49" y="208.04" width="1.40" height="1.39" fill="#f8e674"/><rect x="489.88" y="208.04" width="1.40" height="1.39" fill="#f0c231"/><rect x="491.28" y="208.04" width="1.40" height="1.39" fill="#fffef4"/><rect x="492.68" y="208.04" width="1.40" height="1.39" fill="#fffdf3"/><rect x="494.08" y="208.04" width="1.40" height="1.39" fill="#fef6be"/><rect x="495.48" y="208.04" width="1.40" height="1.39" fill="#fffef3"/><rect x="496.87" y="208.04" width="1.40" height="1.39" fill="#f2cf3c"/><rect x="498.27" y="208.04" width="1.40" height="1.39" fill="#fdf3b1"/><rect x="499.67" y="208.04" width="1.40" height="1.39" fill="#fff8c9"/><rect x="501.06" y="208.04" width="1.40" height="1.39" fill="#f9e880"/><rect x="502.46" y="208.04" width="1.40" height="1.39" fill="#efc02f"/><rect x="503.86" y="208.04" width="1.40" height="1.39" fill="#f2cf3c"/><rect x="505.26" y="208.04" width="1.40" height="1.39" fill="#fff8c7"/><rect x="506.65" y="208.04" width="1.40" height="1.39" fill="#bcc3e9"/><rect x="508.05" y="208.04" width="1.40" height="1.39" fill="#fff8cb"/><rect x="509.45" y="208.04" width="1.40" height="1.39" fill="#fafbfe"/><rect x="510.85" y="208.04" width="1.40" height="1.39" fill="#faea89"/><rect x="512.25" y="208.04" width="1.40" height="1.39" fill="#faeb8e"/><rect x="513.64" y="208.04" width="1.40" height="1.39" fill="#c1c8eb"/><rect x="515.04" y="208.04" width="1.40" height="1.39" fill="#eff2fb"/><rect x="516.44" y="208.04" width="1.40" height="1.39" fill="#7b85cd"/><rect x="517.84" y="208.04" width="1.40" height="1.39" fill="#fcf1a6"/><rect x="519.23" y="208.04" width="1.40" height="1.39" fill="#e6e9f8"/><rect x="520.63" y="208.04" width="1.40" height="1.39" fill="#f4f6fc"/><rect x="522.03" y="208.04" width="1.40" height="1.39" fill="#e4e8f7"/><rect x="523.42" y="208.04" width="1.40" height="1.39" fill="#fffbe2"/><rect x="524.82" y="208.04" width="1.40" height="1.39" fill="#f4f5fc"/><rect x="526.22" y="208.04" width="1.40" height="1.39" fill="#fffdf2"/><rect x="527.62" y="208.04" width="1.40" height="1.39" fill="#7b85cd"/><rect x="529.01" y="208.04" width="1.40" height="1.39" fill="#c9cfee"/><rect x="530.41" y="208.04" width="1.40" height="1.39" fill="#faec92"/><rect x="531.81" y="208.04" width="1.40" height="1.39" fill="#ebeef9"/><rect x="533.21" y="208.04" width="1.40" height="1.39" fill="#fdfdfe"/><rect x="534.61" y="208.04" width="1.40" height="1.39" fill="#f3d843"/><rect x="536.00" y="208.04" width="1.40" height="1.39" fill="#f2d33e"/><rect x="481.50" y="209.43" width="1.40" height="1.39" fill="#a7b0e1"/><rect x="482.90" y="209.43" width="1.40" height="1.39" fill="#e6eaf8"/><rect x="484.30" y="209.43" width="1.40" height="1.39" fill="#fffef3"/><rect x="485.69" y="209.43" width="1.40" height="1.39" fill="#f9fafd"/><rect x="487.09" y="209.43" width="1.40" height="1.39" fill="#f0c634"/><rect x="488.49" y="209.43" width="1.40" height="1.39" fill="#fffffc"/><rect x="491.28" y="209.43" width="1.40" height="1.39" fill="#fffef7"/><rect x="492.68" y="209.43" width="1.40" height="1.39" fill="#fffbdf"/><rect x="494.08" y="209.43" width="1.40" height="1.39" fill="#fffded"/><rect x="495.48" y="209.43" width="1.40" height="1.39" fill="#fffbe0"/><rect x="496.87" y="209.43" width="1.40" height="1.39" fill="#fff9d2"/><rect x="498.27" y="209.43" width="1.40" height="1.39" fill="#f1ca38"/><rect x="499.67" y="209.43" width="1.40" height="1.39" fill="#fff9d3"/><rect x="501.06" y="209.43" width="1.40" height="1.39" fill="#f4da45"/><rect x="502.46" y="209.43" width="1.40" height="1.39" fill="#fafbfe"/><rect x="503.86" y="209.43" width="1.40" height="1.39" fill="#f3d843"/><rect x="505.26" y="209.43" width="1.40" height="1.39" fill="#fbef9d"/><rect x="506.65" y="209.43" width="1.40" height="1.39" fill="#f7e366"/><rect x="508.05" y="209.43" width="1.40" height="1.39" fill="#e9ecf9"/><rect x="509.45" y="209.43" width="1.40" height="1.39" fill="#dce1f5"/><rect x="510.85" y="209.43" width="1.40" height="1.39" fill="#f9fafd"/><rect x="512.25" y="209.43" width="1.40" height="1.39" fill="#e8ecf9"/><rect x="513.64" y="209.43" width="1.40" height="1.39" fill="#fffefa"/><rect x="515.04" y="209.43" width="1.40" height="1.39" fill="#b3bae6"/><rect x="516.44" y="209.43" width="1.40" height="1.39" fill="#e3e7f7"/><rect x="517.84" y="209.43" width="1.40" height="1.39" fill="#c8cfee"/><rect x="519.23" y="209.43" width="1.40" height="1.39" fill="#fefeff"/><rect x="520.63" y="209.43" width="1.40" height="1.39" fill="#e8ebf8"/><rect x="522.03" y="209.43" width="1.40" height="1.39" fill="#8e98d8"/><rect x="523.42" y="209.43" width="1.40" height="1.39" fill="#f6e262"/><rect x="524.82" y="209.43" width="1.40" height="1.39" fill="#fffbdd"/><rect x="526.22" y="209.43" width="1.40" height="1.39" fill="#fffdf1"/><rect x="527.62" y="209.43" width="1.40" height="1.39" fill="#757fc9"/><rect x="529.01" y="209.43" width="1.40" height="1.39" fill="#e1e5f6"/><rect x="530.41" y="209.43" width="1.40" height="1.39" fill="#969fdb"/><rect x="531.81" y="209.43" width="1.40" height="1.39" fill="#fdfdfe"/><rect x="533.21" y="209.43" width="1.40" height="1.39" fill="#fffffc"/><rect x="534.61" y="209.43" width="1.40" height="1.39" fill="#f9fafd"/><rect x="536.00" y="209.43" width="1.40" height="1.39" fill="#fef5b9"/><rect x="481.50" y="210.82" width="1.40" height="1.39" fill="#f2f4fb"/><rect x="482.90" y="210.82" width="1.40" height="1.39" fill="#fffbdc"/><rect x="484.30" y="210.82" width="1.40" height="1.39" fill="#fffef7"/><rect x="485.69" y="210.82" width="1.40" height="1.39" fill="#fcef9f"/><rect x="487.09" y="210.82" width="1.40" height="1.39" fill="#fefeff"/><rect x="488.49" y="210.82" width="1.40" height="1.39" fill="#fffbe0"/><rect x="489.88" y="210.82" width="1.40" height="1.39" fill="#fffef6"/><rect x="491.28" y="210.82" width="1.40" height="1.39" fill="#f7e364"/><rect x="492.68" y="210.82" width="1.40" height="1.39" fill="#fffffd"/><rect x="494.08" y="210.82" width="1.40" height="1.39" fill="#ecaa1e"/><rect x="495.48" y="210.82" width="1.40" height="1.39" fill="#fffefa"/><rect x="496.87" y="210.82" width="1.40" height="1.39" fill="#e2e6f7"/><rect x="498.27" y="210.82" width="1.40" height="1.39" fill="#fffef9"/><rect x="499.67" y="210.82" width="1.40" height="1.39" fill="#c9cfee"/><rect x="501.06" y="210.82" width="1.40" height="1.39" fill="#fbed94"/><rect x="502.46" y="210.82" width="1.40" height="1.39" fill="#fffdf3"/><rect x="503.86" y="210.82" width="1.40" height="1.39" fill="#d6dbf3"/><rect x="505.26" y="210.82" width="1.40" height="1.39" fill="#fffad7"/><rect x="506.65" y="210.82" width="1.40" height="1.39" fill="#d7dcf3"/><rect x="508.05" y="210.82" width="1.40" height="1.39" fill="#a4ace0"/><rect x="509.45" y="210.82" width="1.40" height="1.39" fill="#fffad7"/><rect x="510.85" y="210.82" width="1.40" height="1.39" fill="#fffce5"/><rect x="512.25" y="210.82" width="1.40" height="1.39" fill="#f1cb39"/><rect x="513.64" y="210.82" width="1.40" height="1.39" fill="#f7e46b"/><rect x="515.04" y="210.82" width="1.40" height="1.39" fill="#efbb2b"/><rect x="516.44" y="210.82" width="1.40" height="1.39" fill="#e6eaf8"/><rect x="517.84" y="210.82" width="1.40" height="1.39" fill="#f8e777"/><rect x="519.23" y="210.82" width="1.40" height="1.39" fill="#6f78c5"/><rect x="520.63" y="210.82" width="1.40" height="1.39" fill="#bcc3e9"/><rect x="522.03" y="210.82" width="1.40" height="1.39" fill="#e5e9f8"/><rect x="523.42" y="210.82" width="1.40" height="1.39" fill="#f2f4fb"/><rect x="524.82" y="210.82" width="1.40" height="1.39" fill="#fefeff"/><rect x="526.22" y="210.82" width="1.40" height="1.39" fill="#fcfcfe"/><rect x="527.62" y="210.82" width="1.40" height="1.39" fill="#fffded"/><rect x="529.01" y="210.82" width="1.40" height="1.39" fill="#c5cbec"/><rect x="530.41" y="210.82" width="1.40" height="1.39" fill="#fffefa"/><rect x="531.81" y="210.82" width="1.40" height="1.39" fill="#edf0fa"/><rect x="533.21" y="210.82" width="1.40" height="1.39" fill="#fbef9d"/><rect x="534.61" y="210.82" width="1.40" height="1.39" fill="#f9fafd"/><rect x="536.00" y="210.82" width="1.40" height="1.39" fill="#f0f2fb"/><rect x="481.50" y="212.21" width="1.40" height="1.39" fill="#fff9d1"/><rect x="482.90" y="212.21" width="1.40" height="1.39" fill="#fff8c9"/><rect x="484.30" y="212.21" width="1.40" height="1.39" fill="#9ca5dd"/><rect x="485.69" y="212.21" width="1.40" height="1.39" fill="#fbef9e"/><rect x="487.09" y="212.21" width="1.40" height="1.39" fill="#faec92"/><rect x="488.49" y="212.21" width="1.40" height="1.39" fill="#fffefa"/><rect x="489.88" y="212.21" width="1.40" height="1.39" fill="#fef6bf"/><rect x="491.28" y="212.21" width="1.40" height="1.39" fill="#fef5bc"/><rect x="492.68" y="212.21" width="1.40" height="1.39" fill="#f2d13e"/><rect x="494.08" y="212.21" width="1.40" height="1.39" fill="#fffffb"/><rect x="495.48" y="212.21" width="1.40" height="1.39" fill="#fff7c5"/><rect x="496.87" y="212.21" width="1.40" height="1.39" fill="#fffdec"/><rect x="498.27" y="212.21" width="1.40" height="1.39" fill="#faeb8c"/><rect x="499.67" y="212.21" width="1.40" height="1.39" fill="#e5e9f8"/><rect x="501.06" y="212.21" width="1.40" height="1.39" fill="#fff8cb"/><rect x="502.46" y="212.21" width="1.40" height="1.39" fill="#f6e05a"/><rect x="503.86" y="212.21" width="1.40" height="1.39" fill="#fffad8"/><rect x="505.26" y="212.21" width="1.40" height="1.39" fill="#fffdf2"/><rect x="506.65" y="212.21" width="1.40" height="1.39" fill="#edeffa"/><rect x="508.05" y="212.21" width="1.40" height="1.39" fill="#f3f5fc"/><rect x="509.45" y="212.21" width="1.40" height="1.39" fill="#f9fafd"/><rect x="510.85" y="212.21" width="1.40" height="1.39" fill="#e7eaf8"/><rect x="512.25" y="212.21" width="1.40" height="1.39" fill="#e8ebf8"/><rect x="513.64" y="212.21" width="1.40" height="1.39" fill="#c2c8eb"/><rect x="515.04" y="212.21" width="1.40" height="1.39" fill="#fffdf2"/><rect x="516.44" y="212.21" width="1.40" height="1.39" fill="#f9e77b"/><rect x="517.84" y="212.21" width="1.40" height="1.39" fill="#f9ea87"/><rect x="519.23" y="212.21" width="1.40" height="1.39" fill="#f6e05b"/><rect x="520.63" y="212.21" width="1.40" height="1.39" fill="#f7f8fd"/><rect x="522.03" y="212.21" width="1.40" height="1.39" fill="#edf0fa"/><rect x="523.42" y="212.21" width="1.40" height="1.39" fill="#f7f8fd"/><rect x="524.82" y="212.21" width="1.40" height="1.39" fill="#d5daf2"/><rect x="526.22" y="212.21" width="1.40" height="1.39" fill="#fffef6"/><rect x="527.62" y="212.21" width="1.40" height="1.39" fill="#fffffb"/><rect x="529.01" y="212.21" width="1.40" height="1.39" fill="#fffefa"/><rect x="530.41" y="212.21" width="1.40" height="1.39" fill="#d8ddf3"/><rect x="531.81" y="212.21" width="1.40" height="1.39" fill="#e3e7f7"/><rect x="533.21" y="212.21" width="1.40" height="1.39" fill="#fafbfe"/><rect x="534.61" y="212.21" width="1.40" height="1.39" fill="#f3f4fb"/><rect x="536.00" y="212.21" width="1.40" height="1.39" fill="#99a2dc"/></g><rect x="481.5" y="158.0" width="55.90" height="55.6" fill="none" stroke="#111" stroke-width="1"/><line x1="489.60" y1="158.0" x2="489.60" y2="160.0" stroke="#111" stroke-width="0.8"/><line x1="489.60" y1="213.6" x2="489.60" y2="211.6" stroke="#111" stroke-width="0.8"/><line x1="481.5" y1="205.00" x2="483.5" y2="205.00" stroke="#111" stroke-width="0.8"/><line x1="537.4" y1="205.00" x2="535.4" y2="205.00" stroke="#111" stroke-width="0.8"/><text x="480.20" y="208.10" font-family='"Liberation Sans", sans-serif' font-size="8.6" text-anchor="end" fill="#111" font-weight="normal" font-style="normal" >-50</text><text x="489.60" y="223.00" font-family='"Liberation Sans", sans-serif' font-size="8.6" text-anchor="middle" fill="#111" font-weight="normal" font-style="normal" >-50</text><line x1="508.70" y1="158.0" x2="508.70" y2="160.0" stroke="#111" stroke-width="0.8"/><line x1="508.70" y1="213.6" x2="508.70" y2="211.6" stroke="#111" stroke-width="0.8"/><line x1="481.5" y1="185.90" x2="483.5" y2="185.90" stroke="#111" stroke-width="0.8"/><line x1="537.4" y1="185.90" x2="535.4" y2="185.90" stroke="#111" stroke-width="0.8"/><text x="480.20" y="189.00" font-family='"Liberation Sans", sans-serif' font-size="8.6" text-anchor="end" fill="#111" font-weight="normal" font-style="normal" >0</text><text x="508.70" y="223.00" font-family='"Liberation Sans", sans-serif' font-size="8.6" text-anchor="middle" fill="#111" font-weight="normal" font-style="normal" >0</text><line x1="527.80" y1="158.0" x2="527.80" y2="160.0" stroke="#111" stroke-width="0.8"/><line x1="527.80" y1="213.6" x2="527.80" y2="211.6" stroke="#111" stroke-width="0.8"/><line x1="481.5" y1="166.80" x2="483.5" y2="166.80" stroke="#111" stroke-width="0.8"/><line x1="537.4" y1="166.80" x2="535.4" y2="166.80" stroke="#111" stroke-width="0.8"/><text x="480.20" y="169.90" font-family='"Liberation Sans", sans-serif' font-size="8.6" text-anchor="end" fill="#111" font-weight="normal" font-style="normal" >50</text><text x="527.80" y="223.00" font-family='"Liberation Sans", sans-serif' font-size="8.6" text-anchor="middle" fill="#111" font-weight="normal" font-style="normal" >50</text><circle cx="489.8" cy="31.6" r="6.1" fill="#fff" stroke="#222" stroke-width="1.1"/><text x="489.80" y="35.50" font-family='"Liberation Sans", sans-serif' font-size="11" text-anchor="middle" fill="#222" font-weight="normal" font-style="normal" >1</text><circle cx="489.8" cy="98.6" r="6.1" fill="#fff" stroke="#4a7fd0" stroke-width="1.1"/><text x="489.80" y="102.50" font-family='"Liberation Sans", sans-serif' font-size="11" text-anchor="middle" fill="#4a7fd0" font-weight="normal" font-style="normal" >2</text><circle cx="489.8" cy="166.6" r="6.1" fill="#fff" stroke="#222" stroke-width="1.1"/><text x="489.80" y="170.50" font-family='"Liberation Sans", sans-serif' font-size="11" text-anchor="middle" fill="#222" font-weight="normal" font-style="normal" >3</text><rect x="481.2" y="15.4" width="56.2" height="5.1" fill="url(#cbar)" stroke="#555" stroke-width="0.6"/><text x="476.90" y="13.30" font-family='"Liberation Sans", sans-serif' font-size="8" text-anchor="start" fill="#111" font-weight="normal" font-style="normal" >-</text><text x="481.20" y="14.30" font-family='"Liberation Sans", sans-serif' font-size="7.5" text-anchor="start" fill="#111" font-weight="normal" font-style="normal" >1</text><text x="510.20" y="12.00" font-family='"Liberation Sans", sans-serif' font-size="7.5" text-anchor="middle" fill="#111" font-weight="normal" font-style="normal" >Density (a.u.)</text><text x="535.20" y="14.60" font-family='"Liberation Sans", sans-serif' font-size="7.5" text-anchor="start" fill="#111" font-weight="normal" font-style="normal" >1</text><text x="510.00" y="232.60" font-family='"Liberation Sans", sans-serif' font-size="10" text-anchor="middle" fill="#111" font-weight="normal" font-style="normal" >Position (a)</text><line x1="599.80" y1="214.4" x2="599.80" y2="208.4" stroke="#000" stroke-width="1.1"/><line x1="599.80" y1="6.5" x2="599.80" y2="12.5" stroke="#000" stroke-width="1.1"/><line x1="629.57" y1="214.4" x2="629.57" y2="211.20000000000002" stroke="#000" stroke-width="1.1"/><line x1="629.57" y1="6.5" x2="629.57" y2="9.7" stroke="#000" stroke-width="1.1"/><line x1="659.35" y1="214.4" x2="659.35" y2="208.4" stroke="#000" stroke-width="1.1"/><line x1="659.35" y1="6.5" x2="659.35" y2="12.5" stroke="#000" stroke-width="1.1"/><line x1="689.12" y1="214.4" x2="689.12" y2="211.20000000000002" stroke="#000" stroke-width="1.1"/><line x1="689.12" y1="6.5" x2="689.12" y2="9.7" stroke="#000" stroke-width="1.1"/><line x1="718.90" y1="214.4" x2="718.90" y2="208.4" stroke="#000" stroke-width="1.1"/><line x1="718.90" y1="6.5" x2="718.90" y2="12.5" stroke="#000" stroke-width="1.1"/><line x1="594.0" y1="214.30" x2="600.0" y2="214.30" stroke="#000" stroke-width="1.1"/><line x1="724.0" y1="214.30" x2="718.0" y2="214.30" stroke="#000" stroke-width="1.1"/><line x1="594.0" y1="179.60" x2="597.2" y2="179.60" stroke="#000" stroke-width="1.1"/><line x1="724.0" y1="179.60" x2="720.8" y2="179.60" stroke="#000" stroke-width="1.1"/><line x1="594.0" y1="144.90" x2="600.0" y2="144.90" stroke="#000" stroke-width="1.1"/><line x1="724.0" y1="144.90" x2="718.0" y2="144.90" stroke="#000" stroke-width="1.1"/><line x1="594.0" y1="110.20" x2="597.2" y2="110.20" stroke="#000" stroke-width="1.1"/><line x1="724.0" y1="110.20" x2="720.8" y2="110.20" stroke="#000" stroke-width="1.1"/><line x1="594.0" y1="75.50" x2="600.0" y2="75.50" stroke="#000" stroke-width="1.1"/><line x1="724.0" y1="75.50" x2="718.0" y2="75.50" stroke="#000" stroke-width="1.1"/><line x1="594.0" y1="40.80" x2="597.2" y2="40.80" stroke="#000" stroke-width="1.1"/><line x1="724.0" y1="40.80" x2="720.8" y2="40.80" stroke="#000" stroke-width="1.1"/><line x1="594.0" y1="6.10" x2="600.0" y2="6.10" stroke="#000" stroke-width="1.1"/><line x1="724.0" y1="6.10" x2="718.0" y2="6.10" stroke="#000" stroke-width="1.1"/><text x="589.90" y="14.90" font-family='"Liberation Sans", sans-serif' font-size="12" text-anchor="end" fill="#111" font-weight="normal" font-style="normal" >0.75</text><text x="590.00" y="79.80" font-family='"Liberation Sans", sans-serif' font-size="12" text-anchor="end" fill="#111" font-weight="normal" font-style="normal" >0.5</text><text x="590.00" y="149.10" font-family='"Liberation Sans", sans-serif' font-size="12" text-anchor="end" fill="#111" font-weight="normal" font-style="normal" >0.25</text><text x="589.50" y="218.60" font-family='"Liberation Sans", sans-serif' font-size="12" text-anchor="end" fill="#111" font-weight="normal" font-style="normal" >0</text><text x="599.60" y="229.20" font-family='"Liberation Sans", sans-serif' font-size="12" text-anchor="middle" fill="#111" font-weight="normal" font-style="normal" >0</text><text x="659.60" y="229.20" font-family='"Liberation Sans", sans-serif' font-size="12" text-anchor="middle" fill="#111" font-weight="normal" font-style="normal" >100</text><text x="715.30" y="229.20" font-family='"Liberation Sans", sans-serif' font-size="12" text-anchor="middle" fill="#111" font-weight="normal" font-style="normal" >200</text><text x="661.00" y="246.00" font-family='"Liberation Sans", sans-serif' font-size="13.4" text-anchor="middle" fill="#111" font-weight="normal" font-style="normal" >BO time (ms)</text><text transform="translate(558.3,108.0) rotate(-90)" font-family='"Liberation Sans", sans-serif' font-size="13.2" text-anchor="middle" fill="#111"><tspan letter-spacing="0.15">Populations </tspan>η<tspan font-size="9.5" dy="2.5">μ</tspan><tspan dy="-2.5" font-size="12">(t)</tspan></text><text x="697.00" y="24.40" font-family='"Liberation Sans", sans-serif' font-size="13.4" text-anchor="start" fill="#111" font-weight="normal" font-style="normal" >+<tspan font-style="italic">F</tspan></text><line x1="599.40" y1="128.60" x2="599.40" y2="140.60" stroke="#8fa0d8" stroke-width="1.1"/><line x1="600.00" y1="111.00" x2="600.00" y2="127.00" stroke="#8fa0d8" stroke-width="1.1"/><line x1="602.00" y1="107.60" x2="602.00" y2="119.60" stroke="#8fa0d8" stroke-width="1.1"/><line x1="603.60" y1="101.50" x2="603.60" y2="117.50" stroke="#8fa0d8" stroke-width="1.1"/><line x1="605.00" y1="108.00" x2="605.00" y2="120.00" stroke="#8fa0d8" stroke-width="1.1"/><line x1="609.30" y1="99.70" x2="609.30" y2="117.70" stroke="#8fa0d8" stroke-width="1.1"/><line x1="610.10" y1="93.50" x2="610.10" y2="109.50" stroke="#8fa0d8" stroke-width="1.1"/><line x1="610.90" y1="106.80" x2="610.90" y2="118.80" stroke="#8fa0d8" stroke-width="1.1"/><line x1="614.10" y1="96.90" x2="614.10" y2="110.90" stroke="#8fa0d8" stroke-width="1.1"/><line x1="616.00" y1="98.00" x2="616.00" y2="110.00" stroke="#8fa0d8" stroke-width="1.1"/><line x1="622.90" y1="77.60" x2="622.90" y2="93.60" stroke="#8fa0d8" stroke-width="1.1"/><line x1="625.30" y1="79.40" x2="625.30" y2="91.40" stroke="#8fa0d8" stroke-width="1.1"/><line x1="628.50" y1="76.90" x2="628.50" y2="88.90" stroke="#8fa0d8" stroke-width="1.1"/><line x1="630.10" y1="73.40" x2="630.10" y2="89.40" stroke="#8fa0d8" stroke-width="1.1"/><line x1="632.20" y1="76.30" x2="632.20" y2="86.30" stroke="#8fa0d8" stroke-width="1.1"/><line x1="635.60" y1="79.10" x2="635.60" y2="91.10" stroke="#8fa0d8" stroke-width="1.1"/><line x1="641.60" y1="83.10" x2="641.60" y2="99.10" stroke="#8fa0d8" stroke-width="1.1"/><line x1="647.50" y1="75.10" x2="647.50" y2="91.10" stroke="#8fa0d8" stroke-width="1.1"/><line x1="653.10" y1="70.10" x2="653.10" y2="86.10" stroke="#8fa0d8" stroke-width="1.1"/><line x1="659.10" y1="72.00" x2="659.10" y2="89.00" stroke="#8fa0d8" stroke-width="1.1"/><line x1="665.10" y1="69.50" x2="665.10" y2="81.50" stroke="#8fa0d8" stroke-width="1.1"/><line x1="671.10" y1="74.10" x2="671.10" y2="82.10" stroke="#8fa0d8" stroke-width="1.1"/><line x1="676.80" y1="70.50" x2="676.80" y2="76.50" stroke="#8fa0d8" stroke-width="1.1"/><line x1="682.80" y1="70.50" x2="682.80" y2="78.50" stroke="#8fa0d8" stroke-width="1.1"/><line x1="694.80" y1="71.60" x2="694.80" y2="83.60" stroke="#8fa0d8" stroke-width="1.1"/><line x1="706.80" y1="70.00" x2="706.80" y2="87.00" stroke="#8fa0d8" stroke-width="1.1"/><line x1="718.30" y1="71.60" x2="718.30" y2="75.60" stroke="#8fa0d8" stroke-width="1.1"/><circle cx="599.40" cy="134.60" r="3.4" fill="#b4c0e8" stroke="#8498d4" stroke-width="0.9"/><circle cx="600.00" cy="119.00" r="3.4" fill="#b4c0e8" stroke="#8498d4" stroke-width="0.9"/><circle cx="602.00" cy="113.60" r="3.4" fill="#b4c0e8" stroke="#8498d4" stroke-width="0.9"/><circle cx="603.60" cy="109.50" r="3.4" fill="#b4c0e8" stroke="#8498d4" stroke-width="0.9"/><circle cx="605.00" cy="114.00" r="3.4" fill="#b4c0e8" stroke="#8498d4" stroke-width="0.9"/><circle cx="609.30" cy="108.70" r="3.4" fill="#b4c0e8" stroke="#8498d4" stroke-width="0.9"/><circle cx="610.10" cy="101.50" r="3.4" fill="#b4c0e8" stroke="#8498d4" stroke-width="0.9"/><circle cx="610.90" cy="112.80" r="3.4" fill="#b4c0e8" stroke="#8498d4" stroke-width="0.9"/><circle cx="614.10" cy="103.90" r="3.4" fill="#b4c0e8" stroke="#8498d4" stroke-width="0.9"/><circle cx="616.00" cy="104.00" r="3.4" fill="#b4c0e8" stroke="#8498d4" stroke-width="0.9"/><circle cx="622.90" cy="85.60" r="3.4" fill="#b4c0e8" stroke="#8498d4" stroke-width="0.9"/><circle cx="625.30" cy="85.40" r="3.4" fill="#b4c0e8" stroke="#8498d4" stroke-width="0.9"/><circle cx="628.50" cy="82.90" r="3.4" fill="#b4c0e8" stroke="#8498d4" stroke-width="0.9"/><circle cx="630.10" cy="81.40" r="3.4" fill="#b4c0e8" stroke="#8498d4" stroke-width="0.9"/><circle cx="632.20" cy="81.30" r="3.4" fill="#b4c0e8" stroke="#8498d4" stroke-width="0.9"/><circle cx="635.60" cy="85.10" r="3.4" fill="#b4c0e8" stroke="#8498d4" stroke-width="0.9"/><circle cx="641.60" cy="91.10" r="3.4" fill="#b4c0e8" stroke="#8498d4" stroke-width="0.9"/><circle cx="647.50" cy="83.10" r="3.4" fill="#b4c0e8" stroke="#8498d4" stroke-width="0.9"/><circle cx="653.10" cy="78.10" r="3.4" fill="#b4c0e8" stroke="#8498d4" stroke-width="0.9"/><circle cx="659.10" cy="80.50" r="3.4" fill="#b4c0e8" stroke="#8498d4" stroke-width="0.9"/><circle cx="665.10" cy="75.50" r="3.4" fill="#b4c0e8" stroke="#8498d4" stroke-width="0.9"/><circle cx="671.10" cy="78.10" r="3.4" fill="#b4c0e8" stroke="#8498d4" stroke-width="0.9"/><circle cx="676.80" cy="73.50" r="3.4" fill="#b4c0e8" stroke="#8498d4" stroke-width="0.9"/><circle cx="682.80" cy="74.50" r="3.4" fill="#b4c0e8" stroke="#8498d4" stroke-width="0.9"/><circle cx="694.80" cy="77.60" r="3.4" fill="#b4c0e8" stroke="#8498d4" stroke-width="0.9"/><circle cx="706.80" cy="78.50" r="3.4" fill="#b4c0e8" stroke="#8498d4" stroke-width="0.9"/><circle cx="718.30" cy="73.60" r="3.4" fill="#b4c0e8" stroke="#8498d4" stroke-width="0.9"/><line x1="599.70" y1="23.00" x2="599.70" y2="50.00" stroke="#5a6cb4" stroke-width="1.1"/><line x1="600.70" y1="49.00" x2="600.70" y2="59.00" stroke="#5a6cb4" stroke-width="1.1"/><line x1="604.40" y1="53.30" x2="604.40" y2="65.30" stroke="#5a6cb4" stroke-width="1.1"/><line x1="601.70" y1="58.50" x2="601.70" y2="70.50" stroke="#5a6cb4" stroke-width="1.1"/><line x1="607.70" y1="52.50" x2="607.70" y2="76.50" stroke="#5a6cb4" stroke-width="1.1"/><line x1="603.30" y1="62.30" x2="603.30" y2="72.30" stroke="#5a6cb4" stroke-width="1.1"/><line x1="608.80" y1="64.20" x2="608.80" y2="80.20" stroke="#5a6cb4" stroke-width="1.1"/><line x1="609.70" y1="69.30" x2="609.70" y2="85.30" stroke="#5a6cb4" stroke-width="1.1"/><line x1="614.60" y1="72.70" x2="614.60" y2="86.70" stroke="#5a6cb4" stroke-width="1.1"/><line x1="610.10" y1="77.10" x2="610.10" y2="87.10" stroke="#5a6cb4" stroke-width="1.1"/><line x1="619.70" y1="88.30" x2="619.70" y2="100.30" stroke="#5a6cb4" stroke-width="1.1"/><line x1="617.30" y1="91.10" x2="617.30" y2="107.10" stroke="#5a6cb4" stroke-width="1.1"/><line x1="623.20" y1="91.50" x2="623.20" y2="103.50" stroke="#5a6cb4" stroke-width="1.1"/><line x1="628.50" y1="96.50" x2="628.50" y2="106.50" stroke="#5a6cb4" stroke-width="1.1"/><line x1="626.10" y1="101.90" x2="626.10" y2="113.90" stroke="#5a6cb4" stroke-width="1.1"/><line x1="631.80" y1="107.00" x2="631.80" y2="117.00" stroke="#5a6cb4" stroke-width="1.1"/><line x1="635.00" y1="104.50" x2="635.00" y2="112.50" stroke="#5a6cb4" stroke-width="1.1"/><line x1="641.80" y1="106.80" x2="641.80" y2="114.80" stroke="#5a6cb4" stroke-width="1.1"/><line x1="647.20" y1="113.60" x2="647.20" y2="121.60" stroke="#5a6cb4" stroke-width="1.1"/><line x1="653.40" y1="120.40" x2="653.40" y2="126.40" stroke="#5a6cb4" stroke-width="1.1"/><line x1="659.20" y1="117.20" x2="659.20" y2="125.20" stroke="#5a6cb4" stroke-width="1.1"/><line x1="664.60" y1="123.00" x2="664.60" y2="129.00" stroke="#5a6cb4" stroke-width="1.1"/><line x1="670.70" y1="122.70" x2="670.70" y2="130.70" stroke="#5a6cb4" stroke-width="1.1"/><line x1="676.90" y1="123.80" x2="676.90" y2="133.80" stroke="#5a6cb4" stroke-width="1.1"/><line x1="682.70" y1="124.60" x2="682.70" y2="134.60" stroke="#5a6cb4" stroke-width="1.1"/><line x1="694.20" y1="130.20" x2="694.20" y2="136.20" stroke="#5a6cb4" stroke-width="1.1"/><line x1="706.20" y1="132.00" x2="706.20" y2="138.00" stroke="#5a6cb4" stroke-width="1.1"/><line x1="717.80" y1="131.30" x2="717.80" y2="137.30" stroke="#5a6cb4" stroke-width="1.1"/><circle cx="599.70" cy="42.90" r="3.4" fill="#8797ca" stroke="#42569e" stroke-width="0.9"/><circle cx="600.70" cy="54.00" r="3.4" fill="#8797ca" stroke="#42569e" stroke-width="0.9"/><circle cx="604.40" cy="59.30" r="3.4" fill="#8797ca" stroke="#42569e" stroke-width="0.9"/><circle cx="601.70" cy="64.50" r="3.4" fill="#8797ca" stroke="#42569e" stroke-width="0.9"/><circle cx="607.70" cy="64.50" r="3.4" fill="#8797ca" stroke="#42569e" stroke-width="0.9"/><circle cx="603.30" cy="67.30" r="3.4" fill="#8797ca" stroke="#42569e" stroke-width="0.9"/><circle cx="608.80" cy="72.20" r="3.4" fill="#8797ca" stroke="#42569e" stroke-width="0.9"/><circle cx="609.70" cy="77.30" r="3.4" fill="#8797ca" stroke="#42569e" stroke-width="0.9"/><circle cx="614.60" cy="79.70" r="3.4" fill="#8797ca" stroke="#42569e" stroke-width="0.9"/><circle cx="610.10" cy="82.10" r="3.4" fill="#8797ca" stroke="#42569e" stroke-width="0.9"/><circle cx="619.70" cy="94.30" r="3.4" fill="#8797ca" stroke="#42569e" stroke-width="0.9"/><circle cx="617.30" cy="99.10" r="3.4" fill="#8797ca" stroke="#42569e" stroke-width="0.9"/><circle cx="623.20" cy="97.50" r="3.4" fill="#8797ca" stroke="#42569e" stroke-width="0.9"/><circle cx="628.50" cy="101.50" r="3.4" fill="#8797ca" stroke="#42569e" stroke-width="0.9"/><circle cx="626.10" cy="107.90" r="3.4" fill="#8797ca" stroke="#42569e" stroke-width="0.9"/><circle cx="631.80" cy="112.00" r="3.4" fill="#8797ca" stroke="#42569e" stroke-width="0.9"/><circle cx="635.00" cy="108.50" r="3.4" fill="#8797ca" stroke="#42569e" stroke-width="0.9"/><circle cx="641.80" cy="110.80" r="3.4" fill="#8797ca" stroke="#42569e" stroke-width="0.9"/><circle cx="647.20" cy="117.60" r="3.4" fill="#8797ca" stroke="#42569e" stroke-width="0.9"/><circle cx="653.40" cy="123.40" r="3.4" fill="#8797ca" stroke="#42569e" stroke-width="0.9"/><circle cx="659.20" cy="121.20" r="3.4" fill="#8797ca" stroke="#42569e" stroke-width="0.9"/><circle cx="664.60" cy="126.00" r="3.4" fill="#8797ca" stroke="#42569e" stroke-width="0.9"/><circle cx="670.70" cy="126.70" r="3.4" fill="#8797ca" stroke="#42569e" stroke-width="0.9"/><circle cx="676.90" cy="128.80" r="3.4" fill="#8797ca" stroke="#42569e" stroke-width="0.9"/><circle cx="682.70" cy="129.60" r="3.4" fill="#8797ca" stroke="#42569e" stroke-width="0.9"/><circle cx="694.20" cy="133.20" r="3.4" fill="#8797ca" stroke="#42569e" stroke-width="0.9"/><circle cx="706.20" cy="135.00" r="3.4" fill="#8797ca" stroke="#42569e" stroke-width="0.9"/><circle cx="717.80" cy="134.30" r="3.4" fill="#8797ca" stroke="#42569e" stroke-width="0.9"/><line x1="603.00" y1="174.70" x2="603.00" y2="182.70" stroke="#333" stroke-width="1.1"/><line x1="599.00" y1="182.10" x2="599.00" y2="192.10" stroke="#333" stroke-width="1.1"/><line x1="601.00" y1="185.20" x2="601.00" y2="195.20" stroke="#333" stroke-width="1.1"/><line x1="602.00" y1="180.20" x2="602.00" y2="198.20" stroke="#333" stroke-width="1.1"/><line x1="604.00" y1="181.00" x2="604.00" y2="191.00" stroke="#333" stroke-width="1.1"/><line x1="606.00" y1="185.00" x2="606.00" y2="195.00" stroke="#333" stroke-width="1.1"/><line x1="608.00" y1="182.00" x2="608.00" y2="192.00" stroke="#333" stroke-width="1.1"/><line x1="610.00" y1="172.00" x2="610.00" y2="184.00" stroke="#333" stroke-width="1.1"/><line x1="614.00" y1="176.00" x2="614.00" y2="186.00" stroke="#333" stroke-width="1.1"/><line x1="618.00" y1="165.00" x2="618.00" y2="175.00" stroke="#333" stroke-width="1.1"/><line x1="621.00" y1="166.00" x2="621.00" y2="174.00" stroke="#333" stroke-width="1.1"/><line x1="623.00" y1="177.70" x2="623.00" y2="185.70" stroke="#333" stroke-width="1.1"/><line x1="626.00" y1="165.00" x2="626.00" y2="175.00" stroke="#333" stroke-width="1.1"/><line x1="629.00" y1="177.50" x2="629.00" y2="185.50" stroke="#333" stroke-width="1.1"/><line x1="632.00" y1="156.00" x2="632.00" y2="179.00" stroke="#333" stroke-width="1.1"/><line x1="635.00" y1="166.00" x2="635.00" y2="176.00" stroke="#333" stroke-width="1.1"/><line x1="641.20" y1="160.10" x2="641.20" y2="168.10" stroke="#333" stroke-width="1.1"/><line x1="647.20" y1="156.30" x2="647.20" y2="174.30" stroke="#333" stroke-width="1.1"/><line x1="653.20" y1="152.60" x2="653.20" y2="175.60" stroke="#333" stroke-width="1.1"/><line x1="659.30" y1="161.10" x2="659.30" y2="167.10" stroke="#333" stroke-width="1.1"/><line x1="665.30" y1="161.60" x2="665.30" y2="167.60" stroke="#333" stroke-width="1.1"/><line x1="670.80" y1="158.20" x2="670.80" y2="164.20" stroke="#333" stroke-width="1.1"/><line x1="676.60" y1="159.90" x2="676.60" y2="165.90" stroke="#333" stroke-width="1.1"/><line x1="682.90" y1="154.20" x2="682.90" y2="168.20" stroke="#333" stroke-width="1.1"/><line x1="694.90" y1="151.40" x2="694.90" y2="157.40" stroke="#333" stroke-width="1.1"/><line x1="706.70" y1="145.90" x2="706.70" y2="159.10" stroke="#333" stroke-width="1.1"/><line x1="718.30" y1="153.90" x2="718.30" y2="159.90" stroke="#333" stroke-width="1.1"/><circle cx="603.00" cy="178.70" r="3.4" fill="#c4c4c4" stroke="#333" stroke-width="0.9"/><circle cx="599.00" cy="187.10" r="3.4" fill="#c4c4c4" stroke="#333" stroke-width="0.9"/><circle cx="601.00" cy="190.20" r="3.4" fill="#c4c4c4" stroke="#333" stroke-width="0.9"/><circle cx="602.00" cy="189.20" r="3.4" fill="#c4c4c4" stroke="#333" stroke-width="0.9"/><circle cx="604.00" cy="186.00" r="3.4" fill="#c4c4c4" stroke="#333" stroke-width="0.9"/><circle cx="606.00" cy="190.00" r="3.4" fill="#c4c4c4" stroke="#333" stroke-width="0.9"/><circle cx="608.00" cy="187.00" r="3.4" fill="#c4c4c4" stroke="#333" stroke-width="0.9"/><circle cx="610.00" cy="178.00" r="3.4" fill="#c4c4c4" stroke="#333" stroke-width="0.9"/><circle cx="614.00" cy="181.00" r="3.4" fill="#c4c4c4" stroke="#333" stroke-width="0.9"/><circle cx="618.00" cy="170.00" r="3.4" fill="#c4c4c4" stroke="#333" stroke-width="0.9"/><circle cx="621.00" cy="170.00" r="3.4" fill="#c4c4c4" stroke="#333" stroke-width="0.9"/><circle cx="623.00" cy="181.70" r="3.4" fill="#c4c4c4" stroke="#333" stroke-width="0.9"/><circle cx="626.00" cy="170.00" r="3.4" fill="#c4c4c4" stroke="#333" stroke-width="0.9"/><circle cx="629.00" cy="181.50" r="3.4" fill="#c4c4c4" stroke="#333" stroke-width="0.9"/><circle cx="632.00" cy="170.00" r="3.4" fill="#c4c4c4" stroke="#333" stroke-width="0.9"/><circle cx="635.00" cy="171.00" r="3.4" fill="#c4c4c4" stroke="#333" stroke-width="0.9"/><circle cx="641.20" cy="164.10" r="3.4" fill="#c4c4c4" stroke="#333" stroke-width="0.9"/><circle cx="647.20" cy="165.30" r="3.4" fill="#c4c4c4" stroke="#333" stroke-width="0.9"/><circle cx="653.20" cy="164.10" r="3.4" fill="#c4c4c4" stroke="#333" stroke-width="0.9"/><circle cx="659.30" cy="164.10" r="3.4" fill="#c4c4c4" stroke="#333" stroke-width="0.9"/><circle cx="665.30" cy="164.60" r="3.4" fill="#c4c4c4" stroke="#333" stroke-width="0.9"/><circle cx="670.80" cy="161.20" r="3.4" fill="#c4c4c4" stroke="#333" stroke-width="0.9"/><circle cx="676.60" cy="162.90" r="3.4" fill="#c4c4c4" stroke="#333" stroke-width="0.9"/><circle cx="682.90" cy="161.20" r="3.4" fill="#c4c4c4" stroke="#333" stroke-width="0.9"/><circle cx="694.90" cy="154.40" r="3.4" fill="#c4c4c4" stroke="#333" stroke-width="0.9"/><circle cx="706.70" cy="152.50" r="3.4" fill="#c4c4c4" stroke="#333" stroke-width="0.9"/><circle cx="718.30" cy="156.90" r="3.4" fill="#c4c4c4" stroke="#333" stroke-width="0.9"/><polyline points="724.0,214.4 594.0,214.4 594.0,6.5 724.0,6.5 724.0,214.4" fill="none" stroke="#000" stroke-width="1.4"/></svg>
</body></html>
